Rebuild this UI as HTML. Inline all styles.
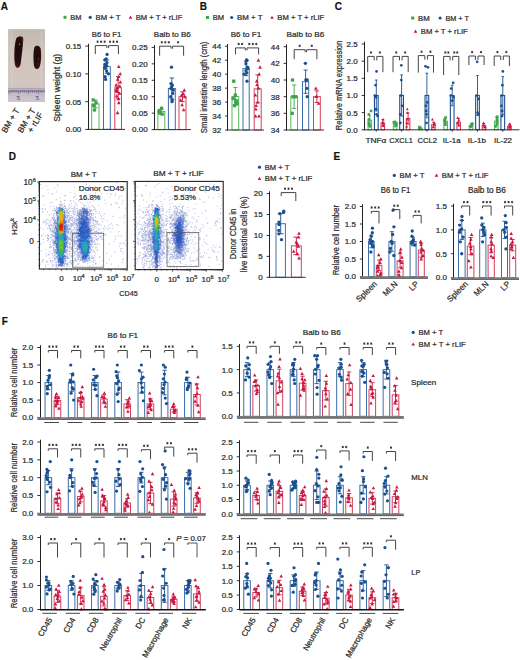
<!DOCTYPE html>
<html><head><meta charset="utf-8"><style>
html,body{margin:0;padding:0;background:#fff;}
body{width:520px;height:660px;overflow:hidden;font-family:"Liberation Sans", sans-serif;}
svg{display:block;}
</style></head><body>
<svg width="520" height="660" viewBox="0 0 520 660" font-family='"Liberation Sans", sans-serif'>
<style>text{stroke:#2a2a2a;stroke-width:0.22px;stroke-linejoin:round}</style>
<rect width="520" height="660" fill="#fff"/>
<text x="0.8" y="10.2" font-size="10" text-anchor="start" fill="#111" font-weight="bold">A</text>
<text x="199.8" y="9.8" font-size="10" text-anchor="start" fill="#111" font-weight="bold">B</text>
<text x="334.8" y="10.4" font-size="10" text-anchor="start" fill="#111" font-weight="bold">C</text>
<text x="8.8" y="160.4" font-size="10" text-anchor="start" fill="#111" font-weight="bold">D</text>
<text x="333.4" y="159.8" font-size="10" text-anchor="start" fill="#111" font-weight="bold">E</text>
<text x="1.8" y="325.2" font-size="10" text-anchor="start" fill="#111" font-weight="bold">F</text>
<rect x="63.5" y="15.8" width="3" height="3" fill="#3fa34d"/>
<text x="70.3" y="19.9" font-size="7.6" text-anchor="start" fill="#2a2a2a" textLength="11.2" lengthAdjust="spacingAndGlyphs">BM</text>
<circle cx="90.2" cy="17.3" r="1.6" fill="#1c4f8f"/>
<text x="95.5" y="19.9" font-size="7.6" text-anchor="start" fill="#2a2a2a" textLength="25" lengthAdjust="spacingAndGlyphs">BM + T</text>
<path d="M130.5 15.48L132.26 18.67L128.74 18.67Z" fill="#c8163e"/>
<text x="135.8" y="19.9" font-size="7.6" text-anchor="start" fill="#2a2a2a" textLength="46.5" lengthAdjust="spacingAndGlyphs">BM + T + rLIF</text>
<rect x="206" y="16" width="3" height="3" fill="#3fa34d"/>
<text x="212.8" y="20.1" font-size="7.6" text-anchor="start" fill="#2a2a2a" textLength="11.4" lengthAdjust="spacingAndGlyphs">BM</text>
<circle cx="231.7" cy="17.5" r="1.6" fill="#1c4f8f"/>
<text x="237" y="20.1" font-size="7.6" text-anchor="start" fill="#2a2a2a" textLength="25.5" lengthAdjust="spacingAndGlyphs">BM + T</text>
<path d="M272 15.68L273.76 18.87L270.24 18.87Z" fill="#c8163e"/>
<text x="277.3" y="20.1" font-size="7.6" text-anchor="start" fill="#2a2a2a" textLength="47" lengthAdjust="spacingAndGlyphs">BM + T + rLIF</text>
<rect x="411.2" y="16.5" width="3" height="3" fill="#3fa34d"/>
<text x="418" y="20.6" font-size="7.6" text-anchor="start" fill="#2a2a2a" textLength="11.7" lengthAdjust="spacingAndGlyphs">BM</text>
<circle cx="440.1" cy="18" r="1.6" fill="#1c4f8f"/>
<text x="445.4" y="20.6" font-size="7.6" text-anchor="start" fill="#2a2a2a" textLength="23.5" lengthAdjust="spacingAndGlyphs">BM + T</text>
<path d="M415.5 29.58L417.26 32.77L413.74 32.77Z" fill="#c8163e"/>
<text x="420.8" y="34" font-size="7.6" text-anchor="start" fill="#2a2a2a" textLength="46.9" lengthAdjust="spacingAndGlyphs">BM + T + rLIF</text>
<text x="106.6" y="36.6" font-size="8" text-anchor="middle" fill="#2a2a2a" textLength="29.6" lengthAdjust="spacingAndGlyphs">B6 to F1</text>
<text x="172.3" y="36.6" font-size="8" text-anchor="middle" fill="#2a2a2a" textLength="37" lengthAdjust="spacingAndGlyphs">Balb to B6</text>
<text x="245.9" y="36.6" font-size="8" text-anchor="middle" fill="#2a2a2a" textLength="30.5" lengthAdjust="spacingAndGlyphs">B6 to F1</text>
<text x="305.5" y="36.6" font-size="8" text-anchor="middle" fill="#2a2a2a" textLength="37.8" lengthAdjust="spacingAndGlyphs">Balb to B6</text>
<defs>
<linearGradient id="ph" x1="0" y1="0" x2="0" y2="1">
<stop offset="0" stop-color="#c2b8ae"/><stop offset="0.3" stop-color="#cdc3ba"/><stop offset="0.7" stop-color="#d3c6c0"/><stop offset="1" stop-color="#cdbab8"/>
</linearGradient>
<linearGradient id="phh" x1="0" y1="0" x2="1" y2="0">
<stop offset="0" stop-color="#b9ada8" stop-opacity="0.5"/><stop offset="0.15" stop-color="#fff" stop-opacity="0"/><stop offset="0.85" stop-color="#fff" stop-opacity="0"/><stop offset="1" stop-color="#b0a5a0" stop-opacity="0.45"/>
</linearGradient>
<radialGradient id="sp1" cx="0.45" cy="0.45" r="0.6">
<stop offset="0" stop-color="#1c0606"/><stop offset="0.7" stop-color="#280a0b"/><stop offset="1" stop-color="#4e1a1c"/>
</radialGradient>
<filter id="bl" x="-20%" y="-20%" width="140%" height="140%"><feGaussianBlur stdDeviation="0.6"/></filter>
<filter id="bl2" x="-20%" y="-20%" width="140%" height="140%"><feGaussianBlur stdDeviation="0.35"/></filter>
</defs>
<rect x="8.3" y="29.1" width="36.5" height="72.6" fill="url(#ph)" stroke="none" stroke-width="1"/>
<rect x="8.3" y="29.1" width="36.5" height="72.6" fill="url(#phh)" stroke="none" stroke-width="1"/>
<g filter="url(#bl2)">
<path d="M16.2 38.5 C18.5 35.5 23.5 35.2 23.3 39 C23.0 46 21.6 56 20.8 63 C20.2 68.5 16.5 69.5 15.0 65 C13.8 58 14.2 45 16.2 38.5 Z" fill="url(#sp1)"/>
<path d="M34.5 47.0 C36.5 44.6 40.5 45.5 40.9 49.5 C41.4 55 41.3 62 39.8 66.5 C38.6 70 34.6 70 34.0 66 C33.2 60 33.2 51 34.5 47.0 Z" fill="url(#sp1)"/>
</g>
<circle cx="19.6" cy="44.2" r="0.6" fill="#e8d8d0" opacity="0.8"/>
<circle cx="38.5" cy="59" r="0.5" fill="#c8a8a0" opacity="0.7"/>
<circle cx="38" cy="64" r="0.5" fill="#a08080" opacity="0.6"/>
<rect x="8.3" y="88.2" width="36.5" height="13.4" fill="#c4bcc8" stroke="none" stroke-width="1"/>
<rect x="8.3" y="88.2" width="36.5" height="1.2" fill="#a9a0b8" stroke="none" stroke-width="1"/>
<g stroke="#4a4560" stroke-width="0.55">
<line x1="9" y1="90.5" x2="9" y2="94.1" stroke="#4a4560" stroke-width="0.55"/>
<line x1="10.95" y1="90.5" x2="10.95" y2="92.7" stroke="#4a4560" stroke-width="0.55"/>
<line x1="12.9" y1="90.5" x2="12.9" y2="92.7" stroke="#4a4560" stroke-width="0.55"/>
<line x1="14.85" y1="90.5" x2="14.85" y2="92.7" stroke="#4a4560" stroke-width="0.55"/>
<line x1="16.8" y1="90.5" x2="16.8" y2="92.7" stroke="#4a4560" stroke-width="0.55"/>
<line x1="18.75" y1="90.5" x2="18.75" y2="94.1" stroke="#4a4560" stroke-width="0.55"/>
<line x1="20.7" y1="90.5" x2="20.7" y2="92.7" stroke="#4a4560" stroke-width="0.55"/>
<line x1="22.65" y1="90.5" x2="22.65" y2="92.7" stroke="#4a4560" stroke-width="0.55"/>
<line x1="24.6" y1="90.5" x2="24.6" y2="92.7" stroke="#4a4560" stroke-width="0.55"/>
<line x1="26.55" y1="90.5" x2="26.55" y2="92.7" stroke="#4a4560" stroke-width="0.55"/>
<line x1="28.5" y1="90.5" x2="28.5" y2="94.1" stroke="#4a4560" stroke-width="0.55"/>
<line x1="30.45" y1="90.5" x2="30.45" y2="92.7" stroke="#4a4560" stroke-width="0.55"/>
<line x1="32.4" y1="90.5" x2="32.4" y2="92.7" stroke="#4a4560" stroke-width="0.55"/>
<line x1="34.35" y1="90.5" x2="34.35" y2="92.7" stroke="#4a4560" stroke-width="0.55"/>
<line x1="36.3" y1="90.5" x2="36.3" y2="92.7" stroke="#4a4560" stroke-width="0.55"/>
<line x1="38.25" y1="90.5" x2="38.25" y2="94.1" stroke="#4a4560" stroke-width="0.55"/>
<line x1="40.2" y1="90.5" x2="40.2" y2="92.7" stroke="#4a4560" stroke-width="0.55"/>
<line x1="42.15" y1="90.5" x2="42.15" y2="92.7" stroke="#4a4560" stroke-width="0.55"/>
<line x1="44.1" y1="90.5" x2="44.1" y2="92.7" stroke="#4a4560" stroke-width="0.55"/>
</g>
<rect x="8.3" y="90.4" width="36.5" height="1.3" fill="#504a68" stroke="none" stroke-width="1" opacity="0.55"/>
<text x="18.4" y="100" font-size="5.6" text-anchor="middle" fill="#2a2540" style="stroke:#2a2540">5</text>
<text x="37.2" y="100" font-size="5.6" text-anchor="middle" fill="#2a2540" style="stroke:#2a2540">5</text>
<rect x="8.3" y="96.5" width="36.5" height="5.2" fill="#d6cdd0" stroke="none" stroke-width="1" opacity="0.45"/>
<text x="19.8" y="110.4" font-size="8.3" text-anchor="end" fill="#2a2a2a" transform="rotate(-59 19.8 110.4)">BM + T</text>
<text x="35.8" y="110.4" font-size="8.3" text-anchor="end" fill="#2a2a2a" transform="rotate(-59 35.8 110.4)">BM + T</text>
<text x="43.4" y="114.4" font-size="8.3" text-anchor="end" fill="#2a2a2a" transform="rotate(-59 43.4 114.4)">+ rLIF</text>
<text x="59.7" y="87.8" font-size="8.2" text-anchor="middle" fill="#2a2a2a" transform="rotate(-90 59.7 87.8)" textLength="68" lengthAdjust="spacingAndGlyphs">Spleen weight (g)</text>
<rect x="91.7" y="103.85" width="7.3" height="25.55" fill="#fff" stroke="#5cb85c" stroke-width="1"/>
<line x1="95.35" y1="99.97" x2="95.35" y2="107.74" stroke="#3fa34d" stroke-width="0.9"/>
<line x1="93.03" y1="99.97" x2="97.67" y2="99.97" stroke="#3fa34d" stroke-width="0.9"/>
<line x1="93.03" y1="107.74" x2="97.67" y2="107.74" stroke="#3fa34d" stroke-width="0.9"/>
<rect x="92.82" y="108.31" width="3.3" height="3.3" fill="#3fa34d"/>
<rect x="91.96" y="103.87" width="3.3" height="3.3" fill="#3fa34d"/>
<rect x="94.45" y="101.09" width="3.3" height="3.3" fill="#3fa34d"/>
<rect x="91.57" y="98.32" width="3.3" height="3.3" fill="#3fa34d"/>
<rect x="103.5" y="66.65" width="6.8" height="62.75" fill="#fff" stroke="#3b6ea8" stroke-width="1"/>
<line x1="106.9" y1="59.98" x2="106.9" y2="73.31" stroke="#1c4f8f" stroke-width="0.9"/>
<line x1="104.72" y1="59.98" x2="109.08" y2="59.98" stroke="#1c4f8f" stroke-width="0.9"/>
<line x1="104.72" y1="73.31" x2="109.08" y2="73.31" stroke="#1c4f8f" stroke-width="0.9"/>
<circle cx="107.07" cy="54.43" r="1.65" fill="#1c4f8f"/>
<circle cx="106.27" cy="58.87" r="1.65" fill="#1c4f8f"/>
<circle cx="104.83" cy="59.98" r="1.65" fill="#1c4f8f"/>
<circle cx="106.93" cy="62.76" r="1.65" fill="#1c4f8f"/>
<circle cx="104.74" cy="64.43" r="1.65" fill="#1c4f8f"/>
<circle cx="106.59" cy="65.54" r="1.65" fill="#1c4f8f"/>
<circle cx="104.89" cy="67.2" r="1.65" fill="#1c4f8f"/>
<circle cx="104.98" cy="68.31" r="1.65" fill="#1c4f8f"/>
<circle cx="106.55" cy="71.09" r="1.65" fill="#1c4f8f"/>
<circle cx="108.43" cy="73.87" r="1.65" fill="#1c4f8f"/>
<circle cx="105.14" cy="76.64" r="1.65" fill="#1c4f8f"/>
<circle cx="105.6" cy="79.42" r="1.65" fill="#1c4f8f"/>
<rect x="114.8" y="87.75" width="6.7" height="41.65" fill="#fff" stroke="#d2405e" stroke-width="1"/>
<line x1="118.15" y1="76.64" x2="118.15" y2="98.86" stroke="#c8163e" stroke-width="0.9"/>
<line x1="115.99" y1="76.64" x2="120.31" y2="76.64" stroke="#c8163e" stroke-width="0.9"/>
<line x1="115.99" y1="98.86" x2="120.31" y2="98.86" stroke="#c8163e" stroke-width="0.9"/>
<path d="M118.74 64.77L120.55 68.06L116.92 68.06Z" fill="#c8163e"/>
<path d="M120.22 71.99L122.03 75.28L118.4 75.28Z" fill="#c8163e"/>
<path d="M118.51 74.76L120.32 78.05L116.69 78.05Z" fill="#c8163e"/>
<path d="M117.67 77.54L119.49 80.83L115.86 80.83Z" fill="#c8163e"/>
<path d="M120.35 80.32L122.17 83.61L118.54 83.61Z" fill="#c8163e"/>
<path d="M116.06 83.09L117.87 86.38L114.24 86.38Z" fill="#c8163e"/>
<path d="M119.81 84.2L121.62 87.49L117.99 87.49Z" fill="#c8163e"/>
<path d="M117.18 85.87L118.99 89.16L115.36 89.16Z" fill="#c8163e"/>
<path d="M116.51 87.53L118.32 90.83L114.69 90.83Z" fill="#c8163e"/>
<path d="M116.38 88.65L118.2 91.94L114.57 91.94Z" fill="#c8163e"/>
<path d="M117.27 89.76L119.08 93.05L115.45 93.05Z" fill="#c8163e"/>
<path d="M119.61 91.42L121.43 94.71L117.8 94.71Z" fill="#c8163e"/>
<path d="M116.67 94.2L118.49 97.49L114.86 97.49Z" fill="#c8163e"/>
<path d="M118.53 96.98L120.34 100.27L116.71 100.27Z" fill="#c8163e"/>
<path d="M118.79 100.86L120.61 104.15L116.98 104.15Z" fill="#c8163e"/>
<path d="M117.56 110.86L119.38 114.15L115.75 114.15Z" fill="#c8163e"/>
<line x1="88.5" y1="43.8" x2="88.5" y2="129.9" stroke="#222" stroke-width="1"/>
<line x1="85.3" y1="129.4" x2="88" y2="129.4" stroke="#333" stroke-width="1"/>
<text x="81.3" y="132.28" font-size="8" text-anchor="end" fill="#2a2a2a">0.00</text>
<line x1="85.3" y1="101.63" x2="88" y2="101.63" stroke="#333" stroke-width="1"/>
<text x="81.3" y="104.51" font-size="8" text-anchor="end" fill="#2a2a2a">0.05</text>
<line x1="85.3" y1="73.87" x2="88" y2="73.87" stroke="#333" stroke-width="1"/>
<text x="81.3" y="76.75" font-size="8" text-anchor="end" fill="#2a2a2a">0.10</text>
<line x1="85.3" y1="46.1" x2="88" y2="46.1" stroke="#333" stroke-width="1"/>
<text x="81.3" y="48.98" font-size="8" text-anchor="end" fill="#2a2a2a">0.15</text>
<line x1="87.5" y1="129.4" x2="125" y2="129.4" stroke="#333" stroke-width="1"/>
<path d="M95.3 54.1V45.6H106.9V48.1" fill="none" stroke="#444" stroke-width="1"/>
<path d="M97.6 40.55L97.6 42.85M96.6 41.12L98.6 42.28M98.6 41.12L96.6 42.28M101.1 40.55L101.1 42.85M100.1 41.12L102.1 42.28M102.1 41.12L100.1 42.28M104.6 40.55L104.6 42.85M103.6 41.12L105.6 42.28M105.6 41.12L103.6 42.28" stroke="#222" stroke-width="0.8" fill="none"/>
<path d="M108.6 48.1V45.6H118.4V54.1" fill="none" stroke="#444" stroke-width="1"/>
<path d="M110 40.55L110 42.85M109 41.12L111 42.28M111 41.12L109 42.28M113.5 40.55L113.5 42.85M112.5 41.12L114.5 42.28M114.5 41.12L112.5 42.28M117 40.55L117 42.85M116 41.12L118 42.28M118 41.12L116 42.28" stroke="#222" stroke-width="0.8" fill="none"/>
<rect x="157.9" y="111.52" width="6.9" height="18.08" fill="#fff" stroke="#5cb85c" stroke-width="1"/>
<line x1="161.35" y1="109.54" x2="161.35" y2="113.49" stroke="#3fa34d" stroke-width="0.9"/>
<line x1="159.14" y1="109.54" x2="163.56" y2="109.54" stroke="#3fa34d" stroke-width="0.9"/>
<line x1="159.14" y1="113.49" x2="163.56" y2="113.49" stroke="#3fa34d" stroke-width="0.9"/>
<rect x="159.93" y="106.58" width="3.3" height="3.3" fill="#3fa34d"/>
<rect x="157.63" y="108.88" width="3.3" height="3.3" fill="#3fa34d"/>
<rect x="157.61" y="110.52" width="3.3" height="3.3" fill="#3fa34d"/>
<rect x="158.31" y="111.51" width="3.3" height="3.3" fill="#3fa34d"/>
<rect x="160.56" y="112.5" width="3.3" height="3.3" fill="#3fa34d"/>
<rect x="168.4" y="88.5" width="6.9" height="41.1" fill="#fff" stroke="#3b6ea8" stroke-width="1"/>
<line x1="171.85" y1="77.98" x2="171.85" y2="99.02" stroke="#1c4f8f" stroke-width="0.9"/>
<line x1="169.64" y1="77.98" x2="174.06" y2="77.98" stroke="#1c4f8f" stroke-width="0.9"/>
<line x1="169.64" y1="99.02" x2="174.06" y2="99.02" stroke="#1c4f8f" stroke-width="0.9"/>
<circle cx="171.51" cy="67.13" r="1.65" fill="#1c4f8f"/>
<circle cx="170.97" cy="83.57" r="1.65" fill="#1c4f8f"/>
<circle cx="172.26" cy="85.21" r="1.65" fill="#1c4f8f"/>
<circle cx="171.63" cy="86.86" r="1.65" fill="#1c4f8f"/>
<circle cx="170.9" cy="88.5" r="1.65" fill="#1c4f8f"/>
<circle cx="173.25" cy="90.14" r="1.65" fill="#1c4f8f"/>
<circle cx="172.79" cy="93.43" r="1.65" fill="#1c4f8f"/>
<circle cx="170.64" cy="96.72" r="1.65" fill="#1c4f8f"/>
<circle cx="172.2" cy="100.01" r="1.65" fill="#1c4f8f"/>
<circle cx="171.97" cy="101.65" r="1.65" fill="#1c4f8f"/>
<rect x="179" y="96.72" width="7" height="32.88" fill="#fff" stroke="#d2405e" stroke-width="1"/>
<line x1="182.5" y1="91.79" x2="182.5" y2="101.65" stroke="#c8163e" stroke-width="0.9"/>
<line x1="180.26" y1="91.79" x2="184.74" y2="91.79" stroke="#c8163e" stroke-width="0.9"/>
<line x1="180.26" y1="101.65" x2="184.74" y2="101.65" stroke="#c8163e" stroke-width="0.9"/>
<path d="M184.3 88.26L186.12 91.55L182.49 91.55Z" fill="#c8163e"/>
<path d="M183.6 92.21L185.42 95.5L181.79 95.5Z" fill="#c8163e"/>
<path d="M181.48 93.52L183.3 96.82L179.67 96.82Z" fill="#c8163e"/>
<path d="M184.8 94.84L186.62 98.13L182.99 98.13Z" fill="#c8163e"/>
<path d="M180.67 98.13L182.48 101.42L178.85 101.42Z" fill="#c8163e"/>
<path d="M182.11 103.06L183.92 106.35L180.29 106.35Z" fill="#c8163e"/>
<path d="M183.73 107.99L185.55 111.28L181.92 111.28Z" fill="#c8163e"/>
<line x1="154.5" y1="45.1" x2="154.5" y2="130.1" stroke="#222" stroke-width="1"/>
<line x1="151.7" y1="129.6" x2="154.4" y2="129.6" stroke="#333" stroke-width="1"/>
<text x="147.7" y="132.48" font-size="8" text-anchor="end" fill="#2a2a2a">0.00</text>
<line x1="151.7" y1="113.16" x2="154.4" y2="113.16" stroke="#333" stroke-width="1"/>
<text x="147.7" y="116.04" font-size="8" text-anchor="end" fill="#2a2a2a">0.05</text>
<line x1="151.7" y1="96.72" x2="154.4" y2="96.72" stroke="#333" stroke-width="1"/>
<text x="147.7" y="99.6" font-size="8" text-anchor="end" fill="#2a2a2a">0.10</text>
<line x1="151.7" y1="80.28" x2="154.4" y2="80.28" stroke="#333" stroke-width="1"/>
<text x="147.7" y="83.16" font-size="8" text-anchor="end" fill="#2a2a2a">0.15</text>
<line x1="151.7" y1="63.84" x2="154.4" y2="63.84" stroke="#333" stroke-width="1"/>
<text x="147.7" y="66.72" font-size="8" text-anchor="end" fill="#2a2a2a">0.20</text>
<line x1="151.7" y1="47.4" x2="154.4" y2="47.4" stroke="#333" stroke-width="1"/>
<text x="147.7" y="50.28" font-size="8" text-anchor="end" fill="#2a2a2a">0.25</text>
<line x1="153.9" y1="129.6" x2="191" y2="129.6" stroke="#333" stroke-width="1"/>
<path d="M159.6 55.7V46.2H171V48.7" fill="none" stroke="#444" stroke-width="1"/>
<path d="M161.8 41.15L161.8 43.45M160.8 41.73L162.8 42.88M162.8 41.73L160.8 42.88M165.3 41.15L165.3 43.45M164.3 41.73L166.3 42.88M166.3 41.73L164.3 42.88M168.8 41.15L168.8 43.45M167.8 41.73L169.8 42.88M169.8 41.73L167.8 42.88" stroke="#222" stroke-width="0.8" fill="none"/>
<path d="M172.6 48.7V46.2H183.6V55.7" fill="none" stroke="#444" stroke-width="1"/>
<path d="M178.1 41.15L178.1 43.45M177.1 41.73L179.1 42.88M179.1 41.73L177.1 42.88" stroke="#222" stroke-width="0.8" fill="none"/>
<text x="207" y="87.5" font-size="8.2" text-anchor="middle" fill="#2a2a2a" transform="rotate(-90 207 87.5)" textLength="91.5" lengthAdjust="spacingAndGlyphs">Small intestine length (cm)</text>
<rect x="232" y="96.52" width="6.7" height="33.48" fill="#fff" stroke="#5cb85c" stroke-width="1"/>
<line x1="235.35" y1="87.45" x2="235.35" y2="105.59" stroke="#3fa34d" stroke-width="0.9"/>
<line x1="233.19" y1="87.45" x2="237.51" y2="87.45" stroke="#3fa34d" stroke-width="0.9"/>
<line x1="233.19" y1="105.59" x2="237.51" y2="105.59" stroke="#3fa34d" stroke-width="0.9"/>
<rect x="232.09" y="79.52" width="3.3" height="3.3" fill="#3fa34d"/>
<rect x="233.65" y="93.47" width="3.3" height="3.3" fill="#3fa34d"/>
<rect x="231.57" y="96.96" width="3.3" height="3.3" fill="#3fa34d"/>
<rect x="234.48" y="99.05" width="3.3" height="3.3" fill="#3fa34d"/>
<rect x="234.92" y="100.45" width="3.3" height="3.3" fill="#3fa34d"/>
<rect x="234.04" y="100.45" width="3.3" height="3.3" fill="#3fa34d"/>
<rect x="235.43" y="101.85" width="3.3" height="3.3" fill="#3fa34d"/>
<rect x="232.84" y="103.94" width="3.3" height="3.3" fill="#3fa34d"/>
<rect x="243" y="68.62" width="6.2" height="61.38" fill="#fff" stroke="#3b6ea8" stroke-width="1"/>
<line x1="246.1" y1="61.65" x2="246.1" y2="75.6" stroke="#1c4f8f" stroke-width="0.9"/>
<line x1="244.08" y1="61.65" x2="248.12" y2="61.65" stroke="#1c4f8f" stroke-width="0.9"/>
<line x1="244.08" y1="75.6" x2="248.12" y2="75.6" stroke="#1c4f8f" stroke-width="0.9"/>
<circle cx="246.94" cy="60.25" r="1.65" fill="#1c4f8f"/>
<circle cx="246.51" cy="60.25" r="1.65" fill="#1c4f8f"/>
<circle cx="246.45" cy="60.25" r="1.65" fill="#1c4f8f"/>
<circle cx="245.91" cy="63.74" r="1.65" fill="#1c4f8f"/>
<circle cx="247.57" cy="67.22" r="1.65" fill="#1c4f8f"/>
<circle cx="248.02" cy="68.62" r="1.65" fill="#1c4f8f"/>
<circle cx="245.99" cy="70.71" r="1.65" fill="#1c4f8f"/>
<circle cx="246.81" cy="72.8" r="1.65" fill="#1c4f8f"/>
<circle cx="244.2" cy="74.2" r="1.65" fill="#1c4f8f"/>
<circle cx="246.97" cy="81.17" r="1.65" fill="#1c4f8f"/>
<rect x="254.2" y="88.85" width="7" height="41.15" fill="#fff" stroke="#d2405e" stroke-width="1"/>
<line x1="257.7" y1="74.9" x2="257.7" y2="102.8" stroke="#c8163e" stroke-width="0.9"/>
<line x1="255.46" y1="74.9" x2="259.94" y2="74.9" stroke="#c8163e" stroke-width="0.9"/>
<line x1="255.46" y1="102.8" x2="259.94" y2="102.8" stroke="#c8163e" stroke-width="0.9"/>
<path d="M258.41 58.37L260.22 61.66L256.59 61.66Z" fill="#c8163e"/>
<path d="M260.07 65.34L261.88 68.64L258.25 68.64Z" fill="#c8163e"/>
<path d="M259.25 72.32L261.06 75.61L257.43 75.61Z" fill="#c8163e"/>
<path d="M256.67 79.29L258.48 82.59L254.85 82.59Z" fill="#c8163e"/>
<path d="M257.15 82.78L258.97 86.07L255.34 86.07Z" fill="#c8163e"/>
<path d="M258.51 86.27L260.32 89.56L256.69 89.56Z" fill="#c8163e"/>
<path d="M255.41 93.24L257.22 96.54L253.59 96.54Z" fill="#c8163e"/>
<path d="M257.52 100.22L259.33 103.51L255.7 103.51Z" fill="#c8163e"/>
<path d="M256.11 103.71L257.92 107L254.29 107Z" fill="#c8163e"/>
<path d="M255.86 107.19L257.68 110.49L254.05 110.49Z" fill="#c8163e"/>
<path d="M255.58 114.17L257.4 117.46L253.77 117.46Z" fill="#c8163e"/>
<path d="M258.99 114.17L260.8 117.46L257.17 117.46Z" fill="#c8163e"/>
<line x1="227.5" y1="44" x2="227.5" y2="130.5" stroke="#222" stroke-width="1"/>
<line x1="225.1" y1="130" x2="227.8" y2="130" stroke="#333" stroke-width="1"/>
<text x="221.1" y="132.88" font-size="8" text-anchor="end" fill="#2a2a2a">32</text>
<line x1="225.1" y1="116.05" x2="227.8" y2="116.05" stroke="#333" stroke-width="1"/>
<text x="221.1" y="118.93" font-size="8" text-anchor="end" fill="#2a2a2a">34</text>
<line x1="225.1" y1="102.1" x2="227.8" y2="102.1" stroke="#333" stroke-width="1"/>
<text x="221.1" y="104.98" font-size="8" text-anchor="end" fill="#2a2a2a">36</text>
<line x1="225.1" y1="88.15" x2="227.8" y2="88.15" stroke="#333" stroke-width="1"/>
<text x="221.1" y="91.03" font-size="8" text-anchor="end" fill="#2a2a2a">38</text>
<line x1="225.1" y1="74.2" x2="227.8" y2="74.2" stroke="#333" stroke-width="1"/>
<text x="221.1" y="77.08" font-size="8" text-anchor="end" fill="#2a2a2a">40</text>
<line x1="225.1" y1="60.25" x2="227.8" y2="60.25" stroke="#333" stroke-width="1"/>
<text x="221.1" y="63.13" font-size="8" text-anchor="end" fill="#2a2a2a">42</text>
<line x1="225.1" y1="46.3" x2="227.8" y2="46.3" stroke="#333" stroke-width="1"/>
<text x="221.1" y="49.18" font-size="8" text-anchor="end" fill="#2a2a2a">44</text>
<line x1="227.3" y1="130" x2="264" y2="130" stroke="#333" stroke-width="1"/>
<path d="M235.5 54.4V47.9H245.3V50.4" fill="none" stroke="#444" stroke-width="1"/>
<path d="M238.65 42.85L238.65 45.15M237.65 43.42L239.65 44.58M239.65 43.42L237.65 44.58M242.15 42.85L242.15 45.15M241.15 43.42L243.15 44.58M243.15 43.42L241.15 44.58" stroke="#222" stroke-width="0.8" fill="none"/>
<path d="M247 50.4V47.9H258.6V54.4" fill="none" stroke="#444" stroke-width="1"/>
<path d="M249.3 42.85L249.3 45.15M248.3 43.42L250.3 44.58M250.3 43.42L248.3 44.58M252.8 42.85L252.8 45.15M251.8 43.42L253.8 44.58M253.8 43.42L251.8 44.58M256.3 42.85L256.3 45.15M255.3 43.42L257.3 44.58M257.3 43.42L255.3 44.58" stroke="#222" stroke-width="0.8" fill="none"/>
<rect x="290.8" y="96.68" width="6.7" height="33.32" fill="#fff" stroke="#5cb85c" stroke-width="1"/>
<line x1="294.15" y1="85.02" x2="294.15" y2="108.34" stroke="#3fa34d" stroke-width="0.9"/>
<line x1="291.99" y1="85.02" x2="296.31" y2="85.02" stroke="#3fa34d" stroke-width="0.9"/>
<line x1="291.99" y1="108.34" x2="296.31" y2="108.34" stroke="#3fa34d" stroke-width="0.9"/>
<rect x="290.79" y="78.37" width="3.3" height="3.3" fill="#3fa34d"/>
<rect x="291.33" y="95.03" width="3.3" height="3.3" fill="#3fa34d"/>
<rect x="292" y="95.03" width="3.3" height="3.3" fill="#3fa34d"/>
<rect x="294.22" y="95.03" width="3.3" height="3.3" fill="#3fa34d"/>
<rect x="290.56" y="111.69" width="3.3" height="3.3" fill="#3fa34d"/>
<rect x="302.5" y="81.69" width="6.2" height="48.31" fill="#fff" stroke="#3b6ea8" stroke-width="1"/>
<line x1="305.6" y1="70.02" x2="305.6" y2="93.35" stroke="#1c4f8f" stroke-width="0.9"/>
<line x1="303.58" y1="70.02" x2="307.62" y2="70.02" stroke="#1c4f8f" stroke-width="0.9"/>
<line x1="303.58" y1="93.35" x2="307.62" y2="93.35" stroke="#1c4f8f" stroke-width="0.9"/>
<circle cx="305.38" cy="63.36" r="1.65" fill="#1c4f8f"/>
<circle cx="305.81" cy="80.02" r="1.65" fill="#1c4f8f"/>
<circle cx="307.26" cy="80.02" r="1.65" fill="#1c4f8f"/>
<circle cx="306.98" cy="88.35" r="1.65" fill="#1c4f8f"/>
<circle cx="307.17" cy="96.68" r="1.65" fill="#1c4f8f"/>
<rect x="313.5" y="96.68" width="6.8" height="33.32" fill="#fff" stroke="#d2405e" stroke-width="1"/>
<line x1="316.9" y1="90.85" x2="316.9" y2="102.51" stroke="#c8163e" stroke-width="0.9"/>
<line x1="314.72" y1="90.85" x2="319.08" y2="90.85" stroke="#c8163e" stroke-width="0.9"/>
<line x1="314.72" y1="102.51" x2="319.08" y2="102.51" stroke="#c8163e" stroke-width="0.9"/>
<path d="M315.86 86.47L317.68 89.76L314.05 89.76Z" fill="#c8163e"/>
<path d="M316.5 94.8L318.32 98.09L314.69 98.09Z" fill="#c8163e"/>
<path d="M316.24 94.8L318.05 98.09L314.42 98.09Z" fill="#c8163e"/>
<path d="M318.7 101.46L320.51 104.75L316.88 104.75Z" fill="#c8163e"/>
<line x1="286.5" y1="44.4" x2="286.5" y2="130.5" stroke="#222" stroke-width="1"/>
<line x1="283.6" y1="130" x2="286.3" y2="130" stroke="#333" stroke-width="1"/>
<text x="279.6" y="132.88" font-size="8" text-anchor="end" fill="#2a2a2a">34</text>
<line x1="283.6" y1="113.34" x2="286.3" y2="113.34" stroke="#333" stroke-width="1"/>
<text x="279.6" y="116.22" font-size="8" text-anchor="end" fill="#2a2a2a">36</text>
<line x1="283.6" y1="96.68" x2="286.3" y2="96.68" stroke="#333" stroke-width="1"/>
<text x="279.6" y="99.56" font-size="8" text-anchor="end" fill="#2a2a2a">38</text>
<line x1="283.6" y1="80.02" x2="286.3" y2="80.02" stroke="#333" stroke-width="1"/>
<text x="279.6" y="82.9" font-size="8" text-anchor="end" fill="#2a2a2a">40</text>
<line x1="283.6" y1="63.36" x2="286.3" y2="63.36" stroke="#333" stroke-width="1"/>
<text x="279.6" y="66.24" font-size="8" text-anchor="end" fill="#2a2a2a">42</text>
<line x1="283.6" y1="46.7" x2="286.3" y2="46.7" stroke="#333" stroke-width="1"/>
<text x="279.6" y="49.58" font-size="8" text-anchor="end" fill="#2a2a2a">44</text>
<line x1="285.8" y1="130" x2="324" y2="130" stroke="#333" stroke-width="1"/>
<path d="M294.2 59.2V49.7H305.1V52.2" fill="none" stroke="#444" stroke-width="1"/>
<path d="M299.65 44.65L299.65 46.95M298.65 45.23L300.65 46.38M300.65 45.23L298.65 46.38" stroke="#222" stroke-width="0.8" fill="none"/>
<path d="M306.6 52.2V49.7H316.9V59.2" fill="none" stroke="#444" stroke-width="1"/>
<path d="M311.75 44.65L311.75 46.95M310.75 45.23L312.75 46.38M312.75 45.23L310.75 46.38" stroke="#222" stroke-width="0.8" fill="none"/>
<text x="341.6" y="85.5" font-size="8.2" text-anchor="middle" fill="#2a2a2a" transform="rotate(-90 341.6 85.5)" textLength="89.4" lengthAdjust="spacingAndGlyphs">Relative mRNA expression</text>
<rect x="368.05" y="120.19" width="3.5" height="9.61" fill="#fff" stroke="#5cb85c" stroke-width="1.1"/>
<line x1="369.8" y1="115.39" x2="369.8" y2="125" stroke="#3fa34d" stroke-width="0.9"/>
<line x1="368.51" y1="115.39" x2="371.09" y2="115.39" stroke="#3fa34d" stroke-width="0.9"/>
<line x1="368.51" y1="125" x2="371.09" y2="125" stroke="#3fa34d" stroke-width="0.9"/>
<rect x="369.76" y="109.62" width="2.6" height="2.6" fill="#3fa34d"/>
<rect x="367.54" y="113.06" width="2.6" height="2.6" fill="#3fa34d"/>
<rect x="367.61" y="118.2" width="2.6" height="2.6" fill="#3fa34d"/>
<rect x="367.76" y="121.64" width="2.6" height="2.6" fill="#3fa34d"/>
<rect x="367.76" y="123.35" width="2.6" height="2.6" fill="#3fa34d"/>
<rect x="368.46" y="125.07" width="2.6" height="2.6" fill="#3fa34d"/>
<rect x="374.45" y="95.48" width="3.7" height="34.32" fill="#fff" stroke="#1c4f8f" stroke-width="1.1"/>
<line x1="376.3" y1="80.04" x2="376.3" y2="110.92" stroke="#1c4f8f" stroke-width="0.9"/>
<line x1="374.96" y1="80.04" x2="377.64" y2="80.04" stroke="#1c4f8f" stroke-width="0.9"/>
<line x1="374.96" y1="110.92" x2="377.64" y2="110.92" stroke="#1c4f8f" stroke-width="0.9"/>
<circle cx="376.56" cy="71.46" r="1.35" fill="#1c4f8f"/>
<circle cx="375.62" cy="85.18" r="1.35" fill="#1c4f8f"/>
<circle cx="374.87" cy="95.48" r="1.35" fill="#1c4f8f"/>
<circle cx="376.07" cy="97.2" r="1.35" fill="#1c4f8f"/>
<circle cx="375.92" cy="109.21" r="1.35" fill="#1c4f8f"/>
<circle cx="376.49" cy="114.36" r="1.35" fill="#1c4f8f"/>
<circle cx="377.6" cy="116.07" r="1.35" fill="#1c4f8f"/>
<rect x="381.05" y="122.94" width="3.5" height="6.86" fill="#fff" stroke="#d2405e" stroke-width="1.1"/>
<line x1="382.8" y1="119.5" x2="382.8" y2="126.37" stroke="#c8163e" stroke-width="0.9"/>
<line x1="381.51" y1="119.5" x2="384.09" y2="119.5" stroke="#c8163e" stroke-width="0.9"/>
<line x1="381.51" y1="126.37" x2="384.09" y2="126.37" stroke="#c8163e" stroke-width="0.9"/>
<path d="M383.33 118.02L384.76 120.62L381.9 120.62Z" fill="#c8163e"/>
<path d="M382.84 120.77L384.27 123.36L381.41 123.36Z" fill="#c8163e"/>
<path d="M383.12 122.14L384.55 124.73L381.69 124.73Z" fill="#c8163e"/>
<path d="M383.29 124.2L384.72 126.79L381.86 126.79Z" fill="#c8163e"/>
<rect x="393.35" y="123.97" width="3.5" height="5.83" fill="#fff" stroke="#5cb85c" stroke-width="1.1"/>
<line x1="395.1" y1="121.05" x2="395.1" y2="126.88" stroke="#3fa34d" stroke-width="0.9"/>
<line x1="393.81" y1="121.05" x2="396.39" y2="121.05" stroke="#3fa34d" stroke-width="0.9"/>
<line x1="393.81" y1="126.88" x2="396.39" y2="126.88" stroke="#3fa34d" stroke-width="0.9"/>
<rect x="392.57" y="120.95" width="2.6" height="2.6" fill="#3fa34d"/>
<rect x="394.9" y="121.64" width="2.6" height="2.6" fill="#3fa34d"/>
<rect x="394.57" y="122.67" width="2.6" height="2.6" fill="#3fa34d"/>
<rect x="394.83" y="123.35" width="2.6" height="2.6" fill="#3fa34d"/>
<rect x="394.62" y="124.38" width="2.6" height="2.6" fill="#3fa34d"/>
<rect x="399.75" y="95.48" width="3.7" height="34.32" fill="#fff" stroke="#1c4f8f" stroke-width="1.1"/>
<line x1="401.6" y1="74.89" x2="401.6" y2="116.07" stroke="#1c4f8f" stroke-width="0.9"/>
<line x1="400.26" y1="74.89" x2="402.94" y2="74.89" stroke="#1c4f8f" stroke-width="0.9"/>
<line x1="400.26" y1="116.07" x2="402.94" y2="116.07" stroke="#1c4f8f" stroke-width="0.9"/>
<circle cx="401.29" cy="65.28" r="1.35" fill="#1c4f8f"/>
<circle cx="401.31" cy="80.04" r="1.35" fill="#1c4f8f"/>
<circle cx="400.46" cy="95.48" r="1.35" fill="#1c4f8f"/>
<circle cx="401.99" cy="105.78" r="1.35" fill="#1c4f8f"/>
<circle cx="400.34" cy="114.36" r="1.35" fill="#1c4f8f"/>
<circle cx="400.35" cy="122.94" r="1.35" fill="#1c4f8f"/>
<rect x="406.35" y="118.47" width="3.5" height="11.33" fill="#fff" stroke="#d2405e" stroke-width="1.1"/>
<line x1="408.1" y1="112.81" x2="408.1" y2="124.14" stroke="#c8163e" stroke-width="0.9"/>
<line x1="406.81" y1="112.81" x2="409.39" y2="112.81" stroke="#c8163e" stroke-width="0.9"/>
<line x1="406.81" y1="124.14" x2="409.39" y2="124.14" stroke="#c8163e" stroke-width="0.9"/>
<path d="M407.3 107.73L408.73 110.32L405.87 110.32Z" fill="#c8163e"/>
<path d="M407.17 111.16L408.6 113.75L405.74 113.75Z" fill="#c8163e"/>
<path d="M407.66 118.02L409.09 120.62L406.23 120.62Z" fill="#c8163e"/>
<path d="M406.87 121.45L408.3 124.05L405.44 124.05Z" fill="#c8163e"/>
<path d="M406.72 124.89L408.15 127.48L405.29 127.48Z" fill="#c8163e"/>
<rect x="418.65" y="128.08" width="3.5" height="1.72" fill="#fff" stroke="#5cb85c" stroke-width="1.1"/>
<line x1="420.4" y1="127.23" x2="420.4" y2="128.94" stroke="#3fa34d" stroke-width="0.9"/>
<line x1="419.11" y1="127.23" x2="421.69" y2="127.23" stroke="#3fa34d" stroke-width="0.9"/>
<line x1="419.11" y1="128.94" x2="421.69" y2="128.94" stroke="#3fa34d" stroke-width="0.9"/>
<rect x="418.14" y="125.75" width="2.6" height="2.6" fill="#3fa34d"/>
<rect x="418" y="126.78" width="2.6" height="2.6" fill="#3fa34d"/>
<rect x="418.72" y="127.47" width="2.6" height="2.6" fill="#3fa34d"/>
<rect x="425.05" y="95.48" width="3.7" height="34.32" fill="#fff" stroke="#1c4f8f" stroke-width="1.1"/>
<line x1="426.9" y1="73.17" x2="426.9" y2="117.79" stroke="#1c4f8f" stroke-width="0.9"/>
<line x1="425.56" y1="73.17" x2="428.24" y2="73.17" stroke="#1c4f8f" stroke-width="0.9"/>
<line x1="425.56" y1="117.79" x2="428.24" y2="117.79" stroke="#1c4f8f" stroke-width="0.9"/>
<circle cx="425.53" cy="66.31" r="1.35" fill="#1c4f8f"/>
<circle cx="427.98" cy="67.34" r="1.35" fill="#1c4f8f"/>
<circle cx="427.23" cy="102.34" r="1.35" fill="#1c4f8f"/>
<circle cx="425.89" cy="105.78" r="1.35" fill="#1c4f8f"/>
<circle cx="426.19" cy="110.92" r="1.35" fill="#1c4f8f"/>
<circle cx="426.46" cy="114.36" r="1.35" fill="#1c4f8f"/>
<circle cx="426.51" cy="122.94" r="1.35" fill="#1c4f8f"/>
<rect x="431.65" y="124.65" width="3.5" height="5.15" fill="#fff" stroke="#d2405e" stroke-width="1.1"/>
<line x1="433.4" y1="122.08" x2="433.4" y2="127.23" stroke="#c8163e" stroke-width="0.9"/>
<line x1="432.11" y1="122.08" x2="434.69" y2="122.08" stroke="#c8163e" stroke-width="0.9"/>
<line x1="432.11" y1="127.23" x2="434.69" y2="127.23" stroke="#c8163e" stroke-width="0.9"/>
<path d="M432.36 118.02L433.79 120.62L430.93 120.62Z" fill="#c8163e"/>
<path d="M434.36 121.45L435.79 124.05L432.93 124.05Z" fill="#c8163e"/>
<path d="M434.76 123.17L436.19 125.76L433.33 125.76Z" fill="#c8163e"/>
<path d="M433.31 125.57L434.74 128.17L431.88 128.17Z" fill="#c8163e"/>
<rect x="443.95" y="121.22" width="3.5" height="8.58" fill="#fff" stroke="#5cb85c" stroke-width="1.1"/>
<line x1="445.7" y1="116.93" x2="445.7" y2="125.51" stroke="#3fa34d" stroke-width="0.9"/>
<line x1="444.41" y1="116.93" x2="446.99" y2="116.93" stroke="#3fa34d" stroke-width="0.9"/>
<line x1="444.41" y1="125.51" x2="446.99" y2="125.51" stroke="#3fa34d" stroke-width="0.9"/>
<rect x="444.36" y="116.49" width="2.6" height="2.6" fill="#3fa34d"/>
<rect x="443.26" y="118.2" width="2.6" height="2.6" fill="#3fa34d"/>
<rect x="443.3" y="119.92" width="2.6" height="2.6" fill="#3fa34d"/>
<rect x="443.97" y="121.64" width="2.6" height="2.6" fill="#3fa34d"/>
<rect x="443.75" y="123.35" width="2.6" height="2.6" fill="#3fa34d"/>
<rect x="450.35" y="95.48" width="3.7" height="34.32" fill="#fff" stroke="#1c4f8f" stroke-width="1.1"/>
<line x1="452.2" y1="85.18" x2="452.2" y2="105.78" stroke="#1c4f8f" stroke-width="0.9"/>
<line x1="450.86" y1="85.18" x2="453.54" y2="85.18" stroke="#1c4f8f" stroke-width="0.9"/>
<line x1="450.86" y1="105.78" x2="453.54" y2="105.78" stroke="#1c4f8f" stroke-width="0.9"/>
<circle cx="453.15" cy="82.78" r="1.35" fill="#1c4f8f"/>
<circle cx="451.22" cy="88.62" r="1.35" fill="#1c4f8f"/>
<circle cx="450.83" cy="95.48" r="1.35" fill="#1c4f8f"/>
<circle cx="453.5" cy="97.2" r="1.35" fill="#1c4f8f"/>
<circle cx="452.28" cy="100.63" r="1.35" fill="#1c4f8f"/>
<rect x="456.95" y="122.25" width="3.5" height="7.55" fill="#fff" stroke="#d2405e" stroke-width="1.1"/>
<line x1="458.7" y1="118.47" x2="458.7" y2="126.02" stroke="#c8163e" stroke-width="0.9"/>
<line x1="457.41" y1="118.47" x2="459.99" y2="118.47" stroke="#c8163e" stroke-width="0.9"/>
<line x1="457.41" y1="126.02" x2="459.99" y2="126.02" stroke="#c8163e" stroke-width="0.9"/>
<path d="M457.72 116.31L459.15 118.9L456.29 118.9Z" fill="#c8163e"/>
<path d="M458.82 118.71L460.25 121.3L457.39 121.3Z" fill="#c8163e"/>
<path d="M457.39 121.45L458.82 124.05L455.96 124.05Z" fill="#c8163e"/>
<path d="M458.78 123.17L460.21 125.76L457.35 125.76Z" fill="#c8163e"/>
<rect x="469.25" y="125.68" width="3.5" height="4.12" fill="#fff" stroke="#5cb85c" stroke-width="1.1"/>
<line x1="471" y1="123.62" x2="471" y2="127.74" stroke="#3fa34d" stroke-width="0.9"/>
<line x1="469.71" y1="123.62" x2="472.29" y2="123.62" stroke="#3fa34d" stroke-width="0.9"/>
<line x1="469.71" y1="127.74" x2="472.29" y2="127.74" stroke="#3fa34d" stroke-width="0.9"/>
<rect x="471.02" y="122.32" width="2.6" height="2.6" fill="#3fa34d"/>
<rect x="470.7" y="123.35" width="2.6" height="2.6" fill="#3fa34d"/>
<rect x="470.24" y="124.38" width="2.6" height="2.6" fill="#3fa34d"/>
<rect x="469.04" y="125.07" width="2.6" height="2.6" fill="#3fa34d"/>
<rect x="475.65" y="95.48" width="3.7" height="34.32" fill="#fff" stroke="#1c4f8f" stroke-width="1.1"/>
<line x1="477.5" y1="75.57" x2="477.5" y2="115.39" stroke="#1c4f8f" stroke-width="0.9"/>
<line x1="476.16" y1="75.57" x2="478.84" y2="75.57" stroke="#1c4f8f" stroke-width="0.9"/>
<line x1="476.16" y1="115.39" x2="478.84" y2="115.39" stroke="#1c4f8f" stroke-width="0.9"/>
<circle cx="477.12" cy="61.85" r="1.35" fill="#1c4f8f"/>
<circle cx="476.54" cy="95.48" r="1.35" fill="#1c4f8f"/>
<circle cx="478.28" cy="98.91" r="1.35" fill="#1c4f8f"/>
<circle cx="477.59" cy="112.64" r="1.35" fill="#1c4f8f"/>
<circle cx="478.3" cy="114.36" r="1.35" fill="#1c4f8f"/>
<rect x="482.25" y="125.68" width="3.5" height="4.12" fill="#fff" stroke="#d2405e" stroke-width="1.1"/>
<line x1="484" y1="123.62" x2="484" y2="127.74" stroke="#c8163e" stroke-width="0.9"/>
<line x1="482.71" y1="123.62" x2="485.29" y2="123.62" stroke="#c8163e" stroke-width="0.9"/>
<line x1="482.71" y1="127.74" x2="485.29" y2="127.74" stroke="#c8163e" stroke-width="0.9"/>
<path d="M483.53 121.45L484.96 124.05L482.1 124.05Z" fill="#c8163e"/>
<path d="M483.24 123.17L484.67 125.76L481.81 125.76Z" fill="#c8163e"/>
<path d="M484.86 124.89L486.29 127.48L483.43 127.48Z" fill="#c8163e"/>
<path d="M485.34 125.57L486.77 128.17L483.91 128.17Z" fill="#c8163e"/>
<rect x="494.55" y="121.22" width="3.5" height="8.58" fill="#fff" stroke="#5cb85c" stroke-width="1.1"/>
<line x1="496.3" y1="116.93" x2="496.3" y2="125.51" stroke="#3fa34d" stroke-width="0.9"/>
<line x1="495.01" y1="116.93" x2="497.59" y2="116.93" stroke="#3fa34d" stroke-width="0.9"/>
<line x1="495.01" y1="125.51" x2="497.59" y2="125.51" stroke="#3fa34d" stroke-width="0.9"/>
<rect x="495.97" y="115.46" width="2.6" height="2.6" fill="#3fa34d"/>
<rect x="495.84" y="117.52" width="2.6" height="2.6" fill="#3fa34d"/>
<rect x="495.88" y="119.92" width="2.6" height="2.6" fill="#3fa34d"/>
<rect x="495.66" y="122.32" width="2.6" height="2.6" fill="#3fa34d"/>
<rect x="494.25" y="125.07" width="2.6" height="2.6" fill="#3fa34d"/>
<rect x="500.95" y="95.48" width="3.7" height="34.32" fill="#fff" stroke="#1c4f8f" stroke-width="1.1"/>
<line x1="502.8" y1="76.6" x2="502.8" y2="114.36" stroke="#1c4f8f" stroke-width="0.9"/>
<line x1="501.46" y1="76.6" x2="504.14" y2="76.6" stroke="#1c4f8f" stroke-width="0.9"/>
<line x1="501.46" y1="114.36" x2="504.14" y2="114.36" stroke="#1c4f8f" stroke-width="0.9"/>
<circle cx="502.85" cy="71.46" r="1.35" fill="#1c4f8f"/>
<circle cx="502.38" cy="85.18" r="1.35" fill="#1c4f8f"/>
<circle cx="501.44" cy="95.48" r="1.35" fill="#1c4f8f"/>
<circle cx="501.44" cy="105.78" r="1.35" fill="#1c4f8f"/>
<circle cx="502.16" cy="110.92" r="1.35" fill="#1c4f8f"/>
<circle cx="502.11" cy="116.07" r="1.35" fill="#1c4f8f"/>
<rect x="507.55" y="126.37" width="3.5" height="3.43" fill="#fff" stroke="#d2405e" stroke-width="1.1"/>
<line x1="509.3" y1="124.65" x2="509.3" y2="128.08" stroke="#c8163e" stroke-width="0.9"/>
<line x1="508.01" y1="124.65" x2="510.59" y2="124.65" stroke="#c8163e" stroke-width="0.9"/>
<line x1="508.01" y1="128.08" x2="510.59" y2="128.08" stroke="#c8163e" stroke-width="0.9"/>
<path d="M509.83 122.14L511.26 124.73L508.4 124.73Z" fill="#c8163e"/>
<path d="M510.56 124.2L511.99 126.79L509.13 126.79Z" fill="#c8163e"/>
<path d="M509.15 124.89L510.58 127.48L507.72 127.48Z" fill="#c8163e"/>
<path d="M510.51 125.92L511.94 128.51L509.08 128.51Z" fill="#c8163e"/>
<line x1="364.5" y1="41.7" x2="364.5" y2="130.3" stroke="#222" stroke-width="1"/>
<line x1="361.7" y1="129.8" x2="364.4" y2="129.8" stroke="#333" stroke-width="1"/>
<text x="357.7" y="132.68" font-size="8" text-anchor="end" fill="#2a2a2a">0.0</text>
<line x1="361.7" y1="112.64" x2="364.4" y2="112.64" stroke="#333" stroke-width="1"/>
<text x="357.7" y="115.52" font-size="8" text-anchor="end" fill="#2a2a2a">0.5</text>
<line x1="361.7" y1="95.48" x2="364.4" y2="95.48" stroke="#333" stroke-width="1"/>
<text x="357.7" y="98.36" font-size="8" text-anchor="end" fill="#2a2a2a">1.0</text>
<line x1="361.7" y1="78.32" x2="364.4" y2="78.32" stroke="#333" stroke-width="1"/>
<text x="357.7" y="81.2" font-size="8" text-anchor="end" fill="#2a2a2a">1.5</text>
<line x1="361.7" y1="61.16" x2="364.4" y2="61.16" stroke="#333" stroke-width="1"/>
<text x="357.7" y="64.04" font-size="8" text-anchor="end" fill="#2a2a2a">2.0</text>
<line x1="361.7" y1="44" x2="364.4" y2="44" stroke="#333" stroke-width="1"/>
<text x="357.7" y="46.88" font-size="8" text-anchor="end" fill="#2a2a2a">2.5</text>
<line x1="363.9" y1="129.8" x2="519.5" y2="129.8" stroke="#333" stroke-width="1"/>
<path d="M367.7 72.2V56.4H374.2V60.4" fill="none" stroke="#444" stroke-width="1"/>
<path d="M370.95 51.35L370.95 53.65M369.95 51.92L371.95 53.08M371.95 51.92L369.95 53.08" stroke="#222" stroke-width="0.8" fill="none"/>
<path d="M376.8 60.4V56.4H382.9V72.2" fill="none" stroke="#444" stroke-width="1"/>
<path d="M379.85 51.35L379.85 53.65M378.85 51.92L380.85 53.08M380.85 51.92L378.85 53.08" stroke="#222" stroke-width="0.8" fill="none"/>
<path d="M393 72.2V56.4H399.5V60.4" fill="none" stroke="#444" stroke-width="1"/>
<path d="M396.25 51.35L396.25 53.65M395.25 51.92L397.25 53.08M397.25 51.92L395.25 53.08" stroke="#222" stroke-width="0.8" fill="none"/>
<path d="M402.1 60.4V56.4H408.2V72.2" fill="none" stroke="#444" stroke-width="1"/>
<path d="M405.15 51.35L405.15 53.65M404.15 51.92L406.15 53.08M406.15 51.92L404.15 53.08" stroke="#222" stroke-width="0.8" fill="none"/>
<path d="M418.3 72.6V55.6H424.8V59.6" fill="none" stroke="#444" stroke-width="1"/>
<path d="M421.55 50.55L421.55 52.85M420.55 51.12L422.55 52.28M422.55 51.12L420.55 52.28" stroke="#222" stroke-width="0.8" fill="none"/>
<path d="M427.4 59.6V55.6H433.5V72.6" fill="none" stroke="#444" stroke-width="1"/>
<path d="M430.45 50.55L430.45 52.85M429.45 51.12L431.45 52.28M431.45 51.12L429.45 52.28" stroke="#222" stroke-width="0.8" fill="none"/>
<path d="M443.6 75V56.4H450.1V60.4" fill="none" stroke="#444" stroke-width="1"/>
<path d="M445.35 51.35L445.35 53.65M444.35 51.92L446.35 53.08M446.35 51.92L444.35 53.08M448.35 51.35L448.35 53.65M447.35 51.92L449.35 53.08M449.35 51.92L447.35 53.08" stroke="#222" stroke-width="0.8" fill="none"/>
<path d="M452.7 60.4V56.4H458.8V75" fill="none" stroke="#444" stroke-width="1"/>
<path d="M454.25 51.35L454.25 53.65M453.25 51.92L455.25 53.08M455.25 51.92L453.25 53.08M457.25 51.35L457.25 53.65M456.25 51.92L458.25 53.08M458.25 51.92L456.25 53.08" stroke="#222" stroke-width="0.8" fill="none"/>
<path d="M468.9 65V56H475.4V60" fill="none" stroke="#444" stroke-width="1"/>
<path d="M472.15 50.95L472.15 53.25M471.15 51.52L473.15 52.68M473.15 51.52L471.15 52.68" stroke="#222" stroke-width="0.8" fill="none"/>
<path d="M478 60V56H484.1V65" fill="none" stroke="#444" stroke-width="1"/>
<path d="M481.05 50.95L481.05 53.25M480.05 51.52L482.05 52.68M482.05 51.52L480.05 52.68" stroke="#222" stroke-width="0.8" fill="none"/>
<path d="M494.2 66V56H500.7V60" fill="none" stroke="#444" stroke-width="1"/>
<path d="M497.45 50.95L497.45 53.25M496.45 51.52L498.45 52.68M498.45 51.52L496.45 52.68" stroke="#222" stroke-width="0.8" fill="none"/>
<path d="M503.3 60V56H509.4V66" fill="none" stroke="#444" stroke-width="1"/>
<path d="M506.35 50.95L506.35 53.25M505.35 51.52L507.35 52.68M507.35 51.52L505.35 52.68" stroke="#222" stroke-width="0.8" fill="none"/>
<line x1="376.3" y1="129.8" x2="376.3" y2="131.8" stroke="#333" stroke-width="0.8"/>
<line x1="401.6" y1="129.8" x2="401.6" y2="131.8" stroke="#333" stroke-width="0.8"/>
<line x1="426.9" y1="129.8" x2="426.9" y2="131.8" stroke="#333" stroke-width="0.8"/>
<line x1="452.2" y1="129.8" x2="452.2" y2="131.8" stroke="#333" stroke-width="0.8"/>
<line x1="477.5" y1="129.8" x2="477.5" y2="131.8" stroke="#333" stroke-width="0.8"/>
<line x1="502.8" y1="129.8" x2="502.8" y2="131.8" stroke="#333" stroke-width="0.8"/>
<text x="375.9" y="142.7" font-size="7.6" text-anchor="middle" fill="#2a2a2a" textLength="21" lengthAdjust="spacingAndGlyphs">TNFα</text>
<text x="401" y="142.7" font-size="7.6" text-anchor="middle" fill="#2a2a2a" textLength="23.7" lengthAdjust="spacingAndGlyphs">CXCL1</text>
<text x="427.3" y="142.7" font-size="7.6" text-anchor="middle" fill="#2a2a2a" textLength="19.5" lengthAdjust="spacingAndGlyphs">CCL2</text>
<text x="451.6" y="142.7" font-size="7.6" text-anchor="middle" fill="#2a2a2a" textLength="17.7" lengthAdjust="spacingAndGlyphs">IL-1a</text>
<text x="476.8" y="142.7" font-size="7.6" text-anchor="middle" fill="#2a2a2a" textLength="18.1" lengthAdjust="spacingAndGlyphs">IL-1b</text>
<text x="503" y="142.7" font-size="7.6" text-anchor="middle" fill="#2a2a2a" textLength="18" lengthAdjust="spacingAndGlyphs">IL-22</text>
<path stroke="#283caa" stroke-width="0.62" stroke-linecap="square" opacity="0.55" d="M122.3 262.4h0M121.4 235.9h0M56.8 191.9h0M102.0 265.1h0M107.0 193.5h0M116.6 182.8h0M123.3 200.7h0M93.1 187.7h0M43.6 204.8h0M74.7 187.3h0M118.2 266.3h0M93.8 201.0h0M98.8 205.4h0M50.4 206.5h0M107.0 220.9h0M122.1 203.9h0M106.7 263.4h0M41.3 251.0h0M114.9 251.9h0M70.3 192.2h0M56.4 199.7h0M89.6 194.7h0M125.8 208.3h0M112.8 216.5h0M40.8 184.4h0M104.6 200.1h0M103.1 260.7h0M125.5 188.9h0M60.0 198.0h0M105.3 203.6h0M111.4 264.1h0M110.8 232.1h0M45.7 249.3h0M118.9 231.7h0M124.2 222.8h0M46.6 186.0h0M54.4 188.0h0M125.5 240.1h0M109.2 243.8h0M120.0 217.6h0M48.3 193.2h0M42.1 188.2h0M48.0 189.5h0M111.8 189.4h0M109.4 187.5h0M47.4 211.7h0M109.5 259.3h0M84.6 193.2h0M103.4 253.9h0M111.0 256.1h0M89.6 266.3h0M121.4 195.7h0M40.7 227.9h0M114.5 241.7h0M74.7 193.4h0M104.5 213.8h0M99.8 191.6h0M96.6 190.2h0M115.6 239.5h0M106.6 253.3h0M87.9 201.8h0M95.5 193.0h0M43.0 229.1h0M90.1 202.7h0M82.8 189.4h0M110.0 196.6h0M115.6 236.7h0M92.3 267.6h0M50.0 202.6h0M43.4 239.5h0M118.7 198.8h0M52.0 202.6h0M118.3 235.8h0M97.1 196.6h0M43.7 242.8h0M76.4 199.1h0M101.5 193.7h0M84.6 198.3h0M81.8 191.2h0M112.4 228.4h0M102.3 221.6h0M100.0 196.2h0M109.7 224.4h0M117.7 203.9h0M119.6 196.6h0M46.6 256.0h0M103.0 215.1h0M86.5 184.3h0M107.7 225.9h0M119.5 246.2h0M93.1 264.8h0M49.1 251.4h0M124.0 217.2h0M117.9 225.2h0M46.0 253.8h0M124.8 215.7h0M40.3 243.0h0M116.7 224.6h0M40.8 244.8h0M123.2 253.0h0M76.9 205.4h0M103.8 231.2h0M70.8 200.7h0M113.1 225.7h0M40.7 264.0h0M125.4 244.8h0M100.8 224.8h0M70.0 266.2h0M70.2 200.8h0M43.8 234.0h0M102.3 239.4h0M76.2 265.8h0M88.3 205.4h0M78.7 201.3h0M111.5 223.7h0M73.8 200.9h0M99.9 256.8h0M57.9 186.1h0M115.1 195.2h0M123.6 258.9h0M45.3 265.9h0M122.8 259.4h0M75.8 195.4h0M99.1 257.2h0M43.2 196.1h0M52.2 194.2h0M115.6 193.9h0M79.5 187.8h0M53.1 193.8h0M57.6 184.4h0M79.5 186.8h0M43.2 195.8h0M65.3 200.3h0M111.6 194.7h0M45.5 265.9h0M53.8 206.2h0M80.7 202.7h0M109.8 228.4h0M47.9 264.4h0M49.2 215.2h0M89.5 185.8h0M107.2 229.4h0M85.2 186.8h0M120.9 250.3h0M79.2 200.2h0M64.5 200.4h0M42.2 235.8h0M49.7 258.5h0M110.6 193.8h0M116.1 202.6h0M97.7 250.4h0M71.4 203.3h0M100.5 215.4h0M122.0 248.6h0M73.5 197.1h0M115.2 203.2h0M51.2 214.2h0M121.2 251.6h0M89.4 189.6h0M104.0 219.1h0M75.2 203.0h0M103.1 218.6h0M120.8 248.6h0M76.2 204.2h0M45.1 209.4h0M66.1 267.2h0M111.2 204.8h0M65.0 195.6h0M118.8 207.9h0M99.2 244.0h0M91.4 206.0h0M52.2 257.3h0M65.5 195.7h0M108.4 228.3h0M111.4 204.6h0M119.3 207.2h0M45.3 209.0h0M43.0 212.3h0M82.2 203.4h0M42.9 211.6h0M47.6 228.4h0M101.2 218.6h0M95.5 253.3h0M87.6 263.8h0M123.1 243.0h0M124.1 243.2h0M41.9 235.5h0M95.3 214.1h0M95.1 260.2h0M60.3 201.1h0M74.1 206.4h0M49.6 244.8h0M87.2 187.7h0M74.5 196.8h0M82.1 198.7h0M82.1 199.2h0M100.2 229.3h0M97.1 249.5h0M52.1 266.0h0M95.9 263.5h0M99.4 211.6h0M42.3 209.1h0M42.1 208.5h0M61.1 201.9h0M120.8 243.8h0M105.9 235.4h0M119.9 243.3h0M47.3 240.4h0M42.1 262.2h0M95.8 247.9h0M48.3 255.1h0M50.4 242.3h0M101.6 216.9h0M104.6 226.1h0M97.1 213.7h0M96.2 247.3h0M104.1 229.3h0M71.3 206.7h0M94.5 255.5h0M69.8 204.6h0M88.7 188.7h0M99.3 213.5h0M46.2 224.8h0M64.3 203.3h0M45.5 236.0h0M43.2 259.8h0M69.3 205.8h0M43.3 259.7h0M49.7 253.8h0M84.0 205.4h0M92.8 205.8h0M99.1 225.3h0M96.3 211.4h0M48.8 254.4h0M49.5 247.7h0M59.4 204.2h0M42.8 261.1h0M77.7 264.2h0M46.1 219.8h0M47.4 219.7h0M83.6 205.2h0M73.4 266.6h0M88.5 187.2h0M96.3 227.7h0M103.3 228.4h0M93.5 246.4h0M89.1 262.6h0M46.7 262.2h0M46.6 261.4h0M52.4 253.5h0M47.7 261.0h0M48.7 220.2h0M89.3 207.5h0M50.2 244.5h0M101.5 232.2h0M105.3 227.9h0M92.0 261.8h0M95.5 217.1h0M77.9 264.1h0M95.8 264.2h0M78.8 263.8h0M95.6 217.3h0M53.3 265.9h0M98.8 228.6h0M104.9 233.9h0M50.1 230.9h0M93.5 213.6h0M93.7 260.2h0M97.4 244.2h0M97.1 244.2h0M71.0 208.8h0M52.6 254.1h0M97.3 240.9h0M86.2 206.3h0M93.0 260.9h0M52.7 264.4h0M69.2 207.7h0M51.0 234.3h0M95.2 211.2h0M93.7 262.7h0M52.0 262.7h0M47.4 235.6h0M101.5 239.1h0M47.2 223.5h0M102.0 233.3h0M95.7 262.8h0M94.5 251.8h0M93.8 251.6h0M50.5 260.6h0M43.6 222.7h0M98.6 235.2h0M105.2 234.5h0M94.1 207.7h0M94.0 207.0h0M95.2 209.1h0M97.7 221.1h0M53.1 209.8h0M98.3 224.1h0M98.3 224.1h0M50.9 221.1h0M50.7 220.6h0M93.6 209.9h0M50.1 222.3h0M47.8 234.8h0M94.3 256.9h0M45.9 220.8h0M102.4 235.6h0M50.0 247.1h0M44.1 221.5h0M43.4 221.2h0M67.6 266.1h0M48.8 227.3h0M103.2 235.4h0M46.4 222.1h0M50.5 261.1h0M98.5 230.2h0M69.0 208.5h0M77.2 208.6h0M94.9 209.4h0M69.6 261.9h0M52.5 217.6h0M55.0 265.1h0M49.9 222.8h0M45.2 222.7h0M99.9 236.5h0M100.9 236.5h0M74.8 207.4h0M72.1 257.2h0M98.3 238.6h0M98.7 238.8h0M97.4 230.0h0M92.0 255.6h0M53.7 215.4h0M74.2 258.3h0M100.9 237.4h0M54.2 260.9h0M72.3 208.4h0M95.2 243.1h0M95.2 227.9h0M76.7 261.0h0M100.5 232.8h0M73.2 264.7h0M73.4 264.8h0M92.8 222.9h0M72.9 213.7h0M84.7 205.7h0M97.0 224.3h0M95.5 244.5h0M95.2 237.9h0M94.9 244.7h0M79.7 261.5h0M69.8 213.9h0M52.1 261.1h0M52.6 260.9h0M71.1 256.7h0M48.4 224.1h0M72.3 211.9h0M96.8 233.9h0M96.4 236.5h0M97.0 236.7h0M96.6 238.9h0M93.2 250.2h0M100.3 237.2h0M97.3 239.7h0M47.4 238.3h0M47.6 237.6h0M92.9 247.2h0M69.6 253.8h0M98.8 233.8h0M48.8 239.6h0M48.1 240.0h0M48.6 225.5h0M56.8 268.0h0M57.4 266.9h0M95.7 226.3h0M96.1 239.5h0M96.9 239.7h0M48.7 236.2h0M71.1 253.8h0M97.4 221.4h0M97.6 222.3h0M48.4 235.6h0M73.1 256.3h0M95.5 224.2h0M50.8 246.8h0M50.5 246.6h0M94.6 225.1h0M74.8 259.4h0M74.6 255.8h0M71.1 216.0h0M69.5 251.4h0M69.4 251.4h0M71.4 215.7h0M68.5 209.3h0M69.8 211.4h0M69.7 211.3h0M70.1 211.4h0M94.6 235.4h0M60.4 204.2h0M70.9 263.5h0M94.3 229.2h0M71.2 264.3h0M73.6 229.7h0M54.4 208.2h0M93.5 223.7h0M95.5 235.5h0M54.6 208.8h0M94.0 234.2h0M73.6 263.7h0M95.7 235.7h0M73.9 215.0h0M70.8 251.7h0M52.2 218.1h0M54.6 260.3h0M51.2 224.8h0M71.1 242.9h0M54.5 214.1h0M56.0 266.8h0M69.0 254.8h0M93.6 230.0h0M98.7 232.7h0M98.9 232.8h0M69.4 242.7h0M68.2 262.7h0M53.0 255.9h0M76.1 209.3h0M93.8 232.6h0M51.6 246.8h0M96.4 223.1h0M92.7 213.7h0M51.2 237.3h0M50.6 237.5h0M50.2 238.0h0M73.8 209.9h0M73.0 210.3h0M97.3 232.5h0M65.1 206.2h0M73.1 216.5h0M55.5 262.4h0M71.1 255.7h0M56.1 262.6h0M70.6 255.9h0M52.2 240.1h0M51.9 240.1h0M75.5 258.6h0M49.5 228.4h0M51.4 226.2h0M49.6 227.2h0M74.1 209.0h0M74.3 211.8h0M48.2 238.5h0M48.3 238.2h0M75.4 212.2h0M74.3 208.1h0M74.9 209.1h0M74.1 255.3h0M70.9 260.4h0M71.1 260.7h0M93.5 221.7h0M54.0 213.8h0M73.7 211.8h0M73.5 212.1h0M75.3 260.9h0M53.9 213.4h0M73.0 254.0h0M51.9 224.6h0M78.6 259.7h0M73.4 248.9h0M61.0 204.1h0M62.1 204.3h0M69.8 251.1h0M95.2 233.0h0M91.4 209.9h0M53.6 250.7h0M96.5 231.7h0M72.7 255.9h0M96.7 231.4h0M76.9 259.9h0M55.3 259.7h0M76.4 254.6h0M76.0 259.8h0M75.6 260.6h0M75.2 248.5h0M94.4 243.2h0M77.6 210.3h0M95.4 231.3h0M94.7 231.7h0M75.9 217.6h0M94.3 226.1h0M50.8 225.1h0M96.4 221.5h0M92.8 257.7h0M67.4 264.4h0M93.3 257.9h0M93.4 258.3h0M63.1 205.1h0M74.7 229.2h0M49.7 225.6h0M68.7 258.1h0M50.0 225.4h0M69.3 258.2h0M74.4 246.9h0M75.3 253.8h0M55.0 258.7h0M54.5 258.5h0M72.5 230.4h0M75.1 214.0h0M74.6 214.6h0M74.2 214.1h0M95.4 221.6h0M92.3 217.5h0M53.7 245.7h0M70.1 236.4h0"/>
<path stroke="#2943b0" stroke-width="0.62" stroke-linecap="square" opacity="0.55" d="M52.2 238.0h0M91.1 224.1h0M73.4 262.5h0M94.8 220.7h0M95.2 220.6h0M93.3 215.8h0M92.0 258.5h0M73.1 250.8h0M68.8 212.9h0M71.2 262.6h0M68.7 213.7h0M74.6 227.7h0M71.0 262.4h0M77.3 256.2h0M65.8 208.5h0M67.0 209.1h0M91.8 256.7h0M70.9 227.2h0M90.2 260.5h0M73.4 252.3h0M73.8 251.3h0M92.9 236.1h0M72.9 250.4h0M72.4 250.4h0M76.9 257.6h0M74.1 246.5h0M92.1 252.0h0M73.9 245.8h0M69.9 244.5h0M70.1 244.1h0M53.5 248.1h0M53.6 248.7h0M53.5 247.6h0M70.6 244.2h0M52.0 234.5h0M51.8 235.3h0M93.3 225.4h0M73.9 260.2h0M92.2 225.6h0M81.9 207.5h0M54.7 217.2h0M54.0 216.8h0M53.9 217.6h0M72.8 246.2h0M72.0 220.8h0M67.3 254.0h0M71.8 220.5h0M67.4 253.7h0M77.6 211.4h0M93.4 219.7h0M93.2 228.2h0M76.7 211.5h0M94.1 219.7h0M53.7 250.0h0M72.2 217.5h0M71.2 235.0h0M83.2 262.4h0M83.7 262.1h0M74.3 253.2h0M54.0 210.5h0M54.2 210.9h0M74.9 253.0h0M94.5 240.2h0M67.6 263.3h0M71.8 246.3h0M68.1 264.3h0M67.6 258.8h0M76.2 216.1h0M61.6 205.5h0M94.2 220.7h0M72.8 226.1h0M61.2 205.0h0M54.7 258.1h0M56.8 208.0h0M64.6 206.5h0M57.0 207.6h0M72.7 260.7h0M54.0 257.2h0M70.8 229.3h0M56.4 206.8h0M64.5 205.9h0M71.1 229.0h0M72.3 260.6h0M93.1 218.3h0M92.4 218.3h0M73.3 244.4h0M70.1 249.1h0M74.3 227.2h0M75.2 227.0h0M92.0 250.7h0M92.7 230.9h0M74.1 218.0h0M93.2 227.2h0M70.1 246.0h0M92.2 229.0h0M77.4 253.9h0M74.7 251.9h0M74.1 231.3h0M72.6 221.5h0M93.2 220.5h0M93.3 237.6h0M78.4 259.4h0M66.1 260.6h0M56.7 266.0h0M72.0 262.8h0M91.9 211.2h0M91.2 210.9h0M69.2 215.4h0M68.7 215.6h0M73.4 261.6h0M74.0 261.0h0M66.8 265.2h0M93.7 241.2h0M92.7 244.1h0M94.6 241.5h0M92.5 244.3h0M71.9 236.1h0M71.8 236.3h0M76.6 251.7h0M67.7 215.0h0M69.9 217.4h0M91.6 249.2h0M91.5 249.9h0M85.3 262.3h0M91.9 258.3h0M52.9 218.4h0M66.9 209.5h0M78.0 209.9h0M71.5 226.3h0M72.8 236.9h0M91.8 225.3h0M74.0 219.8h0M50.7 229.2h0M68.9 243.1h0M50.2 229.4h0M50.4 229.1h0M77.6 252.8h0M67.0 213.8h0M69.6 246.7h0M71.2 223.5h0M65.0 206.8h0M70.7 223.0h0M65.6 207.1h0M84.4 262.2h0M67.5 211.0h0M77.6 212.4h0M71.0 237.6h0M92.5 219.4h0M71.6 249.6h0M73.9 237.8h0M53.0 226.9h0M72.4 261.7h0M59.8 205.6h0M70.0 226.9h0M57.2 264.7h0M72.2 219.8h0M56.6 265.5h0M90.1 210.1h0M67.0 255.7h0M56.3 265.0h0M75.3 219.9h0M72.0 235.3h0M74.7 218.9h0M67.1 251.4h0M69.4 247.9h0M72.4 247.5h0M72.0 247.5h0M56.4 264.0h0M55.0 255.3h0M54.9 255.9h0M50.7 229.6h0M54.4 255.3h0M50.8 230.1h0M72.3 247.6h0M53.6 225.4h0M53.0 225.9h0M70.0 237.7h0M73.8 221.4h0M53.8 225.8h0M74.8 220.2h0M71.5 240.4h0M71.3 241.2h0M53.7 239.3h0M68.7 222.5h0M53.6 240.3h0M69.3 247.2h0M72.9 242.0h0M54.7 218.6h0M91.6 247.0h0M75.1 221.5h0M91.4 213.8h0M79.9 259.2h0M56.9 208.4h0M53.5 219.5h0M52.7 219.0h0M53.7 219.9h0M70.2 225.8h0M64.2 266.3h0M53.6 228.2h0M75.6 251.0h0M76.5 251.2h0M73.5 225.4h0M53.7 228.1h0M64.4 265.8h0M72.4 217.6h0M78.8 257.3h0M78.1 257.8h0M73.0 218.6h0M78.0 258.1h0M93.0 238.6h0M53.6 220.3h0M70.2 234.0h0M70.4 233.7h0M70.6 233.4h0M51.9 228.7h0M69.0 224.7h0M68.3 224.8h0M54.9 254.0h0M67.5 211.8h0M68.1 212.8h0M56.7 262.3h0M52.7 244.9h0M91.1 226.9h0M87.9 208.7h0M75.1 244.8h0M74.8 244.1h0M55.5 210.4h0M56.1 209.3h0M69.9 239.8h0M73.6 234.4h0M73.4 235.3h0M68.8 221.5h0M73.2 243.6h0M53.5 223.4h0M69.4 222.0h0M68.4 221.8h0M65.6 208.6h0M70.8 247.7h0M70.9 248.0h0M71.5 248.8h0M72.4 233.9h0M71.7 248.7h0M61.7 206.7h0M54.0 252.6h0M55.7 258.4h0M66.7 264.0h0M65.8 263.5h0M66.3 264.3h0M91.8 215.9h0M91.5 215.3h0M76.4 222.0h0M74.3 238.9h0M67.5 250.5h0M58.5 266.3h0M54.9 246.3h0M72.1 232.9h0M72.9 232.5h0M78.7 256.6h0M76.6 219.4h0M76.0 219.2h0M71.7 217.8h0M76.5 219.4h0M70.7 217.8h0M75.0 237.2h0M74.4 236.9h0M70.9 218.1h0M74.8 237.6h0M75.0 237.4h0M54.2 251.2h0M54.5 252.2h0M53.9 251.4h0M71.3 231.8h0M75.4 248.3h0M71.6 231.7h0M71.4 230.8h0M92.3 242.3h0M92.8 242.1h0M60.1 206.0h0M89.1 260.0h0M89.2 260.6h0M91.5 214.6h0M91.1 214.0h0M91.4 214.1h0M69.1 225.5h0M69.3 218.0h0M74.4 222.4h0M68.5 233.7h0M70.8 239.0h0M70.7 238.7h0M70.7 238.6h0M67.5 215.5h0M69.8 217.7h0M71.2 232.4h0M70.9 232.9h0M66.1 210.4h0M91.3 228.4h0M66.3 210.5h0M69.7 238.5h0M70.6 225.0h0M52.9 229.1h0M70.7 225.6h0M74.0 232.8h0M77.8 255.4h0M70.3 228.7h0M78.2 255.2h0M91.0 257.7h0M89.9 258.2h0M74.0 222.6h0M73.6 223.3h0M91.8 220.9h0M73.9 223.3h0M67.9 249.7h0M75.6 229.2h0M76.5 228.7h0M77.1 213.8h0M76.3 229.5h0M54.4 219.8h0M67.1 249.9h0M77.7 213.0h0M91.6 245.9h0M89.3 210.0h0M89.4 209.4h0M52.0 231.8h0M51.4 231.6h0M65.8 252.6h0M66.7 253.2h0M72.2 225.8h0M71.9 225.1h0M70.8 239.9h0M71.1 240.2h0M71.5 224.4h0M71.6 223.9h0M71.9 239.6h0M70.2 219.8h0M74.6 224.1h0M70.0 219.7h0M71.9 240.3h0M70.3 219.9h0M91.3 233.4h0M92.1 234.4h0M67.3 258.1h0M67.8 258.2h0M67.9 257.0h0M67.2 256.5h0M72.8 241.1h0M69.0 239.6h0M69.4 239.7h0M56.1 256.8h0M56.1 256.5h0M73.9 224.4h0M92.3 239.2h0M92.6 240.0h0M91.8 219.0h0M58.3 207.7h0M57.8 208.0h0M80.7 260.0h0M69.0 220.1h0M68.8 220.4h0M80.7 259.7h0M81.0 260.6h0M73.2 239.6h0M52.4 230.8h0M53.0 234.1h0M90.3 210.9h0M90.6 210.5h0M90.7 211.5h0M90.1 211.2h0M77.5 215.6h0M77.0 215.5h0M74.2 233.8h0M78.4 254.8h0M74.0 234.0h0M69.4 219.7h0M75.9 223.2h0M68.8 219.3h0M68.7 219.9h0M80.0 210.3h0M67.4 248.0h0M79.4 210.0h0M77.6 218.5h0M67.4 247.8h0M67.9 247.6h0M69.9 229.9h0M70.1 229.7h0M54.2 248.9h0M54.3 249.7h0M66.9 212.5h0M66.7 212.0h0M67.0 212.3h0M63.5 207.2h0M92.0 233.0h0M56.8 209.4h0M52.7 236.5h0M53.2 236.2h0M53.6 236.0h0M52.8 235.5h0M76.2 231.0h0M65.8 255.4h0M92.3 240.7h0M92.9 241.0h0M69.9 231.7h0M52.9 241.2h0M76.9 250.2h0M77.6 250.9h0M64.6 263.6h0M65.3 263.4h0M65.3 263.6h0M77.6 214.1h0M55.7 210.8h0M77.6 214.7h0M68.9 237.9h0M55.5 211.2h0M72.0 224.3h0M72.8 224.6h0M72.5 223.7h0M67.8 217.2h0M75.9 244.8h0M78.4 253.3h0M78.2 252.9h0M67.8 217.2h0M76.0 244.3h0M67.8 216.5h0M67.9 216.8h0M90.0 222.9h0M90.4 223.4h0M56.0 219.7h0M78.9 252.3h0M78.5 252.0h0M68.2 222.4h0M79.9 257.1h0M79.4 257.0h0M67.0 224.6h0M92.1 234.5h0M56.5 259.2h0M91.5 234.9h0M67.8 247.3h0M67.4 247.3h0M90.4 217.4h0M90.6 216.5h0M90.8 217.5h0M91.3 244.9h0M91.5 244.7h0M76.6 225.1h0M75.9 225.1h0M67.2 220.7h0M67.1 220.8h0M74.5 233.0h0M53.3 230.3h0M74.4 232.7h0M82.7 261.1h0M82.8 261.3h0M89.9 252.9h0M90.1 253.0h0M67.6 245.3h0M83.8 261.8h0M89.9 252.9h0M67.3 246.3h0M74.8 239.7h0M68.8 238.9h0M90.9 216.4h0M69.2 228.1h0M74.4 243.1h0M69.1 228.2h0M53.5 243.7h0M91.4 243.2h0M53.5 232.9h0M53.1 232.4h0M75.7 223.7h0M75.6 223.8h0M65.2 211.6h0M76.2 223.6h0M76.3 237.8h0M89.1 259.2h0M88.6 258.5h0M89.5 259.5h0M86.2 260.9h0M89.9 213.0h0M89.9 213.8h0M87.2 261.1h0M87.2 261.2h0M90.5 213.1h0M77.1 219.5h0M74.1 242.2h0M73.1 242.6h0M54.6 220.4h0M54.7 220.9h0M67.1 244.8h0M65.1 261.4h0M65.3 261.4h0M65.4 261.2h0M65.3 261.7h0M77.1 222.2h0M66.9 218.2h0M66.9 218.6h0M59.6 265.8h0M58.8 265.7h0M77.7 220.4h0M76.7 220.3h0M77.1 220.9h0M74.3 233.8h0M74.4 233.5h0M76.7 220.7h0M79.1 255.8h0M80.0 255.0h0M79.3 255.4h0M54.2 238.7h0M92.2 242.0h0M91.4 242.3h0M65.0 213.2h0M76.0 236.5h0M76.4 236.0h0M52.7 242.5h0M68.8 232.8h0M68.2 233.0h0M53.7 241.7h0M68.4 232.1h0M53.4 242.5h0M55.9 253.9h0M55.2 253.8h0M90.6 218.4h0M75.6 243.6h0M76.2 243.3h0M90.9 226.4h0M90.7 226.9h0M90.5 226.6h0M66.5 215.3h0M73.3 240.6h0M73.9 240.5h0M56.4 216.0h0M66.4 251.2h0M66.1 251.8h0M52.8 231.6h0M53.7 231.1h0M53.8 231.9h0M53.4 231.3h0M80.6 258.6h0M90.4 251.4h0M52.7 231.9h0M64.9 212.6h0M64.7 212.5h0M85.0 261.4h0M64.5 264.5h0M56.9 257.3h0M89.1 257.7h0M86.2 208.8h0M89.8 258.1h0M86.2 208.4h0M89.1 257.8h0M87.1 208.1h0M87.0 208.8h0M69.2 228.8h0M68.7 229.5h0M68.8 229.1h0M91.0 238.4h0M92.2 238.0h0M85.3 261.1h0M85.1 261.7h0M85.4 261.2h0M68.0 243.7h0M54.6 230.2h0M90.7 222.3h0M54.5 230.2h0M67.4 242.8h0M91.9 239.4h0M87.5 260.7h0M88.2 260.6h0M87.7 260.4h0M68.7 231.4h0M69.3 229.7h0M57.2 217.2h0M91.5 241.5h0M91.6 240.6h0M67.0 225.4h0M68.2 225.0h0M91.2 237.4h0M82.1 208.7h0M89.1 211.0h0M62.5 266.1h0M63.1 265.7h0M79.4 210.7h0M54.5 229.2h0M80.1 211.3h0M79.7 210.9h0M79.6 211.3h0M77.7 249.8h0M76.9 248.9h0M67.5 241.6h0M68.1 241.6h0M77.2 248.9h0M77.5 249.2h0M87.6 209.8h0M54.6 224.3h0M54.4 224.6h0M65.2 260.5h0M54.7 227.4h0M77.0 223.0h0M76.3 240.2h0M89.7 256.9h0M89.5 257.2h0M91.5 230.4h0M91.3 230.7h0M91.5 229.8h0M91.4 230.6h0M80.1 254.6h0M75.8 235.1h0M76.4 235.0h0M65.3 214.6h0M65.7 214.2h0M91.0 249.4h0M80.4 209.7h0M80.7 210.2h0M80.8 209.3h0M55.3 220.0h0M55.6 220.7h0M67.4 236.3h0M67.7 235.7h0M67.7 236.7h0M67.8 236.3h0M56.3 257.1h0M56.5 256.9h0M57.3 256.7h0M56.7 256.6h0M67.4 240.6h0M54.8 245.1h0M53.9 244.8h0M54.6 244.2h0M66.7 257.3h0M67.0 258.4h0M66.0 257.7h0M77.2 226.3h0M77.7 226.2h0M77.5 226.7h0M55.9 247.1h0M66.8 256.9h0M66.9 257.0h0M80.4 257.8h0M57.0 210.9h0M56.4 211.5h0M66.2 250.2h0M66.4 250.4h0M66.1 250.2h0M65.9 251.0h0M77.5 243.0h0M66.8 217.1h0M67.0 217.5h0M76.1 233.1h0M76.2 232.3h0M76.5 232.0h0M81.9 260.1h0M76.3 232.7h0M81.4 259.8h0M82.5 260.5h0M77.9 213.4h0M54.6 221.4h0M54.5 221.4h0M78.6 213.0h0M54.7 222.2h0M78.3 213.7h0M74.6 242.7h0M74.5 241.8h0M74.6 242.2h0M74.9 242.7h0M76.9 227.3h0M76.9 228.2h0M66.6 249.9h0M90.8 219.5h0M90.7 219.1h0M76.9 248.3h0M77.8 247.9h0M77.6 248.4h0M90.3 219.6h0M56.0 252.7h0M55.6 252.5h0M77.0 225.0h0M77.0 225.6h0M76.8 224.6h0M77.3 224.1h0M77.8 225.3h0M74.3 240.8h0M74.7 240.9h0M74.5 241.5h0M75.4 241.3h0M88.9 255.5h0M89.0 255.5h0M89.3 255.2h0M65.9 220.1h0M77.3 244.1h0M77.3 245.1h0M77.2 244.5h0M79.0 216.6h0M78.3 216.7h0M77.3 244.9h0M66.6 220.9h0M67.8 232.0h0M67.8 232.0h0M67.2 232.1h0M67.3 232.4h0M68.1 233.0h0M58.5 263.2h0M78.3 215.8h0M78.2 215.5h0M58.6 262.5h0M89.6 217.0h0M88.8 215.2h0M89.6 217.1h0M76.8 230.5h0M77.3 230.3h0M77.7 230.1h0M76.9 246.7h0M79.3 253.0h0M80.1 253.3h0M77.7 246.4h0M77.5 246.7h0M79.1 252.9h0M77.4 247.0h0M57.2 218.7h0M90.3 220.2h0M57.2 218.1h0M90.5 220.8h0M90.2 221.2h0M90.6 220.0h0M57.3 217.8h0M77.3 238.5h0M54.2 223.1h0M54.4 223.0h0M54.1 222.5h0M77.5 239.0h0M54.9 222.4h0M80.0 252.3h0M56.3 215.0h0M56.8 214.4h0M56.5 214.1h0M79.7 251.6h0M56.5 214.2h0M56.7 215.0h0M79.0 211.9h0M55.5 251.3h0M59.9 266.3h0M60.9 265.9h0M62.6 207.8h0M90.0 248.1h0M67.7 226.6h0M90.4 248.5h0M67.8 226.2h0M89.8 247.6h0M67.4 226.5h0M67.8 226.4h0M77.7 229.6h0M77.8 229.5h0M91.0 240.2h0M90.2 240.3h0M90.8 240.1h0M76.7 237.7h0M76.7 237.9h0M77.5 237.0h0M89.9 228.1h0M90.4 247.3h0M76.4 233.6h0M75.5 234.3h0M76.1 233.9h0M54.5 241.4h0M54.9 240.7h0M54.9 235.0h0M76.6 242.5h0M76.3 240.5h0M76.1 241.5h0M76.0 241.2h0M65.2 259.3h0M65.4 259.2h0M76.1 241.0h0M54.3 236.5h0M54.2 235.9h0M54.5 236.5h0M54.1 235.7h0M55.4 250.8h0M78.6 214.2h0M80.2 250.4h0M90.6 246.0h0M78.9 248.9h0M78.3 249.2h0M64.1 208.7h0M77.8 249.4h0M64.3 208.7h0M54.6 233.9h0M56.5 219.8h0M57.2 219.0h0M65.4 256.0h0M61.1 266.3h0M61.8 266.2h0M61.2 266.0h0M90.3 234.3h0M54.4 232.1h0M54.5 232.1h0M90.0 233.9h0M66.4 224.7h0M55.8 249.4h0M55.3 250.0h0M55.4 249.8h0M55.2 249.7h0M55.8 249.6h0M90.1 238.6h0M89.8 238.7h0M90.7 238.5h0M67.9 239.9h0M87.2 259.7h0M78.6 218.7h0M86.6 259.8h0M78.6 217.9h0M78.3 218.2h0M86.8 260.4h0M86.4 260.5h0M80.6 256.0h0M59.4 207.6h0M80.3 255.1h0M59.1 207.6h0M68.1 228.1h0M63.7 263.6h0M67.9 231.2h0M67.3 231.5h0M55.8 225.1h0M55.1 225.8h0M56.0 225.0h0M55.2 225.7h0M89.5 214.8h0M89.1 215.1h0M89.7 214.0h0M89.6 215.2h0M67.6 237.3h0M68.0 237.5h0M67.3 237.5h0M67.9 230.2h0M67.9 230.0h0M67.0 230.3h0M56.0 224.1h0M85.8 208.9h0M85.5 208.7h0M85.2 209.0h0M65.8 233.7h0M67.4 229.5h0M67.4 228.5h0M67.7 228.4h0M81.2 211.0h0M80.7 211.6h0M80.5 210.8h0M55.8 221.8h0M55.5 221.9h0M55.7 221.8h0M90.3 244.2h0M89.8 244.6h0M90.9 244.3h0M90.6 245.0h0M90.1 244.9h0M65.0 215.4h0M65.2 216.0h0M65.4 216.2h0M77.3 240.2h0M77.7 240.3h0M89.5 213.6h0M89.1 213.0h0M89.8 213.5h0"/>
<path stroke="#2a4bb7" stroke-width="0.62" stroke-linecap="square" opacity="0.75" d="M83.0 259.9h0M64.6 218.5h0M65.8 218.8h0M66.7 222.6h0M65.9 223.0h0M64.8 252.4h0M65.4 252.9h0M64.7 252.8h0M89.0 218.7h0M91.0 240.6h0M89.0 217.9h0M90.9 241.1h0M77.0 236.3h0M76.6 236.3h0M56.7 212.2h0M56.8 212.0h0M57.2 212.3h0M56.3 212.5h0M56.8 211.8h0M56.3 212.4h0M65.9 246.7h0M78.3 219.4h0M59.3 265.5h0M58.9 265.0h0M58.8 265.3h0M59.4 265.1h0M58.7 265.0h0M67.1 239.1h0M59.0 264.8h0M67.8 238.1h0M68.0 238.9h0M88.5 258.3h0M90.0 232.3h0M90.9 232.3h0M57.3 213.4h0M57.0 213.3h0M57.4 213.5h0M56.8 213.0h0M56.7 222.2h0M56.8 222.1h0M57.3 221.6h0M55.9 230.5h0M85.0 259.7h0M90.2 243.4h0M77.3 240.6h0M77.3 241.4h0M77.9 220.0h0M76.9 241.0h0M56.2 223.4h0M55.1 222.9h0M56.1 223.1h0M56.2 223.2h0M55.2 222.9h0M66.2 222.0h0M66.0 222.2h0M66.2 221.8h0M84.8 260.4h0M84.0 260.3h0M84.9 259.7h0M88.7 226.0h0M89.6 225.9h0M83.1 209.2h0M83.7 208.9h0M83.7 208.2h0M83.1 208.3h0M82.7 208.7h0M83.2 208.2h0M55.2 226.2h0M55.5 226.6h0M55.9 227.0h0M55.4 227.2h0M66.5 234.6h0M56.2 231.6h0M66.9 235.2h0M89.8 242.1h0M55.0 243.2h0M55.0 243.4h0M55.0 243.4h0M54.1 243.3h0M89.2 224.6h0M89.0 224.1h0M88.9 224.6h0M79.6 213.8h0M79.9 212.8h0M65.9 232.1h0M57.7 261.5h0M58.5 260.9h0M66.8 233.1h0M79.7 213.1h0M58.4 261.6h0M79.2 212.9h0M79.8 213.3h0M57.7 261.7h0M82.6 209.3h0M82.2 209.4h0M81.5 210.4h0M79.0 225.3h0M66.1 225.0h0M66.1 225.1h0M88.1 211.5h0M87.4 210.7h0M54.7 242.6h0M54.1 241.8h0M54.7 241.9h0M54.2 242.1h0M64.9 216.9h0M64.7 217.2h0M65.6 217.5h0M65.3 217.1h0M64.8 216.8h0M87.2 210.0h0M86.4 209.6h0M56.8 223.6h0M65.5 258.3h0M64.6 258.3h0M64.8 257.7h0M80.4 211.9h0M78.2 223.7h0M77.9 224.1h0M77.2 233.1h0M76.9 232.5h0M79.4 216.0h0M79.2 215.3h0M79.8 216.4h0M84.6 208.3h0M84.1 208.2h0M88.6 222.6h0M66.5 245.9h0M84.2 208.1h0M66.5 245.3h0M66.9 246.3h0M89.1 223.4h0M90.3 234.5h0M55.3 239.6h0M55.4 240.2h0M55.8 229.4h0M56.0 228.5h0M56.1 228.7h0M55.4 228.6h0M64.9 256.2h0M65.3 256.8h0M87.1 258.8h0M65.2 256.8h0M78.6 243.8h0M86.9 258.5h0M65.0 256.2h0M65.0 256.1h0M86.6 258.4h0M78.9 243.0h0M82.0 258.9h0M82.2 258.6h0M82.6 259.4h0M88.9 227.0h0M89.6 226.2h0M89.7 239.3h0M78.0 226.7h0M78.6 226.1h0M78.2 223.2h0M79.0 223.0h0M78.4 239.0h0M78.3 222.7h0M78.5 238.8h0M78.9 222.5h0M78.7 222.6h0M77.7 235.5h0M79.9 214.4h0M79.9 214.1h0M55.8 228.4h0M56.5 254.2h0M56.0 228.0h0M55.7 227.3h0M79.0 215.1h0M79.2 214.4h0M55.6 227.9h0M79.8 214.6h0M55.9 227.8h0M78.2 237.3h0M78.0 237.8h0M88.6 221.8h0M89.6 222.3h0M57.3 224.6h0M79.3 217.0h0M79.6 216.8h0M79.1 216.8h0M89.1 221.9h0M56.3 223.6h0M90.3 228.7h0M90.8 229.0h0M88.9 219.3h0M88.7 219.5h0M89.2 219.2h0M63.6 262.8h0M64.0 262.2h0M62.3 265.4h0M62.5 264.8h0M62.6 264.7h0M63.2 265.2h0M79.1 249.3h0M79.2 249.0h0M80.0 248.9h0M89.9 237.0h0M90.0 238.0h0M90.2 237.9h0M90.7 237.5h0M90.8 237.8h0M55.8 241.3h0M55.1 241.5h0M55.1 241.4h0M55.3 241.2h0M65.9 231.9h0M66.8 231.8h0M78.7 242.0h0M78.3 241.6h0M78.3 242.4h0M88.6 221.1h0M89.3 220.5h0M89.2 220.0h0M59.1 264.4h0M55.2 232.3h0M55.7 232.0h0M55.9 232.9h0M56.2 233.0h0M55.6 232.8h0M55.3 233.1h0M55.7 232.6h0M55.8 238.8h0M56.0 238.1h0M55.8 238.2h0M55.5 238.8h0M81.2 252.9h0M81.3 252.6h0M81.0 252.5h0M81.2 252.9h0M80.9 252.7h0M80.9 253.4h0M87.9 217.6h0M87.4 217.3h0M55.6 234.9h0M56.0 235.3h0M55.3 234.4h0M55.9 235.4h0M58.1 209.5h0M66.5 244.4h0M88.1 215.8h0M88.3 215.6h0M81.8 211.3h0M55.6 236.6h0M55.5 236.1h0M77.5 233.4h0M58.0 260.0h0M66.8 230.5h0M57.7 260.6h0M66.1 230.2h0M77.4 233.4h0M65.9 230.3h0M66.4 236.6h0M66.0 235.8h0M66.3 236.5h0M64.3 210.4h0M63.5 209.5h0M56.9 225.5h0M56.5 225.6h0M57.3 225.1h0M55.2 233.5h0M56.2 233.7h0M55.4 233.4h0M55.9 234.1h0M56.2 233.4h0M90.6 231.7h0M65.2 221.0h0M65.2 221.1h0M89.9 230.8h0M90.4 230.9h0M90.1 231.8h0M65.0 221.0h0M64.7 221.0h0M64.8 220.1h0M90.8 231.0h0M81.0 213.6h0M55.9 244.3h0M80.9 213.4h0M81.2 213.9h0M78.4 245.1h0M78.3 244.9h0M55.3 237.1h0M55.7 237.3h0M55.2 237.3h0M55.2 237.5h0M56.1 237.6h0M55.9 237.8h0M66.6 226.5h0M66.8 226.5h0M66.8 227.0h0M66.7 229.5h0M66.2 229.2h0M79.0 240.4h0M79.0 239.3h0M78.0 240.1h0M78.2 239.4h0M78.8 239.6h0M78.1 228.1h0M78.8 227.4h0M90.9 236.5h0M89.8 236.5h0M90.4 235.6h0M90.6 236.7h0M90.1 236.5h0M65.2 251.4h0M59.8 207.6h0M60.2 207.3h0M60.2 207.2h0M66.5 242.8h0M66.8 243.4h0M66.9 243.2h0M66.6 243.4h0M79.6 218.2h0M79.7 217.6h0M79.0 218.6h0M79.3 218.1h0M55.6 241.7h0M56.0 242.2h0M56.2 242.3h0M55.1 242.0h0M89.1 252.6h0M88.8 252.9h0M89.4 253.1h0M88.8 252.7h0M78.4 241.1h0M78.3 240.6h0M78.6 241.4h0M78.0 240.5h0M87.7 214.6h0M87.6 215.1h0M67.0 227.7h0M67.0 227.6h0M85.0 259.3h0M85.6 258.9h0M66.9 228.2h0M88.3 256.8h0M87.7 256.7h0M86.1 258.5h0M80.5 215.6h0M80.6 215.7h0M81.2 215.2h0M90.2 230.5h0M90.0 229.7h0M89.9 229.7h0M90.7 230.1h0M57.8 258.6h0M88.1 218.2h0M87.6 212.6h0M88.2 212.7h0M87.4 218.6h0M66.3 242.3h0M66.9 242.0h0M87.7 212.1h0M88.2 211.8h0M57.9 258.7h0M87.8 218.4h0M66.4 242.4h0M87.8 211.7h0M66.5 242.4h0M87.9 212.3h0M80.7 214.9h0M80.3 251.9h0M78.9 236.5h0M78.7 236.2h0M78.4 235.6h0M77.9 236.7h0M79.0 236.5h0M78.6 235.9h0M60.0 265.0h0M60.7 265.3h0M78.6 246.8h0M60.5 265.0h0M78.8 246.7h0M78.6 247.2h0M60.9 264.5h0M82.0 257.5h0M82.2 257.9h0M82.5 257.8h0M82.0 257.3h0M81.6 212.7h0M82.3 212.7h0M82.4 212.1h0M82.2 211.9h0M88.9 233.5h0M88.7 234.0h0M57.6 257.3h0M58.1 258.1h0M58.2 257.3h0M67.0 237.8h0M66.6 237.9h0M65.9 237.9h0M55.6 243.2h0M55.5 243.7h0M55.3 243.1h0M55.5 243.4h0M88.7 227.3h0M89.2 227.3h0M88.8 227.3h0M81.2 216.6h0M89.7 250.0h0M79.7 225.2h0M88.8 250.6h0M79.3 225.8h0M79.5 224.9h0M79.6 225.1h0M56.5 227.2h0M57.3 226.1h0M80.2 219.4h0M83.0 258.5h0M79.9 219.5h0M80.0 219.3h0M83.3 258.7h0M79.2 219.9h0M83.7 258.5h0M79.1 220.0h0M82.9 259.4h0M79.1 220.0h0M83.0 259.3h0M56.5 253.1h0M56.8 253.2h0M56.3 253.0h0M56.8 252.4h0M56.7 253.5h0M56.6 253.4h0M66.1 241.4h0M67.0 240.9h0M85.9 210.2h0M65.5 224.1h0M85.3 210.4h0M86.0 210.1h0M65.7 223.8h0M87.9 213.0h0M87.9 213.5h0M87.9 213.0h0M78.5 246.2h0M78.0 246.3h0M78.3 245.2h0M78.4 245.4h0M83.7 209.7h0M82.8 209.8h0M82.8 209.2h0M83.5 210.4h0M78.8 231.0h0M77.9 231.3h0M88.8 252.2h0M89.7 251.3h0M89.1 252.4h0M89.7 252.0h0M84.9 259.0h0M83.9 259.3h0M84.2 258.7h0M84.2 258.6h0M86.4 257.5h0M86.5 257.8h0M86.6 258.0h0M86.5 258.1h0M58.7 262.1h0M82.5 255.4h0M59.7 262.6h0M59.4 262.7h0M81.9 255.0h0M82.5 255.9h0M58.7 263.0h0M82.1 254.9h0M81.9 255.0h0M87.9 221.1h0M88.5 220.4h0M87.7 220.5h0M65.1 232.9h0M64.9 232.9h0M65.1 233.2h0M61.3 265.3h0M61.2 264.4h0M61.3 265.1h0M87.4 218.9h0M61.5 265.1h0M88.1 218.9h0M61.9 264.7h0M87.9 219.2h0M88.4 219.5h0M61.4 264.5h0M87.9 219.1h0M62.2 264.6h0M78.8 228.8h0M77.9 229.2h0M78.6 229.5h0M79.3 220.2h0M79.1 220.3h0M63.6 260.4h0M64.1 259.9h0M79.1 221.2h0M63.4 260.2h0M80.1 220.1h0M79.4 239.1h0M80.1 238.8h0M79.0 238.5h0M87.0 211.2h0M87.2 210.6h0M87.0 211.5h0M86.6 210.4h0M89.0 240.8h0M88.8 240.8h0M89.5 240.9h0M89.6 241.5h0M81.9 256.6h0M81.8 257.1h0M82.5 256.0h0M82.6 256.5h0M81.8 256.9h0M78.8 230.8h0M78.8 229.7h0M78.3 230.0h0M65.6 250.8h0M64.6 250.4h0M80.4 250.6h0M80.3 250.9h0M80.9 250.2h0M56.2 251.6h0M88.5 222.0h0M87.9 221.3h0M57.1 252.0h0M88.4 221.9h0M57.0 251.8h0M79.8 236.9h0M79.7 237.3h0M65.4 225.0h0M65.4 225.1h0M65.8 225.7h0M88.9 249.8h0M89.4 249.5h0M88.9 249.0h0M79.1 224.0h0M79.4 224.3h0M79.8 224.3h0M79.3 224.1h0M87.1 215.2h0M86.3 215.5h0M86.9 216.4h0M87.2 215.6h0M86.2 215.5h0M86.7 215.7h0M87.1 216.2h0M86.7 216.1h0M65.8 238.1h0M66.5 238.2h0M66.8 238.9h0M83.9 215.7h0M84.5 216.1h0M84.2 215.8h0M84.4 216.2h0M83.9 216.2h0M83.9 215.3h0M66.0 239.3h0M65.8 240.0h0M66.5 239.6h0M66.1 239.9h0M66.0 239.9h0M65.9 239.5h0M66.3 239.3h0M81.7 213.3h0M81.6 213.7h0M81.7 212.9h0M81.8 213.8h0M81.5 213.1h0M82.4 254.3h0M65.1 222.4h0M65.2 222.8h0M62.9 263.8h0M65.0 223.4h0M63.3 263.6h0M65.0 222.6h0M62.6 263.2h0M64.8 223.4h0M82.1 254.5h0M65.4 222.7h0M65.1 233.8h0M65.5 233.8h0M65.0 233.7h0M65.0 233.7h0M78.5 232.6h0M78.7 233.2h0M78.4 233.0h0M78.6 232.5h0M78.5 232.6h0M65.7 221.3h0M65.4 221.4h0M65.3 221.7h0M64.3 210.8h0M64.3 211.5h0M65.1 221.8h0M65.5 222.4h0M81.4 218.0h0M80.3 218.4h0M83.3 211.5h0M80.4 218.0h0M83.7 211.1h0M80.4 218.6h0M83.4 211.4h0M83.0 211.0h0M80.7 217.7h0M87.1 217.5h0M86.7 217.5h0M86.4 216.5h0M89.7 237.6h0M89.7 232.1h0M64.1 258.6h0M64.5 259.1h0M63.8 259.0h0M88.8 233.1h0M89.5 232.6h0M56.7 228.3h0M56.9 228.3h0M56.7 228.2h0M79.6 226.9h0M80.0 226.4h0M79.9 226.7h0M79.8 226.9h0M80.1 227.0h0M81.5 215.7h0M82.1 215.2h0M82.1 216.0h0M81.6 216.2h0M82.2 215.4h0M81.8 215.8h0M82.3 216.2h0M57.2 251.2h0M56.2 250.5h0M79.9 248.2h0M80.1 247.7h0M79.8 248.7h0M79.4 247.9h0M57.1 250.7h0M79.0 247.8h0M65.1 248.8h0M65.2 249.4h0M84.5 209.9h0M84.3 209.4h0M84.8 209.6h0M84.7 210.1h0M84.0 209.7h0M84.2 210.2h0M81.7 217.2h0M81.8 216.4h0M81.6 216.9h0M82.0 217.4h0M88.0 223.5h0M87.9 223.2h0M87.8 222.9h0M88.1 223.0h0M87.5 222.5h0M88.5 222.7h0M88.5 223.1h0M87.8 222.7h0M81.4 214.5h0M82.4 215.1h0M81.5 215.1h0M81.9 214.6h0M87.9 223.9h0M88.2 223.8h0M84.3 214.1h0M84.8 214.1h0M86.8 214.6h0M85.2 215.1h0M86.5 214.5h0M85.3 214.1h0M86.6 214.8h0M86.8 214.9h0M87.4 214.7h0M87.2 214.6h0M85.2 215.0h0M87.9 225.6h0M88.2 225.8h0M87.8 224.8h0M88.5 225.8h0M87.7 225.1h0M87.5 226.0h0M88.1 224.8h0M84.3 216.5h0M83.2 216.2h0M83.6 215.6h0M83.5 216.3h0M78.7 235.5h0M78.4 234.5h0M78.5 235.1h0M78.4 235.3h0M65.5 231.8h0M65.2 231.9h0M65.3 231.2h0M65.1 231.2h0M65.7 231.9h0M65.1 231.0h0M79.2 222.1h0M80.0 221.7h0M79.4 221.5h0M79.8 221.7h0M79.2 221.3h0M79.5 221.4h0M79.0 221.9h0M83.2 211.7h0M82.8 211.7h0M83.2 211.7h0M82.6 211.6h0M83.5 212.2h0M88.7 235.4h0M89.1 234.5h0M89.5 235.0h0M88.7 234.9h0M80.9 219.5h0M80.6 218.8h0M81.4 218.9h0M80.9 219.2h0M80.8 219.6h0"/>
<path stroke="#2b53be" stroke-width="0.62" stroke-linecap="square" opacity="0.9" d="M83.3 216.4h0M82.7 216.5h0M82.7 217.0h0M82.7 217.3h0M56.8 231.5h0M57.3 230.8h0M57.3 231.5h0M58.0 211.2h0M57.9 210.5h0M85.9 216.6h0M86.2 217.0h0M85.3 217.5h0M86.0 217.5h0M85.8 216.6h0M85.3 216.5h0M85.6 217.5h0M57.0 232.5h0M80.2 240.1h0M79.9 239.9h0M86.7 217.7h0M87.3 218.5h0M79.4 239.9h0M86.8 218.8h0M86.7 217.8h0M79.1 239.9h0M86.5 218.2h0M57.0 236.2h0M57.4 236.5h0M56.4 236.5h0M89.2 245.2h0M89.0 245.8h0M56.8 249.5h0M79.3 241.8h0M79.9 242.6h0M79.9 242.0h0M79.8 241.7h0M56.9 249.9h0M57.4 249.7h0M57.2 228.5h0M56.5 229.6h0M56.8 228.6h0M57.3 229.2h0M79.9 223.6h0M82.4 218.0h0M82.5 218.4h0M80.0 223.2h0M80.1 223.4h0M82.4 218.2h0M81.8 218.7h0M81.5 218.4h0M64.9 248.1h0M86.7 220.4h0M65.0 248.7h0M86.6 220.6h0M65.4 247.7h0M65.0 247.7h0M63.6 258.4h0M63.4 257.5h0M83.4 214.3h0M89.4 244.9h0M83.3 215.2h0M83.7 214.9h0M83.5 214.4h0M88.7 244.8h0M83.0 215.2h0M57.1 247.7h0M87.5 226.0h0M88.0 226.1h0M56.4 248.1h0M87.7 226.1h0M57.0 248.1h0M56.9 230.2h0M56.9 230.4h0M56.8 230.2h0M57.2 230.3h0M56.5 235.1h0M78.4 234.1h0M78.9 233.3h0M78.3 233.8h0M79.2 243.8h0M78.0 233.9h0M79.7 243.5h0M77.9 233.2h0M80.0 243.5h0M56.3 234.9h0M78.5 233.4h0M78.8 233.8h0M78.3 233.2h0M78.6 233.6h0M65.5 226.8h0M65.1 226.7h0M65.0 226.8h0M65.7 227.0h0M64.7 226.3h0M64.8 226.6h0M65.6 226.5h0M65.2 226.8h0M87.0 219.6h0M86.3 219.8h0M87.0 219.7h0M87.1 219.9h0M86.3 219.6h0M86.5 219.3h0M86.8 219.5h0M57.2 237.1h0M57.1 237.1h0M57.0 236.9h0M57.1 237.4h0M56.9 237.4h0M83.6 212.9h0M83.6 213.0h0M83.6 212.8h0M82.9 213.1h0M83.4 213.1h0M83.7 213.3h0M89.0 248.0h0M56.9 233.2h0M57.4 234.3h0M56.7 234.3h0M89.8 248.8h0M88.8 247.9h0M89.7 247.7h0M88.6 242.1h0M81.1 220.2h0M88.7 242.1h0M81.3 220.1h0M89.4 242.0h0M89.7 242.4h0M89.4 242.3h0M89.4 242.7h0M89.1 241.7h0M84.5 213.3h0M84.1 212.8h0M84.9 213.1h0M83.9 213.3h0M84.1 213.5h0M84.0 213.5h0M85.5 211.3h0M86.2 211.0h0M85.9 210.8h0M85.5 211.2h0M60.3 263.7h0M59.9 264.2h0M60.6 263.9h0M89.3 246.8h0M79.4 240.9h0M89.2 247.1h0M80.1 240.7h0M79.5 241.0h0M79.2 241.1h0M89.6 246.8h0M88.9 247.2h0M89.4 246.8h0M89.0 244.0h0M86.3 213.6h0M89.1 243.3h0M89.5 243.3h0M87.0 213.1h0M86.6 213.9h0M86.9 212.9h0M87.1 213.3h0M64.7 229.7h0M65.1 229.7h0M86.9 212.2h0M86.4 212.1h0M86.6 212.1h0M86.8 212.2h0M86.6 212.1h0M86.3 211.8h0M84.5 211.5h0M83.9 211.1h0M84.1 211.4h0M84.2 210.4h0M84.3 211.5h0M84.1 210.8h0M83.8 210.6h0M82.9 217.9h0M83.5 217.9h0M83.7 217.9h0M82.8 218.5h0M56.3 238.3h0M56.5 238.6h0M56.8 238.9h0M82.8 218.6h0M56.4 238.6h0M57.4 238.0h0M57.3 246.5h0M56.3 246.9h0M56.3 247.1h0M56.4 246.6h0M56.3 247.5h0M82.0 219.4h0M82.3 219.1h0M81.5 219.9h0M65.1 227.7h0M65.3 227.9h0M64.9 227.2h0M64.8 227.3h0M86.8 222.2h0M86.7 221.5h0M85.5 213.5h0M86.5 222.2h0M85.9 213.0h0M87.1 222.3h0M86.2 213.2h0M85.4 213.1h0M87.1 222.3h0M65.8 228.6h0M65.3 228.6h0M65.0 228.8h0M65.2 228.8h0M64.8 228.6h0M64.9 229.3h0M65.6 228.8h0M58.9 261.5h0M59.7 260.9h0M59.1 261.9h0M58.1 255.1h0M85.9 218.2h0M58.0 255.4h0M85.4 217.6h0M57.6 255.4h0M85.6 218.6h0M58.0 256.0h0M85.2 217.7h0M58.3 255.9h0M84.2 218.2h0M84.4 217.9h0M84.7 218.2h0M84.0 217.7h0M84.6 218.4h0M84.0 218.3h0M88.8 228.7h0M89.3 229.6h0M89.3 228.7h0M88.6 228.6h0M89.1 229.1h0M89.0 229.2h0M88.9 228.4h0M56.4 240.0h0M56.9 239.5h0M56.4 240.1h0M65.3 246.5h0M88.4 238.2h0M87.8 238.9h0M65.7 246.5h0M64.8 247.0h0M88.4 239.0h0M88.6 238.3h0M65.0 246.9h0M65.7 247.4h0M88.4 255.8h0M87.7 255.6h0M57.4 241.3h0M56.4 240.5h0M57.2 241.3h0M64.4 212.5h0M64.5 212.2h0M87.7 234.2h0M88.6 233.6h0M88.0 234.0h0M85.1 257.5h0M86.0 258.3h0M85.5 257.9h0M85.2 257.6h0M86.1 258.2h0M85.1 257.9h0M79.3 235.7h0M65.1 235.2h0M64.8 234.8h0M79.7 235.9h0M65.1 234.7h0M79.9 236.0h0M83.2 257.2h0M83.2 257.6h0M82.7 258.2h0M83.3 257.6h0M82.7 257.8h0M83.7 258.4h0M88.8 235.6h0M88.8 235.9h0M89.5 236.6h0M89.3 236.7h0M89.5 236.1h0M89.5 236.6h0M89.1 236.0h0M88.6 236.6h0M88.8 235.6h0M88.8 235.6h0M64.2 256.0h0M64.5 256.8h0M63.9 256.4h0M63.6 257.1h0M88.0 240.1h0M88.5 239.4h0M81.2 249.0h0M81.0 249.1h0M85.4 211.7h0M85.3 211.9h0M85.3 212.0h0M86.1 211.7h0M85.3 211.7h0M86.2 212.7h0M85.2 211.7h0M85.0 212.0h0M79.3 245.0h0M79.7 244.3h0M79.5 244.7h0M79.2 244.4h0M80.6 238.2h0M80.9 238.9h0M80.3 238.5h0M81.2 239.1h0M81.4 238.3h0M86.2 219.3h0M85.2 219.1h0M85.5 219.9h0M85.5 219.8h0M79.4 227.5h0M80.2 228.1h0M80.1 228.4h0M80.2 227.8h0M80.0 227.9h0M79.7 227.6h0M87.9 227.3h0M88.3 228.1h0M88.0 227.3h0M79.2 247.4h0M80.1 246.6h0M80.0 246.7h0M80.1 246.9h0M79.8 246.7h0M79.8 247.1h0M63.9 255.7h0M64.7 245.3h0M64.3 255.1h0M65.4 246.3h0M65.0 245.9h0M64.2 255.0h0M65.3 246.0h0M80.3 225.3h0M61.8 263.4h0M61.3 264.2h0M61.6 263.7h0M59.0 208.5h0M89.2 231.5h0M88.9 231.1h0M59.1 208.7h0M59.8 208.3h0M88.6 231.7h0M89.7 231.1h0M62.8 262.3h0M62.8 262.5h0M62.9 262.9h0M62.3 262.6h0M63.2 262.5h0M63.4 263.0h0M86.9 223.1h0M86.8 223.3h0M86.2 223.0h0M86.2 222.7h0M86.4 222.6h0M82.0 220.2h0M81.8 220.1h0M81.4 220.4h0M57.6 215.5h0M81.8 253.0h0M81.6 252.7h0M84.9 258.0h0M84.1 258.3h0M84.8 257.8h0M62.7 209.0h0M62.5 208.2h0M58.2 211.6h0M83.0 219.5h0M82.6 219.0h0M83.8 219.1h0M82.9 219.4h0M83.6 219.5h0M65.4 236.3h0M65.7 235.9h0M64.8 236.0h0M65.7 236.8h0M65.6 236.1h0M86.6 224.8h0M86.9 223.9h0M86.7 223.8h0M87.0 224.4h0M87.1 224.5h0M85.3 220.3h0M85.7 221.2h0M80.6 237.7h0M85.0 220.5h0M81.3 237.5h0M85.9 220.3h0M81.4 237.1h0M80.7 237.2h0M80.9 221.2h0M81.0 222.1h0M80.2 221.6h0M80.3 222.1h0M81.2 221.4h0M81.2 222.2h0M80.6 221.4h0M58.1 214.7h0M79.5 245.6h0M79.8 245.8h0M79.3 246.3h0M79.8 246.2h0M79.3 245.7h0M79.7 245.5h0M79.7 245.8h0M79.3 245.8h0M80.2 246.0h0M57.1 245.7h0M56.4 245.5h0M57.1 246.0h0M56.8 245.2h0M57.1 245.9h0M63.7 212.9h0M64.5 213.2h0M87.5 235.4h0M87.5 235.6h0M88.5 234.8h0M88.4 234.8h0M87.5 235.1h0M84.8 220.0h0M84.1 219.9h0M84.3 219.0h0M84.4 219.3h0M80.6 240.2h0M80.9 239.9h0M80.3 239.2h0M80.5 239.2h0M80.4 239.7h0M88.6 230.8h0M89.1 230.0h0M81.4 226.7h0M81.3 226.4h0M80.7 226.5h0M81.2 226.7h0M89.1 229.9h0M89.1 230.3h0M58.3 217.3h0M58.2 217.4h0M58.2 217.1h0M58.0 217.3h0M57.7 216.4h0M64.9 237.1h0M65.6 237.2h0M64.6 237.7h0M56.7 243.0h0M57.0 243.4h0M56.7 243.5h0M56.9 243.7h0M65.0 244.1h0M64.8 245.2h0M65.6 244.6h0M65.3 244.5h0M64.9 244.0h0M64.6 244.1h0M65.1 244.4h0M87.4 225.4h0M86.5 225.6h0M86.9 225.9h0M86.9 225.4h0M58.4 212.9h0M57.6 213.2h0M58.6 213.4h0M57.8 212.9h0M83.4 256.7h0M83.6 257.1h0M83.2 256.5h0M83.2 257.1h0M83.4 256.3h0M83.8 257.1h0M83.2 256.8h0M61.0 262.2h0M60.6 262.4h0M60.3 262.9h0M60.7 262.5h0M60.7 263.0h0M60.6 262.1h0M60.6 262.4h0M60.4 262.1h0M86.4 256.5h0M80.7 224.1h0M86.4 256.1h0M86.8 256.3h0M80.7 224.2h0M80.5 224.5h0M80.8 224.7h0M87.3 257.0h0M88.3 232.1h0M87.8 233.1h0M87.8 232.2h0M87.9 232.6h0M88.0 233.0h0M88.6 232.3h0M87.6 237.7h0M87.6 237.2h0M88.5 237.1h0M87.6 237.3h0M80.2 233.2h0M79.8 235.4h0M79.2 234.6h0M87.2 233.8h0M86.2 233.5h0M87.1 233.7h0M79.4 235.6h0M86.8 234.2h0M87.2 234.1h0M86.9 233.9h0M57.6 221.7h0M59.7 259.9h0M59.1 260.6h0M59.1 260.1h0M58.7 260.0h0M59.1 260.4h0M59.7 259.9h0M58.8 259.9h0M59.8 260.2h0M64.2 215.1h0M64.5 214.0h0M58.1 220.1h0M58.3 220.4h0M57.9 220.7h0M57.8 220.7h0M58.0 220.4h0M57.3 244.8h0M57.4 244.4h0M80.0 231.9h0M57.4 244.4h0M56.9 244.8h0M79.8 231.0h0M79.2 231.3h0M56.4 245.1h0M57.0 244.6h0M56.8 244.6h0M79.6 231.2h0M79.4 231.5h0M57.0 244.0h0M81.4 241.2h0M80.8 241.1h0M80.7 240.8h0M80.6 241.1h0M81.0 241.6h0M80.7 240.4h0M80.3 240.7h0M57.7 217.8h0M57.9 217.8h0M58.1 218.7h0M85.2 222.4h0M85.1 221.3h0M85.7 222.1h0M86.0 221.5h0M86.2 221.3h0M65.7 243.2h0M65.2 243.8h0M64.8 243.0h0M79.8 228.8h0M79.4 229.4h0M79.2 228.9h0M80.0 229.1h0M79.5 229.2h0M86.2 226.6h0M87.2 226.9h0M87.4 226.1h0M87.0 226.4h0M87.1 226.3h0M86.9 226.6h0M86.4 227.0h0M81.7 239.1h0M82.0 238.6h0M82.4 238.3h0M81.8 238.5h0M82.4 238.9h0M82.1 239.1h0M83.8 255.8h0M83.7 255.3h0M82.8 255.0h0M83.6 255.7h0M64.8 242.6h0M65.4 242.1h0M64.6 242.7h0M64.8 241.6h0M64.8 242.6h0M64.8 242.2h0M58.3 219.4h0M57.5 219.0h0M57.9 219.1h0M57.8 219.5h0M80.6 223.5h0M80.6 222.9h0M81.2 222.5h0M81.0 222.7h0M80.4 223.0h0M80.3 222.8h0M80.5 223.3h0M81.1 223.4h0M88.0 253.6h0M87.5 254.4h0M88.3 254.3h0M88.1 254.5h0M79.8 233.9h0M79.9 233.5h0M79.7 234.1h0M79.4 234.1h0M79.9 233.7h0M64.7 238.8h0M64.8 238.2h0M65.6 238.1h0M65.3 238.6h0M64.8 238.1h0M62.7 261.8h0M63.3 261.6h0M62.4 261.0h0M62.4 261.5h0M63.1 261.7h0M62.4 261.1h0M62.9 261.3h0M63.2 262.0h0M62.3 261.9h0M62.4 261.8h0M65.0 240.5h0M82.9 220.3h0M83.0 220.7h0M82.7 220.3h0M83.3 220.4h0M65.0 240.5h0M83.8 220.7h0M65.4 240.7h0M83.3 220.2h0M83.6 220.3h0M82.7 221.1h0M87.7 241.2h0M87.5 241.2h0M88.2 241.2h0M88.4 240.5h0M87.5 240.8h0M57.5 223.4h0M57.6 222.4h0M58.5 223.4h0M82.1 239.9h0M82.5 239.5h0M82.2 240.4h0M82.4 239.3h0M81.6 239.6h0M81.5 240.1h0M58.2 253.8h0M58.5 254.0h0M58.4 254.5h0M88.0 229.2h0M88.6 229.3h0M88.2 229.4h0M87.8 228.7h0M88.4 228.6h0M87.9 228.8h0M88.2 228.5h0M87.9 229.4h0M81.9 221.7h0M81.7 221.7h0M81.6 222.3h0M81.6 221.5h0M80.0 229.9h0M79.9 230.6h0M80.1 229.7h0M79.4 229.9h0M79.3 229.9h0M80.0 230.1h0M79.1 230.6h0M79.5 230.7h0M79.6 229.8h0M80.1 230.5h0M86.9 228.1h0M86.7 227.3h0M86.3 227.8h0M86.9 227.7h0M87.2 227.8h0M86.5 227.7h0M86.4 227.4h0M87.0 227.8h0"/>
<path stroke="#2c5bc5" stroke-width="0.62" stroke-linecap="square" opacity="1" d="M84.0 220.1h0M84.0 221.0h0M84.2 220.9h0M84.6 220.6h0M84.1 220.8h0M84.0 220.9h0M83.9 220.1h0M85.0 221.2h0M88.3 236.4h0M88.2 236.3h0M88.6 236.1h0M87.7 236.7h0M87.6 236.0h0M88.1 236.5h0M88.2 236.5h0M64.2 216.1h0M64.1 215.4h0M64.4 215.4h0M64.5 216.1h0M80.5 241.7h0M81.1 242.1h0M80.6 242.2h0M80.3 242.7h0M80.6 241.8h0M64.9 240.3h0M64.7 240.4h0M65.1 239.3h0M65.7 239.4h0M64.7 239.6h0M64.8 239.7h0M64.9 240.1h0M85.2 224.5h0M85.9 224.8h0M85.8 223.7h0M85.5 224.0h0M85.1 224.0h0M85.8 224.1h0M80.8 248.5h0M81.3 247.8h0M80.9 247.8h0M85.6 223.1h0M85.9 223.4h0M86.0 223.1h0M85.6 222.7h0M81.3 236.6h0M80.2 236.7h0M81.3 235.9h0M81.2 235.9h0M80.2 236.2h0M80.8 236.7h0M81.2 236.4h0M81.0 235.8h0M85.1 224.9h0M85.4 225.6h0M85.2 225.4h0M85.1 224.9h0M85.4 224.9h0M85.7 225.6h0M61.6 262.2h0M61.8 262.7h0M61.4 262.0h0M61.0 262.2h0M61.6 262.8h0M61.5 262.4h0M61.1 262.9h0M61.6 262.7h0M61.3 262.8h0M61.4 262.9h0M61.8 262.9h0M61.3 262.1h0M86.2 235.2h0M86.8 234.8h0M87.4 234.4h0M63.5 252.7h0M63.9 252.8h0M82.5 251.3h0M82.2 251.7h0M81.8 252.4h0M82.0 252.1h0M81.7 251.5h0M81.8 251.8h0M64.2 218.3h0M64.1 218.1h0M63.7 218.1h0M63.8 217.5h0M63.8 216.5h0M81.4 227.3h0M81.0 228.3h0M80.6 227.8h0M81.1 228.3h0M80.7 227.8h0M80.7 227.3h0M81.9 237.1h0M82.1 236.9h0M82.6 236.9h0M81.8 237.6h0M82.2 237.4h0M81.9 225.3h0M64.2 219.3h0M82.2 225.2h0M64.1 219.8h0M81.8 225.9h0M82.4 225.7h0M82.3 224.9h0M64.1 219.8h0M81.5 225.7h0M82.6 225.3h0M64.1 220.0h0M62.7 260.0h0M63.0 260.7h0M62.4 260.6h0M62.9 260.5h0M60.0 261.5h0M60.7 261.6h0M60.7 261.5h0M60.6 261.6h0M60.7 261.1h0M87.0 232.1h0M86.3 232.6h0M87.2 232.7h0M87.3 232.7h0M87.4 233.1h0M86.4 232.0h0M86.8 232.4h0M81.8 226.6h0M82.0 227.0h0M81.5 226.7h0M81.7 226.7h0M82.6 226.4h0M81.4 226.2h0M81.8 226.3h0M87.9 253.0h0M87.4 253.1h0M87.9 252.6h0M88.5 252.4h0M87.4 253.3h0M58.5 224.0h0M57.8 224.4h0M58.1 223.7h0M58.4 224.1h0M83.7 254.0h0M83.5 253.7h0M83.6 253.7h0M85.9 226.5h0M85.0 226.0h0M85.8 226.1h0M85.1 226.3h0M86.1 227.0h0M85.8 226.0h0M85.4 226.2h0M86.0 226.7h0M59.5 259.3h0M59.0 258.6h0M59.7 259.1h0M59.3 259.5h0M59.7 259.1h0M58.6 259.3h0M59.7 259.5h0M58.8 258.7h0M58.3 237.1h0M58.3 237.1h0M58.0 237.0h0M58.5 237.4h0M85.9 233.6h0M85.0 234.2h0M85.2 234.1h0M84.3 256.2h0M84.6 256.6h0M84.1 256.5h0M84.3 256.0h0M84.8 256.7h0M84.8 256.3h0M84.0 256.1h0M81.5 240.7h0M81.5 240.6h0M81.8 240.6h0M82.5 240.9h0M82.0 241.5h0M81.5 240.7h0M82.0 241.0h0M81.8 241.1h0M82.2 240.4h0M82.4 240.9h0M82.1 241.2h0M84.0 225.4h0M84.8 225.4h0M84.8 225.2h0M84.8 225.7h0M87.6 231.1h0M87.8 231.6h0M88.2 231.0h0M88.1 231.0h0M87.6 231.1h0M88.3 232.0h0M87.5 231.5h0M87.6 230.9h0M87.9 231.9h0M88.2 231.3h0M86.9 229.5h0M86.5 228.5h0M86.7 229.0h0M88.3 251.0h0M88.1 250.2h0M87.6 250.7h0M88.5 250.6h0M88.1 250.7h0M88.4 251.0h0M88.1 250.3h0M87.6 251.3h0M83.5 238.6h0M83.3 238.9h0M87.6 251.7h0M87.7 251.4h0M82.7 238.0h0M87.5 251.9h0M87.6 251.3h0M83.5 238.0h0M87.8 251.5h0M80.2 242.9h0M80.2 243.4h0M80.9 243.9h0M81.1 243.4h0M81.2 243.6h0M80.6 243.0h0M80.2 247.3h0M81.4 246.9h0M80.5 246.4h0M80.3 247.0h0M80.4 246.4h0M81.0 247.0h0M81.3 246.6h0M83.7 240.0h0M83.6 239.6h0M83.3 240.2h0M85.9 256.0h0M85.6 256.3h0M85.8 256.6h0M85.9 256.7h0M86.1 256.4h0M86.1 256.2h0M85.9 227.4h0M85.6 227.4h0M86.1 228.3h0M85.9 227.4h0M85.2 227.6h0M85.3 227.7h0M57.7 252.8h0M58.3 253.5h0M58.3 252.6h0M58.5 252.7h0M58.5 252.6h0M84.5 221.3h0M84.4 221.7h0M84.3 221.6h0M84.7 222.2h0M84.2 221.9h0M84.0 221.4h0M84.3 222.1h0M87.6 229.9h0M88.0 229.9h0M87.7 230.1h0M87.4 230.3h0M87.8 230.4h0M88.1 229.8h0M87.6 230.3h0M87.7 229.8h0M88.3 230.0h0M83.2 222.3h0M83.7 221.9h0M82.8 222.3h0M82.9 221.3h0M83.0 221.8h0M83.1 221.3h0M83.5 221.8h0M81.2 245.9h0M81.3 246.0h0M80.3 245.9h0M63.7 233.9h0M64.2 233.5h0M63.5 233.3h0M64.1 233.4h0M84.6 226.4h0M83.9 226.2h0M84.8 226.6h0M84.4 227.0h0M84.1 226.9h0M84.9 227.0h0M84.9 226.2h0M62.5 259.5h0M62.6 259.0h0M62.6 258.6h0M62.6 259.6h0M62.7 259.5h0M62.2 258.7h0M63.1 258.6h0M62.7 259.2h0M62.4 259.0h0M62.8 258.4h0M80.3 235.1h0M81.4 234.9h0M81.3 235.2h0M80.8 234.9h0M80.9 234.9h0M80.4 234.9h0M80.4 234.9h0M81.1 235.0h0M80.2 234.6h0M80.3 235.5h0M80.6 235.4h0M83.2 225.8h0M83.3 225.5h0M83.0 225.9h0M82.8 225.4h0M81.7 250.3h0M82.5 251.2h0M82.0 250.8h0M81.7 250.2h0M82.2 250.0h0M81.8 250.2h0M82.5 223.6h0M81.9 222.9h0M82.3 223.0h0M82.0 223.1h0M81.6 223.0h0M82.9 227.1h0M82.6 226.2h0M83.0 226.8h0M83.1 227.1h0M82.7 226.2h0M82.9 226.9h0M88.0 242.0h0M80.9 244.0h0M80.7 244.4h0M81.3 244.5h0M87.9 242.7h0M87.7 242.4h0M87.6 242.0h0M87.5 241.8h0M87.9 242.6h0M81.3 244.9h0M81.1 244.4h0M87.7 242.4h0M88.4 242.3h0M81.1 245.0h0M80.9 244.8h0M81.2 244.3h0M88.5 241.8h0M85.3 232.4h0M85.7 232.2h0M86.2 232.9h0M85.7 232.1h0M85.9 232.4h0M81.7 223.8h0M59.2 258.3h0M82.3 224.5h0M81.6 224.3h0M59.5 258.1h0M81.6 223.7h0M59.2 258.3h0M59.2 258.2h0M82.4 224.1h0M82.4 223.6h0M81.9 223.6h0M82.4 224.7h0M81.9 224.7h0M82.1 224.3h0M59.6 257.7h0M59.7 257.9h0M82.1 224.3h0M82.6 223.7h0M80.6 232.1h0M81.2 232.2h0M81.2 232.2h0M80.4 233.0h0M81.2 232.6h0M81.4 232.0h0M81.4 233.1h0M80.3 232.8h0M80.3 228.9h0M80.9 228.8h0M81.3 228.9h0M80.3 229.1h0M80.6 228.4h0M80.9 229.3h0M80.4 229.3h0M80.3 229.4h0M80.8 228.7h0M80.3 229.2h0M57.6 238.6h0M58.3 239.0h0M57.5 238.1h0M84.5 224.7h0M84.8 224.5h0M84.1 224.6h0M84.5 224.5h0M84.0 223.9h0M84.5 223.9h0M84.2 224.4h0M80.6 233.6h0M80.2 233.4h0M80.7 233.5h0M80.3 234.3h0M80.6 233.7h0M80.7 233.2h0M80.4 233.4h0M80.8 234.4h0M81.2 233.9h0M57.8 236.1h0M57.6 236.6h0M57.4 236.1h0M57.6 236.2h0M61.7 261.3h0M61.7 261.0h0M62.1 260.9h0M61.5 260.9h0M64.6 232.0h0M64.3 232.1h0M81.8 228.2h0M81.6 228.1h0M81.7 227.3h0M81.8 228.2h0M81.9 227.6h0M81.8 227.4h0M82.5 227.3h0M82.5 228.3h0M81.9 235.7h0M82.3 236.6h0M81.6 235.7h0M81.7 236.5h0M63.7 220.4h0M81.9 235.7h0M63.8 220.5h0M64.0 220.2h0M81.8 236.0h0M81.5 235.8h0M81.8 236.1h0M82.1 235.8h0M82.4 236.7h0M57.7 225.2h0M80.3 231.4h0M81.0 231.2h0M80.7 231.7h0M81.1 231.0h0M58.5 225.5h0M80.3 231.1h0M81.1 231.9h0M80.2 231.4h0M81.3 231.6h0M58.3 225.4h0M80.7 231.3h0M81.4 231.9h0M58.0 252.4h0M57.6 252.2h0M58.5 252.0h0M58.1 252.0h0M58.5 251.9h0M88.2 249.2h0M87.9 249.1h0M87.9 249.0h0M87.9 249.3h0M87.6 249.2h0M83.7 237.8h0M82.9 237.5h0M83.0 236.9h0M83.7 237.4h0M83.6 237.8h0M82.9 237.0h0M83.1 237.9h0M83.1 237.7h0M82.7 237.2h0M84.8 222.9h0M84.7 223.0h0M84.4 223.5h0M83.8 223.5h0M84.9 222.9h0M84.7 222.5h0M84.0 222.7h0M83.8 222.9h0M84.9 223.1h0M84.7 223.3h0M84.2 223.1h0M83.9 233.2h0M84.8 232.4h0M84.7 232.5h0M84.8 232.1h0M84.0 232.2h0M83.9 232.9h0M84.4 232.6h0M84.3 232.6h0M84.7 232.7h0M84.9 232.3h0M86.0 229.0h0M85.0 229.5h0M85.3 229.1h0M85.1 234.6h0M86.1 235.2h0M86.0 235.5h0M85.4 235.4h0M80.2 229.9h0M80.8 229.9h0M81.1 229.6h0M86.0 235.4h0M80.5 230.3h0M85.7 235.5h0M80.6 230.4h0M81.4 230.1h0M86.6 236.3h0M87.2 236.3h0M86.7 236.4h0M87.0 236.6h0M86.7 236.5h0M86.2 236.6h0M87.3 235.8h0M86.3 236.0h0M86.4 236.7h0M84.2 233.6h0M84.0 233.2h0M84.9 233.7h0M84.0 234.1h0M83.8 233.4h0M84.6 233.5h0M84.4 233.4h0M84.5 234.2h0M83.9 228.3h0M83.8 227.7h0M84.8 228.1h0M84.1 227.5h0M84.5 227.8h0M83.9 228.1h0M84.8 228.3h0M84.9 228.3h0M62.8 258.1h0M62.4 257.8h0M83.2 232.6h0M82.9 232.2h0M82.7 232.8h0M83.0 233.2h0M63.4 235.1h0M63.5 235.3h0M64.2 234.7h0M63.9 234.5h0M63.5 235.5h0M64.6 235.5h0M63.9 235.4h0M63.9 234.8h0M64.3 235.0h0M63.5 235.1h0M63.8 234.9h0M63.8 235.0h0M64.3 235.2h0M63.8 235.0h0M82.0 232.9h0M82.2 232.1h0M81.6 232.8h0M82.0 233.0h0M82.2 232.2h0M82.2 232.3h0M82.2 234.8h0M82.5 235.4h0M81.8 233.8h0M81.4 233.6h0M83.1 224.7h0M83.6 224.3h0M81.8 234.1h0M81.7 233.7h0M83.3 224.5h0M81.5 233.7h0M83.6 223.6h0M83.4 224.3h0M83.4 224.6h0M82.6 233.4h0M81.9 234.2h0M82.8 223.9h0M83.4 224.6h0M81.5 234.4h0M82.6 234.3h0M82.8 223.6h0M81.7 233.5h0M83.5 224.5h0M82.0 228.8h0M81.8 228.5h0M81.8 229.1h0M82.2 229.1h0M82.4 228.6h0M83.5 227.6h0M83.4 228.0h0M82.7 228.1h0M82.7 228.0h0M83.4 228.2h0M83.1 227.9h0M82.8 227.5h0M82.9 228.0h0M83.8 227.7h0M83.6 227.7h0M64.6 251.3h0M63.7 251.4h0M64.5 251.7h0M63.5 251.3h0M64.0 252.1h0M86.6 231.8h0M82.7 233.9h0M82.8 234.1h0M83.7 234.2h0M83.7 233.6h0M82.7 233.5h0M86.9 231.5h0M86.8 231.2h0M86.2 231.1h0M83.0 233.4h0M86.7 231.2h0M86.6 231.8h0M82.9 233.3h0M86.8 231.3h0M60.9 259.6h0M60.0 260.3h0M60.2 260.6h0M60.5 259.7h0M60.6 259.6h0M60.6 259.6h0M60.4 260.5h0M86.8 230.3h0M86.9 229.6h0M87.3 230.2h0M86.2 230.6h0M86.9 230.4h0M87.3 230.4h0M86.7 230.7h0M82.2 230.9h0M82.6 230.8h0M81.4 231.6h0M82.2 231.9h0M82.1 232.0h0M82.1 231.6h0M82.0 231.6h0M82.4 231.7h0M82.1 231.3h0M59.5 256.7h0M58.9 256.1h0M58.9 256.6h0M82.9 222.9h0M83.0 223.1h0M82.8 223.2h0M83.5 223.0h0M83.6 223.0h0M83.4 222.6h0M83.8 222.9h0M82.7 222.8h0M83.1 231.0h0M83.2 231.2h0M83.5 231.8h0M83.0 231.6h0M83.0 231.4h0M83.8 231.1h0M83.6 231.9h0M82.3 230.4h0M83.5 241.4h0M81.9 230.6h0M82.8 241.6h0M83.3 240.6h0M82.8 240.9h0M81.6 230.6h0M82.0 230.3h0M82.6 230.4h0M82.4 229.7h0M82.1 229.7h0M86.4 239.2h0M87.1 239.0h0M86.2 238.8h0M87.3 238.3h0M86.3 238.2h0M86.5 238.8h0M86.7 239.0h0"/>
<path stroke="#2c6bc8" stroke-width="0.62" stroke-linecap="square" opacity="1" d="M86.9 236.8h0M86.8 237.1h0M87.1 237.0h0M86.5 236.9h0M87.0 237.6h0M87.2 237.5h0M86.6 238.0h0M87.3 237.6h0M57.6 234.7h0M58.5 235.3h0M57.8 234.5h0M58.3 235.3h0M58.1 235.5h0M58.0 234.6h0M87.7 243.7h0M87.5 243.0h0M87.9 244.0h0M87.9 243.9h0M87.2 255.0h0M86.2 255.7h0M86.2 255.8h0M86.5 255.3h0M86.6 255.3h0M87.3 255.2h0M87.1 256.0h0M86.5 255.1h0M87.2 255.4h0M87.0 255.6h0M86.7 255.0h0M86.5 255.7h0M58.1 250.6h0M57.6 251.0h0M58.3 250.6h0M58.6 251.0h0M58.2 251.2h0M57.5 226.4h0M58.1 226.9h0M57.8 226.7h0M57.9 226.7h0M64.4 235.9h0M64.6 235.7h0M63.9 236.8h0M63.9 235.7h0M64.0 236.7h0M63.9 236.7h0M64.1 236.4h0M64.0 235.9h0M82.1 249.5h0M82.5 249.2h0M81.9 249.6h0M82.4 249.0h0M82.2 250.0h0M81.9 249.4h0M82.0 249.5h0M83.5 236.5h0M83.0 236.5h0M82.9 235.8h0M83.1 235.8h0M83.4 236.1h0M82.9 235.6h0M83.6 235.9h0M84.7 229.0h0M84.8 228.5h0M84.0 228.6h0M84.9 229.1h0M84.1 229.0h0M83.8 229.0h0M84.9 229.3h0M83.8 230.5h0M82.7 229.6h0M82.6 230.7h0M83.4 229.7h0M83.3 230.4h0M82.9 229.9h0M83.0 230.0h0M83.3 228.7h0M86.7 239.9h0M86.5 240.1h0M86.5 240.4h0M83.7 235.2h0M83.2 235.4h0M83.3 234.7h0M82.7 229.2h0M83.5 228.7h0M82.6 234.4h0M83.6 235.0h0M86.6 239.7h0M83.0 228.5h0M82.8 229.0h0M83.7 235.2h0M83.6 229.0h0M82.7 228.9h0M83.3 235.1h0M83.4 228.4h0M83.1 235.2h0M87.0 240.0h0M82.5 242.8h0M84.6 230.9h0M84.7 230.9h0M84.6 231.5h0M84.4 231.0h0M84.4 232.0h0M84.6 231.0h0M58.1 234.3h0M58.2 234.0h0M58.5 234.0h0M58.3 233.4h0M58.5 233.6h0M58.5 233.9h0M58.0 234.3h0M58.1 233.4h0M63.4 224.7h0M63.6 224.2h0M64.3 223.8h0M63.7 224.2h0M57.5 232.6h0M57.8 232.1h0M57.5 232.8h0M85.2 231.6h0M86.1 230.9h0M85.4 231.1h0M85.0 231.8h0M86.2 231.4h0M85.1 231.9h0M85.3 231.0h0M86.2 231.8h0M84.2 254.9h0M84.4 255.5h0M84.4 254.8h0M83.9 256.0h0M84.2 255.5h0M85.0 255.4h0M84.4 255.4h0M84.9 255.9h0M84.9 255.3h0M84.3 234.7h0M63.7 221.7h0M84.2 235.0h0M84.8 234.7h0M84.7 234.7h0M84.4 235.4h0M84.0 234.9h0M84.3 235.4h0M64.2 221.9h0M83.9 234.9h0M84.6 234.5h0M63.5 222.3h0M84.4 235.0h0M84.5 235.6h0M64.5 221.4h0M63.7 237.2h0M64.5 237.2h0M63.6 237.4h0M64.2 237.3h0M63.5 237.8h0M61.3 260.7h0M61.1 260.0h0M61.7 260.1h0M61.4 259.9h0M61.3 260.7h0M61.7 259.8h0M62.1 259.9h0M61.8 260.7h0M61.4 259.9h0M61.6 260.0h0M61.3 259.8h0M61.4 259.7h0M57.8 240.1h0M57.6 239.8h0M57.6 240.0h0M58.1 239.8h0M58.1 239.3h0M58.6 240.1h0M58.3 240.0h0M57.6 239.5h0M64.4 222.8h0M64.3 223.1h0M63.5 222.6h0M63.5 223.2h0M63.8 222.9h0M64.3 222.5h0M85.2 229.6h0M85.0 229.7h0M86.2 230.0h0M85.3 230.3h0M85.3 230.5h0M85.8 230.2h0M86.1 230.8h0M85.8 229.9h0M85.2 230.6h0M85.6 230.2h0M85.7 229.8h0M85.3 230.1h0M85.9 230.3h0M85.2 230.4h0M87.9 244.6h0M87.7 244.3h0M87.6 244.8h0M87.9 244.8h0M87.9 244.7h0M88.0 244.5h0M87.9 244.1h0M88.0 244.6h0M88.1 244.0h0M88.5 244.7h0M88.2 247.9h0M88.2 247.8h0M87.9 247.9h0M87.9 248.6h0M87.7 248.3h0M88.2 248.2h0M88.0 248.5h0M88.1 245.7h0M88.2 246.3h0M87.7 245.7h0M88.2 245.3h0M82.8 253.1h0M83.0 253.0h0M83.2 253.0h0M83.2 253.6h0M82.9 253.4h0M83.1 253.5h0M83.3 252.5h0M83.3 253.4h0M83.3 253.4h0M83.7 252.8h0M83.3 252.5h0M64.5 225.4h0M64.5 225.6h0M63.6 225.9h0M64.4 225.8h0M63.6 225.1h0M85.0 230.2h0M84.8 230.3h0M84.1 229.8h0M85.0 229.9h0M84.8 229.9h0M84.0 230.0h0M83.8 229.8h0M85.0 230.4h0M84.6 230.3h0M84.5 230.5h0M84.0 229.6h0M61.7 209.1h0M61.4 209.1h0M61.8 209.2h0M61.4 209.1h0M61.4 209.2h0M61.3 209.1h0M61.6 209.2h0M62.0 209.0h0M60.7 209.2h0M60.8 209.0h0M60.5 209.1h0M60.0 209.2h0M60.5 209.2h0M59.8 208.2h0M64.1 231.1h0M64.2 230.9h0M64.4 231.8h0M64.2 231.5h0M64.0 232.0h0M64.4 231.8h0M58.4 228.4h0M58.5 227.5h0M58.0 227.9h0M58.2 227.7h0M58.2 227.3h0M57.8 227.3h0M86.0 235.8h0M85.5 236.8h0M85.4 236.4h0M85.1 236.1h0M85.4 236.6h0M57.4 248.9h0M58.5 249.7h0M85.4 236.5h0M85.2 236.6h0M57.6 249.7h0M85.3 236.6h0M86.2 236.8h0M58.4 249.6h0M58.3 249.9h0M58.5 249.1h0M85.6 236.1h0M85.0 235.8h0M58.2 249.8h0M86.1 235.7h0M88.5 247.2h0M83.9 238.6h0M84.0 238.7h0M87.8 246.7h0M87.9 246.9h0M88.1 246.6h0M84.3 238.1h0M84.7 238.1h0M84.2 238.3h0M88.0 247.1h0M87.9 246.7h0M88.3 247.4h0M84.8 238.5h0M87.7 247.1h0M84.5 237.6h0M83.9 237.7h0M84.5 237.8h0M83.8 237.1h0M84.1 238.0h0M84.6 236.9h0M84.2 237.8h0M86.9 240.5h0M86.3 241.2h0M87.0 240.9h0M87.1 241.6h0M86.9 240.5h0M87.4 240.8h0M86.3 241.0h0M86.2 241.5h0M86.2 240.9h0M87.4 241.4h0M84.0 236.2h0M84.0 236.4h0M84.3 236.5h0M84.9 235.8h0M84.8 236.5h0M85.0 236.0h0M83.8 236.4h0M84.4 235.9h0M63.8 226.2h0M63.8 226.1h0M63.8 250.3h0M63.7 250.2h0M63.7 226.6h0M63.8 250.9h0M63.7 251.2h0M63.9 250.5h0M63.6 250.4h0M63.6 250.8h0M59.3 210.3h0M63.2 257.1h0M63.1 256.9h0M63.3 256.1h0M62.8 256.2h0M58.7 210.4h0M62.7 256.8h0M62.9 256.2h0M62.5 256.2h0M63.0 256.7h0M63.2 256.5h0M62.5 209.6h0M63.1 209.9h0M62.5 209.6h0M62.3 210.2h0M62.5 210.0h0M64.5 238.9h0M64.5 238.7h0M64.2 239.1h0M64.0 238.5h0M63.7 238.2h0M64.0 238.9h0M63.4 238.3h0M64.0 238.6h0M63.5 238.8h0M64.0 238.1h0M63.5 239.2h0M58.1 230.8h0M57.8 231.9h0M58.4 231.4h0M58.0 231.5h0M57.9 231.6h0M58.2 231.7h0M57.8 231.6h0M57.6 231.0h0M57.8 248.4h0M57.9 248.4h0M57.8 248.4h0M58.6 248.6h0M58.2 248.2h0M58.3 247.6h0M58.0 248.2h0M84.7 239.9h0M83.8 240.2h0M84.5 239.9h0M84.5 240.4h0M84.2 239.8h0M84.4 239.8h0M84.3 239.7h0M84.2 240.2h0M84.9 240.1h0M64.4 227.9h0M64.0 228.1h0M64.3 227.2h0M64.2 227.7h0M63.5 227.8h0M58.2 240.5h0M57.9 241.2h0M58.1 241.0h0M57.9 240.9h0M57.6 241.2h0M58.5 240.5h0M58.2 241.1h0M63.8 246.1h0M64.4 246.0h0M64.3 246.2h0M63.7 245.8h0M64.6 245.7h0M64.0 245.2h0M64.4 249.3h0M63.6 248.9h0M64.0 249.9h0M63.5 249.9h0M64.5 249.8h0M85.3 237.9h0M85.6 237.5h0M85.2 236.9h0M85.2 237.0h0M85.3 236.9h0M86.2 236.9h0M85.7 236.8h0M85.8 237.6h0M85.2 237.3h0M58.0 229.0h0M58.4 229.5h0M58.2 229.5h0M58.2 242.3h0M58.1 242.5h0M58.1 242.7h0M58.2 242.0h0M58.2 242.1h0M57.8 242.7h0M58.1 242.5h0M58.6 247.5h0M58.3 246.4h0M57.6 247.6h0M58.2 246.8h0M57.9 247.5h0M60.0 259.4h0M59.8 258.9h0M60.4 258.5h0M60.8 258.5h0M60.5 258.7h0M60.0 259.1h0M60.2 258.4h0M82.4 248.6h0M63.5 245.0h0M81.7 247.7h0M63.9 244.2h0M82.1 248.6h0M81.5 248.4h0M82.3 248.3h0M81.4 248.2h0M63.9 245.1h0M64.5 244.6h0M81.4 247.8h0M81.6 248.1h0M82.6 248.3h0M64.4 244.7h0M82.2 247.6h0M82.1 248.5h0M82.6 248.0h0M82.2 248.4h0M81.7 248.3h0M64.2 244.1h0M82.1 248.3h0M63.4 247.5h0M63.9 247.4h0M64.1 247.3h0M64.6 246.6h0M64.6 246.5h0M63.5 246.6h0M64.4 228.9h0M64.4 228.5h0M63.6 229.3h0M64.3 229.4h0M63.8 228.5h0M63.4 248.2h0M63.7 248.6h0M64.1 247.9h0M64.0 248.5h0M64.5 248.3h0M64.0 247.9h0M64.4 247.8h0M85.9 255.2h0M85.4 255.3h0M86.0 255.5h0M85.1 255.8h0M85.8 255.6h0M85.0 254.8h0M86.0 255.6h0M85.1 255.5h0M85.4 255.5h0M85.9 255.4h0M85.1 254.9h0M58.2 230.4h0M61.9 259.5h0M61.2 259.2h0M58.5 230.2h0M61.2 258.5h0M61.1 259.6h0M57.8 230.0h0M61.1 259.1h0M58.6 229.9h0M58.1 230.8h0M61.3 258.8h0M61.5 258.4h0M61.4 258.7h0M61.1 258.6h0M57.7 230.3h0M61.6 258.5h0M57.6 230.1h0M61.0 259.4h0M61.5 259.2h0M58.5 230.2h0M64.1 239.9h0M63.7 239.3h0M64.5 239.9h0M64.3 239.7h0M63.8 239.4h0M59.2 255.1h0M58.9 254.8h0M59.7 255.2h0M59.7 255.2h0M59.7 255.4h0M63.8 230.3h0M64.4 230.0h0M64.4 230.7h0M64.0 230.1h0M64.1 230.6h0M84.9 240.7h0M83.9 240.9h0M85.0 241.3h0M84.3 241.0h0M84.0 241.1h0M84.0 240.9h0M84.1 241.2h0M84.6 241.5h0M82.0 245.5h0M81.9 246.0h0M81.5 245.5h0M85.4 238.2h0M86.1 238.5h0M86.0 238.4h0M85.6 239.0h0M86.0 238.5h0M85.2 239.0h0M85.8 239.1h0M85.3 238.1h0M86.1 238.8h0M86.2 239.1h0M85.9 238.4h0M86.0 239.0h0M85.1 238.5h0M85.8 238.1h0"/>
<path stroke="#2a80c8" stroke-width="0.62" stroke-linecap="square" opacity="1" d="M81.8 243.6h0M81.6 243.3h0M82.6 243.0h0M82.5 243.8h0M82.2 242.8h0M81.4 243.6h0M82.5 243.6h0M82.6 243.1h0M81.6 243.9h0M82.1 243.2h0M82.0 243.7h0M81.9 243.7h0M82.3 243.8h0M81.7 243.6h0M86.4 254.2h0M87.1 254.0h0M86.3 254.0h0M86.4 254.0h0M86.8 254.6h0M87.2 254.3h0M87.1 254.2h0M87.1 253.8h0M87.1 254.2h0M86.2 254.5h0M87.0 254.4h0M86.8 253.7h0M84.2 254.4h0M84.9 253.9h0M82.1 246.9h0M85.0 254.5h0M82.6 246.5h0M82.2 246.7h0M82.0 246.8h0M82.1 247.2h0M84.7 253.7h0M81.5 246.4h0M81.9 247.6h0M83.9 254.3h0M81.6 247.4h0M84.8 254.5h0M82.3 247.2h0M64.1 243.5h0M64.5 243.6h0M63.8 243.4h0M64.2 243.9h0M63.5 243.6h0M64.1 242.8h0M63.4 243.6h0M64.2 243.7h0M64.1 243.4h0M64.1 243.3h0M63.6 242.9h0M63.9 243.3h0M63.5 241.5h0M63.6 241.3h0M63.4 240.6h0M63.5 241.2h0M63.9 240.4h0M63.9 240.8h0M64.4 240.6h0M63.8 241.3h0M63.9 241.0h0M64.0 240.6h0M86.6 242.3h0M86.5 242.3h0M86.6 242.1h0M86.7 241.9h0M86.9 241.8h0M87.0 242.5h0M83.6 242.2h0M82.9 242.5h0M83.6 241.6h0M82.8 242.7h0M83.8 242.7h0M83.0 242.7h0M83.5 242.3h0M83.3 242.0h0M83.8 242.4h0M63.7 242.4h0M63.5 242.1h0M64.1 242.4h0M64.3 242.5h0M63.4 242.1h0M63.9 241.9h0M85.1 239.9h0M58.4 243.9h0M85.5 239.4h0M85.1 239.6h0M85.3 240.1h0M57.6 243.8h0M86.1 240.1h0M85.1 239.4h0M85.3 239.8h0M85.3 240.1h0M85.2 239.6h0M58.2 242.9h0M85.8 239.9h0M85.6 239.4h0M57.9 243.5h0M85.0 239.5h0M85.6 239.4h0M57.5 243.6h0M58.0 243.8h0M86.2 239.3h0M85.2 240.1h0M86.1 239.6h0M57.5 243.0h0M85.2 239.3h0M82.2 244.2h0M82.3 244.2h0M82.0 244.9h0M81.5 245.0h0M82.3 245.0h0M82.5 244.8h0M81.9 244.3h0M82.0 244.5h0M82.0 245.2h0M81.6 244.4h0M58.1 245.8h0M57.5 246.4h0M58.0 245.7h0M58.0 246.0h0M58.3 246.3h0M58.2 245.7h0M57.7 246.3h0M58.1 246.2h0M62.2 255.3h0M62.5 255.1h0M62.8 254.9h0M62.5 255.7h0M62.6 255.0h0M62.8 255.1h0M62.2 255.9h0M83.0 251.3h0M82.8 251.6h0M83.2 251.4h0M83.5 251.9h0M82.6 251.3h0M83.0 251.6h0M83.4 251.9h0M82.8 251.3h0M83.4 251.7h0M86.7 253.0h0M86.9 252.4h0M86.6 252.9h0M86.2 252.8h0M86.3 253.2h0M86.3 253.0h0M87.2 252.6h0M86.8 252.4h0M87.2 252.6h0M87.1 252.6h0M86.4 252.8h0M86.3 252.3h0M86.2 252.3h0M86.6 251.8h0M87.3 252.4h0M86.4 251.3h0M86.3 252.1h0M87.1 252.1h0M86.3 252.1h0M86.3 251.8h0M86.8 252.2h0M86.7 252.4h0M86.3 251.7h0M85.1 240.8h0M85.1 241.4h0M85.3 240.9h0M85.4 241.5h0M85.2 240.6h0M86.1 241.0h0M85.4 240.8h0M85.7 240.7h0M85.3 240.4h0M85.4 241.4h0M86.0 240.8h0M57.4 244.5h0M58.2 244.3h0M58.1 244.7h0M58.5 244.0h0M57.5 244.2h0M58.6 244.1h0M58.4 245.0h0M58.2 244.0h0M60.7 257.5h0M60.9 257.4h0M60.8 258.1h0M60.3 258.1h0M60.8 258.4h0M60.6 257.2h0M60.3 258.1h0M60.9 257.8h0M60.8 257.9h0M59.9 257.9h0M59.9 257.4h0M59.8 257.4h0M60.7 258.4h0M59.9 258.2h0M60.0 258.0h0M60.9 257.7h0M60.0 257.6h0M61.5 258.3h0M61.5 257.4h0M61.9 257.2h0M62.1 257.4h0M61.2 258.3h0M62.1 258.0h0M61.6 258.2h0M62.1 258.4h0M61.7 257.4h0M61.7 257.2h0M61.5 257.4h0M58.6 237.5h0M59.8 237.0h0M59.3 237.7h0M58.7 237.1h0M58.6 236.9h0M86.4 250.6h0M87.3 251.1h0M87.2 250.2h0M87.1 250.0h0M86.3 251.2h0M87.3 250.6h0M86.3 250.4h0M87.3 250.8h0M83.7 250.9h0M83.0 250.4h0M83.2 251.2h0M82.6 250.6h0M83.1 250.5h0M83.3 251.1h0M82.6 250.1h0M82.8 250.3h0M83.6 250.5h0M82.7 251.0h0M83.8 250.5h0M83.3 251.0h0M83.0 250.7h0M62.3 254.6h0M63.1 254.5h0M63.1 253.7h0M62.3 254.6h0M62.3 253.9h0M62.7 254.3h0M62.5 254.3h0M62.9 254.4h0M62.4 254.7h0M62.6 254.6h0M63.4 254.0h0M62.4 253.6h0M62.3 254.3h0M62.5 254.4h0M62.8 254.6h0M59.0 239.1h0M58.9 238.7h0M59.2 238.1h0M59.8 239.0h0M58.7 238.2h0M59.7 238.4h0M59.7 238.0h0M59.0 238.2h0M59.7 238.3h0M59.4 239.0h0M59.3 238.6h0M85.7 254.1h0M85.8 254.7h0M85.5 254.4h0M86.1 254.6h0M85.7 254.7h0M86.1 254.4h0M85.6 254.0h0M86.1 254.8h0M85.6 253.8h0M85.8 253.6h0M85.1 253.7h0M85.6 253.9h0M85.3 253.7h0M85.5 253.8h0M85.3 253.9h0M85.5 254.1h0M85.2 254.7h0M84.6 252.5h0M85.0 252.6h0M58.7 254.7h0M84.3 253.1h0M84.0 252.7h0M59.8 253.7h0M83.9 252.5h0M59.4 253.9h0M84.2 252.8h0M83.9 253.4h0M59.7 253.9h0M84.3 253.0h0M83.8 252.8h0M84.3 253.3h0M59.4 254.7h0M59.5 254.8h0M59.7 253.8h0M84.2 252.6h0M59.5 254.3h0M59.7 254.7h0M59.8 253.6h0M59.6 254.5h0M59.6 254.5h0M59.2 254.0h0M84.9 253.4h0M59.2 254.8h0M83.9 252.4h0M84.0 252.7h0"/>
<path stroke="#2995c8" stroke-width="0.62" stroke-linecap="square" opacity="1" d="M62.4 236.2h0M63.1 236.2h0M63.0 236.7h0M62.3 236.0h0M62.9 236.0h0M63.2 235.8h0M62.2 235.6h0M62.5 235.9h0M62.2 235.8h0M62.6 236.4h0M63.2 236.6h0M63.3 235.6h0M84.6 241.8h0M84.6 241.9h0M84.8 241.9h0M84.7 242.5h0M83.8 241.9h0M84.5 242.6h0M84.5 242.7h0M84.9 242.4h0M84.4 242.2h0M84.8 241.8h0M84.0 242.0h0M62.9 238.0h0M62.6 237.2h0M62.6 236.8h0M62.4 237.1h0M62.8 237.7h0M63.1 237.4h0M63.0 237.3h0M63.2 236.9h0M63.4 237.3h0M62.7 211.3h0M62.8 211.3h0M63.2 211.0h0M63.2 235.0h0M62.8 235.5h0M62.6 234.6h0M85.8 241.6h0M86.0 242.2h0M86.1 242.7h0M86.0 242.4h0M85.7 242.1h0M85.1 242.6h0M85.5 242.7h0M85.3 242.4h0M85.3 241.8h0M85.3 242.0h0M59.5 210.6h0M58.8 210.5h0M59.8 210.7h0M59.6 211.5h0M59.2 210.7h0M59.7 210.6h0M87.0 249.7h0M86.3 249.8h0M87.3 249.6h0M86.4 248.9h0M86.6 249.3h0M86.2 249.0h0M86.5 249.8h0M87.4 249.8h0M86.7 243.8h0M87.3 243.7h0M86.8 243.7h0M87.3 243.6h0M87.1 242.9h0M87.1 243.1h0M86.5 243.2h0M86.4 244.0h0M86.8 243.1h0M87.1 243.8h0M87.3 243.1h0M82.8 249.6h0M83.7 248.9h0M83.4 248.9h0M83.8 248.8h0M82.8 249.0h0M83.8 249.2h0M60.9 257.1h0M60.9 256.7h0M59.9 256.0h0M59.9 256.9h0M61.0 256.6h0M60.5 257.1h0M60.5 256.8h0M60.4 256.6h0M59.9 256.2h0M60.3 256.6h0M60.2 256.4h0M60.1 256.0h0M58.8 235.9h0M59.1 236.2h0M59.7 235.9h0M58.8 236.2h0M59.1 236.2h0M59.3 235.9h0M59.1 235.7h0M59.6 235.8h0M59.7 236.6h0M59.7 236.5h0M59.0 236.0h0M59.1 236.6h0M59.2 235.7h0M59.5 235.9h0M83.7 243.5h0M83.4 243.5h0M86.0 252.9h0M85.7 253.0h0M83.4 243.3h0M85.4 252.5h0M82.8 243.2h0M85.7 252.6h0M82.6 243.9h0M83.0 243.0h0M86.2 253.4h0M82.8 243.8h0M86.2 253.1h0M86.2 252.6h0M82.8 243.6h0M82.8 243.6h0M82.9 243.6h0M83.5 243.6h0M85.3 253.2h0M82.8 243.7h0M82.8 243.9h0M83.0 243.9h0M85.3 252.9h0M83.5 243.6h0M85.2 253.0h0M85.3 252.5h0M83.5 243.5h0M82.9 243.8h0M85.8 253.1h0M62.3 239.2h0M63.4 238.5h0M63.1 238.7h0M62.4 239.0h0M63.0 238.8h0M62.5 238.3h0M62.4 238.5h0M62.7 238.0h0M63.3 239.1h0M62.7 238.6h0M62.6 238.4h0M62.9 239.0h0M63.2 238.4h0M63.3 238.8h0M62.1 257.0h0M61.4 256.0h0M61.6 256.4h0M61.3 256.2h0M61.2 257.2h0M61.1 256.9h0M61.8 256.4h0M61.2 256.3h0M61.5 256.2h0M61.5 257.2h0M62.0 257.1h0M61.9 256.6h0M61.0 257.2h0M61.7 256.2h0M59.3 252.8h0M59.4 252.7h0M59.0 252.6h0M59.2 252.5h0M58.7 253.2h0M59.1 252.5h0M58.8 252.8h0M59.2 252.6h0M59.3 253.2h0M63.1 252.5h0M62.8 252.6h0M62.7 253.2h0M62.5 253.1h0M62.7 253.4h0M62.6 252.9h0M63.0 252.4h0M63.2 253.5h0M63.2 252.8h0M63.2 253.5h0M85.8 252.2h0M86.1 251.5h0M86.1 251.3h0M85.1 251.7h0M86.1 251.6h0M85.7 251.2h0M85.6 251.9h0M85.2 252.1h0M85.1 252.2h0M84.5 251.8h0M84.2 252.0h0M83.8 251.6h0M84.8 252.0h0M84.9 252.0h0M84.4 252.0h0M83.9 251.8h0M84.9 252.3h0M84.6 251.4h0M84.0 251.3h0M84.6 251.6h0M84.9 252.1h0M84.4 251.7h0M84.5 251.6h0M83.9 251.8h0M84.9 252.2h0M62.6 233.3h0M62.8 233.2h0M62.7 233.2h0M63.3 233.5h0M62.6 233.5h0M62.3 233.6h0M62.7 233.4h0M62.5 233.7h0M83.6 247.7h0M83.4 247.8h0M83.1 248.5h0M82.9 248.6h0M83.7 248.1h0M83.5 248.0h0M83.3 247.7h0M82.6 248.5h0M82.9 248.1h0M86.9 248.3h0M86.5 248.7h0M86.5 248.3h0M87.3 247.6h0M86.8 248.4h0M86.4 248.7h0M87.0 247.7h0M86.5 247.7h0M86.9 248.5h0M86.3 247.9h0M87.0 248.7h0M86.9 248.0h0M86.8 247.7h0M87.0 248.0h0M86.4 248.5h0M87.3 248.6h0M86.8 247.9h0M59.5 251.7h0M59.0 251.9h0M59.6 252.2h0M59.8 251.2h0M59.7 251.2h0M59.4 251.9h0M59.0 252.2h0M59.7 251.8h0M58.9 252.0h0M59.4 251.4h0M59.4 252.2h0M83.6 245.1h0M83.4 244.9h0M83.3 245.0h0M83.6 245.1h0M83.8 244.8h0M83.5 244.3h0M83.2 244.3h0M83.5 244.7h0M83.6 244.6h0M83.7 245.0h0M83.1 244.7h0M83.6 244.2h0M82.9 244.8h0M83.7 244.4h0M86.7 245.1h0M86.8 244.4h0M86.9 244.5h0M86.7 244.5h0M86.6 245.0h0M86.7 244.4h0M86.2 244.9h0M86.3 244.1h0M87.0 245.2h0M87.2 244.0h0M87.0 245.1h0M86.4 244.4h0M86.3 244.8h0M86.2 245.0h0M87.0 245.0h0M86.9 245.1h0M86.6 244.4h0M87.0 245.0h0M86.5 245.0h0"/>
<path stroke="#28aac8" stroke-width="0.62" stroke-linecap="square" opacity="1" d="M83.3 245.6h0M83.7 245.7h0M82.8 245.5h0M83.2 246.2h0M83.1 245.3h0M83.3 246.0h0M83.3 245.3h0M82.9 246.3h0M83.0 245.3h0M83.4 245.8h0M83.6 245.4h0M83.4 245.9h0M82.7 246.1h0M86.4 246.1h0M86.4 246.2h0M86.3 245.5h0M86.8 245.4h0M86.8 245.4h0M87.0 245.9h0M86.6 246.0h0M86.3 246.1h0M83.3 246.9h0M82.6 247.3h0M83.0 246.9h0M83.4 247.2h0M82.9 247.3h0M83.2 246.5h0M83.7 247.4h0M82.9 246.7h0M82.8 246.7h0M83.3 246.7h0M82.7 247.3h0M82.9 247.3h0M82.8 246.4h0M83.7 246.5h0M83.7 246.9h0M83.6 247.1h0M86.8 247.2h0M86.5 247.1h0M86.4 247.5h0M86.9 247.6h0M87.2 247.2h0M86.5 246.5h0M86.8 246.8h0M87.0 247.1h0M87.1 247.5h0M87.1 247.5h0M86.9 247.4h0M87.1 247.2h0M86.4 246.4h0M86.3 247.5h0M87.3 247.5h0M87.4 246.5h0M58.7 239.7h0M59.0 239.7h0M58.8 239.7h0M59.3 239.8h0M59.0 240.4h0M59.1 239.8h0M59.6 239.3h0M59.4 240.3h0M59.3 239.9h0M59.7 239.2h0M59.3 240.2h0M59.8 240.0h0M59.5 239.6h0M59.7 212.1h0M59.6 212.4h0M58.6 212.7h0M58.6 235.3h0M59.4 234.5h0M59.0 235.5h0M59.3 234.6h0M58.6 234.8h0M58.9 234.7h0M59.8 234.6h0M59.6 235.5h0M59.1 235.4h0M59.3 235.5h0M59.7 235.2h0M59.5 235.5h0M58.9 234.7h0M59.6 234.6h0M85.8 251.1h0M85.8 251.2h0M85.6 250.5h0M85.5 250.0h0M86.1 250.5h0M85.2 250.9h0M85.1 251.2h0M85.5 250.3h0M85.9 250.7h0M85.9 250.8h0M85.5 250.9h0M85.4 251.0h0M85.9 250.5h0M85.3 250.6h0M86.1 250.9h0M85.4 250.2h0M85.1 251.1h0M84.4 243.2h0M84.8 242.8h0M84.1 243.0h0M84.1 243.8h0M84.9 243.7h0M84.5 243.5h0M84.3 243.9h0M83.9 243.5h0M84.9 243.4h0M84.2 242.9h0M84.8 243.8h0M84.2 243.8h0M60.4 237.4h0M60.3 237.9h0M60.4 237.2h0M60.9 237.0h0M60.3 237.3h0M59.9 237.8h0M60.5 237.2h0M60.7 237.3h0M60.2 237.3h0M59.8 237.8h0M60.9 237.5h0M60.8 237.1h0M59.9 236.9h0M60.3 237.8h0M61.0 237.6h0M60.1 237.7h0M59.3 250.3h0M59.2 250.5h0M59.4 250.1h0M58.9 250.6h0M59.8 250.5h0M59.7 251.0h0M59.3 250.2h0M59.5 250.5h0M59.5 250.4h0M59.5 250.8h0M59.4 250.2h0M59.8 250.6h0M63.3 212.3h0M62.9 212.7h0M62.3 212.2h0M62.3 212.0h0M62.3 212.4h0M62.2 212.4h0M62.0 237.0h0M61.7 237.5h0M61.3 237.9h0M62.1 237.0h0M62.0 237.9h0M61.3 237.1h0M61.9 236.9h0M61.1 237.9h0M62.1 237.7h0M62.0 237.0h0M61.6 237.5h0M61.0 237.9h0M61.6 237.4h0M61.2 237.8h0M61.9 237.9h0M61.9 237.1h0M62.7 239.5h0M62.4 240.3h0M63.4 239.6h0M63.0 239.6h0M62.3 239.5h0M62.2 240.1h0M63.0 239.7h0M62.4 239.2h0M62.6 239.5h0M62.2 240.4h0M62.9 239.7h0M60.5 255.2h0M60.2 255.3h0M60.4 255.4h0M60.0 255.3h0M60.0 255.8h0M59.8 255.0h0M60.2 255.8h0M60.4 255.2h0M60.0 254.9h0M60.2 255.0h0M60.5 255.4h0M60.0 255.3h0M61.0 255.8h0M60.0 255.6h0M59.9 254.9h0M60.7 255.2h0M60.8 255.9h0M61.0 255.6h0M60.9 255.2h0M85.4 243.6h0M85.4 242.9h0M85.2 243.4h0M85.0 242.8h0M85.8 243.7h0M85.1 244.0h0M85.2 243.7h0M86.0 243.0h0M85.3 243.5h0M85.5 243.2h0M85.4 243.9h0M85.3 243.4h0M85.5 243.2h0M85.7 243.8h0M85.2 243.0h0M86.1 243.7h0M85.6 243.8h0M85.5 243.9h0M85.4 243.2h0M85.7 243.1h0M84.5 251.2h0M84.1 250.4h0M84.4 250.7h0M83.9 251.1h0M84.5 251.2h0M83.8 250.8h0M84.0 250.3h0M83.8 250.6h0M84.3 250.9h0M84.3 250.0h0M84.7 250.7h0M84.8 250.5h0M84.8 250.8h0M84.8 250.6h0M84.7 251.0h0M61.3 255.8h0M61.6 255.4h0M61.4 255.3h0M62.2 254.9h0M61.6 255.7h0M61.8 255.8h0M61.5 255.7h0M61.1 255.3h0M61.6 255.0h0M61.1 255.0h0M62.1 255.9h0M61.6 256.0h0M62.1 255.5h0M61.8 255.2h0M61.0 255.8h0M61.1 255.0h0M62.0 255.8h0M61.3 255.0h0M62.0 255.1h0M61.5 256.0h0M60.7 238.1h0M60.6 239.1h0M60.4 238.0h0M59.9 238.9h0M60.8 238.6h0M60.7 238.9h0M60.0 238.0h0M60.1 239.0h0M60.7 238.9h0M59.9 238.8h0M60.3 238.5h0M60.7 238.2h0M62.3 251.6h0M62.5 252.2h0M62.9 251.4h0M62.7 252.4h0M63.3 251.2h0M62.4 252.3h0M62.7 252.1h0M63.3 252.2h0M62.4 252.1h0M62.8 252.1h0M62.8 252.1h0M62.8 251.7h0M62.3 252.4h0M62.7 251.6h0M62.8 251.4h0M62.4 251.7h0M62.2 252.3h0M59.4 249.7h0M59.6 249.7h0M59.7 249.9h0M59.0 249.1h0M59.2 249.3h0M59.5 249.0h0M59.1 249.2h0M58.6 249.3h0M58.8 249.6h0M58.8 248.9h0M58.9 249.3h0M58.8 249.3h0M59.5 249.2h0M59.1 249.7h0M59.5 249.0h0M59.3 248.8h0M59.5 249.4h0M59.4 249.4h0M61.4 236.4h0M61.7 236.2h0M61.6 236.6h0M62.2 235.8h0M61.2 236.1h0M61.4 236.0h0M61.0 235.9h0M61.5 236.2h0M61.5 235.8h0M62.0 236.5h0M62.1 236.0h0M61.8 236.2h0M61.8 236.2h0M61.2 236.5h0M61.1 236.4h0M61.4 236.7h0M61.5 236.7h0M61.5 236.3h0M61.6 238.8h0M61.3 238.6h0M61.8 238.7h0M61.1 238.5h0M61.7 238.1h0M61.3 238.2h0M59.5 213.9h0M59.7 213.5h0M59.1 213.7h0M59.7 213.7h0M59.6 213.5h0"/>
<path stroke="#2eafa3" stroke-width="0.62" stroke-linecap="square" opacity="1" d="M59.1 233.2h0M59.7 234.3h0M59.4 234.1h0M59.1 233.6h0M59.6 234.3h0M59.0 234.4h0M59.7 233.5h0M59.1 233.8h0M58.9 234.0h0M59.5 234.3h0M61.6 210.0h0M61.2 210.3h0M61.7 209.2h0M61.7 210.0h0M61.5 210.1h0M61.1 209.5h0M61.5 209.3h0M61.0 209.2h0M61.5 210.3h0M61.3 209.5h0M61.4 209.8h0M61.1 209.5h0M61.0 210.3h0M62.0 209.8h0M61.3 209.3h0M61.1 209.3h0M62.1 209.3h0M61.0 210.3h0M61.9 210.0h0M61.7 209.6h0M61.5 210.2h0M61.5 209.5h0M61.8 210.2h0M61.0 210.3h0M62.2 210.0h0M61.4 209.7h0M61.4 210.4h0M60.4 210.0h0M60.4 210.3h0M60.1 209.8h0M60.7 210.3h0M60.8 210.3h0M60.6 210.2h0M60.9 209.8h0M60.9 210.0h0M60.2 209.6h0M60.5 209.4h0M59.9 209.6h0M60.5 210.0h0M60.7 210.0h0M60.8 209.5h0M60.0 209.9h0M60.9 209.4h0M60.9 209.8h0M60.9 210.3h0M60.8 210.3h0M60.8 210.0h0M60.9 210.1h0M60.1 209.5h0M60.9 210.3h0M60.9 210.0h0M60.9 210.1h0M60.1 210.0h0M85.0 250.0h0M84.5 249.2h0M84.8 249.4h0M83.8 248.8h0M84.1 249.6h0M84.7 249.5h0M84.8 249.2h0M84.9 249.9h0M83.9 249.1h0M84.7 249.2h0M84.1 249.7h0M84.1 249.1h0M84.6 249.5h0M84.2 249.9h0M84.3 249.7h0M84.2 248.9h0M84.1 249.4h0M84.6 249.7h0M83.8 249.1h0M84.6 249.7h0M86.2 249.5h0M86.0 249.8h0M85.7 249.3h0M85.7 249.2h0M86.1 249.4h0M85.2 249.0h0M85.3 249.4h0M85.0 249.0h0M85.1 249.4h0M85.4 249.4h0M85.5 249.1h0M85.6 249.9h0M86.0 249.5h0M85.2 249.2h0M85.2 249.2h0M85.4 249.2h0M85.3 249.5h0M85.7 249.0h0M59.6 241.0h0M58.6 241.2h0M58.9 241.4h0M58.8 241.5h0M59.7 240.8h0M59.1 240.9h0M58.6 241.4h0M58.7 240.5h0M59.3 241.6h0M59.3 241.5h0M59.5 241.0h0M59.2 241.2h0M59.0 240.6h0M59.7 241.0h0M59.8 240.6h0M59.0 240.5h0M58.8 240.8h0M59.6 247.6h0M59.7 247.9h0M59.1 248.2h0M58.7 248.3h0M59.4 248.7h0M58.6 247.9h0M59.5 248.6h0M59.7 248.3h0M59.5 247.9h0M59.6 248.0h0M58.6 248.3h0M59.0 215.2h0M59.7 215.2h0M59.8 214.4h0M59.5 214.4h0M84.4 244.2h0M84.8 244.6h0M62.7 245.1h0M63.3 244.7h0M62.6 245.1h0M62.5 244.4h0M62.6 244.7h0M84.6 244.7h0M84.7 244.3h0M84.3 244.2h0M62.4 245.1h0M62.7 244.1h0M84.2 244.4h0M62.3 245.1h0M62.3 245.0h0M84.9 244.7h0M84.2 244.8h0M63.2 244.8h0M62.9 244.4h0M84.2 244.6h0M83.8 244.8h0M62.5 244.8h0M84.6 244.6h0M84.2 244.3h0M62.7 245.6h0M62.3 245.4h0M62.4 245.4h0M63.1 245.2h0M62.5 245.7h0M62.3 245.7h0M62.3 245.4h0M62.3 245.9h0M63.2 245.5h0M62.5 245.2h0M62.3 246.1h0M63.2 245.6h0M60.8 236.8h0M60.9 236.6h0M60.8 236.4h0M60.3 236.0h0M60.6 236.1h0M60.1 236.6h0M60.3 236.2h0M60.2 236.0h0M60.3 236.5h0M60.2 235.8h0M60.8 236.0h0M60.7 236.5h0M60.1 236.0h0M60.0 236.6h0M60.0 236.0h0M61.0 236.4h0M60.6 236.3h0M60.5 236.5h0M59.8 236.4h0M59.7 215.8h0M59.6 215.3h0M58.7 216.2h0M59.6 215.7h0M59.5 215.4h0M62.5 233.0h0M62.3 232.3h0M62.9 232.7h0M62.4 232.7h0M62.8 232.9h0M59.8 247.5h0M59.7 247.6h0M59.8 246.9h0M58.7 247.5h0M59.0 247.6h0M59.2 246.5h0M59.5 246.4h0M59.7 247.3h0M59.2 247.2h0M58.7 247.4h0M59.8 246.8h0M59.2 246.8h0M59.3 247.2h0M59.3 246.5h0M59.8 247.4h0M59.3 246.8h0M59.4 216.6h0M58.8 217.0h0M59.2 216.6h0M59.7 216.5h0M62.8 250.3h0M62.8 250.4h0M63.2 250.4h0M59.6 219.9h0M59.7 219.1h0M63.3 250.3h0M59.7 219.5h0M62.5 250.4h0M59.7 219.2h0M59.8 219.5h0M62.5 250.3h0M62.4 250.1h0M62.6 250.3h0M62.5 251.1h0M63.1 251.0h0M59.8 219.0h0M63.3 250.2h0M63.2 250.6h0M59.5 219.0h0M63.1 250.8h0M62.9 250.3h0M85.2 244.7h0M85.3 245.0h0M85.0 244.9h0M86.1 245.2h0M86.0 244.7h0M85.8 244.4h0M85.3 244.8h0M85.7 244.7h0M86.0 244.6h0M86.1 244.6h0M85.2 244.0h0M86.0 244.4h0M86.1 244.4h0M85.5 245.0h0M86.1 244.6h0M86.1 244.8h0M85.7 244.5h0M85.3 245.2h0M85.5 245.2h0M85.3 244.2h0M62.4 241.4h0M62.7 240.6h0M62.9 241.1h0M63.2 241.1h0M62.4 241.1h0M62.3 240.6h0M63.3 240.7h0M62.7 240.7h0M62.3 240.6h0M63.3 241.6h0M62.8 240.9h0M62.8 240.9h0M62.8 240.5h0M62.7 240.9h0M62.4 241.0h0M58.6 218.4h0M59.4 218.3h0M59.2 217.6h0M59.6 217.9h0M59.5 217.7h0M84.7 248.6h0M84.0 248.5h0M84.7 248.7h0M84.0 248.5h0M84.8 248.0h0M83.8 247.9h0M84.1 248.6h0M84.4 248.7h0M84.4 248.5h0M84.8 247.9h0M84.1 247.7h0M84.2 248.4h0M84.3 247.6h0M85.0 248.8h0M84.6 248.2h0M83.9 248.4h0M62.3 213.2h0M62.2 213.9h0M62.5 213.9h0M62.7 213.8h0M60.6 254.6h0M60.7 254.4h0M60.5 253.8h0M60.3 254.2h0M60.3 254.7h0M60.0 254.7h0M60.6 253.6h0M60.4 254.8h0M60.5 253.9h0M60.2 253.9h0M60.3 254.7h0M60.4 254.2h0M60.1 254.2h0M60.2 254.3h0M60.7 254.3h0M59.8 254.3h0M60.8 254.3h0M60.9 253.9h0M60.6 254.6h0M60.8 253.9h0M84.3 246.2h0M84.3 246.3h0M84.2 245.5h0M84.4 246.3h0M84.1 246.1h0M84.3 245.6h0M84.4 246.1h0M84.3 245.5h0M84.3 245.9h0M84.0 245.3h0M84.9 245.8h0M84.4 245.7h0M84.9 245.5h0M84.5 245.3h0M61.7 253.8h0M61.8 254.5h0M61.6 253.8h0M61.5 253.8h0M61.9 254.0h0M61.6 254.1h0M61.5 253.9h0M61.3 254.3h0M61.4 254.3h0M62.0 253.9h0M61.2 254.4h0M61.5 254.6h0M61.7 253.7h0M61.5 254.4h0M62.0 254.1h0M61.5 253.8h0M59.2 220.3h0M59.6 220.0h0M59.5 220.1h0M85.8 248.4h0M85.3 248.6h0M85.9 248.7h0M85.9 248.7h0M86.1 248.3h0M86.0 247.8h0M86.1 248.5h0M86.1 248.0h0M85.5 248.0h0M86.0 247.9h0M86.2 248.6h0M85.2 247.7h0M85.1 248.3h0M85.1 247.9h0M85.5 248.5h0M62.7 243.8h0M62.7 243.8h0M62.9 243.1h0M63.2 243.9h0M62.5 243.1h0M63.1 243.5h0M62.8 243.3h0M62.3 243.7h0M63.4 243.6h0M62.2 243.4h0M62.4 243.6h0M62.2 243.6h0M62.5 247.3h0M62.2 246.7h0M62.4 247.5h0M62.6 246.8h0M63.1 246.9h0M62.6 246.4h0M63.2 246.6h0M62.5 247.4h0M62.7 247.2h0M63.0 247.6h0M62.4 247.0h0M62.7 247.4h0M62.3 247.1h0M62.5 247.2h0M63.0 247.6h0M59.6 242.1h0M58.7 242.1h0M59.5 241.9h0M59.6 242.3h0M59.7 242.8h0M58.7 242.6h0M58.9 241.9h0M59.5 242.2h0M59.7 242.5h0M59.5 242.2h0M59.6 241.6h0M59.1 241.8h0M59.1 241.7h0M62.3 249.3h0M62.8 248.8h0M62.5 249.7h0M63.1 250.0h0M63.2 249.1h0M63.0 249.4h0M62.3 249.5h0M63.0 249.5h0M63.3 249.9h0M63.1 248.8h0M62.4 249.3h0M63.2 249.6h0M63.4 249.7h0M62.4 249.6h0M63.4 248.9h0M63.4 250.0h0M62.8 249.0h0M83.9 247.2h0M84.8 247.6h0M84.6 247.5h0M84.0 246.9h0M84.9 247.3h0M84.7 247.3h0M84.3 246.9h0M84.3 246.8h0M84.3 247.1h0M84.4 247.2h0M84.1 247.1h0M84.9 246.9h0M84.3 246.9h0M84.4 247.0h0M84.8 247.0h0M84.6 246.7h0M84.1 247.5h0M84.8 246.4h0M84.1 247.2h0M83.8 247.4h0M59.7 245.6h0M59.6 246.3h0M59.2 245.9h0M58.7 245.7h0M59.8 246.2h0M58.7 245.9h0M59.6 246.1h0M59.5 246.3h0M59.3 246.1h0M59.7 245.9h0M58.8 246.1h0M59.0 246.3h0M59.2 246.1h0M59.6 245.3h0M61.0 234.8h0M61.7 235.3h0M61.7 235.6h0M61.8 235.4h0M61.4 234.6h0M61.6 234.5h0M62.0 235.0h0M61.4 235.4h0M61.6 234.8h0M61.6 235.3h0M61.3 235.5h0M61.5 235.3h0M59.8 232.2h0M59.4 232.8h0M58.9 233.2h0M58.9 232.3h0M59.6 232.8h0M59.2 232.1h0M59.7 232.4h0M59.4 232.6h0M59.3 232.8h0M59.2 232.8h0M59.8 232.9h0M59.3 232.0h0M85.8 245.5h0M85.2 246.3h0M85.6 245.8h0M85.6 245.4h0M85.6 245.8h0M85.1 245.8h0M85.5 246.2h0M86.0 245.8h0M85.1 245.7h0M85.9 245.4h0M85.7 246.3h0M85.3 245.9h0M85.2 246.3h0M85.2 245.2h0M85.5 245.3h0M85.2 245.4h0M85.7 246.4h0M86.1 245.8h0M86.1 246.1h0M59.2 222.2h0M58.8 221.8h0M59.3 221.7h0M59.8 221.3h0M59.6 222.1h0M59.3 221.6h0M59.2 221.7h0M85.5 247.3h0M85.2 246.8h0M85.4 247.5h0M85.6 247.3h0M86.1 246.9h0M85.1 246.9h0M86.1 247.1h0M86.0 247.0h0M85.2 246.9h0M85.8 246.8h0M85.6 246.6h0M86.0 247.5h0M85.4 247.3h0M85.3 246.5h0M85.7 246.8h0M86.1 247.5h0M85.8 246.8h0M85.5 246.7h0M86.0 247.4h0"/>
<path stroke="#35b47e" stroke-width="0.62" stroke-linecap="square" opacity="1" d="M62.5 242.0h0M62.7 242.5h0M62.8 242.2h0M62.2 242.4h0M62.2 242.0h0M62.6 241.8h0M63.4 242.5h0M62.8 242.4h0M62.8 242.1h0M62.7 242.4h0M63.4 242.6h0M63.4 248.0h0M62.6 247.7h0M62.9 247.7h0M63.1 248.6h0M62.5 247.7h0M62.5 247.6h0M62.3 248.0h0M62.2 248.4h0M62.5 247.7h0M62.6 248.0h0M63.3 247.6h0M62.8 248.0h0M62.8 248.1h0M63.1 248.7h0M62.3 247.9h0M62.8 248.3h0M59.6 223.1h0M59.6 223.3h0M59.5 223.1h0M58.8 222.6h0M62.4 215.1h0M62.7 215.2h0M63.0 214.6h0M63.1 214.3h0M63.2 214.3h0M62.7 214.5h0M62.6 215.9h0M63.2 215.4h0M62.3 215.9h0M63.1 218.5h0M62.5 218.8h0M62.7 218.4h0M62.7 217.9h0M62.7 217.8h0M62.8 218.3h0M62.8 218.5h0M62.6 218.2h0M59.0 244.1h0M59.3 244.2h0M59.1 244.2h0M59.8 244.3h0M59.0 244.8h0M59.7 245.0h0M58.9 244.8h0M58.8 245.2h0M59.7 244.6h0M59.6 245.2h0M59.5 245.1h0M59.0 244.6h0M59.0 244.7h0M59.0 244.9h0M59.6 244.9h0M59.5 244.2h0M59.8 245.1h0M59.2 244.1h0M59.6 243.3h0M59.3 243.7h0M58.9 243.6h0M59.4 243.4h0M58.8 243.0h0M59.5 243.1h0M59.6 243.6h0M58.8 243.0h0M59.2 243.2h0M59.3 243.5h0M59.4 243.6h0M59.3 243.6h0M59.4 244.0h0M58.7 243.5h0M62.4 219.4h0M62.8 219.9h0M62.3 220.0h0M62.5 218.9h0M63.3 219.7h0M62.7 216.5h0M62.4 217.2h0M62.3 217.4h0M62.6 216.4h0M60.1 253.3h0M60.2 253.0h0M60.1 252.8h0M60.1 252.4h0M60.0 253.4h0M60.0 253.0h0M60.1 253.4h0M60.6 253.3h0M60.7 253.3h0M60.0 252.5h0M60.8 253.2h0M60.9 253.1h0M60.6 252.5h0M60.1 253.1h0M60.3 253.5h0M60.9 253.3h0M60.8 253.6h0M60.2 252.5h0M61.0 253.4h0M60.1 252.7h0M60.9 252.6h0M60.1 252.4h0M60.7 240.2h0M60.4 240.3h0M60.8 240.4h0M60.7 239.9h0M60.1 239.4h0M60.9 239.6h0M60.6 239.5h0M60.0 240.3h0M60.3 240.2h0M60.1 240.0h0M60.6 239.6h0M59.9 240.3h0M60.2 240.2h0M60.2 240.4h0M60.1 239.4h0M60.2 239.4h0M60.7 239.5h0M59.8 239.9h0M60.7 240.2h0M60.4 240.2h0M60.9 239.6h0M60.0 240.1h0M60.7 240.4h0M60.3 240.1h0M60.9 235.3h0M60.4 235.5h0M60.8 234.7h0M60.8 235.5h0M60.9 235.6h0M60.2 235.4h0M60.5 235.5h0M60.0 235.1h0M60.1 234.8h0M60.8 234.6h0M61.0 234.6h0M60.9 234.8h0M60.7 234.5h0M60.3 235.4h0M60.7 235.6h0M61.0 235.2h0M60.8 235.0h0M60.2 234.7h0M60.7 235.1h0M60.9 234.8h0M60.7 235.3h0M60.4 234.5h0M62.1 253.1h0M61.6 253.1h0M61.4 252.5h0M61.7 253.6h0M62.2 253.1h0M61.8 253.0h0M61.1 253.0h0M61.7 252.9h0M61.8 252.6h0M62.1 252.7h0M61.8 253.2h0M61.2 252.4h0M61.9 253.0h0M61.2 253.4h0M62.1 253.5h0M61.9 253.6h0M61.9 252.9h0M61.5 239.3h0M61.9 239.7h0M61.2 239.4h0M61.9 239.8h0M61.8 239.4h0M61.0 239.4h0M61.3 240.3h0M61.1 239.6h0M61.5 239.3h0M61.2 240.1h0M61.9 240.2h0M61.1 240.3h0M62.2 239.5h0M61.6 239.7h0M61.5 240.2h0M61.3 239.6h0M61.2 239.7h0M62.1 239.2h0M61.9 240.1h0M61.4 240.1h0M61.8 239.7h0M61.5 239.8h0M61.8 240.0h0M61.6 240.2h0M61.4 239.8h0M59.6 224.8h0M58.7 224.6h0M59.6 224.2h0M59.5 224.8h0M58.9 224.7h0M59.7 224.5h0M59.6 224.1h0M59.0 223.9h0"/>
<path stroke="#3cb95a" stroke-width="0.62" stroke-linecap="square" opacity="1" d="M62.9 221.2h0M63.2 220.6h0M62.6 220.9h0M62.4 221.1h0M62.7 220.8h0M62.9 220.0h0M59.8 231.0h0M59.1 231.1h0M59.2 231.9h0M59.8 230.9h0M59.6 231.0h0M58.7 231.7h0M59.6 231.0h0M59.7 231.2h0M60.9 251.9h0M60.1 252.1h0M60.9 252.0h0M59.9 252.2h0M60.6 251.5h0M60.5 252.1h0M60.6 252.0h0M60.6 252.4h0M60.5 252.2h0M60.6 252.3h0M59.8 252.3h0M60.7 252.2h0M60.8 252.3h0M60.8 252.3h0M60.7 251.5h0M60.7 251.8h0M60.2 252.0h0M62.7 231.3h0M63.3 231.2h0M63.3 231.1h0M62.4 231.5h0M63.1 230.9h0M63.1 231.6h0M62.8 231.3h0M62.9 231.1h0M62.3 231.5h0M63.3 231.8h0M62.4 231.0h0M63.3 231.7h0M62.8 221.7h0M62.9 221.7h0M62.6 222.0h0M62.4 222.3h0M63.4 221.6h0M62.4 221.4h0M62.3 222.0h0M62.7 221.3h0M63.2 221.8h0M62.2 223.4h0M63.0 222.6h0M62.3 223.0h0M62.2 222.8h0M62.9 222.5h0M63.1 222.8h0M62.5 223.1h0M63.1 222.8h0M62.3 222.6h0M59.4 225.0h0M59.2 225.3h0M59.6 225.2h0M59.5 224.9h0M59.4 225.2h0M59.7 225.8h0M58.9 225.3h0M59.5 226.0h0M60.5 251.0h0M60.0 251.1h0M60.0 250.2h0M60.8 250.5h0M60.8 250.2h0M60.4 250.0h0M60.7 251.1h0M59.9 250.9h0M60.7 251.0h0M60.6 250.6h0M60.4 251.1h0M60.4 250.2h0M60.2 251.1h0M60.8 250.2h0M60.8 251.0h0M60.9 250.1h0M59.8 250.4h0M60.2 251.1h0M59.9 250.7h0M60.0 250.5h0M60.4 250.8h0M60.6 251.2h0M60.7 251.0h0M60.5 250.7h0M61.7 252.2h0M62.0 251.6h0M61.4 252.2h0M61.1 251.3h0M61.7 252.1h0M61.2 251.4h0M61.6 252.2h0M61.6 251.8h0M61.2 252.4h0M61.9 252.2h0M61.2 252.2h0M62.0 252.3h0M61.3 251.8h0M62.0 251.6h0M62.1 252.0h0M62.0 252.0h0M62.1 252.0h0M61.7 252.4h0M61.0 252.3h0M61.2 252.3h0M62.1 252.3h0M61.3 252.1h0M61.0 251.7h0M61.1 252.2h0M61.3 251.5h0M61.1 251.9h0M62.0 251.9h0M61.2 252.2h0M61.5 251.7h0M61.1 251.3h0M61.9 233.7h0M62.2 233.9h0M61.3 233.4h0M61.4 233.9h0M61.8 233.5h0M61.6 233.5h0M61.4 233.5h0M62.1 233.8h0M61.3 233.9h0M62.0 233.7h0M61.3 233.7h0M61.4 233.9h0M61.4 233.6h0M61.2 233.3h0M61.6 233.3h0M61.7 233.4h0M61.3 233.6h0M61.9 233.6h0M61.1 233.7h0M61.4 233.5h0M62.0 234.0h0M61.6 233.9h0M61.0 234.4h0M62.6 224.1h0M63.3 224.0h0M62.3 224.3h0"/>
<path stroke="#59be49" stroke-width="0.62" stroke-linecap="square" opacity="1" d="M61.7 211.1h0M61.6 210.6h0M62.0 211.3h0M61.9 211.4h0M61.1 211.6h0M61.0 211.5h0M61.8 210.7h0M61.5 210.8h0M61.1 211.4h0M61.7 211.3h0M61.7 210.7h0M61.5 210.8h0M61.2 211.5h0M61.5 210.4h0M61.4 210.5h0M61.4 210.7h0M61.3 210.7h0M61.7 210.9h0M61.5 211.0h0M61.1 211.5h0M61.2 211.4h0M61.2 210.5h0M61.3 211.2h0M61.2 210.5h0M60.7 211.2h0M60.5 211.5h0M60.6 210.8h0M60.5 211.4h0M60.9 211.0h0M60.7 211.2h0M60.4 210.8h0M60.4 211.5h0M60.1 211.3h0M60.9 211.2h0M60.2 211.5h0M60.1 210.9h0M60.4 210.6h0M60.8 211.0h0M60.8 210.8h0M60.6 211.3h0M60.2 210.4h0M61.0 210.6h0M60.7 211.5h0M60.8 211.3h0M60.7 211.5h0M60.9 211.5h0M60.7 211.5h0M60.5 210.8h0M60.2 210.8h0M60.7 211.2h0M60.4 211.1h0M60.7 210.5h0M60.6 210.5h0M61.0 211.0h0M61.0 211.6h0M60.3 210.8h0M60.8 210.8h0M60.0 249.9h0M60.3 249.6h0M60.5 249.0h0M60.8 249.1h0M60.0 249.6h0M60.9 249.0h0M60.5 250.0h0M60.1 248.9h0M61.0 249.5h0M60.5 249.4h0M60.7 249.2h0M59.9 250.0h0M60.0 248.9h0M60.4 249.3h0M60.6 249.2h0M60.3 249.9h0M60.6 249.5h0M60.7 249.6h0M59.6 230.3h0M59.7 229.7h0M59.7 230.5h0M59.4 229.7h0M59.2 230.4h0M59.5 229.8h0M58.7 230.0h0M59.7 230.5h0M59.7 230.0h0M58.9 229.8h0M59.1 229.8h0M58.8 230.3h0M59.2 230.6h0M58.9 229.7h0M59.4 230.4h0M60.6 241.4h0M59.9 241.1h0M60.2 241.3h0M60.3 241.2h0M59.9 240.9h0M60.2 240.9h0M60.2 240.7h0M60.6 240.7h0M59.9 241.6h0M60.9 240.6h0M60.4 241.4h0M60.8 241.0h0M60.3 241.2h0M60.2 241.3h0M60.9 240.8h0M60.1 240.5h0M60.8 240.6h0M60.6 241.0h0M60.8 241.2h0M60.9 240.8h0M60.6 240.9h0M61.4 250.3h0M62.1 251.0h0M61.3 250.3h0M61.9 250.8h0M61.6 250.5h0M61.5 251.0h0M61.0 250.2h0M61.6 251.1h0M61.3 250.8h0M62.2 251.1h0M62.0 250.2h0M61.0 250.6h0M61.4 251.0h0M61.4 250.5h0M62.0 250.6h0M61.8 250.9h0M62.0 250.7h0M61.7 250.4h0M61.6 250.2h0M61.4 250.3h0M61.4 251.0h0M61.4 250.9h0M61.7 251.0h0M61.2 250.6h0M62.7 225.7h0M63.2 225.6h0M62.7 225.1h0M62.3 224.8h0M62.7 225.1h0M62.9 224.9h0M62.6 225.6h0M63.3 225.1h0M62.2 226.0h0M63.2 225.6h0M62.4 225.2h0M63.2 225.4h0M62.9 225.1h0M60.7 233.2h0M60.7 233.7h0M60.4 233.4h0M60.7 233.4h0M60.6 233.8h0M60.9 233.7h0M60.0 233.5h0M60.7 233.3h0M60.7 233.3h0M60.7 233.3h0M60.3 233.5h0M60.7 233.4h0M60.9 234.1h0M59.8 233.6h0M60.6 233.6h0M60.5 233.6h0M60.5 233.8h0M60.0 233.8h0M60.4 233.9h0M60.7 233.6h0M60.5 233.5h0M61.0 233.4h0M60.6 233.6h0M60.8 233.9h0M60.7 233.4h0M60.9 233.7h0M61.1 240.6h0M62.1 241.6h0M61.3 240.8h0M61.2 240.9h0M61.2 241.5h0M61.4 240.7h0M61.4 240.8h0M61.9 241.5h0M61.4 241.1h0M61.7 241.5h0M61.6 241.3h0M61.5 241.3h0M61.0 240.7h0M61.1 240.7h0M61.3 241.1h0M61.3 240.9h0M61.8 240.9h0M61.0 240.6h0M61.2 241.4h0M61.8 241.1h0M61.5 240.7h0M61.4 241.0h0M62.1 241.2h0M61.8 240.8h0M61.5 241.0h0M59.4 226.0h0M58.9 226.5h0M59.0 226.1h0M59.4 226.8h0M59.4 226.6h0M59.2 226.2h0M59.6 226.2h0M59.2 226.6h0M60.7 248.1h0M60.3 247.7h0M60.8 248.0h0M60.9 248.3h0M60.8 248.2h0M60.7 248.0h0M60.2 248.7h0M60.2 248.1h0M60.8 248.0h0M60.1 247.8h0M60.7 248.7h0M60.2 248.6h0M60.5 248.6h0M60.1 248.0h0M60.6 248.2h0M60.5 248.3h0M60.1 248.4h0M60.3 248.7h0M60.5 248.1h0M60.7 248.4h0M60.1 248.2h0M61.0 247.9h0M63.0 230.7h0M62.2 230.0h0M62.6 229.9h0M62.9 230.3h0M62.4 229.6h0M62.9 229.7h0M62.8 229.9h0M62.2 230.4h0M62.3 229.8h0M62.4 230.7h0M62.4 230.6h0M62.2 230.0h0M62.8 230.0h0M62.9 230.2h0M62.7 229.7h0M62.0 246.1h0M62.2 246.1h0M61.2 245.8h0M62.0 245.5h0M61.2 245.8h0M61.2 245.6h0M61.9 245.4h0M62.1 246.0h0M61.0 246.1h0M61.2 245.2h0M61.9 245.8h0M61.3 245.3h0M61.5 246.0h0M61.0 245.3h0M62.0 246.3h0M61.5 245.7h0M61.1 246.4h0M61.3 246.3h0M61.2 246.0h0M61.1 245.6h0M61.9 245.7h0M61.4 249.7h0M61.1 249.4h0M61.9 249.8h0M62.2 249.2h0M61.1 249.3h0M61.1 249.2h0M61.5 249.7h0M62.0 249.7h0M61.3 249.0h0M61.4 249.0h0M61.1 248.9h0M61.8 249.5h0M61.1 248.9h0M61.1 249.3h0M61.3 249.9h0M61.5 248.9h0M62.2 249.6h0M62.0 249.5h0M61.3 249.0h0M61.4 249.1h0M61.8 248.9h0M61.6 249.1h0M61.7 249.2h0M61.0 249.8h0M61.1 249.4h0M61.1 249.9h0M59.6 229.1h0M58.9 229.4h0M59.7 229.3h0M58.7 229.5h0M59.3 229.1h0M59.5 229.5h0M59.7 228.5h0M59.6 228.9h0M59.6 228.9h0M58.8 229.1h0M59.6 228.7h0M58.7 229.3h0M60.9 246.9h0M60.8 247.4h0M60.1 247.1h0M60.6 247.2h0M60.8 247.3h0M60.9 247.1h0M59.9 246.6h0M60.8 246.7h0M60.8 246.8h0M60.5 246.7h0M60.7 247.2h0M60.9 247.3h0M60.3 246.5h0M60.5 247.6h0M60.1 246.5h0M60.2 246.8h0M60.0 246.9h0M60.5 247.3h0M60.3 246.9h0M60.4 247.4h0M61.0 246.7h0M60.8 246.5h0M60.5 247.1h0M60.8 246.6h0M60.4 247.1h0M60.9 247.5h0M60.6 246.7h0M62.4 226.6h0M63.3 226.9h0M63.0 226.6h0M63.2 226.4h0M62.2 226.5h0M62.4 226.3h0M61.0 245.0h0M61.6 245.2h0M62.0 244.6h0M62.1 245.0h0M61.2 245.1h0M61.1 244.4h0M62.0 244.5h0M61.7 245.0h0M62.0 244.6h0M61.6 244.7h0M61.4 244.8h0M62.0 244.5h0M62.2 244.1h0M62.0 244.3h0M62.2 244.1h0M61.3 244.2h0M61.7 244.0h0M61.9 244.6h0M61.3 244.7h0M61.7 245.1h0M62.2 244.6h0M61.4 244.8h0M61.6 245.0h0M62.0 244.8h0M60.3 246.0h0M60.1 245.5h0M59.8 245.2h0M60.6 246.4h0M59.8 245.9h0M60.3 246.4h0M60.8 245.5h0M59.9 245.3h0M60.1 245.3h0M60.8 245.5h0M59.8 245.3h0M61.0 245.6h0M61.0 245.8h0M60.9 245.5h0M60.8 245.3h0M60.9 245.8h0M60.8 245.9h0M60.9 245.4h0M60.1 246.3h0M60.8 245.3h0M59.5 227.6h0M59.7 227.7h0M58.8 227.2h0M58.6 227.4h0M58.9 227.5h0M59.4 227.3h0M62.5 227.5h0M62.5 228.1h0M62.5 227.7h0M63.3 227.5h0M63.4 227.5h0"/>
<path stroke="#78c338" stroke-width="0.62" stroke-linecap="square" opacity="1" d="M63.2 229.3h0M62.8 229.3h0M62.6 229.3h0M62.3 229.6h0M62.9 228.8h0M63.2 228.5h0M62.3 229.2h0M62.2 228.9h0M63.4 228.7h0M63.0 228.5h0M61.3 247.6h0M61.3 247.4h0M61.7 247.4h0M61.2 246.7h0M62.1 246.6h0M61.5 247.2h0M62.0 247.4h0M61.6 247.3h0M62.2 246.5h0M61.3 247.6h0M61.8 247.6h0M61.6 246.5h0M61.1 247.6h0M61.1 246.8h0M62.2 246.6h0M61.4 246.6h0M61.3 246.5h0M61.2 247.5h0M62.1 246.7h0M61.9 246.9h0M61.7 247.5h0M61.8 247.6h0M61.6 247.6h0M61.8 246.9h0M61.1 246.6h0M61.1 247.4h0M61.7 247.5h0M61.3 246.9h0M62.1 247.5h0M61.4 247.2h0M62.1 247.1h0M61.3 246.7h0M62.0 248.3h0M61.9 247.8h0M61.8 247.8h0M61.0 248.5h0M61.7 247.7h0M61.7 247.6h0M62.0 248.6h0M61.8 248.0h0M61.3 248.6h0M61.5 248.6h0M61.9 248.0h0M61.7 248.3h0M61.1 247.8h0M61.8 247.7h0M61.5 248.2h0M61.9 248.1h0M61.7 247.8h0M61.5 248.7h0M61.2 248.7h0M61.1 247.9h0M61.8 248.2h0M61.4 247.9h0M61.7 248.6h0M61.2 247.7h0M62.1 248.3h0M62.0 248.6h0M60.5 244.2h0M60.6 244.9h0M60.8 244.1h0M60.4 244.1h0M60.5 244.4h0M60.7 244.4h0M60.5 244.4h0M60.1 245.1h0M59.9 244.3h0M60.9 245.2h0M59.9 245.2h0M60.7 244.9h0M60.9 244.2h0M60.3 244.1h0M60.7 244.9h0M60.6 244.8h0M60.1 245.1h0M60.5 244.7h0M60.8 244.3h0M60.7 244.6h0M60.0 244.2h0M60.5 245.1h0M60.0 244.3h0M60.6 244.4h0M60.3 244.7h0M60.8 241.9h0M60.9 242.7h0M60.3 242.3h0M60.0 242.8h0M61.0 242.2h0M60.5 242.7h0M60.2 242.3h0M60.7 242.3h0M59.9 242.6h0M60.9 242.6h0M59.9 242.2h0M60.8 242.2h0M60.0 242.8h0M60.0 241.7h0M60.7 242.3h0M60.1 242.7h0M60.1 242.0h0M60.3 242.7h0M61.8 242.6h0M61.4 241.7h0M61.1 242.7h0M61.3 242.8h0M61.4 242.5h0M61.3 242.4h0M61.6 242.4h0M61.7 241.6h0M61.9 241.7h0M61.8 242.1h0M61.4 242.1h0M61.7 242.2h0M61.2 241.7h0M61.9 242.6h0M61.6 242.7h0M62.1 242.5h0M61.8 242.3h0M61.0 242.5h0M61.8 241.8h0M62.0 241.7h0M62.1 241.8h0M61.1 242.6h0M61.6 242.1h0M62.2 241.8h0M61.2 241.6h0M61.3 242.1h0M61.1 242.4h0M61.7 242.5h0M61.6 242.3h0M61.6 241.9h0M61.2 242.4h0M61.3 242.4h0M62.0 241.6h0M61.0 242.0h0M61.7 242.1h0M61.6 242.3h0M61.4 243.3h0M61.9 243.2h0M62.2 243.5h0M61.3 243.1h0M61.5 243.2h0M62.1 243.1h0M62.0 243.2h0M62.0 243.0h0M62.0 243.5h0M61.6 243.2h0M61.3 242.8h0M61.4 243.7h0M61.9 243.4h0M61.6 243.4h0M61.7 243.5h0M61.7 242.9h0M61.1 243.2h0M62.1 242.9h0M61.4 243.9h0M61.1 243.2h0M61.4 242.9h0M62.0 243.2h0M61.1 243.0h0M61.5 243.7h0M60.8 243.7h0M60.5 243.6h0M60.8 243.2h0M60.0 243.4h0M60.1 242.9h0M60.8 243.5h0M59.8 243.5h0M60.0 243.6h0M59.8 242.8h0M60.2 243.9h0M59.8 242.8h0M60.1 243.9h0M60.3 243.2h0M60.0 243.8h0M60.8 243.1h0M60.0 243.7h0M60.2 243.1h0M60.1 243.0h0M59.8 243.1h0M60.4 243.2h0M60.3 243.7h0M60.7 243.3h0M59.9 243.9h0M60.9 243.1h0M59.9 243.1h0M60.2 242.9h0M60.9 243.1h0M60.8 244.0h0M60.4 243.7h0M60.5 243.0h0M60.8 243.0h0M60.9 242.9h0M59.8 243.1h0M60.7 243.0h0M60.8 243.6h0M59.9 244.0h0M60.6 243.1h0M60.2 243.6h0M60.6 243.8h0M60.5 243.0h0"/>
<path stroke="#96c828" stroke-width="0.62" stroke-linecap="square" opacity="1" d="M61.0 211.7h0M60.7 212.2h0M60.8 211.8h0M60.1 212.3h0M60.9 212.3h0M60.6 212.2h0M60.7 212.5h0M60.4 212.6h0M60.4 212.7h0M60.4 212.1h0M60.6 212.1h0M60.1 212.4h0M60.9 212.6h0M60.4 211.7h0M60.4 212.7h0M60.7 212.7h0M60.5 212.4h0M59.9 212.0h0M60.6 211.9h0M60.4 212.1h0M60.8 211.9h0M60.8 211.7h0M60.4 212.7h0M60.8 212.0h0M60.8 211.8h0M60.0 212.3h0M60.7 211.6h0M60.8 212.2h0M60.5 212.3h0M61.3 212.2h0M61.2 212.1h0M61.5 212.1h0M61.0 212.2h0M61.8 212.1h0M61.3 212.1h0M61.1 212.0h0M61.9 211.6h0M61.2 211.6h0M61.3 212.7h0M61.9 212.5h0M61.5 212.0h0M61.4 211.7h0M61.5 211.8h0M61.2 212.5h0M61.6 211.9h0M61.5 212.8h0M61.8 212.4h0M61.6 212.2h0M61.8 211.8h0M61.4 212.6h0M61.1 211.6h0M61.6 211.6h0M61.4 212.2h0M61.5 212.0h0M62.0 211.7h0M61.8 212.7h0M61.3 211.8h0M61.2 211.7h0M61.3 212.2h0M61.6 212.1h0M61.0 212.4h0M61.6 211.9h0M61.0 211.8h0M61.6 232.5h0M61.3 233.1h0M61.5 232.4h0M62.1 233.1h0M61.5 232.6h0M61.5 232.2h0M61.0 233.2h0M61.3 232.8h0M61.1 232.3h0M61.6 232.2h0M61.4 232.7h0M61.0 232.5h0M61.2 233.1h0M61.6 232.7h0M61.4 232.8h0M61.6 232.5h0M61.2 233.0h0M61.7 232.1h0M61.5 232.4h0M61.3 232.1h0M61.2 232.8h0M61.4 232.7h0M61.2 232.4h0M61.3 232.1h0M61.7 232.2h0M61.6 232.7h0M61.5 232.2h0M62.0 232.9h0M61.4 232.4h0M62.0 232.0h0M61.2 232.6h0M61.8 232.3h0M61.2 233.0h0M61.3 232.9h0M61.4 232.9h0M61.3 233.2h0M61.3 232.1h0M61.4 233.1h0M61.5 233.2h0M61.8 232.4h0M61.3 232.6h0M60.9 232.2h0M60.9 232.8h0M60.4 232.1h0M60.8 232.6h0M60.3 232.9h0M60.7 232.4h0M59.9 233.1h0M60.3 232.8h0M60.4 232.2h0M60.4 232.2h0M60.6 232.7h0M60.8 232.5h0M60.9 232.4h0M60.7 232.3h0M60.4 232.2h0M60.1 232.5h0M60.7 232.5h0M60.7 232.6h0M61.0 232.3h0M60.5 233.2h0M59.9 233.0h0M60.6 233.1h0M60.6 232.7h0M61.0 232.5h0M60.0 232.1h0M60.7 232.4h0M60.7 232.9h0M60.8 232.1h0M60.3 233.2h0M60.7 232.3h0M60.9 232.4h0"/>
<path stroke="#bbc823" stroke-width="0.62" stroke-linecap="square" opacity="1" d="M60.9 213.3h0M60.1 212.9h0M60.3 213.7h0M60.5 213.6h0M60.8 213.5h0M60.9 212.8h0M60.5 213.0h0M60.6 213.2h0M60.5 212.9h0M60.2 212.9h0M60.4 213.6h0M60.6 212.9h0M60.6 213.6h0M60.5 213.7h0M60.4 213.5h0M60.6 214.0h0M60.0 213.5h0M60.9 214.0h0M60.9 213.3h0M60.5 213.4h0M60.7 213.0h0M60.1 213.4h0M59.9 213.1h0M60.5 213.8h0M61.0 213.1h0M60.1 213.8h0M60.6 213.5h0M60.8 213.1h0M59.8 213.6h0M60.3 213.1h0M59.8 213.4h0M60.9 213.2h0M60.6 212.9h0M60.2 213.2h0M60.4 213.5h0M60.9 213.6h0M60.2 213.9h0M60.5 213.6h0M60.8 212.8h0M60.0 213.1h0M60.9 212.8h0M60.6 213.8h0"/>
<path stroke="#e1c81f" stroke-width="0.62" stroke-linecap="square" opacity="1" d="M61.1 214.0h0M61.6 213.7h0M62.1 213.7h0M61.8 213.9h0M61.5 213.5h0M61.8 213.4h0M61.1 213.4h0M61.2 213.5h0M61.6 214.0h0M61.3 212.9h0M61.2 213.7h0M61.1 212.9h0M61.1 213.1h0M61.1 213.6h0M61.8 213.2h0M61.2 213.6h0M61.0 213.4h0M61.9 212.8h0M61.1 213.4h0M61.4 213.0h0M61.5 213.1h0M61.4 213.3h0M61.5 213.6h0M61.3 213.0h0M61.1 213.7h0M61.9 213.1h0M62.2 212.9h0M61.1 213.9h0M61.3 213.0h0M61.7 212.8h0M61.7 212.9h0M61.4 213.6h0M61.3 213.8h0M61.8 213.6h0M61.6 213.3h0M61.6 213.2h0M61.0 213.1h0M61.3 213.6h0M62.0 213.6h0M61.4 213.6h0M61.1 213.3h0M61.8 213.5h0M61.3 213.1h0M61.2 213.9h0M61.6 212.8h0M61.9 213.4h0M61.5 213.0h0M61.3 213.5h0M61.1 213.9h0M60.9 219.1h0M60.6 220.0h0M60.3 219.6h0M60.6 218.9h0M60.4 219.8h0M60.3 219.5h0M60.5 219.3h0M60.8 219.9h0M60.2 219.7h0M60.9 219.1h0M60.7 219.5h0M61.0 219.5h0M60.8 219.3h0M60.8 219.3h0M61.0 218.8h0M60.0 218.9h0M60.2 220.0h0M60.6 219.4h0M60.5 220.0h0M60.6 219.5h0M60.0 219.9h0M60.5 219.9h0M60.6 219.2h0M60.1 219.8h0M60.4 219.1h0M60.3 219.4h0M61.0 219.4h0M60.6 219.9h0M60.3 219.4h0M60.2 219.0h0M60.4 219.0h0M59.9 219.4h0M60.5 219.3h0M60.4 219.9h0M60.3 219.0h0M60.7 215.1h0M60.5 214.0h0M59.9 214.4h0M61.0 214.9h0M60.8 214.1h0M61.0 214.8h0M61.0 214.1h0M60.6 215.0h0M60.2 214.8h0M60.4 214.7h0M60.3 214.8h0M60.7 214.8h0M60.1 214.8h0M60.8 214.3h0M60.4 214.5h0M60.9 214.9h0M60.6 214.7h0M60.6 214.9h0M60.9 214.1h0M60.6 214.0h0M60.8 214.3h0M60.3 214.9h0M60.6 215.1h0M60.7 214.7h0M60.6 214.5h0M60.9 214.0h0M60.3 214.6h0M60.8 214.8h0M60.5 215.1h0M60.2 214.7h0M60.7 215.0h0M60.4 215.0h0M60.9 214.2h0M60.5 214.9h0M60.7 218.1h0M60.6 217.7h0M60.7 218.4h0M60.3 217.9h0M60.3 218.7h0M60.8 218.1h0M60.9 218.2h0M60.1 218.7h0M61.0 218.3h0M60.4 218.1h0M60.9 218.7h0M61.0 218.2h0M60.4 217.8h0M61.0 218.7h0M61.0 217.8h0M60.3 218.6h0M60.5 217.8h0M60.0 218.3h0M60.5 218.1h0M60.6 218.4h0M61.0 218.2h0M60.9 218.4h0M60.6 218.4h0M60.6 218.1h0M60.7 218.0h0M60.9 217.9h0M60.4 218.1h0M60.7 218.8h0M60.9 218.4h0M60.7 218.0h0M60.1 218.5h0M59.9 218.7h0M60.7 217.8h0M60.3 218.6h0M60.0 218.3h0M60.8 218.0h0M61.0 218.8h0M60.8 217.8h0M60.9 218.5h0M60.6 215.4h0M60.8 216.0h0M60.3 215.4h0M60.7 215.2h0M60.1 216.0h0M60.5 216.4h0M60.1 215.9h0M60.8 216.2h0M60.8 216.0h0M60.9 216.2h0M60.3 215.8h0M60.3 215.8h0M60.9 215.8h0M60.2 216.1h0M60.9 215.3h0M60.6 215.5h0M60.7 215.8h0M60.6 216.3h0M60.9 215.8h0M60.4 216.2h0M60.1 215.6h0M60.2 215.8h0M60.9 215.4h0M60.9 215.4h0M60.7 215.6h0M60.2 215.9h0M61.0 216.2h0M60.4 216.3h0M60.9 216.3h0M60.5 216.1h0M59.9 215.3h0M60.9 215.8h0M60.4 216.2h0M60.7 216.3h0M60.8 215.3h0M60.3 215.3h0M60.0 215.5h0M60.3 215.8h0M60.4 215.8h0M60.5 215.7h0M60.2 217.2h0M60.7 216.6h0M60.5 217.4h0M60.8 216.8h0M60.7 217.2h0M60.5 217.2h0M59.9 217.4h0M60.5 217.5h0M60.9 216.8h0M60.8 216.5h0M60.8 217.2h0M60.6 216.9h0M60.8 217.4h0M60.5 216.9h0M60.5 217.5h0M60.7 217.0h0M60.4 216.5h0M60.4 216.6h0M60.6 216.7h0M60.3 216.9h0M60.5 216.7h0M60.9 216.7h0M60.6 217.3h0M60.9 216.5h0M60.3 217.3h0M60.9 216.7h0M60.9 217.1h0M60.4 217.6h0M60.2 217.4h0M60.8 216.6h0M60.6 216.4h0M60.7 217.2h0M60.3 216.6h0M60.3 216.5h0M60.3 216.6h0M59.9 216.6h0M60.7 216.7h0"/>
<path stroke="#f0b01e" stroke-width="0.62" stroke-linecap="square" opacity="1" d="M60.3 231.9h0M60.4 230.9h0M60.0 231.5h0M60.2 231.4h0M60.3 231.6h0M60.4 231.3h0M60.4 232.0h0M60.7 231.8h0M60.2 231.7h0M60.6 231.0h0M60.7 231.1h0M61.0 231.7h0M60.3 231.1h0M60.6 231.3h0M60.1 231.2h0M60.3 231.8h0M60.1 231.1h0M60.3 231.6h0M60.4 231.4h0M60.9 231.3h0M60.9 232.0h0M60.6 231.2h0M60.9 230.8h0M60.8 231.9h0M60.8 231.7h0M60.8 231.5h0M60.6 231.2h0M60.5 231.6h0M60.5 232.0h0M60.3 231.0h0M60.2 231.1h0M60.7 231.3h0M60.1 231.5h0M60.9 230.8h0M60.4 231.8h0M60.6 221.1h0M60.9 221.0h0M60.6 220.2h0M61.0 220.9h0M61.0 220.6h0M60.3 220.2h0M60.4 221.1h0M59.9 221.1h0M60.1 220.8h0M60.0 221.2h0M60.7 221.2h0M60.0 220.7h0M60.5 220.3h0M60.6 221.2h0M61.0 220.5h0M60.0 221.0h0M60.8 221.2h0M59.8 220.5h0M60.9 220.9h0M60.3 220.3h0M60.9 220.4h0M60.9 220.6h0M60.6 220.8h0M60.4 220.2h0M59.9 220.5h0M60.3 220.1h0M60.3 220.3h0M60.5 220.9h0M60.9 220.7h0M60.7 220.5h0M60.8 220.9h0M60.5 220.8h0M60.9 220.6h0M60.4 221.2h0M60.9 220.6h0M60.0 221.0h0M61.1 219.2h0M61.6 219.6h0M61.3 219.2h0M61.2 219.5h0M62.1 219.8h0M61.6 219.3h0M61.8 219.0h0M62.0 218.9h0M61.7 219.8h0M62.2 219.0h0M61.0 219.3h0M61.0 219.9h0M61.8 219.1h0M61.5 219.2h0M62.0 219.6h0M61.0 219.8h0M61.5 220.0h0M61.8 219.9h0M61.4 219.6h0M61.9 219.2h0M61.4 219.9h0M61.9 218.9h0M61.5 220.0h0M62.1 219.8h0M61.7 219.3h0M61.1 219.1h0M61.3 219.5h0M62.1 219.9h0M61.6 218.8h0M61.2 218.9h0M61.2 219.8h0M62.0 219.7h0M62.1 219.8h0M62.1 219.2h0M61.8 219.8h0M61.6 219.0h0M61.5 219.0h0M61.7 219.3h0M61.9 219.0h0M61.5 219.1h0M61.3 219.0h0M61.3 219.1h0M61.1 218.2h0M62.1 218.8h0M61.3 218.7h0M61.6 218.2h0M61.3 218.0h0M61.6 217.8h0M61.8 218.2h0M61.6 217.9h0M61.4 218.3h0M61.0 218.2h0M61.1 218.3h0M61.0 218.8h0M61.2 218.5h0M61.0 218.3h0M61.3 218.3h0M61.8 217.6h0M61.2 218.8h0M62.2 218.4h0M61.4 217.9h0M61.9 218.4h0M61.4 218.1h0M61.1 218.1h0M61.8 218.0h0M61.5 217.9h0M61.4 218.3h0M61.0 218.6h0M61.5 217.8h0M61.7 217.7h0M61.0 218.8h0M61.2 217.8h0M61.3 218.4h0M61.2 218.0h0M61.9 218.7h0M61.1 217.6h0M61.7 217.9h0M61.2 218.7h0M61.2 218.3h0M61.4 218.1h0M62.0 217.9h0M61.5 218.3h0M61.7 214.5h0M62.0 214.4h0M61.2 214.7h0M61.8 214.5h0M61.0 214.6h0M61.5 215.1h0M61.2 215.0h0M61.5 215.1h0M61.1 215.0h0M61.5 215.2h0M61.3 214.0h0M61.1 214.9h0M61.0 214.3h0M61.9 214.8h0M61.5 214.1h0M61.8 214.1h0M61.0 215.0h0M61.8 215.2h0M61.3 214.0h0M62.0 215.1h0M61.9 214.1h0M61.2 214.5h0M61.3 214.8h0M61.2 215.2h0M61.1 214.6h0M61.1 214.5h0M61.4 214.3h0M61.9 214.7h0M61.6 214.7h0M62.1 214.2h0M61.7 214.9h0M61.4 215.0h0M61.2 214.1h0M61.1 214.5h0M61.1 214.0h0M61.6 214.7h0M61.6 214.8h0M61.8 214.3h0M61.6 215.1h0M61.5 214.6h0M61.3 214.2h0M61.0 215.0h0M61.3 215.1h0M61.1 231.5h0M61.8 231.1h0M61.3 231.5h0M61.1 231.5h0M61.5 231.0h0M61.3 232.0h0M61.7 231.8h0M61.4 231.6h0M61.3 231.9h0M61.7 231.4h0M61.6 231.3h0M61.2 230.9h0M61.1 232.0h0M61.4 230.8h0M61.1 230.9h0M61.7 231.6h0M61.1 231.7h0M61.2 231.9h0M61.6 231.5h0M61.9 230.9h0M61.5 231.8h0M62.1 231.1h0M61.9 231.8h0M61.3 231.2h0M61.3 231.8h0M61.6 231.6h0M61.5 230.8h0M61.5 230.8h0M61.4 231.7h0M62.0 231.9h0M61.9 231.4h0M61.4 231.6h0M61.4 230.9h0M61.9 231.8h0M61.5 231.4h0M61.4 231.4h0M61.6 231.1h0M61.5 216.1h0M61.0 215.7h0M61.3 216.3h0M62.1 215.5h0M61.9 216.3h0M61.5 215.9h0M61.2 216.2h0M61.0 215.7h0M61.8 215.8h0M61.4 215.3h0M62.2 215.2h0M61.6 215.7h0M61.9 215.5h0M61.8 215.6h0M61.2 216.0h0M61.5 215.5h0M61.1 215.3h0M61.0 215.8h0M61.1 216.2h0M61.3 216.1h0M61.7 216.0h0M61.8 215.2h0M61.5 216.2h0M61.6 215.3h0M61.9 215.9h0M61.5 215.4h0M61.7 216.4h0M61.4 215.8h0M61.8 215.7h0M61.7 216.0h0M61.7 216.0h0M61.5 215.5h0M61.5 216.1h0M61.0 215.4h0M61.4 215.3h0M61.4 215.4h0M61.3 215.6h0M61.4 215.6h0M61.8 215.6h0M61.4 215.2h0M61.2 216.1h0M61.9 215.4h0M61.6 215.4h0M62.1 216.1h0M61.3 216.1h0M61.4 216.6h0M61.5 217.3h0M61.9 217.4h0M61.6 216.8h0M61.5 217.0h0M61.5 216.9h0M62.2 216.9h0M61.1 217.0h0M61.5 216.6h0M61.3 217.0h0M61.2 216.6h0M61.1 217.3h0M61.0 216.7h0M62.0 216.9h0M61.6 217.3h0M61.9 216.7h0M62.0 217.4h0M61.1 217.0h0M61.4 217.2h0M61.5 217.5h0M62.0 216.8h0M61.5 217.4h0M61.3 217.4h0M61.3 217.0h0M61.8 216.5h0M61.6 217.0h0M61.7 217.5h0M61.2 216.6h0M61.2 216.6h0M61.3 217.2h0M61.5 217.4h0M61.1 217.2h0M61.0 216.4h0M61.3 216.5h0M61.6 216.8h0M61.2 217.0h0M61.4 217.6h0M61.1 216.7h0M61.4 216.9h0M61.3 217.5h0M61.1 217.3h0M61.2 216.9h0M61.5 216.8h0M61.3 217.1h0M61.1 216.8h0M61.7 217.0h0M61.6 217.2h0M61.5 217.4h0M61.9 216.4h0M61.4 217.4h0M61.0 221.5h0M60.5 221.7h0M60.4 221.5h0M61.0 222.3h0M60.4 222.1h0M60.2 221.2h0M60.7 221.6h0M60.5 221.8h0M60.9 221.3h0M60.6 221.3h0M60.8 222.2h0M60.6 222.1h0M61.0 221.3h0M60.7 221.3h0M60.7 221.6h0M60.9 222.3h0M60.9 222.1h0M61.0 221.5h0M60.8 222.3h0M61.0 222.2h0M60.1 221.4h0M60.8 221.7h0M60.6 221.6h0M61.0 222.2h0M60.8 221.3h0M59.9 221.7h0M60.5 221.4h0M60.0 222.0h0M60.7 221.9h0M60.3 221.5h0M60.4 222.1h0M61.0 221.5h0M60.9 222.0h0M60.7 221.8h0M60.6 222.2h0M60.2 221.7h0M60.0 222.2h0M60.5 222.0h0M61.0 221.5h0M60.9 222.2h0M60.6 222.0h0M61.0 221.4h0M61.0 222.4h0M60.8 222.2h0M61.1 220.6h0M61.2 220.2h0M62.2 221.0h0M61.3 220.4h0M61.9 220.3h0M61.6 220.0h0M61.9 220.9h0M61.7 220.6h0M61.3 220.7h0M61.3 220.8h0M61.5 220.1h0M62.2 220.2h0M61.2 221.1h0M62.1 220.4h0M61.9 220.7h0M61.2 221.1h0M61.2 220.1h0M61.5 220.5h0M61.0 220.2h0M61.1 220.7h0M61.6 221.2h0M61.9 220.4h0M61.1 220.7h0M61.1 221.1h0M61.1 220.1h0M61.2 221.0h0M61.1 220.6h0M61.4 220.8h0M61.3 220.8h0M61.1 220.8h0M61.7 220.6h0M61.5 220.3h0M62.0 220.9h0M61.4 220.1h0M61.8 220.0h0M61.6 220.8h0M61.5 221.0h0M61.5 220.2h0M61.6 220.1h0M61.8 221.0h0M61.7 220.4h0M62.0 220.9h0M61.4 221.0h0M61.4 220.6h0M61.2 220.2h0M60.8 223.6h0M60.8 222.8h0M60.5 222.7h0M60.2 223.5h0M60.5 222.8h0M60.7 223.6h0M61.0 223.1h0M60.9 222.8h0M61.0 222.6h0M60.0 222.5h0M60.7 223.1h0M60.6 222.9h0M60.5 222.5h0M60.6 223.2h0M61.0 223.5h0M60.8 222.8h0M60.4 223.5h0M60.8 223.4h0M60.9 223.1h0M60.1 223.1h0M60.8 223.0h0M60.6 223.4h0M60.2 222.5h0M60.2 223.4h0M60.6 223.2h0M60.4 223.4h0M60.7 223.5h0M60.7 223.3h0M61.0 223.4h0M60.4 223.5h0M60.8 222.9h0M61.0 223.1h0M60.4 223.4h0M60.3 222.5h0M60.1 223.5h0M60.5 223.3h0"/>
<path stroke="#f0881e" stroke-width="0.62" stroke-linecap="square" opacity="1" d="M61.9 221.8h0M61.6 221.6h0M61.6 221.8h0M62.0 221.2h0M61.0 222.1h0M61.9 221.2h0M61.4 221.6h0M61.6 221.6h0M61.8 222.3h0M61.8 221.3h0M61.9 221.5h0M61.5 221.4h0M61.1 221.4h0M61.2 221.6h0M61.2 221.2h0M62.0 221.2h0M62.0 221.3h0M61.0 222.1h0M61.2 222.3h0M61.5 221.9h0M61.1 221.5h0M61.4 222.2h0M61.8 221.7h0M61.0 221.6h0M61.6 221.7h0M61.6 222.1h0M62.1 222.3h0M61.0 221.6h0M61.5 222.2h0M61.1 221.3h0M61.9 221.5h0M61.1 222.3h0M61.2 221.9h0M61.4 221.5h0M61.3 221.9h0M61.4 222.1h0M61.6 221.5h0M61.3 221.9h0M61.2 221.5h0M61.5 222.4h0M62.0 221.3h0M61.5 222.0h0M61.1 221.5h0M61.4 222.1h0M61.1 221.7h0M61.4 221.4h0M61.0 221.5h0M61.8 222.1h0M62.0 221.9h0M61.1 221.8h0M61.1 221.6h0M60.8 224.0h0M60.6 224.7h0M60.5 224.0h0M60.9 223.6h0M59.9 224.3h0M60.5 224.7h0M60.7 223.9h0M60.7 224.8h0M60.7 224.8h0M60.6 224.2h0M60.5 224.0h0M60.9 223.9h0M60.7 223.8h0M60.6 224.2h0M61.0 224.8h0M60.9 224.1h0M60.2 224.0h0M60.5 223.8h0M60.8 224.0h0M60.0 223.8h0M60.9 224.6h0M60.3 224.7h0M61.0 223.7h0M60.0 224.5h0M60.2 224.7h0M61.0 223.6h0M60.8 224.2h0M61.0 224.3h0M60.4 224.4h0M59.8 224.6h0M60.6 223.6h0M61.0 224.0h0M60.8 224.0h0M60.4 224.6h0M60.2 224.0h0M60.6 224.1h0M60.5 224.2h0M61.0 224.4h0M60.4 224.6h0M60.5 224.2h0M60.8 224.5h0M61.0 224.1h0M61.5 223.0h0M61.2 223.2h0M61.5 222.8h0M61.4 222.7h0M61.3 222.8h0M61.1 222.8h0M61.8 222.6h0M61.1 222.7h0M61.5 223.3h0M61.3 222.9h0M61.2 223.3h0M61.7 223.0h0M61.9 222.7h0M61.4 223.4h0M61.4 223.0h0M61.0 222.9h0M61.6 223.3h0M61.3 223.2h0M61.5 222.8h0M61.3 222.6h0M61.7 222.7h0M61.0 223.2h0M61.1 223.3h0M61.5 222.8h0M61.5 223.5h0M62.1 222.8h0M61.4 222.4h0M61.5 223.4h0M61.7 223.4h0M61.7 222.6h0M62.1 222.6h0M61.1 223.0h0M62.2 223.3h0M62.1 223.0h0M61.4 223.2h0M62.0 222.7h0M62.1 223.4h0M61.4 223.4h0M61.8 222.6h0M61.1 222.6h0M61.6 223.2h0M61.4 223.4h0M61.2 223.1h0M61.8 222.9h0"/>
<path stroke="#e85a1e" stroke-width="0.62" stroke-linecap="square" opacity="1" d="M60.6 230.4h0M60.4 229.9h0M60.3 230.2h0M60.6 230.4h0M60.5 230.8h0M60.5 229.9h0M60.7 230.5h0M60.9 230.1h0M60.5 229.7h0M60.7 230.7h0M60.6 230.5h0M60.7 230.5h0M61.0 229.8h0M60.8 230.4h0M60.9 230.3h0M60.9 229.9h0M60.6 230.1h0M60.9 229.8h0M60.8 230.5h0M60.9 230.4h0M60.4 230.3h0M60.9 230.2h0M60.3 229.9h0M60.2 230.1h0M60.3 230.5h0M60.3 230.1h0M60.3 229.8h0M60.9 230.8h0M60.8 229.9h0M60.8 229.9h0M61.0 230.3h0M60.0 229.7h0M60.6 230.7h0M60.4 230.6h0M60.7 229.8h0M60.7 230.1h0M60.5 229.8h0M60.5 230.0h0M60.3 229.7h0M60.5 229.8h0M60.3 229.6h0M60.7 230.7h0M61.3 224.2h0M61.2 224.0h0M61.3 224.2h0M62.2 224.1h0M61.1 224.4h0M61.8 224.0h0M61.8 223.7h0M61.6 224.6h0M61.1 223.8h0M61.3 223.8h0M62.0 224.4h0M62.0 223.8h0M61.1 224.8h0M61.8 224.0h0M61.7 224.6h0M61.7 224.2h0M61.9 224.7h0M61.3 224.0h0M62.0 224.8h0M61.9 224.2h0M61.3 224.6h0M61.2 224.1h0M61.2 224.1h0M61.1 223.6h0M61.1 223.9h0M62.0 223.7h0M61.0 223.9h0M62.0 224.1h0M61.3 224.0h0M61.5 224.7h0M61.4 224.8h0M61.1 224.2h0M61.2 224.1h0M61.0 224.3h0M61.0 224.1h0M61.1 224.5h0M61.5 224.0h0M61.5 224.4h0M61.3 224.6h0M62.0 223.8h0M61.6 224.8h0M61.1 224.4h0M62.1 224.5h0M61.2 224.7h0M61.5 224.2h0M61.0 224.7h0M61.8 224.5h0M61.1 230.5h0M61.3 230.0h0M61.1 229.6h0M61.0 230.6h0M61.6 230.7h0M61.7 230.7h0M61.6 230.5h0M61.8 230.3h0M61.3 230.3h0M61.6 229.6h0M61.4 230.1h0M61.6 230.3h0M61.7 230.3h0M61.3 229.7h0M61.8 230.2h0M62.1 230.6h0M61.5 230.6h0M61.0 230.3h0M62.0 229.8h0M61.3 230.0h0M61.1 230.5h0M62.0 229.9h0M61.3 230.1h0M61.5 230.0h0M61.4 229.9h0M61.6 230.0h0M61.1 229.7h0M61.1 229.7h0M61.4 229.7h0M61.1 230.3h0M61.7 230.6h0M62.2 230.2h0M61.5 230.1h0M61.9 229.8h0M62.0 230.4h0M61.2 229.8h0M61.8 230.4h0M61.2 230.5h0M61.7 229.9h0M61.1 229.7h0M61.8 230.4h0M62.1 230.1h0M61.1 230.2h0M61.3 229.7h0M62.0 230.5h0M61.4 230.1h0M61.1 229.7h0M61.2 229.8h0"/>
<path stroke="#dc281e" stroke-width="0.62" stroke-linecap="square" opacity="1" d="M60.7 225.4h0M60.6 225.7h0M60.6 226.0h0M60.8 225.4h0M60.0 225.5h0M61.0 224.9h0M60.3 225.7h0M60.9 225.6h0M60.2 225.6h0M60.7 225.0h0M60.9 225.1h0M60.8 225.2h0M60.4 224.9h0M60.2 225.1h0M60.6 225.7h0M60.1 225.1h0M60.8 225.4h0M60.8 225.1h0M60.6 225.3h0M60.5 226.0h0M60.9 224.9h0M60.8 226.0h0M60.4 225.9h0M60.9 225.0h0M60.7 225.6h0M61.0 225.3h0M60.9 225.0h0M60.5 225.0h0M60.9 225.7h0M60.9 225.7h0M60.1 224.9h0M61.0 225.0h0M60.7 225.8h0M60.8 225.6h0M60.6 225.6h0M60.8 225.8h0M60.9 226.0h0M60.8 226.0h0M60.8 225.7h0M60.7 225.4h0M60.1 225.3h0M60.6 225.2h0M61.0 224.9h0M61.6 224.8h0M61.5 225.4h0M61.1 225.1h0M61.6 225.0h0M61.7 225.9h0M61.4 225.1h0M61.9 225.1h0M61.2 225.4h0M61.1 225.9h0M61.3 225.1h0M61.7 226.0h0M61.2 224.9h0M61.1 225.5h0M61.5 226.0h0M62.2 225.7h0M61.3 225.3h0M61.0 225.5h0M61.1 224.8h0M61.6 224.8h0M61.4 225.0h0M61.7 225.7h0M62.0 225.5h0M62.0 225.2h0M61.1 225.8h0M61.3 225.2h0M61.8 225.2h0M61.9 224.9h0M61.1 225.1h0M61.1 225.5h0M62.2 225.2h0M61.4 225.9h0M61.9 225.9h0M61.2 224.9h0M61.4 225.8h0M61.1 225.1h0M61.1 224.9h0M61.4 225.5h0M61.0 225.3h0M61.5 225.9h0M61.1 225.0h0M61.6 225.5h0M61.0 225.1h0M61.4 226.0h0M61.5 225.2h0M61.5 225.2h0M61.4 225.4h0M61.1 225.6h0M61.8 225.1h0M61.4 224.9h0M61.8 225.8h0M61.4 225.2h0M61.8 225.7h0M61.0 228.5h0M60.5 229.6h0M60.2 229.1h0M60.6 228.7h0M60.6 228.4h0M61.0 229.5h0M60.4 229.2h0M61.0 229.5h0M61.0 228.4h0M60.0 228.5h0M60.6 229.1h0M60.9 228.8h0M60.6 229.0h0M61.0 229.0h0M60.9 228.9h0M60.5 229.6h0M60.2 228.7h0M60.7 228.6h0M60.3 228.8h0M60.6 228.7h0M60.4 229.2h0M60.6 228.7h0M60.5 229.0h0M60.6 228.4h0M61.0 228.5h0M60.7 229.0h0M60.5 228.9h0M60.0 228.9h0M60.8 228.9h0M60.9 228.6h0M60.4 229.5h0M60.2 228.7h0M60.8 228.6h0M60.8 228.7h0M60.7 228.8h0M60.3 229.2h0M60.3 229.1h0M60.5 229.6h0M60.8 229.4h0M60.5 228.6h0M60.3 229.2h0M60.6 228.7h0M60.4 228.8h0M60.0 228.4h0M60.2 229.5h0M61.7 228.8h0M61.3 229.4h0M61.2 228.5h0M61.5 228.8h0M61.6 228.5h0M61.1 228.9h0M61.4 229.1h0M62.1 228.7h0M61.5 229.5h0M61.1 228.4h0M61.0 229.2h0M61.5 229.3h0M61.2 229.2h0M61.3 228.9h0M61.1 229.2h0M61.3 229.1h0M61.6 228.7h0M61.2 229.4h0M61.7 229.0h0M61.9 228.9h0M61.5 229.3h0M61.1 228.4h0M61.2 229.1h0M61.4 228.5h0M61.1 228.5h0M61.3 229.0h0M61.2 229.3h0M61.6 228.8h0M61.2 228.7h0M61.5 229.3h0M61.9 228.5h0M61.4 229.6h0M61.9 229.2h0M61.5 228.6h0M61.3 229.2h0M61.3 228.7h0M61.6 229.6h0M61.2 229.4h0M61.3 229.6h0M61.1 228.8h0M61.2 229.3h0M61.2 229.5h0M61.1 228.8h0M61.2 228.8h0M61.0 228.9h0M62.0 229.3h0M61.5 229.1h0M61.3 228.5h0M61.2 228.7h0M61.3 229.3h0M61.7 228.9h0M61.6 229.1h0M61.1 229.1h0M60.0 226.4h0M60.6 227.1h0M61.0 226.7h0M60.9 227.0h0M60.2 226.4h0M60.7 226.6h0M60.5 226.0h0M60.6 226.2h0M60.6 226.1h0M60.7 226.8h0M60.5 226.1h0M60.4 226.5h0M61.0 226.2h0M60.9 226.4h0M60.6 226.3h0M61.0 226.2h0M60.7 227.1h0M60.5 226.8h0M60.8 226.5h0M60.2 226.4h0M61.0 226.6h0M60.1 227.0h0M60.4 226.4h0M60.2 226.3h0M60.9 226.0h0M60.2 226.1h0M60.6 227.1h0M60.5 226.6h0M60.6 226.1h0M60.1 226.3h0M60.5 227.1h0M60.0 227.1h0M60.3 226.8h0M61.0 227.0h0M61.0 227.1h0M59.9 226.6h0M60.3 227.1h0M60.3 226.9h0M60.9 226.5h0M60.9 226.3h0M60.8 227.0h0M60.9 227.1h0M60.7 227.0h0M60.5 227.0h0M60.8 226.4h0M61.0 227.1h0M60.9 226.0h0M60.3 226.7h0M60.4 226.3h0M60.6 226.5h0M60.5 226.9h0M60.3 227.1h0M59.8 226.3h0M60.5 226.7h0M60.1 227.0h0M61.0 226.2h0M61.1 227.0h0M61.0 226.8h0M61.2 226.3h0M61.1 227.2h0M61.8 226.7h0M61.2 226.8h0M61.2 226.8h0M61.2 227.1h0M61.3 226.1h0M61.8 226.9h0M61.2 226.8h0M61.3 226.8h0M61.6 226.1h0M61.3 226.7h0M61.1 227.2h0M61.5 227.2h0M61.1 226.8h0M61.3 226.2h0M61.8 226.2h0M61.2 227.0h0M61.9 226.5h0M61.2 227.0h0M61.1 226.7h0M61.0 226.1h0M61.3 226.5h0M61.5 226.2h0M61.8 226.3h0M61.3 227.0h0M61.0 226.1h0M61.3 226.4h0M61.9 226.5h0M61.2 226.9h0M61.2 226.2h0M61.3 226.4h0M61.0 226.6h0M61.7 226.8h0M61.1 226.9h0M61.4 227.1h0M61.2 226.3h0M61.1 227.1h0M61.6 227.1h0M61.2 227.0h0M61.6 226.8h0M61.1 226.9h0M61.4 226.9h0M61.3 226.0h0M61.1 226.6h0M61.8 227.1h0M61.9 226.9h0M61.1 226.1h0M61.8 226.1h0M61.5 226.7h0M61.2 226.7h0M61.5 226.8h0M60.1 228.2h0M61.3 228.0h0M60.5 228.3h0M61.4 227.3h0M61.3 227.8h0M61.0 228.4h0M61.1 228.4h0M60.4 227.3h0M61.1 227.7h0M61.9 227.3h0M60.0 228.2h0M61.4 228.1h0M61.0 228.3h0M60.9 227.6h0M61.1 228.4h0M62.0 227.3h0M61.7 227.4h0M61.1 228.3h0M59.9 228.0h0M60.3 227.6h0M61.4 227.4h0M60.4 227.3h0M60.3 227.8h0M60.4 227.3h0M62.0 227.9h0M60.8 227.4h0M61.1 227.4h0M61.4 228.0h0M61.5 227.9h0M62.0 227.3h0M61.5 227.6h0M60.9 227.5h0M60.4 227.3h0M60.5 227.6h0M60.3 228.0h0M60.7 227.6h0M60.5 227.3h0M61.6 228.0h0M60.3 227.7h0M60.3 227.5h0M59.8 227.6h0M61.6 228.3h0M60.7 227.8h0M61.3 227.4h0M60.8 228.1h0M60.7 228.0h0M60.1 228.0h0M61.8 228.0h0M60.0 228.0h0M61.0 228.4h0M61.5 227.7h0M60.9 228.0h0M61.1 227.6h0M61.2 227.3h0M60.9 228.3h0M60.1 227.2h0M61.5 227.9h0M61.2 227.8h0M61.3 227.4h0M61.3 227.9h0M60.8 228.3h0M61.4 227.2h0M61.2 227.3h0M61.0 228.0h0M61.3 228.3h0M61.7 227.8h0M60.8 227.8h0M61.4 227.4h0M61.3 227.3h0M60.7 228.0h0M60.2 227.5h0M60.3 228.2h0M61.3 227.6h0M60.9 227.5h0M60.8 227.9h0M62.0 228.0h0M61.3 227.9h0M60.8 228.0h0M60.1 227.6h0M60.8 227.8h0M60.4 227.6h0M60.1 227.3h0M60.7 228.2h0M61.1 227.5h0M60.7 228.0h0M60.7 227.5h0M60.1 227.8h0M61.3 227.5h0M60.7 227.6h0M62.1 227.7h0M62.0 228.4h0M61.4 227.3h0M60.7 227.5h0M60.5 227.6h0M62.1 227.8h0M61.3 227.2h0M61.3 228.2h0M60.2 228.3h0M60.8 227.6h0M61.1 227.4h0M60.9 228.0h0M60.7 228.4h0M61.1 227.7h0M61.3 228.2h0"/>
<path stroke="#283caa" stroke-width="0.62" stroke-linecap="square" opacity="0.55" d="M164.5 199.8h0M218.3 252.4h0M196.8 193.0h0M208.7 197.1h0M136.7 195.8h0M221.9 234.1h0M208.8 266.4h0M217.7 229.3h0M210.3 228.2h0M177.5 195.2h0M137.4 187.0h0M168.3 193.1h0M221.6 261.1h0M221.8 198.4h0M171.4 186.4h0M202.1 213.2h0M206.2 218.2h0M213.5 198.1h0M166.5 188.6h0M219.6 264.3h0M196.0 265.7h0M180.5 267.4h0M208.1 249.6h0M190.7 268.4h0M188.8 200.9h0M194.9 213.2h0M191.1 264.8h0M146.8 201.6h0M143.4 200.0h0M221.6 205.1h0M195.6 203.6h0M148.0 182.4h0M195.5 198.4h0M187.9 207.5h0M198.1 184.2h0M193.9 248.0h0M136.2 217.3h0M202.2 245.0h0M198.6 216.4h0M220.4 208.5h0M192.8 222.7h0M187.1 195.6h0M139.2 220.9h0M190.1 192.7h0M207.9 190.9h0M154.6 186.6h0M217.3 206.2h0M200.3 253.2h0M188.9 210.8h0M216.1 246.0h0M195.2 208.5h0M193.6 190.5h0M183.6 199.3h0M194.3 188.2h0M156.8 196.9h0M175.2 200.4h0M199.5 249.1h0M187.1 268.5h0M193.2 209.0h0M160.7 201.6h0M209.9 183.9h0M139.8 217.1h0M202.8 224.5h0M201.7 189.9h0M136.3 263.2h0M169.9 204.2h0M138.0 213.8h0M160.3 195.7h0M186.0 264.6h0M172.3 203.0h0M212.9 245.5h0M206.4 253.4h0M191.7 253.2h0M200.4 264.0h0M203.8 186.0h0M179.1 188.2h0M206.3 185.6h0M200.6 265.9h0M150.3 193.2h0M149.7 195.6h0M197.8 243.3h0M203.8 239.7h0M139.5 205.9h0M213.7 188.6h0M214.7 247.6h0M204.2 226.5h0M220.9 195.5h0M144.1 207.7h0M137.8 211.0h0M219.8 222.5h0M195.5 225.7h0M170.5 207.3h0M204.6 252.5h0M168.1 266.9h0M218.1 194.0h0M211.8 187.1h0M218.9 196.7h0M194.1 252.2h0M172.5 198.6h0M191.1 236.7h0M211.5 247.9h0M138.4 229.3h0M180.0 204.0h0M173.6 265.3h0M162.1 204.1h0M192.9 239.8h0M153.3 200.5h0M199.5 198.9h0M158.9 183.6h0M192.1 216.9h0M139.5 252.2h0M163.3 265.4h0M137.3 261.0h0M204.7 202.5h0M205.6 192.3h0M207.1 244.5h0M156.9 184.9h0M194.1 244.1h0M136.2 242.9h0M191.2 226.5h0M173.9 191.5h0M193.5 218.2h0M202.8 201.5h0M169.7 265.4h0M152.6 201.4h0M195.3 261.2h0M184.3 194.1h0M204.8 191.2h0M190.4 257.3h0M200.2 199.5h0M176.9 266.5h0M189.6 229.8h0M180.9 263.1h0M175.8 263.0h0M195.8 243.4h0M201.9 228.0h0M216.8 256.3h0M198.6 232.7h0M190.5 240.0h0M171.2 196.3h0M169.5 200.3h0M191.8 227.3h0M190.2 187.4h0M204.6 242.1h0M163.0 192.2h0M221.3 227.5h0M189.6 186.7h0M166.7 211.4h0M219.6 247.6h0M219.9 246.9h0M220.5 228.4h0M192.4 241.7h0M140.3 210.1h0M195.4 237.0h0M176.1 185.3h0M196.0 219.7h0M184.0 266.8h0M162.7 193.1h0M219.1 218.6h0M139.2 209.0h0M140.7 252.9h0M165.9 215.5h0M214.3 184.4h0M136.7 222.4h0M199.7 237.6h0M194.4 237.2h0M217.1 260.2h0M196.6 221.7h0M176.4 187.3h0M197.3 251.0h0M176.7 190.0h0M216.5 187.5h0M196.2 249.8h0M191.4 243.5h0M196.6 227.4h0M216.4 187.2h0M141.1 224.8h0M166.3 212.8h0M198.1 260.0h0M216.3 225.0h0M184.5 266.6h0M205.7 243.3h0M182.0 196.5h0M197.7 257.2h0M136.0 227.6h0M142.7 196.0h0M214.2 252.4h0M183.7 259.4h0M195.3 233.0h0M213.6 185.4h0M170.6 267.7h0M220.5 213.2h0M215.0 225.2h0M145.6 185.5h0M205.7 210.8h0M207.8 223.1h0M206.8 235.4h0M206.8 235.9h0M205.6 210.8h0M207.6 223.1h0M171.8 266.7h0M216.5 257.5h0M146.0 185.7h0M220.9 213.0h0M209.5 257.4h0M209.1 257.6h0M167.2 216.8h0M193.7 260.8h0M141.8 262.8h0M139.4 258.0h0M194.2 227.3h0M137.7 236.2h0M178.6 206.6h0M169.3 197.1h0M196.4 259.3h0M169.2 212.3h0M175.7 190.1h0M182.8 195.0h0M140.4 254.8h0M197.0 220.9h0M173.9 268.1h0M174.0 261.4h0M183.0 205.3h0M200.5 231.0h0M136.1 226.7h0M148.8 204.7h0M138.7 256.2h0M203.5 255.7h0M203.2 257.1h0M185.7 258.0h0M196.3 232.8h0M149.6 267.9h0M171.0 199.3h0M189.8 259.2h0M142.6 211.2h0M216.9 259.1h0M137.1 225.0h0M201.0 257.4h0M179.6 206.6h0M142.0 260.9h0M192.7 234.0h0M195.0 230.0h0M200.2 238.6h0M190.2 260.3h0M139.7 224.4h0M137.3 238.4h0M174.3 267.3h0M196.2 228.7h0M138.5 234.6h0M148.2 267.2h0M191.3 261.4h0M137.6 258.9h0M139.7 255.7h0M136.6 258.8h0M169.1 209.6h0M151.3 204.1h0M193.3 230.7h0M176.9 267.8h0M177.1 268.2h0M144.3 268.3h0M141.8 195.7h0M141.9 194.8h0M146.9 207.5h0M192.5 260.9h0M163.4 214.4h0M161.7 206.4h0M162.0 206.4h0M200.8 228.8h0M184.6 258.5h0M214.3 251.3h0M169.8 214.7h0M163.3 211.7h0M180.3 262.5h0M200.0 239.2h0M166.2 257.9h0M193.9 232.1h0M199.6 239.8h0M170.3 209.1h0M190.4 222.4h0M166.9 229.5h0M170.1 211.2h0M196.9 259.2h0M213.0 250.4h0M212.6 250.4h0M138.0 223.5h0M149.7 210.1h0M174.1 206.5h0M188.3 244.3h0M161.1 267.2h0M166.4 262.8h0M191.0 233.8h0M143.2 212.7h0M148.4 211.2h0M146.8 264.9h0M188.5 248.3h0M183.8 206.5h0M188.5 221.8h0M167.1 254.9h0M142.9 225.2h0M169.8 263.0h0M163.2 258.7h0M149.2 267.6h0M169.3 220.3h0M142.0 258.7h0M164.0 238.8h0M215.2 222.6h0M215.4 223.3h0M148.8 207.3h0M144.9 217.2h0M179.2 261.5h0M149.9 266.2h0M166.8 232.5h0M148.8 258.5h0M180.6 261.3h0M142.6 260.1h0M189.9 234.6h0M186.6 255.6h0M199.9 230.2h0M138.4 238.7h0M199.4 229.8h0M149.4 205.6h0M160.2 268.0h0M142.8 211.5h0M187.0 229.0h0M148.4 206.7h0M167.1 254.1h0M142.7 217.8h0M142.4 218.2h0M143.5 217.8h0M144.6 221.8h0M137.7 239.7h0M142.2 247.6h0M187.7 215.2h0M187.4 215.9h0M174.2 209.1h0M140.5 244.7h0M140.8 244.1h0M137.9 241.8h0M146.9 209.7h0M173.8 206.7h0M146.8 209.4h0M143.2 267.6h0M169.6 227.5h0M163.5 209.1h0M169.6 259.3h0M217.4 220.4h0M142.4 226.9h0M201.2 256.8h0M188.3 251.3h0M201.2 256.2h0M173.0 212.1h0M182.5 259.3h0M175.6 206.4h0M147.7 258.4h0M165.4 239.4h0M139.4 240.0h0M146.2 263.3h0M166.0 255.9h0M138.7 244.8h0M138.4 244.0h0M142.6 264.5h0M168.9 254.7h0M140.5 243.3h0M165.3 243.6h0M143.7 212.8h0M150.7 265.1h0M166.7 234.2h0M166.5 235.2h0M151.6 205.9h0M139.1 241.9h0M169.6 257.7h0M166.9 218.9h0M163.4 257.7h0M147.8 211.3h0M167.5 243.8h0M145.6 215.5h0M145.4 215.1h0M147.1 258.9h0M162.4 262.0h0M152.4 207.7h0M151.8 209.7h0M166.8 250.7h0M168.7 261.1h0M215.9 221.4h0M167.6 260.6h0M138.9 233.8h0M144.1 263.4h0M152.4 205.2h0M152.3 204.3h0M167.9 221.6h0M188.8 249.6h0M165.4 241.9h0M145.0 260.9h0M217.6 221.7h0M167.9 262.4h0M217.0 221.8h0M166.4 225.1h0M166.6 224.8h0M147.0 220.6h0M140.9 240.0h0M165.9 229.7h0M167.2 223.5h0M144.1 224.9h0M148.0 215.2h0M140.7 228.3h0M164.7 256.9h0M169.1 232.5h0M169.2 232.6h0M143.7 266.8h0M138.2 243.0h0M166.4 219.4h0M162.8 208.2h0M149.3 261.9h0M165.9 218.6h0M139.4 232.1h0M139.1 232.7h0M144.9 263.2h0M153.0 206.1h0M188.3 250.9h0M145.1 251.9h0M186.9 248.6h0M169.5 233.8h0M163.5 229.1h0M163.4 219.1h0M169.3 233.6h0M165.5 236.3h0M166.4 235.7h0M140.7 231.2h0M162.7 214.7h0M145.6 212.1h0M145.5 212.0h0M152.3 267.1h0M144.1 222.4h0M149.6 215.8h0M171.2 214.6h0M149.8 214.8h0M189.0 240.5h0M170.7 258.9h0M160.5 264.5h0M179.7 209.5h0M168.6 243.2h0M164.2 226.0h0M144.2 244.1h0M143.7 243.9h0M188.4 241.7h0M149.7 264.0h0M188.8 242.1h0M177.8 259.9h0M144.5 259.2h0M161.7 211.0h0M162.5 210.2h0M162.0 260.6h0M164.2 222.9h0M164.1 222.3h0M149.0 261.6h0M182.5 208.4h0M166.4 231.4h0M146.9 212.0h0M147.8 212.8h0M148.3 212.7h0M169.4 217.4h0M165.1 230.0h0M182.1 207.0h0M147.2 260.8h0M146.3 261.2h0M182.4 207.3h0M189.0 223.8h0M188.1 224.3h0M182.4 207.6h0M147.0 261.7h0M168.6 246.0h0M166.2 225.7h0M146.5 214.6h0M187.5 231.2h0M140.6 232.1h0M169.5 224.2h0M169.1 250.5h0M171.8 247.5h0M144.2 264.2h0M167.0 221.6h0M164.2 254.7h0M166.9 221.0h0M166.2 221.2h0M148.3 214.8h0M176.3 207.4h0M143.1 257.8h0M166.0 245.8h0M143.0 257.9h0M176.8 207.3h0M167.8 253.3h0M165.3 220.7h0M143.9 243.8h0M169.2 252.8h0M170.4 256.6h0M144.5 265.8h0M164.3 236.0h0M143.7 266.1h0M187.3 251.7h0M171.3 229.3h0M161.7 223.2h0M175.8 208.5h0M162.7 210.1h0M148.7 228.0h0M186.9 222.9h0M172.0 250.2h0M171.8 252.7h0M169.4 246.9h0M172.1 258.9h0M170.2 248.8h0M164.4 248.2h0M177.7 209.0h0M147.7 229.6h0M186.6 213.4h0M186.4 212.8h0M171.1 216.1h0M170.8 216.1h0M186.9 250.8h0M185.9 253.1h0M152.6 266.4h0M145.1 252.6h0M170.1 218.8h0M170.9 257.3h0M174.6 212.2h0M161.4 264.1h0M174.5 211.6h0M173.1 214.1h0M162.8 239.2h0M156.4 205.2h0M142.2 236.7h0M156.4 204.7h0M164.5 245.1h0M170.7 227.9h0M170.4 254.5h0M170.3 254.2h0M171.1 227.9h0M145.8 244.7h0M167.3 240.4h0M151.1 213.8h0M186.7 215.7h0M151.4 214.5h0M142.1 233.5h0M167.9 251.5h0M188.5 232.1h0M188.3 231.9h0M188.0 232.0h0M168.8 251.9h0M167.7 251.3h0M177.2 208.8h0M176.9 208.4h0M182.8 209.9h0M144.5 229.0h0M144.6 229.0h0M187.3 223.8h0M174.9 210.9h0M164.8 233.3h0M174.9 211.0h0M142.2 228.7h0M142.0 229.0h0M141.9 229.1h0M164.1 246.9h0M171.6 221.4h0M164.9 224.8h0M142.1 240.4h0M149.2 256.5h0M143.7 254.3h0M149.1 256.9h0M143.8 254.0h0M141.4 241.0h0M172.4 244.4h0M151.8 263.7h0M141.4 229.5h0M170.8 243.5h0M146.0 222.3h0M141.4 235.3h0M145.6 223.2h0M170.9 243.5h0M145.0 223.4h0M143.8 249.2h0M143.2 231.1h0M163.2 223.9h0M162.9 224.5h0M172.5 259.1h0M168.0 238.8h0M168.5 238.1h0M145.2 243.3h0M186.1 250.2h0M185.9 252.1h0M187.1 226.0h0M173.1 246.2h0M149.8 261.3h0M150.8 261.2h0M171.3 249.7h0M147.1 227.8h0M171.8 249.4h0M189.2 233.5h0M145.5 257.7h0M145.2 241.5h0M143.5 231.8h0M169.4 238.9h0M172.6 215.0h0M152.0 264.5h0M167.7 249.6h0M171.8 254.4h0M172.5 215.8h0M171.9 254.3h0M150.2 216.8h0M164.1 231.2h0M143.3 230.1h0M187.4 237.8h0M147.3 218.6h0M148.1 219.2h0M187.3 238.4h0M187.7 238.6h0M187.7 243.1h0M163.6 226.3h0M162.0 217.4h0M187.1 234.4h0M167.7 241.5h0M187.4 234.8h0M187.6 234.9h0M169.7 248.0h0M143.6 257.0h0M164.6 232.1h0M187.2 224.9h0M163.3 246.1h0M163.5 245.9h0M145.3 225.8h0M146.8 243.5h0M167.5 247.6h0M157.0 204.6h0M154.0 268.6h0M154.2 267.9h0M171.4 256.0h0M171.0 216.7h0M148.2 253.7h0M161.2 208.8h0M163.5 247.9h0M149.1 217.8h0M163.9 248.1h0M147.5 220.4h0M144.9 227.6h0M145.1 227.8h0M142.9 248.6h0M145.1 227.7h0M162.9 244.0h0M143.4 247.7h0M184.1 212.5h0M185.8 247.9h0M162.1 255.9h0M170.4 222.6h0M160.5 261.9h0M170.3 223.4h0M144.2 246.6h0M152.6 209.8h0M164.0 249.5h0M174.8 258.6h0M151.8 262.8h0M162.8 248.9h0M166.7 247.0h0M170.3 217.5h0M167.4 246.3h0M170.2 218.0h0M171.2 217.6h0M146.4 256.8h0M185.3 254.6h0M163.0 235.8h0M174.5 217.0h0M145.6 238.0h0M186.5 230.2h0M187.2 240.6h0M162.9 225.5h0M151.5 215.0h0M149.9 228.1h0M146.4 241.6h0M162.4 220.8h0M177.5 210.4h0M177.3 211.0h0M162.8 220.7h0M177.3 211.3h0M186.2 237.7h0M170.4 227.0h0M184.9 253.3h0M184.8 252.2h0M174.2 213.8h0M184.8 253.0h0M144.4 255.1h0M146.6 231.4h0M145.3 246.6h0M180.8 258.8h0M174.2 216.1h0M148.0 253.1h0M180.5 258.5h0M142.9 233.4h0M173.0 255.8h0M171.6 231.3h0M171.8 230.9h0M144.6 256.5h0M168.0 247.2h0M151.7 260.8h0M145.5 239.1h0M146.1 254.2h0M173.0 251.8h0M145.1 240.1h0M170.4 242.3h0M187.6 234.2h0M171.7 217.6h0M144.8 230.8h0M148.3 242.6h0M172.9 218.3h0M143.4 238.7h0M146.9 223.7h0M146.9 250.4h0M146.9 224.5h0M146.1 250.0h0M145.3 237.3h0M169.4 241.9h0M169.4 241.9h0M153.0 263.9h0M163.6 235.3h0M150.6 218.6h0M151.7 260.2h0M150.2 217.9h0M151.0 260.0h0M162.2 219.7h0M147.2 227.0h0M162.9 250.5h0M163.0 250.8h0M142.5 240.7h0M147.7 223.0h0M150.4 256.4h0M143.3 241.3h0M161.6 261.4h0M146.8 225.6h0M152.5 213.1h0M184.6 213.1h0M161.8 224.9h0M144.7 240.5h0M159.6 265.5h0M185.4 213.1h0M160.0 266.5h0M143.8 240.6h0M159.4 265.2h0M145.8 231.3h0M152.4 211.8h0M145.7 230.8h0M145.4 231.3h0M175.9 258.5h0M175.0 258.8h0M145.7 254.1h0M175.2 258.6h0M152.0 217.0h0M148.4 226.3h0M147.4 226.6h0M144.5 232.9h0M167.8 248.3h0M168.2 248.3h0M168.2 248.2h0M180.8 210.2h0M172.6 221.2h0M170.0 241.0h0M148.6 254.4h0M146.3 255.7h0M167.7 240.3h0M147.2 255.8h0M174.6 218.0h0M149.5 219.8h0M172.8 256.2h0M163.2 242.8h0M149.4 219.6h0M172.6 257.7h0M148.6 220.1h0M172.8 257.3h0M173.3 257.4h0M142.7 237.4h0M143.3 240.0h0M143.4 237.6h0M142.7 237.8h0M142.8 239.8h0M182.1 211.0h0M147.7 251.6h0M147.9 251.9h0M148.2 251.5h0M170.6 239.9h0M182.8 211.3h0M186.4 225.4h0M150.6 219.4h0M146.8 249.3h0M146.8 249.0h0M144.5 239.1h0M172.4 230.3h0M168.3 239.4h0M168.4 240.0h0M167.9 239.6h0M160.6 259.7h0M153.1 211.2h0M144.2 248.1h0M144.5 248.6h0M146.3 239.7h0M144.4 247.9h0M144.6 247.7h0M145.2 232.3h0M145.2 232.7h0M145.3 233.8h0M161.8 227.7h0M173.2 229.3h0M174.5 253.8h0M174.2 254.2h0M149.3 222.0h0M149.1 221.8h0M174.6 254.9h0M173.0 220.0h0M172.5 220.3h0M164.5 253.3h0M165.1 253.2h0M168.8 240.1h0M149.2 242.9h0M146.0 246.6h0M146.2 246.9h0M145.8 256.2h0M152.6 262.1h0M144.9 256.3h0"/>
<path stroke="#2943b0" stroke-width="0.62" stroke-linecap="square" opacity="0.55" d="M149.2 251.4h0M149.2 251.6h0M177.2 258.4h0M163.6 233.3h0M176.4 258.3h0M146.2 247.9h0M178.9 258.2h0M160.8 213.8h0M163.8 240.8h0M147.2 231.2h0M163.4 241.2h0M169.2 241.2h0M148.3 249.2h0M147.2 249.4h0M162.7 227.0h0M142.8 235.0h0M143.2 234.8h0M161.8 226.0h0M176.3 212.0h0M170.7 224.1h0M170.4 224.1h0M158.0 206.1h0M158.7 206.5h0M173.5 219.2h0M173.1 218.6h0M172.9 219.5h0M146.2 237.7h0M186.7 220.4h0M185.8 220.6h0M173.4 248.9h0M161.8 245.7h0M147.7 241.8h0M174.5 256.1h0M185.7 221.9h0M173.7 256.6h0M185.7 222.1h0M175.4 216.0h0M179.0 211.8h0M179.5 212.1h0M147.7 224.5h0M142.4 236.3h0M142.4 236.0h0M144.8 236.2h0M148.3 244.0h0M149.5 249.1h0M162.0 237.4h0M161.4 258.3h0M162.0 237.7h0M175.5 212.8h0M145.5 255.3h0M145.6 255.6h0M144.2 234.5h0M184.3 212.8h0M144.3 235.0h0M147.8 225.5h0M145.6 235.0h0M144.0 235.5h0M181.3 210.3h0M181.7 211.4h0M149.9 226.5h0M150.6 252.0h0M150.2 251.2h0M172.7 244.3h0M185.9 226.0h0M175.1 217.7h0M175.6 218.6h0M147.5 248.4h0M171.6 240.3h0M186.3 226.8h0M186.4 226.8h0M185.8 227.0h0M162.4 230.0h0M182.3 212.6h0M149.7 221.1h0M160.9 258.0h0M185.5 214.9h0M148.5 223.3h0M148.7 222.3h0M184.7 214.4h0M178.7 213.2h0M163.4 242.4h0M163.0 242.0h0M162.8 242.4h0M161.3 225.1h0M161.4 225.4h0M163.4 232.4h0M163.1 232.5h0M159.9 261.8h0M159.6 262.8h0M185.7 234.0h0M162.0 255.3h0M172.4 226.6h0M149.7 230.4h0M171.6 226.2h0M150.7 229.6h0M149.7 229.7h0M160.5 256.5h0M150.9 219.1h0M175.1 214.8h0M156.7 205.8h0M152.5 259.6h0M146.4 234.2h0M146.2 234.7h0M146.8 234.9h0M146.3 235.8h0M175.8 255.2h0M146.4 236.0h0M174.3 253.2h0M149.1 225.1h0M186.5 241.1h0M184.8 224.6h0M174.2 252.4h0M149.4 224.7h0M149.2 225.7h0M186.2 241.1h0M161.3 251.0h0M184.3 256.6h0M183.7 255.8h0M180.4 213.3h0M184.0 255.9h0M183.6 256.6h0M179.9 213.6h0M180.0 213.3h0M151.2 220.5h0M183.1 213.2h0M175.4 256.9h0M177.5 213.0h0M178.0 212.7h0M150.5 242.0h0M149.2 223.6h0M150.8 241.7h0M183.8 254.1h0M162.7 235.7h0M161.9 236.4h0M148.1 238.0h0M149.0 248.3h0M148.4 237.8h0M149.8 254.7h0M186.5 242.7h0M149.7 255.0h0M150.1 255.3h0M177.0 215.5h0M176.5 216.1h0M147.3 232.9h0M150.6 254.2h0M185.0 248.1h0M185.1 247.9h0M149.8 254.6h0M162.2 234.6h0M151.9 228.5h0M171.9 240.1h0M150.1 249.9h0M147.4 247.3h0M181.6 212.1h0M185.5 248.9h0M180.9 211.8h0M181.2 211.6h0M181.7 212.3h0M153.5 266.4h0M186.3 245.1h0M186.1 245.5h0M171.3 237.5h0M185.9 240.0h0M186.7 239.5h0M186.6 240.0h0M185.6 229.1h0M148.3 240.9h0M183.2 252.1h0M147.4 240.6h0M162.8 251.1h0M159.4 261.7h0M180.4 258.1h0M159.9 260.7h0M180.3 257.5h0M161.2 215.6h0M160.6 215.2h0M148.4 236.8h0M176.1 213.6h0M160.8 221.7h0M176.8 213.3h0M148.0 245.8h0M151.1 221.2h0M148.3 245.3h0M176.3 212.7h0M147.5 245.4h0M151.1 251.8h0M160.4 218.2h0M180.0 214.0h0M179.7 214.9h0M161.5 216.8h0M147.2 240.2h0M147.6 239.9h0M160.6 217.0h0M173.1 231.7h0M149.9 222.7h0M152.3 256.6h0M174.3 220.8h0M152.9 256.3h0M174.0 220.1h0M172.0 238.4h0M149.8 224.8h0M172.2 238.7h0M171.3 238.2h0M153.2 265.1h0M157.3 206.1h0M157.6 205.4h0M161.5 255.5h0M156.9 205.8h0M160.7 254.9h0M161.0 251.0h0M151.5 255.5h0M151.5 255.7h0M161.1 219.3h0M161.4 218.6h0M161.1 220.6h0M176.4 258.0h0M148.4 233.0h0M147.2 234.0h0M163.7 253.7h0M178.4 215.9h0M161.7 243.2h0M159.4 260.2h0M177.8 215.9h0M177.9 215.3h0M184.2 255.2h0M184.4 246.3h0M185.4 247.1h0M162.8 233.1h0M185.0 229.7h0M185.0 229.8h0M154.4 208.2h0M184.6 230.2h0M185.0 227.4h0M184.7 227.8h0M171.3 233.4h0M151.3 254.1h0M151.0 253.4h0M151.9 253.9h0M151.4 254.0h0M151.3 254.0h0M151.8 226.6h0M150.9 226.0h0M151.4 226.6h0M162.1 251.2h0M176.8 214.5h0M176.5 214.6h0M176.7 214.5h0M176.1 214.4h0M152.1 258.7h0M149.1 230.7h0M152.7 258.3h0M152.8 258.3h0M149.3 231.3h0M172.2 223.7h0M171.7 223.4h0M150.2 224.2h0M150.7 224.4h0M147.8 235.5h0M184.7 226.5h0M153.0 257.6h0M171.5 234.9h0M172.3 234.3h0M152.6 257.3h0M152.3 257.1h0M153.1 257.3h0M161.6 231.0h0M161.8 231.2h0M162.4 231.5h0M161.7 230.8h0M155.5 267.9h0M184.5 236.9h0M173.9 252.1h0M173.7 251.8h0M185.1 237.3h0M150.4 244.7h0M177.1 218.4h0M150.4 244.8h0M150.6 244.1h0M176.7 217.8h0M172.6 243.4h0M173.0 243.0h0M173.4 242.6h0M172.5 243.5h0M161.6 240.9h0M176.1 255.2h0M176.9 255.0h0M172.1 225.4h0M185.7 244.0h0M178.8 257.0h0M171.9 224.8h0M186.3 244.7h0M186.8 244.9h0M179.1 257.7h0M172.3 224.6h0M160.6 249.0h0M160.8 249.0h0M161.2 249.2h0M184.5 217.7h0M185.4 217.8h0M176.6 254.4h0M176.4 253.9h0M177.6 257.7h0M177.9 257.5h0M178.0 258.0h0M149.6 237.6h0M149.5 237.4h0M182.7 256.9h0M182.2 256.0h0M174.7 230.5h0M173.2 226.4h0M148.9 246.7h0M174.9 252.4h0M159.4 207.9h0M151.7 243.2h0M159.9 208.8h0M176.5 256.1h0M176.8 255.9h0M176.8 256.7h0M177.1 256.3h0M175.4 219.7h0M149.1 238.3h0M152.5 215.5h0M173.9 247.0h0M161.8 232.7h0M153.0 252.9h0M161.7 232.6h0M160.0 258.7h0M159.4 258.9h0M151.3 223.3h0M159.5 258.9h0M151.2 222.9h0M159.6 258.5h0M150.8 223.0h0M173.6 250.5h0M148.5 241.3h0M148.9 240.8h0M148.8 240.5h0M148.8 240.3h0M148.6 240.7h0M178.7 215.9h0M151.6 244.2h0M151.4 244.9h0M181.8 256.3h0M180.8 256.1h0M181.9 256.9h0M182.0 252.7h0M184.7 231.6h0M185.5 231.7h0M184.8 238.3h0M150.2 237.1h0M149.1 245.7h0M149.0 245.7h0M148.9 245.9h0M148.5 245.8h0M149.4 245.0h0M180.4 255.9h0M180.2 256.8h0M150.7 241.2h0M173.1 241.5h0M163.2 252.4h0M163.5 252.8h0M163.9 252.9h0M163.9 253.2h0M163.1 252.8h0M150.4 248.1h0M150.3 247.6h0M149.9 248.5h0M160.8 239.1h0M160.5 239.0h0M161.9 241.7h0M162.1 241.9h0M174.5 249.5h0M174.3 249.0h0M151.1 225.1h0M149.4 235.8h0M149.2 236.4h0M148.7 235.6h0M155.3 207.6h0M149.0 236.3h0M149.5 235.5h0M184.4 219.0h0M184.7 219.8h0M183.2 214.0h0M182.4 214.6h0M182.5 214.3h0M173.6 229.1h0M151.2 250.2h0M149.4 239.9h0M151.3 250.1h0M151.1 250.7h0M162.7 254.5h0M161.9 253.9h0M161.8 254.2h0M160.7 248.4h0M178.9 256.8h0M179.3 255.9h0M153.9 261.9h0M160.6 247.8h0M160.9 247.6h0M153.2 262.5h0M153.4 263.0h0M179.2 257.0h0M161.0 254.3h0M160.4 254.2h0M174.7 244.8h0M161.3 230.1h0M177.9 257.0h0M177.6 256.3h0M156.9 267.8h0M157.6 268.2h0M174.8 247.9h0M174.4 247.8h0M159.3 255.6h0M174.0 248.6h0M160.1 257.4h0M159.8 257.8h0M159.4 257.8h0M184.5 242.2h0M159.3 257.0h0M159.5 255.9h0M178.2 255.0h0M154.3 261.3h0M160.6 253.3h0M150.5 245.9h0M154.3 260.6h0M150.0 245.3h0M150.0 246.2h0M159.0 207.8h0M159.1 207.8h0M151.5 223.9h0M152.0 223.6h0M185.5 221.1h0M185.4 221.2h0M185.1 221.1h0M150.1 231.5h0M150.6 231.6h0M152.3 251.2h0M152.4 252.1h0M182.1 254.2h0M182.4 254.3h0M182.7 254.0h0M150.5 238.0h0M150.7 239.0h0M184.2 250.9h0M160.4 228.6h0M150.3 237.8h0M183.6 250.9h0M184.3 250.7h0M173.0 240.7h0M173.6 240.3h0M173.6 224.0h0M173.3 223.6h0M173.6 223.6h0M173.4 223.6h0M173.2 224.0h0M153.1 217.0h0M159.0 263.2h0M185.2 241.2h0M185.1 234.3h0M185.1 239.1h0M184.5 239.3h0M184.9 239.6h0M185.2 235.3h0M185.0 234.7h0M184.5 235.1h0M151.5 245.7h0M151.9 246.1h0M151.8 245.0h0M185.6 220.8h0M174.8 222.8h0M185.5 233.0h0M184.5 232.6h0M185.2 232.3h0M148.8 232.1h0M149.1 232.0h0M149.2 231.9h0M184.5 232.5h0M183.7 224.3h0M183.7 223.8h0M184.5 245.8h0M185.3 245.5h0M148.5 234.6h0M149.2 234.9h0M161.1 227.9h0M160.9 228.0h0M161.4 245.8h0M160.9 246.1h0M160.7 245.3h0M183.4 224.7h0M162.5 252.2h0M162.6 252.9h0M162.5 252.6h0M162.0 252.3h0M162.2 252.7h0M182.2 251.7h0M180.3 215.9h0M183.1 255.7h0M183.1 254.8h0M172.7 225.7h0M182.3 254.8h0M183.2 255.2h0M173.2 225.6h0M149.8 239.0h0M149.8 239.6h0M150.6 239.7h0M150.5 239.6h0M160.9 237.2h0M184.6 243.4h0M160.5 230.8h0M178.7 255.5h0M161.1 231.3h0M161.3 231.3h0M151.0 230.9h0M151.1 230.8h0M161.1 244.7h0M160.7 244.2h0M183.3 247.8h0M153.6 256.2h0M183.5 215.4h0M183.6 215.8h0M148.7 234.0h0M184.1 215.1h0M183.5 216.1h0M148.8 234.1h0M184.3 215.8h0M148.8 233.0h0M185.2 234.1h0M151.3 241.2h0M160.4 253.4h0M155.7 268.7h0M156.0 268.7h0M155.9 268.6h0M175.9 220.4h0M161.2 235.8h0M175.0 219.9h0M158.6 261.9h0M160.7 236.4h0M160.9 235.4h0M180.7 255.1h0M151.9 235.5h0M153.7 255.4h0M154.1 254.8h0M160.5 243.6h0M172.8 232.8h0M172.8 231.9h0M172.6 232.5h0M173.4 232.5h0M173.4 232.1h0M174.0 227.9h0M174.5 228.0h0M174.1 227.6h0M173.8 227.2h0M160.7 240.7h0M161.3 241.3h0M160.9 240.8h0M160.6 240.8h0M158.3 265.7h0M181.1 255.7h0M161.5 233.2h0M161.1 233.3h0M181.8 255.3h0M161.2 234.1h0M160.4 233.5h0M183.3 248.7h0M183.4 249.7h0M183.8 249.0h0M183.4 249.1h0M184.1 249.6h0M178.2 253.9h0M177.3 253.9h0M161.0 232.2h0M153.1 244.9h0M151.3 247.2h0M151.7 248.7h0M151.0 249.6h0M151.4 249.7h0M150.9 249.7h0M151.5 236.7h0M175.4 251.6h0M175.2 251.3h0M184.4 244.1h0M184.7 244.2h0M175.1 252.0h0M185.5 244.9h0M175.9 252.2h0M185.6 244.2h0M184.6 244.5h0M184.6 244.2h0M159.4 251.6h0M150.3 234.5h0M149.6 235.3h0M150.0 235.0h0M149.6 234.6h0M152.0 222.2h0M172.8 238.4h0M173.4 238.5h0M173.1 238.6h0M172.8 238.0h0M184.0 216.5h0M183.3 216.3h0M183.4 216.3h0M181.2 215.3h0M182.0 215.3h0M181.8 215.1h0M176.8 219.7h0M176.4 218.8h0M152.5 227.2h0M152.1 249.8h0M153.2 227.1h0M183.6 228.8h0M153.0 250.0h0M159.8 252.5h0M159.9 252.3h0M159.3 252.7h0M159.8 252.3h0M159.6 209.6h0M159.2 209.2h0M177.9 217.6h0M177.9 217.5h0M183.8 226.8h0M183.3 226.7h0M159.8 212.0h0M183.3 226.2h0M151.7 239.6h0M150.8 240.2h0M152.7 218.5h0M152.8 217.5h0M153.3 257.2h0M152.7 226.4h0M152.7 226.8h0M152.1 229.5h0M161.1 242.5h0M161.4 241.6h0M160.6 241.5h0M160.8 242.5h0M160.8 242.1h0M152.5 229.2h0M153.1 229.3h0M152.9 228.3h0M152.0 229.1h0M152.9 229.1h0M184.0 227.1h0M183.4 227.2h0M153.1 246.0h0M151.6 248.5h0M151.9 247.6h0M151.9 248.2h0M151.5 247.5h0M153.1 245.7h0M174.5 243.2h0M174.1 242.9h0M172.5 237.1h0M159.3 212.9h0M174.7 226.0h0M158.2 260.9h0M179.3 217.2h0M151.8 238.2h0M179.3 217.2h0M179.0 217.1h0M151.4 237.9h0M158.5 261.6h0M183.8 218.2h0M182.9 215.2h0M183.7 217.9h0M183.4 217.9h0M184.1 218.3h0M182.1 215.0h0M181.6 253.4h0M182.6 215.2h0M181.4 253.4h0M183.5 217.4h0M182.8 215.5h0M181.3 254.5h0M182.4 216.1h0M155.4 267.2h0M155.3 266.9h0M153.2 222.7h0M183.6 223.0h0M183.8 222.5h0M183.5 222.9h0M151.9 234.5h0M151.1 234.4h0M151.6 234.8h0M150.6 232.2h0M150.5 232.6h0M150.0 232.7h0M150.0 232.3h0M154.4 259.2h0M153.8 258.7h0M153.8 258.6h0M174.8 222.0h0M175.8 221.9h0M175.1 222.1h0M160.2 211.1h0M154.3 254.0h0M153.8 253.8h0M154.4 253.6h0M154.2 254.0h0M153.7 254.2h0M181.2 252.7h0M183.6 230.5h0M183.9 230.0h0M181.4 252.4h0M181.9 252.6h0M152.5 231.7h0M152.8 230.8h0M175.9 250.1h0M175.8 250.7h0M175.5 250.9h0M175.6 250.9h0M174.8 250.3h0M159.2 259.9h0M153.0 220.0h0M153.2 219.8h0M152.7 220.6h0M153.0 220.1h0M149.9 233.7h0M150.7 233.2h0M174.4 223.8h0M183.4 245.8h0M183.3 245.1h0M183.9 218.8h0M183.6 219.8h0M183.7 218.9h0M183.9 219.8h0M183.4 219.5h0M152.6 243.3h0M182.7 250.1h0M182.2 250.7h0M182.7 250.0h0M182.3 250.9h0M151.1 232.8h0M151.1 232.6h0M151.8 232.7h0M151.7 232.3h0M153.1 225.0h0M152.6 225.7h0M152.9 225.6h0M182.6 217.2h0M183.0 216.5h0M182.8 216.4h0M179.4 254.5h0M179.4 253.4h0M179.5 253.5h0M178.8 253.6h0M174.2 225.1h0M174.7 225.2h0M173.8 225.0h0M153.1 219.8h0M182.4 217.7h0M175.6 229.6h0M152.3 223.6h0M152.9 224.0h0M152.7 223.9h0M175.2 229.9h0M152.2 224.6h0M152.9 223.7h0M180.0 254.2h0M180.5 253.8h0M180.5 253.8h0M180.7 253.4h0M174.0 242.6h0M173.9 241.5h0M173.7 241.7h0M152.9 249.1h0M152.6 249.1h0M153.1 248.8h0M181.4 216.9h0M181.0 217.0h0M175.4 245.7h0M181.5 251.5h0M184.0 244.0h0M183.4 243.9h0M184.3 244.7h0M172.4 236.1h0M172.7 236.1h0M173.4 236.4h0M173.0 235.6h0M172.7 235.6h0M151.4 233.2h0M180.5 217.0h0M180.8 216.3h0M179.7 216.3h0M151.5 233.1h0M151.9 233.7h0M180.7 217.3h0M180.8 216.5h0M151.6 234.0h0M180.3 217.3h0M179.7 217.4h0M183.6 221.0h0M184.1 220.1h0M153.1 247.3h0M152.5 246.5h0M152.1 246.5h0M152.0 246.3h0M184.0 221.5h0M183.2 222.0h0M184.3 242.8h0M183.3 221.1h0M183.5 243.8h0M183.4 222.1h0M183.3 221.3h0M184.1 221.7h0M178.2 253.0h0M177.2 252.8h0M178.1 252.7h0M178.3 252.3h0M173.0 233.7h0M173.1 233.2h0M158.0 206.7h0M173.5 233.9h0M157.3 207.7h0M176.8 251.8h0M176.0 251.1h0M176.3 251.4h0M154.6 265.5h0M155.1 266.5h0M154.8 265.6h0M153.9 210.8h0M154.1 210.8h0M153.6 210.9h0M153.5 210.4h0M175.7 248.0h0M175.9 247.5h0M175.3 248.2h0M175.5 222.6h0M175.1 248.6h0M175.3 223.1h0M175.0 247.9h0M175.8 248.5h0M182.7 249.2h0M183.0 249.4h0M182.2 248.7h0M174.1 240.2h0M175.4 246.9h0M174.7 241.2h0M174.3 240.3h0M174.5 240.6h0M175.8 247.1h0M175.6 246.9h0M175.1 246.6h0M176.0 247.2h0M184.1 236.9h0M182.3 247.6h0M182.8 247.6h0M183.3 230.9h0M182.2 248.4h0M183.2 247.7h0M175.9 244.9h0M175.0 244.6h0M175.7 245.0h0M175.8 244.3h0M184.0 236.1h0M183.2 235.9h0M183.9 235.9h0M183.6 235.6h0M183.7 235.5h0M183.5 242.3h0M184.2 241.8h0M183.6 242.1h0M184.0 242.6h0M183.3 242.2h0M184.1 241.6h0M152.2 232.6h0M153.2 231.8h0M152.8 247.8h0M152.5 248.6h0M152.2 247.8h0M152.1 248.5h0M183.8 238.6h0M154.6 265.4h0M183.2 238.6h0M184.1 239.5h0M181.4 218.1h0M183.9 239.5h0M181.9 218.1h0M177.1 220.2h0M183.6 240.6h0M176.7 220.2h0M183.8 241.4h0M176.5 220.8h0M183.4 240.2h0M176.6 220.5h0M176.9 220.2h0M158.7 255.3h0M158.1 255.2h0"/>
<path stroke="#2a4bb7" stroke-width="0.62" stroke-linecap="square" opacity="0.75" d="M182.6 218.9h0M174.7 232.8h0M182.2 219.3h0M174.3 231.9h0M182.1 219.2h0M174.6 240.1h0M175.0 229.0h0M173.9 239.8h0M174.7 239.7h0M174.2 240.2h0M174.4 239.1h0M175.6 228.6h0M175.4 228.5h0M174.2 239.5h0M174.2 239.4h0M172.8 235.3h0M177.5 218.9h0M177.7 219.0h0M177.8 219.7h0M173.4 234.7h0M172.9 235.3h0M174.6 238.9h0M174.3 238.4h0M174.6 238.6h0M173.8 238.8h0M158.3 257.3h0M175.2 230.8h0M152.5 241.8h0M153.0 241.7h0M175.7 231.0h0M175.9 231.0h0M153.0 242.1h0M152.8 241.8h0M152.7 242.1h0M175.2 230.8h0M152.4 242.3h0M152.2 241.8h0M152.8 241.5h0M175.8 231.1h0M152.4 234.3h0M158.9 256.8h0M158.9 256.5h0M158.2 256.8h0M180.2 253.3h0M180.8 250.2h0M181.7 250.8h0M180.2 253.4h0M181.3 250.5h0M180.8 253.2h0M180.9 250.3h0M181.5 249.8h0M181.1 250.3h0M180.6 252.3h0M181.8 250.3h0M179.8 252.7h0M178.7 218.5h0M178.8 218.1h0M179.4 218.4h0M179.0 217.8h0M155.6 263.6h0M155.3 263.5h0M157.2 267.1h0M157.5 267.1h0M157.0 267.3h0M157.0 266.7h0M157.2 266.7h0M156.9 266.9h0M182.2 224.3h0M182.4 224.1h0M183.1 223.8h0M184.3 235.0h0M183.2 234.9h0M176.4 250.2h0M176.1 250.7h0M176.4 250.9h0M176.2 249.9h0M176.9 250.6h0M152.3 233.0h0M152.3 233.1h0M152.7 233.4h0M153.1 233.8h0M152.3 233.9h0M152.6 235.9h0M152.2 236.4h0M153.0 235.7h0M182.7 246.2h0M182.4 247.2h0M173.7 237.5h0M174.1 236.7h0M153.0 240.4h0M158.9 253.8h0M158.8 254.4h0M182.1 224.8h0M182.4 225.1h0M152.2 239.5h0M153.0 239.6h0M152.3 239.9h0M152.6 239.6h0M153.0 240.1h0M178.7 252.2h0M179.2 253.1h0M179.2 252.7h0M178.7 252.7h0M178.9 252.7h0M184.1 232.5h0M183.5 232.2h0M177.5 251.7h0M177.8 251.1h0M177.8 251.7h0M178.4 251.9h0M177.4 251.9h0M177.4 251.5h0M179.6 251.2h0M180.1 251.2h0M180.4 251.5h0M180.1 251.4h0M180.5 217.6h0M180.5 218.4h0M180.6 217.9h0M180.4 218.1h0M176.3 221.7h0M174.9 224.5h0M174.9 224.2h0M175.2 224.5h0M175.9 224.1h0M174.9 223.8h0M175.7 224.2h0M175.1 223.6h0M177.1 221.7h0M176.6 221.3h0M175.5 224.3h0M176.2 221.9h0M176.9 221.2h0M175.8 224.6h0M175.2 224.5h0M177.0 221.6h0M176.2 221.4h0M176.9 248.9h0M176.1 248.9h0M177.2 249.6h0M154.5 262.7h0M183.7 233.1h0M183.7 233.8h0M184.3 233.3h0M154.9 262.2h0M155.5 261.8h0M154.7 262.1h0M183.6 233.6h0M184.0 234.0h0M180.9 249.3h0M181.2 249.1h0M182.7 222.5h0M182.7 223.3h0M182.4 223.1h0M182.2 223.0h0M182.5 222.3h0M182.0 220.7h0M182.8 220.3h0M183.2 220.2h0M182.8 220.5h0M159.7 248.7h0M159.4 249.5h0M154.2 251.5h0M154.1 251.8h0M154.0 251.7h0M153.9 252.1h0M182.0 218.8h0M180.9 219.3h0M181.9 218.7h0M181.2 219.1h0M153.1 238.4h0M152.6 237.9h0M152.3 238.6h0M175.8 243.1h0M152.7 236.8h0M152.2 236.9h0M174.9 243.5h0M153.0 237.6h0M175.5 243.6h0M175.7 243.2h0M152.8 236.9h0M175.3 243.6h0M152.2 237.3h0M152.7 236.6h0M152.6 237.2h0M159.6 216.1h0M159.3 215.2h0M160.3 215.3h0M159.6 215.3h0M156.5 266.9h0M156.5 266.8h0M156.4 267.8h0M156.1 267.6h0M156.6 266.7h0M156.5 267.1h0M156.2 267.4h0M155.8 266.6h0M156.3 266.6h0M182.9 245.0h0M183.0 226.0h0M182.9 226.9h0M182.6 245.4h0M182.1 226.0h0M182.9 245.8h0M182.4 246.0h0M182.1 226.3h0M182.5 245.9h0M182.7 226.1h0M183.0 245.3h0M182.3 245.7h0M182.5 245.7h0M182.4 227.9h0M183.1 227.5h0M182.5 227.9h0M182.2 228.0h0M182.3 227.1h0M182.7 227.3h0M154.9 256.8h0M155.5 256.5h0M156.8 264.2h0M156.9 264.1h0M157.3 264.1h0M182.3 244.8h0M183.0 244.8h0M182.7 228.5h0M182.1 229.2h0M182.6 228.6h0M175.7 225.6h0M175.7 225.3h0M175.2 224.8h0M175.6 224.9h0M180.4 251.0h0M180.1 250.1h0M180.8 250.6h0M180.3 249.9h0M182.7 221.9h0M182.3 221.6h0M182.8 221.9h0M175.2 227.9h0M175.3 228.0h0M175.8 227.8h0M175.0 227.4h0M175.1 227.8h0M175.9 227.6h0M178.9 251.7h0M179.4 251.7h0M178.4 252.0h0M177.7 220.2h0M178.2 220.1h0M178.1 220.7h0M177.4 221.0h0M159.7 225.3h0M155.0 254.8h0M154.8 255.7h0M154.7 255.2h0M177.3 249.8h0M178.2 250.6h0M177.4 250.1h0M176.4 223.3h0M176.3 222.8h0M160.3 239.3h0M160.1 239.1h0M160.1 240.1h0M175.7 226.4h0M175.7 226.7h0M175.6 226.9h0M160.4 224.1h0M179.2 219.6h0M178.7 219.8h0M178.6 219.5h0M157.6 264.6h0M179.5 219.3h0M157.7 265.4h0M157.6 264.9h0M156.9 264.6h0M157.2 264.9h0M178.9 219.2h0M178.7 219.1h0M178.5 219.2h0M157.0 262.6h0M155.4 207.9h0M157.1 262.9h0M155.1 208.4h0M157.8 262.6h0M181.4 247.5h0M160.1 240.7h0M181.4 247.5h0M181.5 247.6h0M180.9 247.5h0M160.3 217.0h0M159.9 243.7h0M160.0 243.6h0M176.9 248.2h0M176.9 248.3h0M177.0 247.6h0M176.8 248.6h0M182.6 243.5h0M157.3 266.3h0M157.1 265.5h0M156.9 266.5h0M158.0 265.6h0M157.8 266.5h0M156.9 266.5h0M157.2 266.6h0M157.5 266.4h0M179.4 250.0h0M160.3 241.7h0M178.6 250.2h0M159.3 241.8h0M179.3 250.1h0M178.4 250.4h0M159.2 242.6h0M160.2 241.5h0M178.6 250.8h0M178.9 249.9h0M153.4 250.1h0M153.6 250.9h0M180.8 218.9h0M180.1 219.3h0M179.6 219.8h0M180.8 219.8h0M180.5 218.7h0M154.6 257.9h0M155.1 258.0h0M174.5 235.5h0M174.2 235.8h0M174.2 235.9h0M174.2 236.5h0M174.3 236.6h0M174.8 235.6h0M174.7 235.6h0M175.3 232.8h0M174.8 232.6h0M175.7 232.5h0M175.5 232.7h0M175.7 242.1h0M174.8 242.1h0M175.6 241.5h0M175.7 242.3h0M175.2 242.4h0M159.7 218.1h0M159.2 218.2h0M180.6 248.8h0M180.7 249.5h0M180.7 249.7h0M160.0 232.3h0M159.3 232.2h0M160.3 232.2h0M182.5 229.4h0M182.9 230.3h0M183.0 229.8h0M182.9 229.8h0M178.2 221.2h0M178.3 221.0h0M177.9 221.3h0M178.3 221.3h0M177.5 249.1h0M177.8 249.5h0M177.8 248.7h0M159.4 239.0h0M160.2 238.2h0M159.7 238.6h0M159.7 238.4h0M159.6 231.1h0M160.0 231.2h0M160.3 230.6h0M180.9 220.2h0M181.5 220.0h0M181.3 220.0h0M160.2 244.1h0M180.8 220.7h0M160.2 244.1h0M181.3 220.5h0M159.5 244.7h0M160.1 244.6h0M160.4 244.6h0M174.4 233.8h0M174.7 234.1h0M174.7 233.9h0M174.6 233.9h0M173.7 234.1h0M174.3 233.2h0M174.3 233.2h0M155.1 259.9h0M155.5 260.0h0M158.2 252.8h0M158.6 252.8h0M158.9 253.0h0M158.1 252.4h0M158.3 252.5h0M176.9 223.5h0M177.2 224.6h0M176.5 223.9h0M176.4 223.8h0M175.8 238.3h0M176.2 246.9h0M175.9 238.2h0M175.8 238.2h0M176.6 247.2h0M176.8 246.8h0M175.9 238.4h0M160.3 233.6h0M159.6 233.3h0M159.2 234.0h0M159.9 248.0h0M159.7 247.8h0M159.2 247.8h0M175.5 240.5h0M175.1 240.8h0M175.9 240.6h0M175.2 241.3h0M178.7 220.3h0M179.1 221.0h0M178.8 220.9h0M179.3 220.0h0M159.3 219.4h0M159.3 219.2h0M176.5 245.4h0M177.0 245.8h0M176.7 246.1h0M176.2 245.1h0M176.8 246.1h0M176.1 245.6h0M176.7 246.2h0M175.5 239.5h0M183.2 241.7h0M182.0 242.3h0M182.2 242.5h0M182.9 242.2h0M183.2 242.1h0M182.5 242.2h0M182.3 241.6h0M183.0 242.1h0M175.8 237.4h0M175.2 237.8h0M175.6 237.1h0M174.9 236.7h0M156.6 265.7h0M156.8 266.4h0M156.1 265.4h0M156.7 265.9h0M156.4 266.4h0M159.6 235.3h0M159.3 234.8h0M160.1 234.4h0M159.6 234.5h0M159.4 226.7h0M157.3 260.6h0M157.5 261.2h0M156.9 261.2h0M157.4 261.0h0M157.0 260.9h0M157.2 261.6h0M154.9 258.2h0M155.5 258.4h0M182.9 240.7h0M178.7 248.7h0M178.6 248.8h0M179.5 249.0h0M178.9 248.8h0M155.5 259.2h0M182.9 241.1h0M178.9 249.6h0M154.5 258.8h0M154.8 258.8h0M178.7 249.5h0M155.5 258.5h0M181.0 246.9h0M181.3 247.0h0M181.2 247.4h0M181.5 246.6h0M181.1 246.9h0M181.2 247.1h0M156.6 263.6h0M156.5 263.7h0M156.8 263.4h0M156.2 263.2h0M155.8 263.5h0M156.5 263.8h0M156.2 263.2h0M156.4 263.7h0M156.6 263.5h0M154.6 253.7h0M155.2 254.0h0M155.3 253.9h0M160.0 236.6h0M159.8 235.8h0M159.4 236.3h0M182.7 239.4h0M182.1 239.1h0M182.1 239.9h0M182.9 239.4h0M182.1 239.1h0M182.9 239.2h0M182.6 240.2h0M156.7 264.4h0M156.5 265.1h0M156.7 265.0h0M156.2 264.3h0M156.7 265.4h0M156.2 264.7h0M156.7 264.4h0M156.1 265.2h0M156.0 264.6h0M156.8 264.8h0M160.3 246.4h0M159.5 246.2h0M159.5 237.8h0M159.4 245.2h0M159.5 245.7h0M160.0 237.5h0M159.5 236.8h0M159.9 245.6h0M160.1 245.6h0M159.3 237.2h0M159.5 237.4h0M181.4 221.5h0M180.8 221.4h0M181.5 221.6h0M181.0 221.9h0M181.3 221.1h0M181.4 221.4h0M181.5 221.2h0M159.3 222.4h0M160.2 223.1h0M159.8 223.0h0M159.4 223.3h0M159.5 222.6h0M178.3 223.2h0M181.8 222.7h0M181.6 222.9h0M177.9 223.3h0M181.0 222.3h0M178.0 222.2h0M178.3 222.9h0M179.7 220.3h0M180.4 220.6h0M179.8 220.5h0M179.9 220.9h0M180.3 220.7h0M180.7 221.0h0M182.2 235.5h0M182.7 236.1h0M182.0 235.8h0M182.9 235.6h0M182.9 236.4h0M177.1 243.9h0M176.9 244.3h0M153.5 244.3h0M153.7 244.0h0M180.5 248.5h0M180.1 247.9h0M180.0 247.6h0M179.9 247.5h0M180.6 248.5h0M180.8 248.1h0M153.3 249.2h0M159.4 221.0h0M159.5 220.0h0M159.6 220.4h0M174.6 235.3h0M174.4 234.3h0M174.3 235.1h0M174.0 234.2h0M174.2 235.0h0M174.0 234.3h0M174.8 234.3h0M176.5 229.4h0M176.1 230.4h0M176.3 229.6h0M178.3 248.2h0M177.5 248.1h0M178.1 248.4h0M177.5 247.6h0M178.3 248.1h0M178.2 248.2h0M177.4 248.1h0M177.7 248.0h0M178.3 248.4h0M179.6 221.9h0M179.1 221.4h0M178.9 221.9h0M178.4 221.0h0M181.8 224.6h0M181.2 224.1h0M181.1 224.1h0M181.7 224.6h0M182.0 224.5h0M181.9 224.0h0M181.2 245.3h0M181.5 245.2h0M181.7 246.2h0M181.4 245.2h0M181.4 245.6h0M180.9 245.6h0M181.7 246.0h0M182.5 231.6h0M157.8 260.2h0M182.4 231.0h0M182.4 231.1h0M182.8 231.3h0M182.9 230.9h0M182.4 231.4h0M182.1 230.7h0M156.9 259.8h0M182.2 234.3h0M183.1 235.1h0M183.1 234.9h0M182.0 234.5h0M182.3 234.9h0M182.2 238.8h0M183.0 238.9h0M182.7 238.8h0M182.8 238.5h0M182.1 239.0h0M183.0 237.3h0M182.6 238.2h0M182.6 237.3h0M182.2 238.7h0M183.0 237.1h0M183.1 238.2h0M182.4 238.1h0M182.6 236.9h0M182.2 238.2h0M182.8 237.6h0M153.6 245.8h0M153.7 245.9h0M156.3 262.9h0M156.6 262.3h0M156.6 262.7h0M156.2 262.2h0M156.1 262.9h0M155.9 262.9h0M155.8 263.0h0M157.4 255.6h0M157.8 255.7h0M157.7 254.8h0M157.3 254.6h0M157.4 255.6h0M181.4 244.3h0M181.4 244.7h0M181.3 244.6h0M181.6 244.7h0M159.3 221.3h0M159.5 221.5h0M176.6 225.6h0M176.6 225.0h0M176.4 225.3h0M181.0 227.2h0M182.0 227.3h0M157.3 259.2h0M156.9 258.4h0M157.7 258.9h0M157.3 258.2h0M157.8 258.4h0M157.4 258.2h0M157.0 259.1h0M179.9 221.2h0M176.9 231.6h0M180.1 222.0h0M176.1 230.7h0M180.1 221.4h0M176.1 231.3h0M180.0 221.1h0M176.8 231.7h0M179.8 222.0h0M180.2 222.1h0M176.1 230.8h0M179.1 248.5h0M178.9 248.3h0M179.4 248.2h0M179.3 247.7h0M178.8 248.0h0M178.5 248.5h0M160.3 229.3h0M160.2 228.4h0M160.2 229.2h0M159.2 229.0h0M159.5 228.3h0M157.3 256.0h0M157.5 256.1h0M157.1 255.8h0M157.3 256.4h0M157.6 257.0h0M157.3 256.0h0M157.2 256.1h0M157.3 257.0h0M157.8 255.9h0M159.7 228.1h0M159.6 227.4h0M159.5 228.0h0M159.6 227.1h0M159.2 227.5h0M160.3 227.5h0M160.2 227.2h0M159.3 227.1h0M180.8 225.5h0M181.3 225.3h0M181.4 224.8h0M181.6 225.7h0M181.6 225.7h0M181.4 227.0h0M181.7 226.2h0M181.1 226.2h0M181.1 226.9h0M181.1 227.0h0M181.3 225.9h0M181.5 226.9h0M181.4 226.8h0M181.5 226.8h0M180.2 247.3h0M179.8 246.3h0M180.4 247.2h0M179.9 246.4h0M180.6 246.9h0M179.7 247.2h0M180.1 247.2h0M179.6 247.1h0M177.3 224.1h0M178.3 224.4h0M177.7 224.3h0M178.2 223.7h0M178.3 224.5h0M177.5 224.0h0M157.0 257.9h0M157.0 258.0h0M157.4 258.2h0M156.9 257.3h0M157.2 257.6h0M157.9 257.6h0M178.1 246.5h0M178.4 246.6h0M178.4 246.7h0M178.0 247.3h0M178.4 246.6h0M182.1 234.0h0M182.1 234.0h0M182.1 233.4h0M182.1 233.6h0M182.4 233.6h0M182.8 233.7h0M182.7 233.8h0M154.1 243.6h0M154.2 243.6h0M153.2 243.6h0M153.7 243.3h0M154.4 243.0h0M182.7 232.0h0M182.6 232.9h0M182.3 232.1h0M182.6 232.4h0M182.8 232.8h0M182.9 231.9h0M182.2 232.2h0M183.0 232.8h0M181.2 229.3h0M181.5 228.7h0M180.9 229.4h0M181.5 228.8h0M182.0 229.4h0M181.8 229.1h0M181.4 229.3h0M154.1 246.7h0M154.2 246.6h0M153.4 246.5h0M175.7 235.8h0M174.9 236.5h0"/>
<path stroke="#2b53be" stroke-width="0.62" stroke-linecap="square" opacity="0.9" d="M156.7 255.6h0M155.7 254.7h0M156.6 255.2h0M155.6 255.7h0M156.1 255.3h0M156.7 255.0h0M156.5 255.3h0M179.3 223.4h0M178.6 223.3h0M178.9 222.9h0M178.8 222.6h0M178.5 222.2h0M179.5 222.5h0M179.2 223.3h0M179.0 223.0h0M178.9 222.5h0M180.1 245.2h0M175.8 233.1h0M175.0 233.2h0M180.7 245.8h0M180.1 245.1h0M180.0 245.1h0M175.4 233.3h0M175.8 233.5h0M175.7 233.8h0M154.2 248.0h0M153.4 248.2h0M153.5 247.9h0M153.9 247.7h0M176.4 228.3h0M176.1 228.3h0M181.9 243.3h0M181.5 243.7h0M181.6 243.2h0M181.3 242.8h0M180.9 243.5h0M180.8 243.1h0M181.9 242.8h0M181.0 242.8h0M178.6 247.2h0M179.1 246.7h0M178.7 246.7h0M178.5 247.4h0M180.6 223.0h0M180.2 222.5h0M180.2 223.2h0M180.4 222.3h0M180.4 222.7h0M180.5 222.8h0M176.2 243.7h0M176.0 243.5h0M176.3 243.0h0M176.3 243.4h0M158.1 251.1h0M176.7 243.0h0M158.4 252.1h0M156.5 256.1h0M155.9 256.3h0M156.1 256.5h0M156.1 257.0h0M155.9 256.2h0M156.4 256.5h0M156.0 256.8h0M155.9 256.1h0M155.9 256.4h0M153.4 231.1h0M154.4 231.6h0M153.3 231.6h0M177.0 232.7h0M176.1 232.4h0M176.9 232.9h0M176.7 232.3h0M176.8 231.8h0M177.0 231.9h0M157.4 254.6h0M156.9 254.3h0M157.1 253.6h0M157.1 254.0h0M156.5 261.1h0M156.4 261.0h0M156.7 260.8h0M156.4 261.8h0M156.7 261.3h0M156.8 261.4h0M156.3 260.8h0M155.9 261.2h0M155.8 261.2h0M156.3 261.6h0M156.2 261.7h0M155.8 261.1h0M156.8 261.3h0M178.0 246.0h0M178.1 246.2h0M178.2 245.2h0M177.6 245.9h0M177.3 245.0h0M178.3 246.1h0M177.6 245.8h0M178.3 245.6h0M177.4 245.4h0M178.1 245.3h0M179.3 245.4h0M179.4 245.9h0M179.5 245.1h0M179.3 245.5h0M179.5 245.5h0M154.0 232.0h0M153.6 232.1h0M154.2 231.9h0M153.9 232.4h0M179.8 244.6h0M180.1 244.3h0M180.0 244.8h0M180.3 244.8h0M180.2 244.9h0M180.0 244.2h0M179.6 244.2h0M153.6 215.8h0M154.3 215.2h0M153.8 215.4h0M153.4 215.9h0M176.5 226.3h0M177.1 227.0h0M177.1 226.9h0M176.8 226.4h0M176.7 226.7h0M177.0 226.6h0M176.9 226.3h0M156.6 257.6h0M156.6 257.5h0M155.7 257.4h0M156.7 257.9h0M156.6 257.2h0M156.3 258.2h0M156.0 257.9h0M156.6 258.1h0M155.6 257.6h0M158.2 209.3h0M158.1 209.5h0M158.1 209.7h0M159.1 209.9h0M158.3 209.1h0M158.1 209.5h0M158.2 209.9h0M159.1 209.8h0M153.8 230.0h0M154.3 229.8h0M153.2 229.6h0M153.8 230.5h0M177.7 244.6h0M178.4 244.1h0M178.1 244.0h0M178.1 244.1h0M178.1 244.7h0M177.8 244.5h0M177.8 244.4h0M154.6 252.6h0M155.1 252.6h0M155.6 253.3h0M154.9 252.6h0M180.9 242.5h0M181.5 241.7h0M181.7 242.0h0M180.9 242.4h0M181.7 241.9h0M181.8 241.6h0M181.3 242.2h0M180.2 223.7h0M180.5 223.4h0M180.6 223.8h0M179.6 224.5h0M180.3 224.5h0M180.1 223.6h0M179.6 223.5h0M175.5 235.3h0M175.0 235.0h0M175.7 234.9h0M175.3 234.7h0M175.4 235.0h0M175.5 234.4h0M175.9 234.7h0M175.4 235.1h0M178.6 223.7h0M178.5 224.1h0M179.3 224.3h0M178.6 223.9h0M178.8 224.5h0M181.9 229.8h0M181.3 229.6h0M182.0 230.3h0M181.6 230.0h0M181.5 229.9h0M181.1 229.5h0M181.4 230.4h0M181.2 229.7h0M181.9 230.5h0M156.2 260.3h0M181.5 240.8h0M156.6 259.4h0M156.4 260.3h0M181.4 241.3h0M181.4 240.9h0M181.0 240.5h0M181.4 240.9h0M156.1 259.8h0M156.2 259.7h0M180.9 240.6h0M156.7 260.6h0M155.8 260.2h0M156.5 259.4h0M156.6 259.7h0M155.9 259.5h0M155.9 260.3h0M156.6 259.6h0M156.7 259.6h0M181.3 241.4h0M181.8 239.4h0M181.2 239.1h0M181.9 239.5h0M180.8 239.1h0M179.2 244.1h0M179.2 244.4h0M178.6 244.1h0M178.9 244.8h0M179.4 244.9h0M178.0 225.5h0M178.0 225.3h0M178.4 225.8h0M178.2 225.6h0M177.3 224.8h0M177.4 225.6h0M177.4 225.6h0M177.5 225.8h0M153.4 233.9h0M154.4 233.5h0M154.2 234.1h0M154.0 233.7h0M155.9 259.1h0M156.2 258.7h0M156.2 258.9h0M155.6 258.3h0M155.7 258.3h0M156.8 258.7h0M156.3 258.8h0M156.2 259.3h0M155.8 258.7h0M156.7 259.1h0M156.1 258.9h0M157.8 208.8h0M157.8 208.9h0M157.4 208.7h0M156.9 208.4h0M156.9 208.8h0M157.6 208.6h0M176.9 228.0h0M176.5 227.2h0M176.1 227.9h0M177.1 227.4h0M176.7 227.9h0M176.4 227.8h0M176.6 228.0h0M156.0 253.9h0M156.5 254.0h0M156.6 253.8h0M156.3 254.4h0M156.3 253.4h0M156.4 254.3h0M156.4 253.5h0M155.9 253.7h0M156.6 254.3h0M155.8 253.9h0M153.8 241.9h0M153.8 242.5h0M153.5 242.4h0M154.1 242.2h0M154.1 242.5h0M154.1 242.1h0M181.3 236.2h0M181.4 236.0h0M181.0 235.5h0M181.7 235.8h0M181.9 236.3h0M180.9 235.8h0M176.5 233.1h0M176.3 233.0h0M177.0 233.8h0M176.8 234.1h0M153.7 239.7h0M154.1 239.8h0M154.0 239.9h0M153.3 239.9h0M181.4 235.3h0M180.8 235.2h0M181.4 234.4h0M180.9 234.6h0M181.4 234.6h0M181.6 238.4h0M181.3 238.5h0M181.4 237.8h0M181.6 238.8h0M176.2 237.0h0M176.1 237.4h0M176.4 237.6h0M177.1 237.0h0M176.8 242.0h0M177.1 241.9h0M177.1 241.6h0M176.6 242.2h0M176.0 242.2h0M155.0 209.2h0M155.5 210.2h0M154.4 209.8h0M181.6 236.7h0M180.8 236.9h0M181.4 237.6h0M181.4 237.8h0M181.3 236.7h0M181.4 236.6h0M181.6 236.6h0M181.0 236.8h0M181.4 237.0h0M181.0 236.9h0M176.5 238.4h0M176.1 238.3h0M176.5 238.1h0M176.6 238.0h0M176.3 237.8h0M177.0 237.9h0M176.3 238.4h0M177.1 238.8h0M179.8 225.3h0M180.1 225.5h0M179.8 225.1h0M180.7 224.6h0M179.9 225.6h0M180.4 225.8h0M180.1 225.4h0M180.5 224.9h0M180.0 225.2h0M180.7 225.2h0M153.8 228.3h0M153.5 228.7h0M153.9 228.6h0M153.4 229.2h0M154.2 240.5h0M153.5 241.3h0M153.8 241.2h0M153.4 241.3h0M153.6 240.3h0M179.6 243.4h0M179.9 243.7h0M180.6 243.4h0M180.1 243.6h0M180.7 242.8h0M179.7 243.0h0M180.0 242.7h0M180.4 242.7h0M180.4 228.1h0M180.5 227.5h0M180.0 227.2h0M180.1 227.4h0M179.7 228.2h0M180.7 226.9h0M179.6 226.2h0M179.9 226.8h0M180.5 226.3h0M179.9 226.4h0M156.1 208.9h0M156.5 208.6h0M156.8 208.9h0M156.3 208.5h0M156.3 208.4h0M156.6 208.3h0M155.7 208.3h0M156.4 208.5h0M156.4 208.9h0M156.8 208.8h0M156.2 208.3h0M156.4 208.9h0M156.6 208.2h0M154.3 234.4h0M153.6 234.8h0M153.7 234.8h0M154.4 234.9h0M181.7 231.6h0M181.2 230.6h0M181.6 231.1h0M180.9 231.6h0M181.6 231.3h0M181.4 230.6h0M181.3 230.9h0M153.4 237.9h0M153.4 238.2h0M153.5 237.9h0M153.6 238.9h0M179.4 224.9h0M178.8 225.3h0M178.8 225.3h0M179.4 225.0h0M179.4 225.5h0M178.9 225.0h0M178.5 224.7h0M181.9 234.2h0M181.3 233.5h0M182.0 234.0h0M180.8 233.7h0M181.2 233.4h0M181.3 233.6h0M181.9 233.3h0M181.1 233.6h0M154.3 228.1h0M177.9 231.9h0M177.6 231.9h0M178.0 233.0h0M177.8 232.3h0M177.6 232.0h0M177.3 232.8h0M177.8 231.9h0M178.3 232.7h0M178.0 232.7h0M177.7 232.6h0M176.6 239.0h0M176.9 239.0h0M176.7 240.1h0M177.2 239.8h0M176.5 239.9h0M176.8 240.0h0M177.0 239.3h0M176.9 239.7h0M180.6 229.3h0M180.6 228.3h0M179.9 229.3h0M180.4 228.3h0M179.6 229.3h0M179.9 228.5h0M180.5 228.9h0M153.3 216.6h0M154.0 216.4h0M181.4 232.9h0M181.8 231.9h0M181.0 232.5h0M181.2 233.0h0M181.4 231.9h0M177.6 243.4h0M177.4 242.9h0M177.3 242.7h0M177.9 243.5h0M177.8 243.5h0M177.6 243.5h0M177.5 243.3h0M178.1 242.7h0M178.2 243.6h0M177.6 243.7h0M158.9 250.5h0M177.1 241.0h0M177.0 240.6h0M176.4 240.4h0M176.8 241.3h0M177.8 231.1h0M177.3 230.7h0M177.6 230.9h0M177.6 231.3h0M177.8 231.2h0M177.7 231.2h0M178.2 231.0h0M177.6 230.9h0M177.4 231.6h0M176.5 235.6h0M177.2 235.9h0M176.7 236.5h0M176.9 235.5h0M177.1 235.7h0M176.2 236.5h0M176.1 235.5h0M178.4 233.6h0M177.4 233.6h0M177.3 230.6h0M178.1 230.1h0M178.1 230.4h0M177.4 230.6h0M178.0 229.7h0M177.5 230.2h0M177.3 229.9h0M178.2 230.6h0M154.0 235.9h0M154.3 236.1h0M154.4 235.6h0M176.5 235.0h0M176.2 234.9h0M177.2 234.6h0M176.1 234.5h0M176.2 234.8h0M176.5 234.7h0M176.1 235.3h0M177.2 235.1h0M176.7 235.2h0M176.1 234.3h0M176.9 234.9h0M176.9 234.9h0M177.0 234.5h0M179.4 242.6h0M179.4 242.8h0M178.9 242.9h0M178.5 243.0h0M179.3 242.9h0M178.9 243.0h0M153.8 237.4h0M153.6 236.8h0M153.7 237.4h0M154.4 237.2h0M153.2 237.3h0M153.8 236.6h0M153.6 236.8h0M158.2 210.7h0M158.2 211.1h0M158.6 210.4h0M159.1 210.2h0M158.1 210.7h0M153.3 226.7h0M153.5 226.0h0M157.4 252.3h0M157.3 252.4h0M156.9 252.3h0M157.2 252.5h0M157.4 253.3h0M156.9 252.5h0M156.8 253.0h0M157.1 252.9h0M154.8 251.3h0M155.2 252.1h0M155.6 251.2h0M155.3 251.1h0M179.6 241.8h0M180.6 241.6h0M179.9 242.3h0M180.5 242.6h0M154.4 251.2h0M180.5 242.1h0M155.5 251.6h0M154.5 251.3h0M155.5 251.6h0M179.7 242.2h0M154.8 251.6h0M180.6 241.6h0M178.4 226.9h0M177.4 226.4h0M178.1 226.1h0M177.7 226.0h0M177.9 225.8h0M180.6 229.4h0M179.7 230.0h0M180.4 230.0h0M180.1 229.6h0M180.1 229.6h0M180.6 235.3h0M180.3 234.6h0M179.8 234.8h0M180.7 235.1h0M180.3 235.2h0M179.9 235.1h0M179.3 226.6h0M178.6 225.9h0M178.8 226.3h0M178.8 225.8h0M179.1 226.2h0M178.6 225.8h0M179.0 226.0h0M179.5 226.0h0M178.9 226.2h0M178.7 226.2h0M178.4 226.3h0M180.2 235.9h0M180.1 236.0h0M179.8 236.5h0M180.0 236.6h0M179.6 236.3h0M180.3 236.1h0M180.5 236.5h0M180.6 238.3h0M180.1 237.9h0M180.5 238.0h0M179.7 238.0h0M180.7 238.4h0M180.6 237.9h0M179.9 237.9h0"/>
<path stroke="#2c5bc5" stroke-width="0.62" stroke-linecap="square" opacity="1" d="M179.5 233.7h0M179.6 233.1h0M178.7 233.5h0M178.8 233.0h0M179.6 233.3h0M178.9 233.1h0M158.6 212.5h0M159.0 212.0h0M158.5 212.1h0M177.3 228.9h0M177.3 228.7h0M177.4 228.7h0M178.3 229.1h0M177.7 228.4h0M177.3 229.2h0M177.3 228.7h0M177.5 228.7h0M180.8 231.1h0M180.5 233.7h0M179.9 233.1h0M180.4 231.5h0M179.8 234.2h0M179.9 233.7h0M180.0 230.8h0M180.2 231.5h0M179.8 233.9h0M180.7 230.8h0M179.7 231.6h0M179.7 233.7h0M180.7 233.2h0M179.6 231.1h0M180.0 233.2h0M180.5 233.7h0M180.5 233.3h0M180.5 233.4h0M180.3 231.4h0M179.8 231.0h0M180.0 231.3h0M180.8 234.1h0M180.7 233.8h0M180.5 233.6h0M180.2 237.2h0M180.2 237.6h0M179.9 237.0h0M179.6 237.1h0M179.9 237.1h0M180.3 236.6h0M180.4 237.8h0M179.9 236.9h0M179.7 239.9h0M180.8 239.3h0M180.3 239.7h0M180.1 239.1h0M179.9 239.3h0M180.4 239.2h0M179.8 240.0h0M180.5 239.3h0M180.5 239.2h0M179.1 233.0h0M179.2 232.9h0M179.4 232.3h0M178.5 232.4h0M178.7 232.2h0M179.3 233.0h0M178.9 232.9h0M179.4 232.9h0M178.8 233.0h0M179.9 241.0h0M180.7 240.5h0M180.5 240.6h0M179.8 240.2h0M179.7 240.2h0M180.0 240.5h0M180.8 240.5h0M179.7 240.4h0M154.3 225.2h0M153.6 225.3h0M180.6 231.8h0M179.8 232.0h0M179.9 232.1h0M180.8 232.9h0M180.1 232.7h0M180.7 232.8h0M180.3 232.0h0M180.0 232.9h0M155.2 210.8h0M154.8 210.3h0M155.5 210.6h0M155.5 210.4h0M179.3 230.7h0M178.5 231.3h0M178.9 231.6h0M179.3 231.0h0M178.7 231.5h0M179.5 230.7h0M178.6 231.5h0M179.3 230.8h0M178.5 230.7h0M178.1 234.8h0M178.1 235.2h0M177.4 234.9h0M178.0 234.4h0M178.2 234.9h0M177.8 235.0h0M177.8 235.2h0M177.4 234.5h0M177.8 235.4h0M177.7 234.5h0M177.9 235.3h0M177.5 234.4h0M179.0 230.3h0M178.8 230.0h0M179.1 229.9h0M179.1 229.5h0M179.3 229.7h0M178.7 229.7h0M178.5 230.1h0M178.6 229.9h0M179.5 230.1h0M178.6 227.8h0M178.6 227.2h0M179.4 227.8h0M179.0 227.6h0M179.3 228.1h0M179.2 227.3h0M158.2 213.6h0M179.5 235.4h0M178.9 235.2h0M179.2 235.4h0M178.7 234.6h0M179.3 234.5h0M179.0 234.7h0M178.4 234.4h0M177.7 227.8h0M178.0 227.6h0M178.2 227.3h0M178.1 227.5h0M177.3 227.1h0M177.3 228.0h0M177.2 228.0h0M178.3 227.9h0M178.2 227.9h0M177.7 227.8h0M178.3 227.5h0M177.2 227.1h0M178.0 227.9h0M177.3 227.8h0M177.8 228.0h0M177.8 228.1h0M177.5 227.9h0M177.3 227.6h0M178.1 227.2h0M178.4 228.6h0M178.5 228.3h0M178.7 228.8h0M178.7 228.8h0M178.7 229.3h0M178.7 228.6h0M178.4 229.4h0M179.2 229.0h0M178.9 228.8h0M178.7 229.0h0M178.7 228.2h0M178.4 229.4h0M179.2 229.1h0M153.4 222.1h0M154.4 221.5h0M155.7 253.4h0M156.5 252.4h0M156.2 252.7h0M156.3 252.5h0M156.6 252.4h0M155.9 253.3h0M156.8 252.3h0M155.9 253.4h0M156.3 252.7h0M156.7 252.4h0M156.7 252.8h0M156.0 252.8h0M153.5 223.1h0M178.2 237.3h0M177.8 237.6h0M177.2 237.4h0M177.4 237.4h0M178.2 237.4h0M177.3 237.2h0M178.0 237.4h0M177.5 236.9h0M177.2 236.8h0M177.8 237.1h0M177.2 237.3h0M153.9 224.0h0M154.1 223.8h0M154.1 223.7h0M153.4 218.4h0M177.4 241.5h0M178.1 241.9h0M178.0 241.9h0M177.6 241.7h0M178.3 241.4h0M177.4 242.6h0M177.6 241.8h0M178.3 241.4h0M177.5 241.5h0M177.6 241.9h0M177.5 242.3h0M177.3 241.6h0M177.5 238.5h0M178.4 238.7h0M178.2 239.0h0M178.2 238.4h0M177.6 238.0h0M177.8 238.3h0M178.3 237.9h0M177.5 238.6h0M177.4 236.3h0M178.2 235.5h0M178.3 236.3h0M178.4 236.4h0M177.9 235.7h0M177.5 236.5h0M178.2 235.9h0M177.5 236.2h0M178.3 235.5h0M179.0 242.1h0M179.2 242.3h0M179.3 242.3h0M179.3 241.6h0M179.3 242.1h0M179.0 241.9h0M179.0 242.1h0M178.9 242.1h0M155.3 250.4h0M155.4 250.9h0M155.1 251.0h0M154.4 251.0h0M154.7 250.8h0M154.9 250.4h0M155.0 211.5h0M154.8 211.8h0M154.7 212.3h0M154.5 212.1h0M155.6 211.4h0M155.3 212.5h0M155.1 212.4h0M155.1 212.2h0M178.4 235.4h0M179.4 235.8h0M179.2 236.4h0M179.2 236.1h0M178.5 236.1h0M178.6 235.5h0M178.7 236.0h0M179.5 236.6h0M179.4 236.6h0M178.7 236.5h0M178.8 235.6h0M178.8 236.0h0M179.2 236.0h0M179.3 236.3h0M178.6 236.3h0M178.7 236.7h0M179.3 237.5h0M179.0 237.4h0M179.2 237.3h0M178.8 236.9h0M178.6 237.0h0M179.3 237.2h0M159.0 249.5h0M158.7 248.9h0M159.1 249.4h0M158.2 249.2h0M158.7 249.6h0M159.0 249.2h0M158.1 249.0h0M178.7 238.4h0M179.2 238.2h0M179.5 238.5h0M178.8 238.1h0M179.1 238.7h0M178.6 238.1h0M179.0 238.0h0M179.2 237.9h0M179.3 238.7h0M179.0 239.0h0M179.2 238.6h0M179.3 238.7h0M153.5 221.0h0M154.1 220.8h0M158.6 243.8h0M158.8 243.5h0M159.1 243.1h0M159.1 214.6h0M158.2 214.9h0M159.0 214.4h0M158.8 214.0h0M158.7 215.0h0M158.7 214.0h0M158.5 213.8h0M158.5 242.1h0M158.4 241.9h0M158.5 242.4h0M158.8 241.5h0M158.1 241.6h0M158.8 241.7h0M158.6 241.1h0M158.5 241.2h0M158.7 241.2h0M159.0 240.5h0M158.1 241.0h0M158.1 240.9h0M178.3 240.0h0M178.4 240.1h0M177.7 239.7h0M177.9 240.0h0M177.9 239.7h0M177.4 239.0h0M177.8 240.0h0M177.2 239.3h0M177.6 240.0h0M178.4 239.9h0M177.3 239.6h0M178.3 239.9h0M153.6 218.9h0M154.0 219.6h0M154.0 218.8h0M154.3 218.7h0M153.6 218.8h0M153.5 219.2h0M153.4 219.5h0M153.2 218.6h0M179.0 239.4h0M178.9 239.6h0M179.1 239.5h0M179.0 239.2h0M179.5 239.8h0M179.1 239.1h0M178.6 240.1h0M178.8 239.2h0M179.5 239.1h0M177.4 240.4h0M177.3 240.5h0M177.8 240.4h0M177.3 240.9h0M177.8 241.1h0M177.7 240.6h0M177.3 241.3h0M177.5 241.3h0M178.3 240.3h0M178.0 240.5h0M177.3 241.2h0M177.3 240.8h0M178.3 241.2h0M177.3 240.6h0M178.0 240.3h0M177.4 241.4h0M177.3 240.2h0M177.6 241.1h0M158.5 240.1h0M178.8 240.9h0M178.9 241.0h0M178.8 240.4h0M178.5 240.5h0M179.4 240.7h0M178.5 240.4h0M179.0 241.0h0M179.5 240.9h0M179.0 240.9h0M179.3 240.7h0M178.6 240.2h0M178.8 240.7h0M158.2 244.2h0M158.7 244.6h0M158.3 244.5h0M158.7 244.9h0M157.4 251.3h0M157.4 251.3h0M157.4 251.9h0M157.4 251.6h0M156.9 251.1h0M157.3 251.1h0M157.9 251.4h0M157.6 252.1h0M157.8 251.1h0M156.9 251.4h0M157.4 251.9h0M157.9 252.0h0M155.3 212.7h0M155.4 213.4h0M155.6 212.7h0M155.5 213.6h0M154.7 212.8h0"/>
<path stroke="#2c6bc8" stroke-width="0.62" stroke-linecap="square" opacity="1" d="M158.2 247.5h0M158.8 248.3h0M158.0 247.9h0M158.2 248.3h0M158.7 248.0h0M158.1 248.4h0M158.2 247.7h0M158.1 248.0h0M158.9 247.6h0M158.6 247.8h0M158.6 247.5h0M158.5 248.4h0M157.5 209.4h0M157.9 209.5h0M157.6 209.4h0M156.9 209.2h0M157.4 210.1h0M157.3 210.0h0M157.2 209.4h0M157.5 209.8h0M157.2 209.4h0M157.5 210.0h0M157.3 210.0h0M157.3 209.6h0M158.3 233.4h0M159.1 233.2h0M158.7 233.9h0M158.8 233.5h0M158.5 234.0h0M158.2 233.2h0M158.3 233.7h0M158.8 233.8h0M155.0 248.7h0M154.9 249.7h0M155.5 249.1h0M154.6 249.5h0M154.4 248.9h0M154.7 248.9h0M159.1 232.9h0M158.6 232.6h0M158.1 232.8h0M158.4 232.3h0M158.0 238.5h0M159.1 237.9h0M158.2 238.0h0M158.1 238.7h0M158.0 237.8h0M158.1 238.4h0M158.2 237.9h0M158.9 238.4h0M158.3 245.3h0M158.7 245.0h0M158.9 245.6h0M158.1 245.3h0M158.2 245.2h0M158.4 245.0h0M158.6 245.1h0M158.1 245.1h0M158.1 245.7h0M158.7 245.8h0M158.0 247.2h0M158.3 247.3h0M158.5 246.6h0M159.0 247.1h0M158.0 247.4h0M158.0 247.4h0M158.3 215.2h0M158.4 216.0h0M158.5 216.0h0M158.0 215.2h0M158.2 215.8h0M158.0 215.2h0M159.1 215.0h0M158.3 234.9h0M158.3 235.1h0M158.3 234.4h0M158.1 235.1h0M158.2 235.2h0M158.4 234.3h0M158.6 234.5h0M156.8 209.2h0M156.2 209.9h0M156.4 209.8h0M155.8 210.0h0M156.8 210.0h0M156.2 210.1h0M156.6 209.4h0M155.7 209.4h0M156.2 210.0h0M156.2 209.9h0M155.8 209.9h0M156.8 209.1h0M156.3 209.2h0M156.0 209.7h0M155.7 209.8h0M156.1 209.2h0M156.7 209.3h0M156.2 209.2h0M156.6 209.3h0M156.4 209.2h0M156.3 209.4h0M156.4 209.3h0M156.6 251.2h0M156.4 251.1h0M156.1 251.8h0M155.8 251.8h0M156.7 251.1h0M156.6 251.4h0M155.8 251.5h0M156.5 251.0h0M156.2 251.7h0M155.8 252.0h0M156.2 251.5h0M156.4 251.9h0M155.8 251.1h0M156.4 251.8h0M156.8 251.6h0M156.6 251.1h0M156.4 252.0h0M156.7 252.2h0M155.5 245.0h0M155.5 243.9h0M155.2 244.2h0M154.5 244.8h0M154.6 244.3h0M155.1 244.2h0M155.1 244.9h0M155.4 245.0h0M155.6 242.7h0M155.4 242.6h0M154.8 243.4h0M155.4 243.6h0M155.2 242.9h0M158.7 235.8h0M158.3 236.1h0M158.3 235.8h0M159.1 236.6h0M158.4 236.3h0M158.2 237.6h0M158.7 236.6h0M159.1 237.4h0M158.5 236.8h0M158.1 236.9h0M158.1 237.3h0M154.8 245.0h0M155.2 245.0h0M155.0 245.8h0M155.4 245.1h0M155.4 245.0h0M155.4 245.9h0M155.4 245.9h0M155.5 245.0h0M155.6 246.0h0M155.5 247.6h0M154.8 248.5h0M155.1 248.0h0M155.3 248.0h0M155.0 248.4h0M154.5 247.5h0M154.7 247.5h0M154.5 248.0h0M155.4 247.7h0M155.2 247.9h0M155.0 247.5h0M155.4 246.2h0M155.2 247.3h0M155.3 246.3h0M155.4 247.2h0M155.4 246.8h0M154.8 246.7h0M155.4 247.2h0M158.5 231.7h0M159.0 231.5h0M159.0 230.8h0M158.8 231.6h0M158.6 231.1h0M155.6 241.4h0M154.7 242.2h0M155.3 242.4h0M154.5 242.6h0M155.5 241.5h0M155.5 241.9h0M155.2 241.9h0M155.3 242.1h0M155.0 239.3h0M155.5 239.6h0M154.5 239.3h0M155.1 239.3h0M155.3 239.7h0M154.9 239.2h0M155.2 239.4h0M155.0 239.2h0M155.3 240.1h0M155.2 239.1h0M155.2 240.0h0M155.3 241.4h0M155.4 240.7h0M155.4 240.5h0M155.2 240.4h0M155.3 240.7h0M154.8 240.9h0M155.0 240.6h0M155.3 240.6h0M155.0 240.9h0M154.7 240.6h0M154.9 240.8h0M155.1 240.7h0M155.3 241.4h0M157.1 250.8h0M157.4 250.7h0M158.0 250.1h0M157.1 250.5h0M156.8 250.1h0M156.8 251.0h0M156.8 249.9h0M157.5 250.5h0M157.2 250.6h0M156.9 250.4h0M157.8 250.1h0M157.6 250.4h0M157.4 251.0h0M157.2 250.8h0M157.1 250.7h0M157.2 250.2h0M157.2 250.9h0M157.4 250.9h0M157.7 250.4h0M156.8 250.0h0M157.0 250.0h0M156.9 250.4h0M155.3 214.0h0M155.4 215.0h0M154.9 214.4h0M155.6 213.9h0M155.1 214.1h0M155.0 214.0h0M154.9 214.4h0M155.6 214.7h0M155.4 214.0h0M155.1 214.6h0"/>
<path stroke="#2a80c8" stroke-width="0.62" stroke-linecap="square" opacity="1" d="M158.6 217.0h0M158.6 217.1h0M158.0 216.7h0M158.1 216.8h0M154.8 232.6h0M154.6 232.0h0M155.0 232.2h0M154.9 232.0h0M154.6 232.0h0M155.1 232.4h0M155.4 238.4h0M154.7 238.1h0M155.1 238.2h0M155.5 238.3h0M155.2 238.4h0M154.9 238.7h0M155.4 237.9h0M157.5 210.2h0M157.1 210.4h0M156.8 211.3h0M156.8 211.0h0M156.8 210.8h0M157.0 210.9h0M157.0 211.1h0M157.3 210.8h0M157.1 210.5h0M157.4 211.3h0M157.1 211.0h0M157.6 211.0h0M157.0 211.3h0M157.0 210.3h0M156.8 211.3h0M157.1 211.4h0M157.0 210.8h0M157.2 210.9h0M155.1 233.1h0M154.7 233.8h0M155.4 233.9h0M154.5 234.0h0M155.5 233.6h0M155.6 233.5h0M155.4 233.0h0M155.3 233.8h0M155.1 233.9h0M156.1 210.5h0M156.1 210.5h0M156.0 210.5h0M156.7 211.3h0M156.6 210.9h0M156.8 210.7h0M156.5 211.0h0M156.3 211.3h0M155.9 211.3h0M156.4 211.2h0M156.6 210.4h0M155.8 211.1h0M156.6 211.4h0M156.8 210.4h0M156.4 210.7h0M156.3 210.3h0M156.3 210.9h0M156.5 210.3h0M155.9 211.3h0M156.0 210.4h0M156.0 210.4h0M156.3 210.9h0M156.2 250.8h0M156.8 250.9h0M156.8 250.7h0M156.7 250.2h0M155.7 250.0h0M155.7 250.1h0M156.6 250.0h0M156.0 250.2h0M156.4 250.1h0M155.8 250.5h0M156.8 249.9h0M156.7 249.9h0M156.0 250.6h0M158.6 230.4h0M158.1 230.0h0M158.3 230.3h0M158.0 229.9h0M158.2 230.0h0M158.1 230.2h0M158.6 230.2h0M158.5 229.7h0M155.3 231.4h0M155.1 231.2h0M155.4 231.4h0M155.3 231.7h0M155.5 231.5h0M155.4 230.9h0M155.1 231.5h0M154.5 234.5h0M155.5 235.4h0M155.3 234.8h0M155.2 234.5h0M154.9 234.7h0M155.3 235.2h0M154.6 235.0h0M155.6 234.6h0M155.1 235.2h0M155.1 235.3h0M154.7 235.1h0M155.4 235.4h0M157.5 211.6h0M156.9 212.4h0M156.9 212.4h0M156.8 212.3h0M157.0 212.5h0M157.2 212.0h0M157.6 211.7h0M157.2 212.0h0M157.0 212.3h0M157.1 211.6h0M157.1 212.2h0M157.0 212.3h0M156.9 212.1h0M157.4 211.9h0M157.1 211.5h0M156.9 211.8h0M157.5 212.3h0M157.2 212.1h0M157.2 211.7h0M156.8 212.1h0M157.0 211.9h0M158.7 228.9h0M158.0 229.1h0M158.8 228.5h0M158.2 228.5h0M158.7 228.0h0M158.1 227.3h0M158.6 227.0h0M158.9 227.8h0M158.1 227.7h0M158.6 227.7h0M158.7 228.0h0M159.2 218.6h0M158.3 218.0h0M158.1 217.4h0M158.0 218.2h0M158.3 217.9h0M158.5 217.8h0M155.3 237.8h0M154.7 237.5h0M155.5 236.8h0M155.4 237.4h0M155.3 236.7h0M154.8 237.3h0M154.8 236.8h0M154.6 237.2h0M155.3 236.6h0M154.7 237.5h0M155.0 237.3h0M155.3 237.3h0M158.5 226.8h0M158.9 226.0h0M158.4 225.8h0M158.4 226.1h0M158.2 226.3h0M159.2 224.7h0M158.1 225.7h0M158.4 225.3h0M158.9 225.8h0M156.5 212.2h0M155.8 211.8h0M156.3 212.0h0M155.8 211.5h0M156.0 211.7h0M156.4 211.7h0M155.7 212.5h0M156.7 211.7h0M156.3 211.6h0M156.4 211.5h0M155.7 212.1h0M156.5 212.3h0M156.6 212.2h0M156.6 211.7h0M156.3 211.6h0M155.7 212.5h0"/>
<path stroke="#2995c8" stroke-width="0.62" stroke-linecap="square" opacity="1" d="M155.3 236.5h0M155.1 236.2h0M154.6 236.3h0M155.4 236.3h0M155.0 236.0h0M155.4 236.4h0M155.3 235.8h0M154.9 236.1h0M154.4 235.6h0M155.0 235.4h0M154.7 236.3h0M157.0 249.7h0M157.8 248.8h0M158.0 249.8h0M157.6 249.8h0M156.8 248.7h0M157.4 248.7h0M157.6 249.0h0M157.8 249.2h0M157.3 249.2h0M156.9 249.6h0M157.1 249.1h0M157.3 249.2h0M156.8 248.9h0M157.5 249.2h0M157.9 249.0h0M157.4 249.1h0M156.9 249.2h0M157.9 249.2h0M157.8 248.6h0M154.6 229.7h0M155.4 229.7h0M155.1 229.9h0M154.7 229.4h0M155.3 230.4h0M154.9 230.1h0M155.2 230.1h0M155.2 229.7h0M158.1 223.5h0M157.2 242.8h0M157.6 243.2h0M156.8 243.1h0M157.0 243.6h0M157.2 243.2h0M157.1 242.8h0M156.8 243.1h0M157.1 243.2h0M156.9 242.9h0M156.9 243.6h0M157.1 243.1h0M157.7 243.7h0M157.2 243.6h0M156.9 243.2h0M156.8 243.0h0M157.6 243.5h0M156.9 242.7h0M157.2 243.5h0M156.8 243.5h0M157.3 242.8h0M157.4 213.5h0M156.9 213.6h0M157.1 213.5h0M157.0 213.1h0M157.4 213.7h0M157.5 213.6h0M157.3 213.8h0M157.2 212.7h0M157.0 213.5h0M157.2 212.9h0M157.2 213.1h0M157.3 213.2h0M157.0 213.7h0M158.0 213.4h0M157.4 213.7h0M157.0 212.8h0M157.4 212.6h0M157.5 213.7h0M157.2 212.6h0M157.3 213.2h0M157.8 213.3h0M157.0 213.1h0M157.0 213.3h0M157.0 213.6h0M157.3 213.4h0M157.1 213.4h0M155.0 215.0h0M155.2 215.7h0M155.3 215.6h0M155.3 215.8h0M155.4 216.1h0M154.7 215.8h0M155.3 215.7h0M154.7 215.1h0M154.6 215.6h0M155.6 215.4h0M155.0 215.2h0M154.7 215.5h0M157.6 242.1h0M157.1 242.5h0M157.3 242.5h0M157.3 241.7h0M157.4 241.9h0M157.6 242.0h0M157.7 242.1h0M157.6 241.9h0M157.5 242.5h0M157.5 241.9h0M157.4 242.0h0M156.8 241.7h0M157.8 242.5h0M157.0 241.8h0M157.7 241.5h0M157.8 242.1h0M156.9 242.2h0M157.0 241.7h0M156.2 249.5h0M156.6 248.6h0M155.8 248.7h0M156.8 249.3h0M156.5 249.2h0M156.1 249.1h0M156.0 249.5h0M156.7 249.4h0M155.9 248.9h0M155.6 248.6h0M156.4 248.7h0M156.2 249.2h0M156.0 249.1h0M156.3 249.7h0M155.9 249.1h0M156.2 249.6h0M156.2 248.8h0M155.9 248.8h0M156.5 249.7h0M156.6 248.8h0M155.6 249.3h0M156.1 249.0h0M156.5 249.8h0M156.3 249.1h0M157.9 240.2h0M157.7 240.9h0M156.9 241.3h0M157.2 241.1h0M157.5 240.6h0M157.4 241.1h0M157.7 241.1h0M157.7 240.6h0M156.9 241.2h0M157.5 241.3h0M157.7 240.2h0M157.0 240.4h0M157.0 240.5h0M157.3 240.9h0M157.4 241.4h0M157.0 241.3h0M157.8 240.4h0M156.9 241.3h0M156.9 241.0h0M157.4 241.3h0M157.2 241.2h0M157.5 240.7h0M157.1 241.4h0M156.8 240.4h0M157.0 240.6h0M156.8 244.7h0M157.4 244.1h0M156.8 243.8h0M157.4 244.4h0M157.4 243.9h0M157.1 244.1h0M156.8 244.7h0M157.0 244.5h0M157.3 243.8h0M157.1 244.9h0M157.4 244.3h0M156.9 244.4h0M157.9 243.9h0M157.7 244.1h0M157.3 244.2h0M157.3 244.7h0M157.8 243.9h0M156.8 244.3h0M157.5 244.0h0M158.0 244.3h0M157.8 244.1h0M157.2 244.2h0M158.0 219.3h0M158.5 219.5h0M157.5 239.3h0M157.3 239.9h0M157.2 239.7h0M157.3 239.9h0M157.2 239.6h0M157.3 240.2h0M157.5 239.0h0M157.5 239.8h0M157.6 239.9h0M157.6 239.4h0M157.3 240.0h0M157.9 239.1h0M157.0 239.8h0M157.9 239.3h0M157.7 239.1h0M156.8 239.1h0M157.2 239.4h0M157.2 239.4h0M157.2 239.5h0M157.2 239.2h0M157.0 239.9h0M157.0 239.5h0M157.3 239.7h0M156.4 243.1h0M156.3 243.4h0M156.5 242.7h0M156.2 242.8h0M156.4 243.6h0M156.3 243.6h0M155.9 243.2h0M155.9 243.6h0M156.7 243.7h0M156.6 243.0h0M156.2 243.1h0M156.3 242.8h0M156.3 243.6h0M155.7 243.0h0M155.8 243.3h0M156.2 243.1h0M155.7 243.0h0M156.3 242.8h0M156.6 243.2h0M156.8 213.6h0M156.4 213.4h0M156.0 212.7h0M156.5 212.7h0M156.6 213.4h0M156.1 213.0h0M156.0 213.6h0M155.9 213.0h0M155.8 213.2h0M156.6 213.4h0M156.2 212.8h0M156.1 213.1h0M156.7 213.8h0M156.5 213.5h0M156.6 213.7h0M156.3 213.5h0M156.3 213.7h0M156.8 213.0h0M156.2 213.7h0M156.7 213.4h0M156.1 213.0h0M156.3 213.4h0M156.3 213.5h0M157.2 248.0h0M157.4 248.4h0M157.1 248.6h0M157.1 247.9h0M156.9 247.9h0M156.9 247.8h0M157.2 247.5h0M157.2 247.7h0M157.6 248.4h0M157.6 247.5h0M157.0 248.5h0M157.2 247.4h0M156.9 247.6h0M157.3 248.4h0M157.4 248.3h0M157.5 247.8h0M157.2 248.4h0M158.8 222.8h0M158.4 222.5h0M158.7 222.9h0M158.4 223.1h0M158.7 222.6h0M158.1 223.1h0M158.5 222.6h0M159.0 223.3h0M156.6 244.0h0M156.4 244.1h0M155.8 244.7h0M156.7 244.2h0M155.9 244.0h0M156.2 244.8h0M156.6 243.9h0M156.1 244.5h0M155.8 244.0h0M156.7 244.2h0M156.5 243.8h0M156.8 244.1h0M156.8 243.9h0M156.7 244.0h0M156.0 244.5h0M156.2 244.9h0M156.0 243.9h0M155.8 244.2h0M156.7 244.7h0M155.9 244.9h0M156.7 244.1h0M156.3 244.8h0M156.2 244.1h0M155.8 242.0h0M156.3 242.6h0M156.8 241.6h0M156.0 241.9h0M156.4 242.4h0M156.0 242.2h0M156.6 241.6h0M156.6 242.5h0M156.5 241.6h0M156.7 242.3h0M156.8 241.4h0M156.3 242.4h0M155.9 241.8h0M156.5 241.4h0M156.5 241.5h0M156.3 242.2h0M156.7 241.5h0M155.9 241.9h0M156.0 241.7h0M156.5 242.5h0M156.3 241.4h0M155.7 242.1h0M156.5 242.5h0M156.3 242.6h0M156.0 241.8h0M155.9 242.5h0M156.7 242.1h0M156.4 242.4h0M155.9 242.0h0M155.5 228.7h0M155.3 229.2h0M155.5 228.7h0M155.6 228.6h0M155.4 228.7h0M155.1 228.9h0M154.7 228.8h0M155.6 228.3h0M155.2 229.4h0M155.3 228.3h0M157.3 245.7h0M156.9 245.7h0M157.9 245.3h0M157.7 245.5h0M157.7 245.5h0M156.8 245.8h0M157.2 245.5h0M157.3 245.8h0M157.6 245.3h0M157.0 245.7h0M157.0 245.8h0M156.8 245.1h0M157.5 246.0h0M157.2 245.2h0M157.0 245.1h0M157.9 245.5h0M156.9 245.7h0M157.6 245.3h0M157.0 245.5h0M157.4 245.4h0M157.2 245.1h0M157.3 245.8h0M156.1 239.6h0M156.1 240.0h0M156.0 239.6h0M155.9 239.6h0M155.7 240.2h0M156.3 239.2h0M156.4 240.1h0M156.4 239.2h0M156.0 240.2h0M156.5 239.1h0M155.9 239.7h0M155.8 240.0h0M156.4 239.4h0M156.1 239.2h0M156.1 239.5h0M157.4 247.3h0M157.4 247.2h0M157.3 246.4h0M157.1 246.8h0M157.7 246.8h0M156.9 246.5h0M156.9 246.5h0M157.7 246.9h0M157.7 246.4h0M156.8 246.9h0M156.9 246.5h0M157.1 247.0h0M157.2 246.3h0M157.7 247.3h0M158.0 247.4h0M156.8 246.8h0M157.4 246.8h0M157.1 246.6h0M157.8 246.2h0M157.2 246.5h0M157.4 246.5h0M158.0 246.9h0M157.5 246.3h0M156.5 240.3h0M155.7 241.3h0M155.8 240.5h0M156.4 240.5h0M156.2 241.1h0M156.6 240.8h0M156.7 241.1h0M156.3 240.8h0M155.9 240.4h0M156.5 241.0h0M156.5 241.3h0M156.4 240.3h0M156.8 241.1h0M156.5 241.3h0M156.8 240.3h0M156.4 241.2h0M156.1 241.1h0M156.1 240.5h0M156.0 240.9h0M156.2 241.3h0M156.7 241.1h0M155.8 240.3h0M157.3 214.8h0M156.8 213.9h0M156.9 214.9h0M156.8 214.7h0M157.5 214.2h0M157.3 214.3h0M156.9 214.8h0M157.9 214.2h0M157.0 214.6h0M157.5 214.7h0M157.5 215.0h0M157.1 214.9h0M156.9 214.9h0M157.8 214.8h0M157.3 214.2h0M157.3 214.3h0M157.3 214.5h0"/>
<path stroke="#28aac8" stroke-width="0.62" stroke-linecap="square" opacity="1" d="M156.7 248.1h0M156.2 248.5h0M156.0 248.2h0M155.8 248.4h0M155.6 247.4h0M155.9 247.9h0M156.6 247.9h0M156.6 248.3h0M155.7 247.9h0M156.7 247.5h0M156.2 248.2h0M155.9 248.2h0M156.3 248.2h0M156.5 248.5h0M156.5 248.5h0M155.8 248.1h0M156.3 248.1h0M156.0 248.5h0M156.8 248.4h0M155.7 248.1h0M156.5 248.0h0M156.5 247.5h0M155.8 248.2h0M156.1 248.5h0M156.7 248.5h0M156.8 247.6h0M156.7 247.7h0M156.4 247.8h0M156.7 247.6h0M155.6 248.4h0M156.3 247.8h0M156.6 247.6h0M156.6 247.6h0M156.7 247.6h0M159.0 220.2h0M158.1 220.3h0M159.1 220.6h0M155.8 245.6h0M156.4 246.0h0M156.8 245.3h0M156.2 246.1h0M156.1 245.5h0M155.7 245.1h0M156.2 245.8h0M156.2 246.2h0M156.5 245.5h0M156.6 245.8h0M156.3 245.0h0M156.0 245.3h0M156.4 245.6h0M156.2 246.0h0M156.7 245.8h0M155.9 245.6h0M155.8 245.5h0M155.8 245.7h0M156.3 245.8h0M156.2 246.0h0M156.5 245.9h0M156.7 245.8h0M156.7 245.6h0M156.1 245.6h0M155.8 245.6h0M156.7 245.0h0M156.2 245.2h0M156.7 245.7h0M156.3 245.5h0M156.2 245.3h0M156.4 245.3h0M157.2 238.0h0M157.1 238.6h0M157.5 238.5h0M157.1 237.8h0M158.0 238.3h0M157.1 238.0h0M158.0 238.7h0M157.8 238.4h0M156.8 238.0h0M157.2 238.1h0M157.2 237.9h0M157.1 238.8h0M157.0 238.0h0M157.1 238.6h0M157.5 238.3h0M157.1 238.0h0M157.1 238.5h0M157.7 238.3h0M157.3 238.4h0M157.0 238.9h0M157.1 238.9h0M157.5 238.9h0M157.5 238.8h0M157.5 238.8h0M157.0 238.4h0M155.7 247.2h0M155.7 246.8h0M156.0 247.3h0M156.0 246.5h0M156.2 246.5h0M155.8 247.0h0M156.6 247.1h0M155.8 246.8h0M155.9 247.1h0M156.2 247.1h0M156.7 247.0h0M156.3 247.0h0M156.3 246.5h0M156.0 246.6h0M156.0 247.0h0M156.3 247.4h0M158.3 221.5h0M159.1 221.6h0M158.1 221.0h0M158.2 222.0h0M158.3 221.4h0M157.4 233.8h0M157.3 233.9h0M157.3 234.2h0M157.1 233.8h0M157.6 233.1h0M157.3 233.3h0M157.7 233.2h0M156.8 233.7h0M157.0 233.2h0M157.2 233.6h0M157.5 233.2h0M157.4 233.7h0M157.0 233.4h0M158.0 233.4h0M157.0 234.0h0M157.1 234.1h0M157.3 233.4h0M156.8 233.5h0M157.1 233.9h0M156.8 233.3h0M156.9 233.7h0M157.0 234.0h0M157.1 233.8h0M156.8 232.0h0M156.9 231.8h0M157.0 232.4h0M156.9 232.4h0M157.1 232.5h0M157.8 233.0h0M157.6 232.2h0M157.1 232.9h0M157.2 232.6h0M157.8 232.3h0M156.8 232.0h0M157.6 231.8h0M157.5 231.9h0M157.2 232.8h0M157.3 231.9h0M157.8 232.4h0M157.4 232.2h0M157.0 232.1h0M157.3 231.9h0M155.4 216.9h0M154.8 216.6h0M155.6 217.1h0M155.3 217.3h0M155.6 216.4h0M155.5 216.6h0M154.4 216.8h0M155.6 216.6h0M155.2 217.2h0M155.5 216.8h0M155.3 216.2h0M156.9 234.9h0M156.8 234.5h0M157.6 235.1h0M157.2 234.8h0M156.8 235.1h0M156.9 235.0h0M157.3 234.7h0M157.3 234.5h0M157.1 235.0h0M157.3 234.8h0M157.2 235.2h0M157.9 234.6h0M157.1 234.9h0M157.3 234.5h0M157.6 234.2h0M157.2 234.9h0M157.7 235.4h0M157.5 234.9h0M155.7 238.5h0M156.1 237.8h0M156.8 238.2h0M156.6 238.2h0M156.2 238.4h0M156.0 238.6h0M156.6 238.8h0M156.6 238.7h0M155.8 238.5h0M155.8 238.7h0M156.8 238.5h0M155.6 238.6h0M156.4 237.8h0M155.8 239.0h0M155.9 238.2h0M156.6 237.9h0M156.7 238.7h0M156.4 237.9h0M156.7 238.7h0M156.5 237.8h0M156.4 237.9h0M156.3 238.0h0M156.7 238.8h0M155.0 228.0h0M155.5 227.9h0M154.8 227.7h0M155.5 227.1h0M155.4 227.4h0M154.9 227.5h0M155.5 228.0h0M154.7 227.7h0M155.0 228.1h0M157.8 236.7h0M157.1 237.4h0M157.2 237.1h0M157.7 236.7h0M157.3 237.4h0M157.5 237.5h0M157.3 237.5h0M157.3 237.3h0M157.1 237.7h0M157.5 237.4h0M157.1 236.7h0M158.0 237.3h0M157.4 237.6h0M157.4 237.7h0M157.7 237.6h0M157.1 237.0h0M156.9 237.2h0M157.3 237.0h0M157.6 237.7h0M157.0 236.9h0M157.5 237.1h0M157.3 237.2h0M157.1 236.6h0M156.4 214.0h0M156.0 214.9h0M156.4 214.1h0M155.9 214.7h0M156.0 214.9h0M155.9 214.2h0M156.5 214.0h0M156.6 214.1h0M155.7 214.3h0M156.4 214.2h0M156.3 214.7h0M156.2 213.9h0M156.7 214.8h0M155.8 214.2h0M155.7 213.9h0M156.8 214.9h0M156.8 214.6h0M155.7 214.0h0M156.1 214.9h0M156.1 214.3h0M156.5 214.1h0M155.9 213.9h0M156.6 214.4h0M156.4 214.0h0M155.9 214.7h0M156.7 214.4h0M155.7 214.1h0M156.3 214.7h0M156.7 214.0h0M156.6 233.9h0M156.3 233.3h0M156.2 234.1h0M156.3 233.1h0M156.6 233.4h0M155.7 233.3h0M156.8 234.1h0M156.1 233.9h0M156.1 233.2h0M156.5 233.9h0M155.9 233.1h0M156.8 233.3h0M156.0 233.2h0M156.6 233.3h0M156.2 233.6h0M156.3 233.3h0M155.8 233.8h0M156.4 233.3h0M156.6 234.1h0M156.1 234.0h0M156.1 233.7h0M156.3 233.0h0M156.4 233.5h0M156.5 234.0h0M156.5 233.3h0M156.1 233.8h0M156.6 233.7h0M156.6 233.5h0M155.9 233.6h0M156.8 233.4h0M155.8 233.4h0M156.2 233.9h0M157.2 236.4h0M156.9 236.6h0M157.5 236.5h0M157.7 235.9h0M156.9 236.5h0M157.1 236.0h0M157.0 235.9h0M157.5 236.3h0M157.4 236.3h0M157.5 235.4h0M157.0 235.9h0M157.0 235.9h0M156.9 235.7h0M157.4 235.9h0M157.2 236.3h0M157.0 236.2h0M157.5 236.3h0M157.8 235.7h0M157.9 235.7h0M157.6 236.1h0M157.6 235.8h0M157.0 236.3h0M156.9 236.6h0M157.4 235.4h0M157.3 235.4h0M157.2 235.7h0M157.1 236.5h0M157.5 236.2h0M156.5 232.7h0M156.8 232.6h0M156.1 232.7h0M155.9 233.0h0M156.7 232.8h0M155.7 231.9h0M156.1 232.6h0M155.8 232.0h0M156.6 232.3h0M156.2 232.1h0M156.8 232.2h0M156.7 232.0h0M155.6 232.5h0M156.5 232.1h0M156.3 232.4h0M155.8 232.9h0M156.7 232.9h0M156.7 232.8h0M156.8 232.7h0M156.6 233.0h0M156.7 232.7h0M156.1 232.3h0M155.9 231.8h0M155.8 232.1h0M156.0 232.6h0"/>
<path stroke="#2eafa3" stroke-width="0.62" stroke-linecap="square" opacity="1" d="M155.6 225.8h0M155.2 226.8h0M155.0 226.4h0M155.3 226.3h0M155.1 226.2h0M154.5 226.6h0M155.6 226.9h0M154.7 226.7h0M155.2 226.6h0M155.5 226.6h0M155.1 226.7h0M155.5 227.0h0M154.5 225.9h0M155.0 226.0h0M155.4 225.9h0M158.0 215.6h0M157.3 215.2h0M156.9 215.5h0M157.5 215.6h0M157.5 215.2h0M157.4 215.2h0M157.6 215.9h0M157.3 215.6h0M157.3 215.9h0M156.9 216.1h0M158.0 216.1h0M157.5 215.5h0M156.9 216.2h0M157.4 215.4h0M157.2 215.5h0M156.9 215.6h0M157.4 215.8h0M156.3 235.3h0M155.8 234.6h0M156.5 235.0h0M155.7 235.0h0M156.2 235.3h0M155.8 235.3h0M156.6 234.6h0M155.8 234.8h0M155.9 235.0h0M155.9 234.7h0M156.8 235.2h0M156.4 234.2h0M156.3 234.7h0M156.3 235.4h0M156.0 234.2h0M155.6 235.3h0M156.6 234.8h0M156.8 234.8h0M156.7 234.9h0M156.3 235.3h0M156.4 234.5h0M156.3 234.4h0M156.3 234.8h0M155.7 235.2h0M156.1 234.2h0M156.4 234.8h0M155.9 234.8h0M156.6 235.1h0M157.0 231.6h0M156.8 231.3h0M157.7 230.8h0M157.0 230.9h0M157.3 231.1h0M157.4 230.9h0M157.6 230.9h0M157.2 231.7h0M157.3 231.2h0M157.7 231.4h0M157.3 230.7h0M157.1 231.5h0M157.5 231.4h0M157.2 231.7h0M157.2 231.1h0M157.7 231.0h0M156.8 231.6h0M157.8 230.7h0M156.8 231.5h0M156.9 230.8h0M156.9 231.5h0M157.0 231.1h0M157.1 231.1h0M157.5 230.8h0M155.8 237.5h0M156.6 237.5h0M156.2 237.3h0M156.8 237.2h0M155.8 236.8h0M156.3 237.7h0M156.0 237.6h0M156.0 237.2h0M156.8 237.0h0M156.1 237.5h0M156.2 237.1h0M156.5 237.1h0M156.3 236.8h0M156.1 237.7h0M155.8 237.0h0M155.9 237.2h0M156.1 237.2h0M156.3 236.7h0M155.9 236.7h0M155.9 236.8h0M155.7 237.1h0M156.0 237.3h0M156.0 236.6h0M156.7 237.6h0M156.0 237.3h0M156.5 237.0h0M156.1 236.8h0M156.8 237.8h0M156.1 237.0h0M156.3 236.6h0M156.4 237.4h0M155.7 237.0h0M155.7 236.9h0M156.6 237.2h0M156.2 237.7h0M156.7 237.5h0M156.0 231.4h0M156.5 231.4h0M156.7 231.4h0M156.1 231.7h0M156.5 230.9h0M156.7 231.6h0M155.8 231.3h0M155.7 230.9h0M156.1 230.8h0M156.2 231.1h0M156.8 231.4h0M155.6 231.3h0M155.9 231.3h0M156.1 230.9h0M156.3 231.6h0M156.6 231.5h0M155.7 230.7h0M156.4 230.7h0M155.8 230.6h0M156.1 231.7h0M156.3 231.2h0M156.7 231.1h0M156.1 230.8h0M156.4 231.5h0M155.8 231.4h0M155.7 231.4h0M156.4 231.4h0M156.2 230.6h0M156.2 231.5h0M156.0 230.6h0M156.6 231.4h0M156.0 231.3h0M156.2 230.6h0M156.7 230.9h0M155.8 231.7h0M155.7 230.9h0M156.4 235.6h0M156.1 235.4h0M155.7 235.5h0M155.7 235.9h0M156.1 235.7h0M155.8 236.2h0M156.4 236.3h0M156.6 235.5h0M156.7 235.7h0M156.2 236.1h0M156.5 236.0h0M156.0 236.2h0M156.7 235.4h0M156.1 235.9h0M156.8 236.2h0M156.7 236.1h0M156.5 235.6h0M156.8 235.8h0M156.4 236.0h0M156.6 235.5h0M156.1 236.2h0M155.8 236.4h0M155.7 235.8h0M156.6 235.6h0M156.4 235.7h0M156.4 236.1h0M156.7 235.5h0M156.7 236.4h0M156.6 236.2h0M156.6 236.4h0M156.2 236.5h0M156.2 235.7h0M156.8 236.0h0M154.9 218.5h0M155.4 217.9h0M155.5 217.8h0M155.0 218.0h0M155.5 217.9h0M154.6 217.6h0M155.2 218.2h0M155.3 218.2h0M155.6 218.0h0M154.7 218.2h0M155.5 217.4h0M155.4 218.6h0M155.5 218.1h0M155.5 218.5h0M155.6 217.8h0M155.4 218.6h0M155.1 225.7h0M154.8 225.2h0M154.9 225.3h0M155.5 225.6h0M155.4 225.3h0M155.6 225.2h0M155.5 224.6h0M155.1 225.0h0M154.4 224.9h0M155.6 225.5h0"/>
<path stroke="#35b47e" stroke-width="0.62" stroke-linecap="square" opacity="1" d="M154.9 223.5h0M155.5 224.3h0M155.4 223.7h0M155.5 223.8h0M155.5 224.1h0M154.7 223.5h0M154.7 223.9h0M155.1 223.9h0M154.8 223.8h0M155.4 224.2h0M155.5 223.7h0M155.3 224.5h0M155.5 224.5h0M156.4 216.1h0M156.4 215.2h0M156.1 215.2h0M155.6 215.5h0M156.8 215.2h0M156.6 215.3h0M156.0 215.5h0M156.0 216.0h0M156.8 215.1h0M156.0 215.4h0M156.6 215.9h0M156.6 216.1h0M156.7 216.1h0M156.7 215.1h0M156.7 215.9h0M156.6 215.3h0M156.6 215.5h0M155.7 215.4h0M156.7 215.6h0M156.8 215.6h0M156.3 216.2h0M156.2 215.6h0M156.5 215.6h0M156.1 215.3h0M156.3 215.7h0M155.8 215.2h0M156.4 216.1h0M156.7 215.3h0M156.2 216.1h0M156.1 216.2h0M156.4 215.9h0M156.7 215.8h0M155.8 216.1h0M156.2 215.6h0M155.7 215.0h0M156.3 215.1h0M156.2 216.1h0M156.0 215.9h0M156.4 215.2h0M157.4 230.5h0M157.6 230.5h0M157.5 230.2h0M156.9 230.3h0M157.2 230.4h0M157.9 230.5h0M157.0 230.5h0M157.9 230.0h0M157.6 229.6h0M157.5 229.5h0M157.9 230.3h0M156.8 230.1h0M157.1 229.5h0M157.1 230.5h0M157.0 229.4h0M157.2 230.3h0M157.1 229.6h0M156.9 230.3h0M157.7 229.5h0M157.3 229.6h0M156.9 230.3h0M157.3 230.5h0M157.2 230.1h0M156.9 230.4h0M157.9 230.5h0M157.2 229.8h0M157.6 230.2h0M157.7 229.5h0M157.2 230.0h0M157.6 230.6h0M157.7 229.5h0M157.7 230.1h0M156.9 230.0h0M157.4 229.4h0M157.7 230.2h0M157.1 229.7h0M157.2 229.5h0M157.7 229.7h0M157.3 229.8h0M157.6 229.5h0M157.8 229.6h0M155.3 222.3h0M155.4 222.6h0M155.2 223.2h0M154.5 222.3h0M155.2 222.3h0M155.5 223.1h0M155.5 222.5h0M155.3 223.2h0M154.9 223.3h0M155.0 222.6h0M155.4 222.3h0M155.2 223.0h0M155.2 222.5h0M155.2 222.7h0M155.2 223.2h0M155.5 222.9h0M155.6 221.7h0M155.5 221.5h0M155.0 221.0h0M155.3 221.2h0M155.4 221.9h0M154.9 222.1h0M155.4 222.0h0M155.5 221.3h0M155.4 221.6h0M155.4 221.1h0M155.5 221.4h0M155.0 219.2h0M155.6 219.8h0M155.4 219.7h0M155.2 219.6h0M155.3 218.8h0M155.6 219.1h0M155.6 219.6h0M155.3 219.4h0M155.5 219.2h0M155.5 219.7h0M155.6 219.5h0M155.4 219.6h0M155.2 219.1h0M155.5 219.4h0M154.5 219.4h0M155.1 219.1h0M155.5 218.9h0M155.1 219.6h0M154.6 219.7h0M155.4 218.9h0M154.6 219.1h0M155.2 219.0h0M155.5 219.7h0M155.4 220.0h0M154.9 220.8h0M155.5 220.4h0M155.3 220.3h0M154.9 220.3h0M155.2 219.8h0M155.1 220.7h0M154.8 220.1h0M155.5 220.9h0M155.1 220.5h0M155.6 220.5h0"/>
<path stroke="#3cb95a" stroke-width="0.62" stroke-linecap="square" opacity="1" d="M157.1 217.4h0M156.9 216.8h0M157.1 217.4h0M157.2 216.3h0M157.7 216.5h0M157.8 216.8h0M157.1 216.2h0M157.0 217.3h0M157.3 216.2h0M156.8 216.8h0M157.5 216.8h0M157.0 216.6h0M156.8 217.2h0M156.9 216.6h0M157.0 217.3h0M157.0 216.9h0M157.7 216.3h0M156.8 216.6h0M157.0 217.2h0M156.9 217.1h0M156.9 217.0h0M157.2 216.8h0M157.8 216.9h0M157.1 217.4h0M157.5 216.8h0M157.0 217.2h0M157.0 216.9h0M156.9 216.6h0M157.5 217.1h0M157.1 216.4h0M157.1 217.3h0M156.8 217.3h0M157.1 216.4h0M157.2 217.0h0M157.1 216.4h0M156.1 230.4h0M156.7 230.1h0M156.6 230.2h0M156.7 230.3h0M156.8 230.4h0M156.5 230.0h0M156.1 230.4h0M156.1 229.7h0M156.1 229.5h0M156.7 230.2h0M156.4 230.1h0M156.0 229.9h0M156.4 229.8h0M155.9 230.4h0M155.7 229.4h0M155.9 229.8h0M156.7 230.1h0M155.9 230.0h0M155.6 230.3h0M156.1 230.0h0M156.6 229.7h0M156.2 230.3h0M156.6 230.2h0M156.3 230.6h0M156.0 230.6h0M156.0 230.0h0M155.9 229.7h0M156.3 230.2h0M156.5 230.0h0M156.0 230.1h0M157.1 229.3h0M157.1 229.0h0M156.9 228.7h0M156.9 229.2h0M157.4 229.0h0M157.2 228.9h0M157.7 228.8h0M157.2 229.3h0M157.6 228.6h0M157.2 228.5h0M157.1 229.2h0M157.0 228.9h0M157.7 228.5h0M157.0 228.3h0M157.4 229.1h0M157.7 229.3h0M157.5 228.3h0M156.9 228.2h0M158.0 228.6h0M157.0 228.6h0M157.7 228.7h0M157.6 228.4h0M156.9 228.5h0M157.4 228.3h0M157.1 229.4h0M157.0 228.6h0M157.0 229.1h0M157.2 228.5h0M156.9 228.6h0M157.1 228.5h0M157.2 228.8h0M157.2 229.0h0M157.8 228.4h0M157.2 229.0h0M156.9 229.4h0M157.3 228.1h0M157.5 227.3h0M156.9 228.2h0M157.4 227.5h0M157.9 227.9h0M157.6 227.6h0M157.7 227.8h0M156.9 228.0h0M157.0 227.5h0M157.3 227.9h0M157.3 227.5h0M157.1 227.7h0M157.2 227.5h0M157.7 227.1h0M156.9 228.1h0M157.5 227.1h0M157.0 227.4h0M156.8 228.0h0M157.0 227.1h0M157.3 227.6h0M157.1 227.2h0M157.0 227.4h0M157.3 227.9h0M157.6 227.7h0M157.6 227.3h0"/>
<path stroke="#59be49" stroke-width="0.62" stroke-linecap="square" opacity="1" d="M156.3 229.1h0M155.9 228.9h0M156.5 228.8h0M156.7 229.1h0M156.6 228.4h0M156.7 228.9h0M155.8 228.5h0M156.7 228.8h0M156.3 228.5h0M155.8 229.1h0M156.1 229.2h0M156.4 229.0h0M156.3 228.9h0M156.3 228.9h0M156.2 228.6h0M155.7 228.3h0M156.5 228.8h0M156.3 229.2h0M156.8 229.1h0M156.6 228.2h0M156.0 229.2h0M156.6 229.0h0M156.2 228.6h0M156.1 228.6h0M156.6 228.7h0M156.5 228.6h0M156.0 228.5h0M156.5 228.7h0M155.8 229.2h0M156.7 228.8h0M156.4 229.1h0M156.1 229.0h0M156.6 228.8h0M156.0 228.9h0M156.3 229.1h0M156.7 228.8h0M156.1 228.7h0M156.2 229.2h0M156.1 228.4h0M156.6 229.0h0M156.4 228.3h0M156.5 229.0h0M155.7 229.3h0M155.7 216.7h0M156.8 216.7h0M155.9 217.2h0M156.5 216.5h0M156.0 217.3h0M155.9 216.8h0M156.4 216.3h0M156.7 216.7h0M156.5 216.2h0M156.7 217.3h0M155.8 216.9h0M156.3 216.6h0M156.7 216.6h0M156.2 217.0h0M155.7 217.1h0M156.2 216.9h0M156.3 216.3h0M156.5 216.7h0M156.3 216.3h0M156.8 217.0h0M156.5 217.3h0M156.2 217.1h0M156.1 217.2h0M156.8 217.1h0M155.9 217.2h0M156.3 216.3h0M155.9 217.1h0M156.5 217.2h0M156.7 217.3h0M156.7 216.9h0M156.1 216.9h0M156.8 216.3h0M156.6 216.9h0M156.8 216.8h0M156.5 216.2h0M156.3 216.8h0M156.6 216.3h0M156.0 217.2h0M156.3 217.2h0M156.0 216.2h0M156.4 216.6h0M155.7 217.2h0M156.5 216.3h0M156.5 216.7h0M156.0 216.9h0M157.4 226.4h0M157.0 225.9h0M157.4 226.7h0M156.9 226.3h0M157.7 226.1h0M156.9 226.5h0M157.8 226.6h0M157.5 226.2h0M156.9 225.8h0M157.0 226.6h0M157.6 226.2h0M157.0 226.5h0M156.8 226.2h0M156.9 226.8h0M157.3 226.9h0M156.8 226.5h0M157.2 226.4h0M157.9 226.2h0M157.5 226.0h0M157.9 226.7h0M156.9 226.6h0M157.3 226.4h0M157.0 226.5h0M157.2 225.9h0M157.2 226.0h0M158.0 226.6h0M157.3 225.8h0M157.7 226.5h0M157.4 226.1h0M157.6 226.2h0M156.9 226.9h0M157.2 225.8h0M157.5 226.8h0M157.1 226.3h0M157.4 226.2h0M156.8 225.9h0M157.4 226.6h0M157.3 225.9h0M157.9 217.9h0M157.4 218.6h0M156.9 218.2h0M156.9 217.8h0M157.3 218.6h0M157.4 218.3h0M157.0 217.4h0M157.9 218.4h0M157.4 218.5h0M157.2 217.5h0M156.9 217.6h0M157.4 217.7h0M157.5 217.5h0M157.2 217.5h0M157.9 217.8h0M157.4 217.6h0M156.9 217.9h0M157.3 218.3h0M156.8 218.0h0M157.4 218.1h0M157.9 217.6h0M157.8 217.8h0M157.0 217.6h0M157.6 217.5h0M157.9 218.4h0M157.0 217.7h0M157.2 218.2h0M157.6 217.9h0M157.1 218.2h0M156.9 218.3h0M157.0 218.0h0M156.9 217.5h0M157.2 218.5h0"/>
<path stroke="#78c338" stroke-width="0.62" stroke-linecap="square" opacity="1" d="M156.5 227.3h0M155.9 227.7h0M156.4 227.2h0M156.3 227.2h0M156.2 227.8h0M156.7 228.0h0M155.9 227.5h0M156.3 228.1h0M155.6 227.7h0M156.1 227.3h0M156.6 227.4h0M156.7 227.6h0M155.9 228.1h0M155.9 227.2h0M155.9 227.2h0M156.3 228.1h0M156.5 227.1h0M156.1 227.1h0M156.5 227.9h0M156.5 228.0h0M156.5 227.7h0M156.5 227.1h0M156.6 228.1h0M156.3 227.6h0M156.6 227.2h0M155.7 227.6h0M156.5 227.1h0M156.8 227.4h0M156.8 227.2h0M156.7 227.3h0M155.9 227.3h0M156.1 227.4h0M155.8 228.0h0M156.5 227.9h0M156.7 227.4h0M155.9 227.9h0M156.0 228.0h0M156.2 227.1h0M155.6 228.1h0M155.9 227.1h0M156.6 227.7h0M156.1 228.1h0M155.9 227.8h0M156.2 227.2h0M155.9 227.4h0M156.7 227.7h0M156.3 227.3h0M156.1 227.6h0M155.9 227.1h0M156.0 227.1h0M156.9 224.6h0M157.6 224.9h0M157.0 225.3h0M157.4 225.6h0M157.9 224.7h0M157.3 225.6h0M157.1 225.6h0M157.4 224.9h0M156.9 225.0h0M158.0 225.3h0M157.1 225.0h0M157.6 225.6h0M156.8 224.8h0M156.8 224.9h0M157.5 225.5h0M157.1 225.7h0M157.2 224.7h0M157.6 225.5h0M157.9 225.6h0M157.1 224.9h0M157.4 225.6h0M157.0 225.5h0M157.5 224.7h0M156.9 224.6h0M157.0 225.3h0M157.4 224.9h0M157.7 224.9h0M157.3 224.7h0M157.2 225.6h0M157.2 225.3h0M157.1 224.9h0M157.3 225.4h0M156.9 225.0h0M157.6 225.0h0M157.1 224.7h0M157.3 225.0h0M157.4 225.7h0M156.9 225.0h0M157.5 224.7h0M156.9 224.9h0M157.0 224.2h0M156.9 224.4h0M157.5 224.1h0M157.5 224.5h0M157.1 223.7h0M157.1 224.4h0M157.7 223.5h0M157.4 224.2h0M157.4 223.7h0M157.3 223.6h0M157.6 224.3h0M157.9 223.8h0M157.1 223.6h0M157.3 224.0h0M156.9 223.7h0M156.8 224.2h0M156.9 224.5h0M157.3 224.2h0M157.4 223.8h0M157.7 223.9h0M157.1 223.8h0M157.6 224.4h0M157.2 223.6h0M157.6 224.3h0M156.9 224.1h0M157.9 224.0h0M157.6 223.8h0M157.2 224.6h0M156.9 223.7h0M157.5 224.6h0M157.2 224.5h0M157.1 224.5h0M157.2 224.0h0"/>
<path stroke="#96c828" stroke-width="0.62" stroke-linecap="square" opacity="1" d="M156.4 226.2h0M155.7 225.9h0M155.7 225.9h0M156.6 226.4h0M156.6 226.3h0M156.5 226.0h0M156.3 226.0h0M156.4 226.6h0M156.8 226.3h0M156.1 226.8h0M156.4 225.8h0M156.6 226.4h0M156.6 226.6h0M155.8 226.2h0M156.6 226.8h0M156.3 226.8h0M156.4 226.2h0M155.9 226.5h0M156.7 226.2h0M155.8 226.1h0M156.8 226.4h0M156.7 226.7h0M156.2 226.6h0M155.7 226.9h0M156.7 226.8h0M156.6 226.6h0M155.9 226.3h0M156.7 226.4h0M156.7 226.3h0M156.3 226.3h0M156.5 226.9h0M156.2 226.6h0M155.8 226.2h0M156.4 226.8h0M156.5 226.1h0M156.4 226.2h0M156.6 226.5h0M155.8 226.9h0M156.1 226.1h0M155.8 226.6h0M156.2 226.5h0M156.2 226.1h0M155.7 225.9h0M156.4 225.9h0M156.6 226.0h0M156.4 226.1h0M157.4 219.2h0M156.9 219.0h0M157.5 219.0h0M157.3 219.7h0M157.7 219.4h0M157.4 218.7h0M157.1 218.9h0M157.8 218.8h0M157.3 219.7h0M157.0 219.4h0M157.8 218.7h0M157.3 219.6h0M156.9 219.2h0M156.9 218.7h0M157.7 218.9h0M156.9 219.6h0M157.9 219.6h0M157.8 218.8h0M156.9 219.6h0M157.3 218.7h0M157.0 219.3h0M156.9 218.7h0M157.0 219.2h0M157.4 218.8h0M156.9 218.7h0M156.8 219.4h0M157.0 219.7h0M157.2 218.7h0M157.4 219.4h0M157.6 219.2h0M157.0 219.7h0M157.2 219.6h0M157.1 218.8h0M157.1 219.2h0M157.3 219.2h0M157.4 219.7h0M157.2 219.7h0M156.9 219.7h0M157.7 219.7h0M157.5 219.1h0M157.5 219.3h0M157.0 219.5h0M156.8 218.6h0M157.0 219.1h0M157.3 219.2h0M157.7 219.8h0M155.7 217.7h0M155.7 217.7h0M156.0 217.7h0M155.6 218.5h0M156.6 218.1h0M156.0 218.1h0M156.3 217.9h0M156.5 217.8h0M155.9 218.1h0M156.2 217.6h0M156.6 217.7h0M156.7 217.6h0M156.3 217.7h0M155.9 218.4h0M156.4 217.9h0M156.2 218.0h0M155.9 217.8h0M156.7 217.8h0M156.0 218.3h0M156.0 218.4h0M155.8 217.7h0M156.0 218.5h0M156.0 217.6h0M156.1 217.7h0M155.8 218.4h0M156.3 217.6h0M156.8 218.6h0M156.4 218.4h0M156.6 218.4h0M156.1 218.3h0M156.7 218.0h0M156.2 218.2h0M156.5 218.4h0M156.3 217.7h0M156.6 217.5h0M155.7 217.8h0M156.2 218.2h0M155.7 218.3h0M156.3 218.5h0M155.9 217.5h0M155.7 217.9h0M155.9 218.3h0M156.2 217.5h0M155.7 217.5h0M157.5 222.2h0M157.7 223.1h0M157.2 222.7h0M157.0 223.3h0M157.9 223.0h0M157.3 222.3h0M157.6 222.7h0M157.2 222.5h0M157.3 223.0h0M157.3 223.0h0M156.8 222.6h0M157.6 223.0h0M157.2 222.6h0M157.3 222.4h0M157.7 223.2h0M157.4 223.0h0M157.2 222.9h0M157.8 222.3h0M156.8 223.1h0M157.7 222.5h0M157.1 222.3h0M157.1 222.3h0M157.3 222.3h0M156.9 223.2h0M157.5 223.1h0M157.1 222.4h0M157.3 223.2h0M157.4 222.9h0M157.9 223.4h0M157.4 222.6h0M156.9 222.3h0M156.9 222.5h0M157.0 222.9h0M157.1 223.1h0M157.9 222.3h0M157.7 223.4h0M157.0 222.7h0M157.3 222.7h0M157.8 222.5h0M157.6 222.7h0"/>
<path stroke="#bbc823" stroke-width="0.62" stroke-linecap="square" opacity="1" d="M156.5 224.7h0M156.3 225.3h0M156.1 224.7h0M155.6 225.6h0M156.3 225.6h0M155.8 224.6h0M155.8 225.2h0M156.7 225.3h0M156.2 225.0h0M156.1 225.1h0M156.3 225.3h0M156.0 225.0h0M155.8 225.3h0M156.5 225.0h0M156.5 225.3h0M155.8 224.9h0M155.7 225.3h0M156.7 224.7h0M156.3 225.6h0M155.9 225.3h0M156.4 225.0h0M156.7 224.8h0M156.3 224.6h0M155.9 225.2h0M156.8 225.2h0M156.5 224.9h0M155.8 225.8h0M156.7 225.6h0M156.5 224.7h0M156.2 224.6h0M156.2 224.9h0M156.4 225.4h0M156.4 224.7h0M155.9 224.8h0M156.5 225.2h0M156.8 224.8h0M156.0 224.7h0M155.8 225.0h0M155.9 225.1h0M156.0 225.3h0M156.2 225.0h0M156.4 225.4h0M156.5 224.9h0M156.4 225.6h0M156.2 224.7h0M155.7 224.7h0M156.4 224.7h0M156.5 224.8h0M156.2 225.3h0M156.1 225.5h0M156.2 225.3h0M156.8 225.8h0M156.2 225.3h0M156.3 224.6h0M155.8 225.5h0M156.3 225.6h0M156.6 225.6h0M155.7 225.0h0M156.1 225.4h0M156.1 225.7h0M157.7 220.1h0M157.0 220.0h0M156.8 220.6h0M156.8 220.6h0M157.6 220.8h0M157.1 220.0h0M157.3 220.8h0M156.9 219.9h0M156.8 220.6h0M157.0 220.5h0M157.7 220.2h0M157.2 220.6h0M157.4 220.6h0M156.9 220.7h0M157.0 220.5h0M157.3 220.2h0M157.2 220.9h0M158.0 220.4h0M157.3 220.9h0M157.5 220.3h0M157.0 220.1h0M157.2 221.0h0M157.0 220.7h0M158.0 220.9h0M157.3 220.0h0M157.0 220.2h0M157.6 220.0h0M156.9 220.8h0M157.1 219.9h0M157.6 220.2h0M157.2 220.7h0M157.5 220.9h0M157.0 220.0h0M157.3 220.3h0M156.8 220.0h0M157.1 219.9h0M156.9 220.2h0M157.4 220.3h0M158.0 220.2h0M157.8 220.3h0M157.4 220.9h0M157.7 219.9h0M156.9 220.0h0M157.4 220.0h0M157.1 219.9h0M157.5 220.0h0M157.3 220.7h0M156.9 220.4h0M157.8 222.1h0M156.9 221.3h0M157.3 222.0h0M156.9 222.1h0M157.2 221.1h0M157.2 222.1h0M157.3 222.2h0M156.8 221.3h0M157.1 221.3h0M157.4 221.8h0M157.4 221.1h0M156.8 222.2h0M157.2 222.1h0M157.4 221.3h0M157.7 221.3h0M157.6 221.5h0M156.9 221.6h0M157.8 221.2h0M157.3 221.4h0M157.0 221.8h0M157.1 221.5h0M157.4 221.3h0M157.9 221.6h0M156.9 221.1h0M157.3 221.4h0M157.4 221.2h0M157.5 221.5h0M156.9 222.1h0M157.4 221.7h0M156.9 222.0h0M156.9 221.8h0M157.5 221.5h0M157.4 221.6h0M157.0 221.1h0M156.9 221.8h0M157.7 221.8h0M157.5 221.3h0M156.9 221.9h0M157.1 221.7h0M157.9 221.7h0M156.9 222.1h0M156.8 221.2h0M157.7 222.0h0M157.4 221.1h0M157.5 221.1h0M157.5 221.6h0M157.2 221.7h0M157.0 221.9h0M155.9 224.4h0M155.7 223.9h0M156.8 223.4h0M156.6 224.0h0M156.4 224.1h0M156.7 223.6h0M156.1 224.0h0M156.0 224.4h0M156.5 224.5h0M156.7 223.5h0M156.7 224.1h0M156.4 224.1h0M156.3 224.3h0M156.5 223.9h0M156.1 224.1h0M156.6 224.1h0M156.0 224.6h0M156.7 223.8h0M156.7 223.7h0M156.5 224.2h0M156.1 224.1h0M156.1 223.8h0M156.8 224.2h0M156.4 224.2h0M156.5 223.7h0M155.6 223.5h0M156.4 223.6h0M156.4 224.0h0M156.4 224.4h0M156.1 223.7h0M156.4 224.5h0M156.5 224.2h0M156.1 224.1h0M156.0 223.6h0M156.1 223.8h0M156.7 223.4h0M156.2 223.7h0M155.8 224.3h0M156.2 223.5h0M155.9 223.5h0M156.4 224.6h0M156.4 223.5h0M156.1 223.4h0M156.7 224.3h0M156.4 224.5h0M156.8 223.7h0M156.7 224.4h0M156.5 224.3h0M155.6 223.9h0M156.1 224.3h0M156.2 224.1h0M155.7 224.1h0M156.4 224.2h0M156.5 223.4h0M155.9 223.9h0M155.9 223.8h0"/>
<path stroke="#e1c81f" stroke-width="0.62" stroke-linecap="square" opacity="1" d="M156.2 219.6h0M156.2 219.1h0M156.7 219.7h0M155.8 219.2h0M156.4 219.1h0M156.6 219.1h0M156.5 219.3h0M156.6 219.3h0M155.6 219.7h0M156.4 219.1h0M156.2 218.8h0M155.7 218.7h0M156.3 219.3h0M156.1 219.3h0M156.8 219.5h0M156.5 219.2h0M156.7 219.1h0M156.7 219.1h0M156.6 219.4h0M156.2 218.9h0M156.1 218.7h0M156.1 219.6h0M155.7 219.2h0M155.9 219.4h0M156.7 218.8h0M156.8 218.8h0M156.2 219.2h0M156.2 219.2h0M156.4 218.6h0M156.6 219.2h0M156.3 218.7h0M155.9 218.8h0M156.1 218.6h0M156.4 219.5h0M156.3 218.8h0M156.1 218.6h0M156.6 219.6h0M155.9 219.5h0M156.7 219.7h0M156.3 219.6h0M156.3 219.3h0M156.2 219.6h0M156.3 219.4h0M156.5 219.0h0M156.1 219.6h0M156.3 219.1h0M155.7 219.7h0M156.4 219.3h0M156.8 219.0h0M156.7 219.1h0M156.6 219.4h0M155.9 218.8h0M156.0 219.7h0M155.8 218.8h0M155.8 219.1h0M156.4 219.0h0M156.5 219.6h0M156.6 218.8h0M156.2 219.4h0M156.3 219.7h0M155.6 219.8h0M156.5 222.9h0M156.5 222.8h0M156.6 222.8h0M156.5 222.6h0M156.6 222.8h0M156.5 223.2h0M156.4 222.7h0M156.2 223.2h0M156.2 223.0h0M156.2 223.3h0M156.5 222.4h0M156.3 223.2h0M156.1 223.4h0M156.4 222.3h0M156.3 223.2h0M156.2 222.6h0M156.2 222.8h0M156.5 222.5h0M156.7 223.4h0M156.7 222.8h0M156.7 222.9h0M156.0 222.7h0M156.2 222.9h0M155.9 222.2h0M156.7 223.3h0M156.7 223.4h0M156.1 222.3h0M156.1 222.7h0M156.0 223.2h0M156.3 223.3h0M156.3 222.6h0M156.3 222.6h0M156.5 223.1h0M156.5 223.2h0M156.2 223.1h0M156.5 223.4h0M156.8 223.0h0M156.5 223.3h0M156.7 222.7h0M156.7 222.6h0M156.3 223.0h0M155.9 223.2h0M156.1 222.8h0M156.6 222.3h0M156.4 223.0h0M156.6 222.7h0M156.5 222.5h0M156.0 222.4h0M156.1 222.7h0M156.7 222.2h0M156.1 222.8h0M156.7 222.4h0M156.3 223.2h0M156.7 223.3h0M156.3 222.4h0M155.9 222.5h0M156.1 222.5h0M155.7 222.8h0M155.8 222.4h0M155.7 222.8h0M156.5 222.3h0M156.2 223.4h0M156.5 223.3h0M156.4 222.4h0M156.3 222.9h0M156.0 222.7h0M156.6 220.5h0M156.5 220.4h0M156.2 220.7h0M155.8 220.6h0M156.7 219.9h0M156.5 220.5h0M155.6 220.8h0M156.3 220.2h0M156.6 220.9h0M155.7 220.0h0M156.5 220.0h0M156.3 220.1h0M155.8 220.3h0M155.9 220.5h0M156.7 220.1h0M156.6 220.1h0M156.1 220.6h0M156.1 219.9h0M156.2 219.8h0M156.8 219.9h0M156.3 220.5h0M156.4 220.1h0M156.1 220.1h0M156.4 220.0h0M155.7 219.9h0M156.8 220.3h0M156.3 219.9h0M156.2 220.1h0M156.5 219.9h0M156.4 220.2h0M156.5 220.9h0M156.2 220.5h0M156.7 220.6h0M156.0 220.4h0M156.7 219.9h0M156.7 220.2h0M156.7 220.3h0M155.7 219.9h0M156.2 220.3h0M156.6 220.5h0M156.6 220.9h0M156.7 220.4h0M156.1 220.7h0M156.2 220.6h0M156.5 220.4h0M156.6 220.6h0M156.5 220.6h0M156.1 220.2h0M155.9 219.9h0M156.2 220.2h0M156.1 220.7h0M156.4 220.9h0M156.6 219.9h0M156.7 220.1h0M156.5 220.4h0M156.6 220.1h0M156.7 219.9h0"/>
<path stroke="#f0b01e" stroke-width="0.62" stroke-linecap="square" opacity="1" d="M156.4 221.8h0M156.6 221.3h0M156.3 221.9h0M156.7 221.3h0M156.2 221.0h0M156.5 221.3h0M156.1 221.2h0M156.4 221.6h0M156.1 221.9h0M156.8 221.8h0M156.6 221.8h0M156.3 221.5h0M156.2 221.7h0M155.9 222.0h0M155.8 221.8h0M156.3 222.2h0M156.4 221.1h0M156.6 221.3h0M156.8 221.5h0M156.1 221.6h0M156.3 221.9h0M156.2 221.1h0M155.8 221.1h0M156.6 221.6h0M156.1 222.0h0M156.6 221.3h0M156.6 221.6h0M156.8 221.7h0M156.8 221.4h0M156.3 221.6h0M156.2 221.2h0M155.7 222.0h0M156.3 221.3h0M156.5 221.1h0M155.9 221.5h0M156.1 221.5h0M156.1 221.6h0M156.1 221.9h0M156.4 221.5h0M156.6 221.7h0M156.4 221.2h0M156.3 221.2h0M156.0 221.5h0M156.1 222.1h0M156.5 221.7h0M156.1 221.6h0M156.5 221.2h0M156.0 222.2h0M156.5 221.9h0M156.7 221.0h0M156.3 221.2h0M156.6 221.0h0M156.6 222.2h0M156.0 221.6h0M156.0 221.9h0M156.7 221.2h0M156.3 221.4h0M156.6 221.5h0M156.4 221.0h0M156.6 222.1h0M156.1 221.5h0M156.6 222.1h0"/>
<rect x="39.4" y="181.6" width="87.8" height="87.4" fill="none" stroke="#222" stroke-width="1.1"/>
<line x1="38.1" y1="195.18" x2="39.4" y2="195.18" stroke="#222" stroke-width="0.5"/>
<line x1="38.1" y1="191.83" x2="39.4" y2="191.83" stroke="#222" stroke-width="0.5"/>
<line x1="38.1" y1="189.46" x2="39.4" y2="189.46" stroke="#222" stroke-width="0.5"/>
<line x1="38.1" y1="187.62" x2="39.4" y2="187.62" stroke="#222" stroke-width="0.5"/>
<line x1="38.1" y1="186.12" x2="39.4" y2="186.12" stroke="#222" stroke-width="0.5"/>
<line x1="38.1" y1="184.84" x2="39.4" y2="184.84" stroke="#222" stroke-width="0.5"/>
<line x1="38.1" y1="183.74" x2="39.4" y2="183.74" stroke="#222" stroke-width="0.5"/>
<line x1="38.1" y1="182.77" x2="39.4" y2="182.77" stroke="#222" stroke-width="0.5"/>
<line x1="38.1" y1="214.18" x2="39.4" y2="214.18" stroke="#222" stroke-width="0.5"/>
<line x1="38.1" y1="210.83" x2="39.4" y2="210.83" stroke="#222" stroke-width="0.5"/>
<line x1="38.1" y1="208.46" x2="39.4" y2="208.46" stroke="#222" stroke-width="0.5"/>
<line x1="38.1" y1="206.62" x2="39.4" y2="206.62" stroke="#222" stroke-width="0.5"/>
<line x1="38.1" y1="205.12" x2="39.4" y2="205.12" stroke="#222" stroke-width="0.5"/>
<line x1="38.1" y1="203.84" x2="39.4" y2="203.84" stroke="#222" stroke-width="0.5"/>
<line x1="38.1" y1="202.74" x2="39.4" y2="202.74" stroke="#222" stroke-width="0.5"/>
<line x1="38.1" y1="201.77" x2="39.4" y2="201.77" stroke="#222" stroke-width="0.5"/>
<line x1="37.2" y1="181.9" x2="39.4" y2="181.9" stroke="#222" stroke-width="0.7"/>
<line x1="37.2" y1="200.9" x2="39.4" y2="200.9" stroke="#222" stroke-width="0.7"/>
<line x1="37.2" y1="219.9" x2="39.4" y2="219.9" stroke="#222" stroke-width="0.7"/>
<line x1="37.2" y1="241.6" x2="39.4" y2="241.6" stroke="#222" stroke-width="0.7"/>
<line x1="38.1" y1="224.9" x2="39.4" y2="224.9" stroke="#222" stroke-width="0.5"/>
<line x1="38.1" y1="229.9" x2="39.4" y2="229.9" stroke="#222" stroke-width="0.5"/>
<line x1="38.1" y1="234.9" x2="39.4" y2="234.9" stroke="#222" stroke-width="0.5"/>
<line x1="38.1" y1="247.6" x2="39.4" y2="247.6" stroke="#222" stroke-width="0.5"/>
<line x1="38.1" y1="253.6" x2="39.4" y2="253.6" stroke="#222" stroke-width="0.5"/>
<line x1="38.1" y1="259.6" x2="39.4" y2="259.6" stroke="#222" stroke-width="0.5"/>
<line x1="38.1" y1="265.6" x2="39.4" y2="265.6" stroke="#222" stroke-width="0.5"/>
<text x="35.8" y="184.7" font-size="8.2" fill="#2a2a2a" text-anchor="end">10<tspan font-size="5.6" dy="-3.2">6</tspan></text>
<text x="35.8" y="203.7" font-size="8.2" fill="#2a2a2a" text-anchor="end">10<tspan font-size="5.6" dy="-3.2">5</tspan></text>
<text x="35.8" y="222.7" font-size="8.2" fill="#2a2a2a" text-anchor="end">10<tspan font-size="5.6" dy="-3.2">4</tspan></text>
<text x="31.5" y="244.4" font-size="8.2" text-anchor="middle" fill="#2a2a2a">0</text>
<line x1="82.67" y1="269" x2="82.67" y2="270.3" stroke="#222" stroke-width="0.5"/>
<line x1="85.75" y1="269" x2="85.75" y2="270.3" stroke="#222" stroke-width="0.5"/>
<line x1="87.94" y1="269" x2="87.94" y2="270.3" stroke="#222" stroke-width="0.5"/>
<line x1="89.63" y1="269" x2="89.63" y2="270.3" stroke="#222" stroke-width="0.5"/>
<line x1="91.02" y1="269" x2="91.02" y2="270.3" stroke="#222" stroke-width="0.5"/>
<line x1="92.19" y1="269" x2="92.19" y2="270.3" stroke="#222" stroke-width="0.5"/>
<line x1="93.2" y1="269" x2="93.2" y2="270.3" stroke="#222" stroke-width="0.5"/>
<line x1="94.1" y1="269" x2="94.1" y2="270.3" stroke="#222" stroke-width="0.5"/>
<line x1="99.78" y1="269" x2="99.78" y2="270.3" stroke="#222" stroke-width="0.5"/>
<line x1="102.63" y1="269" x2="102.63" y2="270.3" stroke="#222" stroke-width="0.5"/>
<line x1="104.65" y1="269" x2="104.65" y2="270.3" stroke="#222" stroke-width="0.5"/>
<line x1="106.22" y1="269" x2="106.22" y2="270.3" stroke="#222" stroke-width="0.5"/>
<line x1="107.51" y1="269" x2="107.51" y2="270.3" stroke="#222" stroke-width="0.5"/>
<line x1="108.59" y1="269" x2="108.59" y2="270.3" stroke="#222" stroke-width="0.5"/>
<line x1="109.53" y1="269" x2="109.53" y2="270.3" stroke="#222" stroke-width="0.5"/>
<line x1="110.36" y1="269" x2="110.36" y2="270.3" stroke="#222" stroke-width="0.5"/>
<line x1="115.92" y1="269" x2="115.92" y2="270.3" stroke="#222" stroke-width="0.5"/>
<line x1="118.73" y1="269" x2="118.73" y2="270.3" stroke="#222" stroke-width="0.5"/>
<line x1="120.73" y1="269" x2="120.73" y2="270.3" stroke="#222" stroke-width="0.5"/>
<line x1="122.28" y1="269" x2="122.28" y2="270.3" stroke="#222" stroke-width="0.5"/>
<line x1="123.55" y1="269" x2="123.55" y2="270.3" stroke="#222" stroke-width="0.5"/>
<line x1="124.62" y1="269" x2="124.62" y2="270.3" stroke="#222" stroke-width="0.5"/>
<line x1="125.55" y1="269" x2="125.55" y2="270.3" stroke="#222" stroke-width="0.5"/>
<line x1="126.37" y1="269" x2="126.37" y2="270.3" stroke="#222" stroke-width="0.5"/>
<line x1="61.6" y1="269" x2="61.6" y2="271.2" stroke="#222" stroke-width="0.7"/>
<line x1="77.4" y1="269" x2="77.4" y2="271.2" stroke="#222" stroke-width="0.7"/>
<line x1="94.9" y1="269" x2="94.9" y2="271.2" stroke="#222" stroke-width="0.7"/>
<line x1="111.1" y1="269" x2="111.1" y2="271.2" stroke="#222" stroke-width="0.7"/>
<line x1="127.1" y1="269" x2="127.1" y2="271.2" stroke="#222" stroke-width="0.7"/>
<line x1="43.6" y1="269" x2="43.6" y2="270.3" stroke="#222" stroke-width="0.5"/>
<line x1="49.6" y1="269" x2="49.6" y2="270.3" stroke="#222" stroke-width="0.5"/>
<line x1="55.6" y1="269" x2="55.6" y2="270.3" stroke="#222" stroke-width="0.5"/>
<line x1="66.6" y1="269" x2="66.6" y2="270.3" stroke="#222" stroke-width="0.5"/>
<line x1="71.6" y1="269" x2="71.6" y2="270.3" stroke="#222" stroke-width="0.5"/>
<text x="61.6" y="281.4" font-size="8" text-anchor="middle" fill="#2a2a2a">0</text>
<text x="78.7" y="281.4" font-size="8.0" fill="#2a2a2a" text-anchor="middle">10<tspan font-size="5.5" dy="-3.2">4</tspan></text>
<text x="96.2" y="281.4" font-size="8.0" fill="#2a2a2a" text-anchor="middle">10<tspan font-size="5.5" dy="-3.2">5</tspan></text>
<text x="112.4" y="281.4" font-size="8.0" fill="#2a2a2a" text-anchor="middle">10<tspan font-size="5.5" dy="-3.2">6</tspan></text>
<text x="128.4" y="281.4" font-size="8.0" fill="#2a2a2a" text-anchor="middle">10<tspan font-size="5.5" dy="-3.2">7</tspan></text>
<rect x="135.2" y="181.4" width="88" height="88.2" fill="none" stroke="#222" stroke-width="1.1"/>
<line x1="133.9" y1="194.98" x2="135.2" y2="194.98" stroke="#222" stroke-width="0.5"/>
<line x1="133.9" y1="191.63" x2="135.2" y2="191.63" stroke="#222" stroke-width="0.5"/>
<line x1="133.9" y1="189.26" x2="135.2" y2="189.26" stroke="#222" stroke-width="0.5"/>
<line x1="133.9" y1="187.42" x2="135.2" y2="187.42" stroke="#222" stroke-width="0.5"/>
<line x1="133.9" y1="185.92" x2="135.2" y2="185.92" stroke="#222" stroke-width="0.5"/>
<line x1="133.9" y1="184.64" x2="135.2" y2="184.64" stroke="#222" stroke-width="0.5"/>
<line x1="133.9" y1="183.54" x2="135.2" y2="183.54" stroke="#222" stroke-width="0.5"/>
<line x1="133.9" y1="182.57" x2="135.2" y2="182.57" stroke="#222" stroke-width="0.5"/>
<line x1="133.9" y1="213.98" x2="135.2" y2="213.98" stroke="#222" stroke-width="0.5"/>
<line x1="133.9" y1="210.63" x2="135.2" y2="210.63" stroke="#222" stroke-width="0.5"/>
<line x1="133.9" y1="208.26" x2="135.2" y2="208.26" stroke="#222" stroke-width="0.5"/>
<line x1="133.9" y1="206.42" x2="135.2" y2="206.42" stroke="#222" stroke-width="0.5"/>
<line x1="133.9" y1="204.92" x2="135.2" y2="204.92" stroke="#222" stroke-width="0.5"/>
<line x1="133.9" y1="203.64" x2="135.2" y2="203.64" stroke="#222" stroke-width="0.5"/>
<line x1="133.9" y1="202.54" x2="135.2" y2="202.54" stroke="#222" stroke-width="0.5"/>
<line x1="133.9" y1="201.57" x2="135.2" y2="201.57" stroke="#222" stroke-width="0.5"/>
<line x1="133" y1="181.7" x2="135.2" y2="181.7" stroke="#222" stroke-width="0.7"/>
<line x1="133" y1="200.7" x2="135.2" y2="200.7" stroke="#222" stroke-width="0.7"/>
<line x1="133" y1="219.7" x2="135.2" y2="219.7" stroke="#222" stroke-width="0.7"/>
<line x1="133" y1="241.4" x2="135.2" y2="241.4" stroke="#222" stroke-width="0.7"/>
<line x1="133.9" y1="224.7" x2="135.2" y2="224.7" stroke="#222" stroke-width="0.5"/>
<line x1="133.9" y1="229.7" x2="135.2" y2="229.7" stroke="#222" stroke-width="0.5"/>
<line x1="133.9" y1="234.7" x2="135.2" y2="234.7" stroke="#222" stroke-width="0.5"/>
<line x1="133.9" y1="247.4" x2="135.2" y2="247.4" stroke="#222" stroke-width="0.5"/>
<line x1="133.9" y1="253.4" x2="135.2" y2="253.4" stroke="#222" stroke-width="0.5"/>
<line x1="133.9" y1="259.4" x2="135.2" y2="259.4" stroke="#222" stroke-width="0.5"/>
<line x1="133.9" y1="265.4" x2="135.2" y2="265.4" stroke="#222" stroke-width="0.5"/>
<line x1="177.87" y1="269.6" x2="177.87" y2="270.9" stroke="#222" stroke-width="0.5"/>
<line x1="180.95" y1="269.6" x2="180.95" y2="270.9" stroke="#222" stroke-width="0.5"/>
<line x1="183.14" y1="269.6" x2="183.14" y2="270.9" stroke="#222" stroke-width="0.5"/>
<line x1="184.83" y1="269.6" x2="184.83" y2="270.9" stroke="#222" stroke-width="0.5"/>
<line x1="186.22" y1="269.6" x2="186.22" y2="270.9" stroke="#222" stroke-width="0.5"/>
<line x1="187.39" y1="269.6" x2="187.39" y2="270.9" stroke="#222" stroke-width="0.5"/>
<line x1="188.4" y1="269.6" x2="188.4" y2="270.9" stroke="#222" stroke-width="0.5"/>
<line x1="189.3" y1="269.6" x2="189.3" y2="270.9" stroke="#222" stroke-width="0.5"/>
<line x1="194.98" y1="269.6" x2="194.98" y2="270.9" stroke="#222" stroke-width="0.5"/>
<line x1="197.83" y1="269.6" x2="197.83" y2="270.9" stroke="#222" stroke-width="0.5"/>
<line x1="199.85" y1="269.6" x2="199.85" y2="270.9" stroke="#222" stroke-width="0.5"/>
<line x1="201.42" y1="269.6" x2="201.42" y2="270.9" stroke="#222" stroke-width="0.5"/>
<line x1="202.71" y1="269.6" x2="202.71" y2="270.9" stroke="#222" stroke-width="0.5"/>
<line x1="203.79" y1="269.6" x2="203.79" y2="270.9" stroke="#222" stroke-width="0.5"/>
<line x1="204.73" y1="269.6" x2="204.73" y2="270.9" stroke="#222" stroke-width="0.5"/>
<line x1="205.56" y1="269.6" x2="205.56" y2="270.9" stroke="#222" stroke-width="0.5"/>
<line x1="211.12" y1="269.6" x2="211.12" y2="270.9" stroke="#222" stroke-width="0.5"/>
<line x1="213.93" y1="269.6" x2="213.93" y2="270.9" stroke="#222" stroke-width="0.5"/>
<line x1="215.93" y1="269.6" x2="215.93" y2="270.9" stroke="#222" stroke-width="0.5"/>
<line x1="217.48" y1="269.6" x2="217.48" y2="270.9" stroke="#222" stroke-width="0.5"/>
<line x1="218.75" y1="269.6" x2="218.75" y2="270.9" stroke="#222" stroke-width="0.5"/>
<line x1="219.82" y1="269.6" x2="219.82" y2="270.9" stroke="#222" stroke-width="0.5"/>
<line x1="220.75" y1="269.6" x2="220.75" y2="270.9" stroke="#222" stroke-width="0.5"/>
<line x1="221.57" y1="269.6" x2="221.57" y2="270.9" stroke="#222" stroke-width="0.5"/>
<line x1="156.8" y1="269.6" x2="156.8" y2="271.8" stroke="#222" stroke-width="0.7"/>
<line x1="172.6" y1="269.6" x2="172.6" y2="271.8" stroke="#222" stroke-width="0.7"/>
<line x1="190.1" y1="269.6" x2="190.1" y2="271.8" stroke="#222" stroke-width="0.7"/>
<line x1="206.3" y1="269.6" x2="206.3" y2="271.8" stroke="#222" stroke-width="0.7"/>
<line x1="222.3" y1="269.6" x2="222.3" y2="271.8" stroke="#222" stroke-width="0.7"/>
<line x1="138.8" y1="269.6" x2="138.8" y2="270.9" stroke="#222" stroke-width="0.5"/>
<line x1="144.8" y1="269.6" x2="144.8" y2="270.9" stroke="#222" stroke-width="0.5"/>
<line x1="150.8" y1="269.6" x2="150.8" y2="270.9" stroke="#222" stroke-width="0.5"/>
<line x1="161.8" y1="269.6" x2="161.8" y2="270.9" stroke="#222" stroke-width="0.5"/>
<line x1="166.8" y1="269.6" x2="166.8" y2="270.9" stroke="#222" stroke-width="0.5"/>
<text x="156.8" y="282" font-size="8" text-anchor="middle" fill="#2a2a2a">0</text>
<text x="173.9" y="282" font-size="8.0" fill="#2a2a2a" text-anchor="middle">10<tspan font-size="5.5" dy="-3.2">4</tspan></text>
<text x="191.4" y="282" font-size="8.0" fill="#2a2a2a" text-anchor="middle">10<tspan font-size="5.5" dy="-3.2">5</tspan></text>
<text x="207.6" y="282" font-size="8.0" fill="#2a2a2a" text-anchor="middle">10<tspan font-size="5.5" dy="-3.2">6</tspan></text>
<text x="223.6" y="282" font-size="8.0" fill="#2a2a2a" text-anchor="middle">10<tspan font-size="5.5" dy="-3.2">7</tspan></text>
<rect x="72.4" y="233.2" width="31.3" height="34" fill="none" stroke="#555" stroke-width="0.7"/>
<rect x="167" y="232.5" width="31.8" height="33.9" fill="none" stroke="#555" stroke-width="0.7"/>
<text x="78.8" y="190.6" font-size="8" text-anchor="start" fill="#2a2a2a" textLength="45.5" lengthAdjust="spacingAndGlyphs">Donor CD45</text>
<text x="78.8" y="200.3" font-size="8" text-anchor="start" fill="#2a2a2a" textLength="21.6" lengthAdjust="spacingAndGlyphs">16.8%</text>
<text x="173.8" y="190.6" font-size="8" text-anchor="start" fill="#2a2a2a" textLength="46.2" lengthAdjust="spacingAndGlyphs">Donor CD45</text>
<text x="173.8" y="200.3" font-size="8" text-anchor="start" fill="#2a2a2a" textLength="22.1" lengthAdjust="spacingAndGlyphs">5.53%</text>
<text x="83.7" y="176.5" font-size="8" text-anchor="middle" fill="#2a2a2a" textLength="25.8" lengthAdjust="spacingAndGlyphs">BM + T</text>
<text x="178.4" y="176.3" font-size="8" text-anchor="middle" fill="#2a2a2a" textLength="50.5" lengthAdjust="spacingAndGlyphs">BM + T + rLIF</text>
<text x="17.5" y="226.4" font-size="8.0" fill="#2a2a2a" text-anchor="middle" transform="rotate(-90 17.5 226.4)">H2k<tspan font-size="5.5" dy="-3.2">k</tspan></text>
<text x="128.5" y="296.4" font-size="8" text-anchor="middle" fill="#2a2a2a" textLength="18.3" lengthAdjust="spacingAndGlyphs">CD45</text>
<circle cx="259.5" cy="167.2" r="1.6" fill="#1c4f8f"/>
<text x="264.8" y="169.8" font-size="7.6" text-anchor="start" fill="#2a2a2a" textLength="24.5" lengthAdjust="spacingAndGlyphs">BM + T</text>
<path d="M259.5 176.78L261.26 179.97L257.74 179.97Z" fill="#c8163e"/>
<text x="264.8" y="181.2" font-size="7.6" text-anchor="start" fill="#2a2a2a" textLength="47.5" lengthAdjust="spacingAndGlyphs">BM + T + rLIF</text>
<text x="236.4" y="234" font-size="8.2" text-anchor="middle" fill="#2a2a2a" transform="rotate(-90 236.4 234)" textLength="50.5" lengthAdjust="spacingAndGlyphs">Donor CD45 in</text>
<text x="247.2" y="234.4" font-size="8.2" text-anchor="middle" fill="#2a2a2a" transform="rotate(-90 247.2 234.4)" textLength="75.8" lengthAdjust="spacingAndGlyphs">live intestinal cells (%)</text>
<rect x="276" y="223.73" width="9.4" height="53.57" fill="#fff" stroke="#3b6ea8" stroke-width="1"/>
<line x1="280.7" y1="213.69" x2="280.7" y2="233.78" stroke="#1c4f8f" stroke-width="0.9"/>
<line x1="277.79" y1="213.69" x2="283.61" y2="213.69" stroke="#1c4f8f" stroke-width="0.9"/>
<line x1="277.79" y1="233.78" x2="283.61" y2="233.78" stroke="#1c4f8f" stroke-width="0.9"/>
<circle cx="283.75" cy="211.18" r="1.65" fill="#1c4f8f"/>
<circle cx="283.54" cy="212.43" r="1.65" fill="#1c4f8f"/>
<circle cx="279.86" cy="213.69" r="1.65" fill="#1c4f8f"/>
<circle cx="278.96" cy="222.06" r="1.65" fill="#1c4f8f"/>
<circle cx="279" cy="224.57" r="1.65" fill="#1c4f8f"/>
<circle cx="278.81" cy="230.43" r="1.65" fill="#1c4f8f"/>
<circle cx="278.86" cy="233.78" r="1.65" fill="#1c4f8f"/>
<circle cx="281.47" cy="239.63" r="1.65" fill="#1c4f8f"/>
<rect x="291.4" y="245.91" width="9.9" height="31.39" fill="#fff" stroke="#d2405e" stroke-width="1"/>
<line x1="296.35" y1="237.12" x2="296.35" y2="254.7" stroke="#c8163e" stroke-width="0.9"/>
<line x1="293.3" y1="237.12" x2="299.4" y2="237.12" stroke="#c8163e" stroke-width="0.9"/>
<line x1="293.3" y1="254.7" x2="299.4" y2="254.7" stroke="#c8163e" stroke-width="0.9"/>
<path d="M298.97 231.48L300.78 234.77L297.15 234.77Z" fill="#c8163e"/>
<path d="M298.58 235.24L300.39 238.53L296.76 238.53Z" fill="#c8163e"/>
<path d="M296.22 240.27L298.03 243.56L294.4 243.56Z" fill="#c8163e"/>
<path d="M297.35 241.94L299.17 245.23L295.54 245.23Z" fill="#c8163e"/>
<path d="M298.31 244.45L300.12 247.74L296.49 247.74Z" fill="#c8163e"/>
<path d="M293.63 249.47L295.45 252.76L291.82 252.76Z" fill="#c8163e"/>
<path d="M297.4 251.98L299.22 255.27L295.59 255.27Z" fill="#c8163e"/>
<path d="M299.03 256.17L300.84 259.46L297.21 259.46Z" fill="#c8163e"/>
<line x1="269.5" y1="191.3" x2="269.5" y2="277.8" stroke="#222" stroke-width="1"/>
<line x1="266.6" y1="277.3" x2="269.3" y2="277.3" stroke="#333" stroke-width="1"/>
<text x="262.6" y="280.18" font-size="8" text-anchor="end" fill="#2a2a2a">0</text>
<line x1="266.6" y1="256.38" x2="269.3" y2="256.38" stroke="#333" stroke-width="1"/>
<text x="262.6" y="259.25" font-size="8" text-anchor="end" fill="#2a2a2a">5</text>
<line x1="266.6" y1="235.45" x2="269.3" y2="235.45" stroke="#333" stroke-width="1"/>
<text x="262.6" y="238.33" font-size="8" text-anchor="end" fill="#2a2a2a">10</text>
<line x1="266.6" y1="214.53" x2="269.3" y2="214.53" stroke="#333" stroke-width="1"/>
<text x="262.6" y="217.41" font-size="8" text-anchor="end" fill="#2a2a2a">15</text>
<line x1="266.6" y1="193.6" x2="269.3" y2="193.6" stroke="#333" stroke-width="1"/>
<text x="262.6" y="196.48" font-size="8" text-anchor="end" fill="#2a2a2a">20</text>
<line x1="268.8" y1="277.3" x2="305.7" y2="277.3" stroke="#333" stroke-width="1"/>
<path d="M281.2 196.1V192.6H295.8V201.1" fill="none" stroke="#444" stroke-width="1"/>
<path d="M285 187.55L285 189.85M284 188.12L286 189.27M286 188.12L284 189.27M288.5 187.55L288.5 189.85M287.5 188.12L289.5 189.27M289.5 188.12L287.5 189.27M292 187.55L292 189.85M291 188.12L293 189.27M293 188.12L291 189.27" stroke="#222" stroke-width="0.8" fill="none"/>
<circle cx="394.3" cy="175.4" r="1.6" fill="#1c4f8f"/>
<text x="399.6" y="178" font-size="7.6" text-anchor="start" fill="#2a2a2a" textLength="24.9" lengthAdjust="spacingAndGlyphs">BM + T</text>
<path d="M436.5 173.58L438.26 176.77L434.74 176.77Z" fill="#c8163e"/>
<text x="441.8" y="178" font-size="7.6" text-anchor="start" fill="#2a2a2a" textLength="46.7" lengthAdjust="spacingAndGlyphs">BM + T + rLIF</text>
<text x="395.5" y="192.8" font-size="8.4" text-anchor="middle" fill="#2a2a2a" textLength="29.6" lengthAdjust="spacingAndGlyphs">B6 to F1</text>
<text x="486.9" y="192.8" font-size="8.4" text-anchor="middle" fill="#2a2a2a" textLength="38" lengthAdjust="spacingAndGlyphs">Balb to B6</text>
<text x="339.2" y="240.1" font-size="8.2" text-anchor="middle" fill="#2a2a2a" transform="rotate(-90 339.2 240.1)" textLength="70.4" lengthAdjust="spacingAndGlyphs">Relative cell number</text>
<rect x="368.5" y="241.5" width="5.6" height="35" fill="#fff" stroke="#3b6ea8" stroke-width="1"/>
<line x1="371.3" y1="235.2" x2="371.3" y2="247.8" stroke="#1c4f8f" stroke-width="0.9"/>
<line x1="369.45" y1="235.2" x2="373.15" y2="235.2" stroke="#1c4f8f" stroke-width="0.9"/>
<line x1="369.45" y1="247.8" x2="373.15" y2="247.8" stroke="#1c4f8f" stroke-width="0.9"/>
<circle cx="372.42" cy="228.2" r="1.65" fill="#1c4f8f"/>
<circle cx="372.29" cy="232.75" r="1.65" fill="#1c4f8f"/>
<circle cx="371.21" cy="236.25" r="1.65" fill="#1c4f8f"/>
<circle cx="370.03" cy="239.75" r="1.65" fill="#1c4f8f"/>
<circle cx="372.44" cy="241.5" r="1.65" fill="#1c4f8f"/>
<circle cx="370.64" cy="243.25" r="1.65" fill="#1c4f8f"/>
<circle cx="372.49" cy="245" r="1.65" fill="#1c4f8f"/>
<circle cx="373.17" cy="246.75" r="1.65" fill="#1c4f8f"/>
<circle cx="370.89" cy="252" r="1.65" fill="#1c4f8f"/>
<rect x="376.3" y="265.3" width="5.6" height="11.2" fill="#fff" stroke="#d2405e" stroke-width="1"/>
<line x1="379.1" y1="260.05" x2="379.1" y2="270.55" stroke="#c8163e" stroke-width="0.9"/>
<line x1="377.25" y1="260.05" x2="380.95" y2="260.05" stroke="#c8163e" stroke-width="0.9"/>
<line x1="377.25" y1="270.55" x2="380.95" y2="270.55" stroke="#c8163e" stroke-width="0.9"/>
<path d="M378.71 252.92L380.52 256.21L376.89 256.21Z" fill="#c8163e"/>
<path d="M380.87 257.12L382.68 260.41L379.05 260.41Z" fill="#c8163e"/>
<path d="M379.99 260.62L381.81 263.91L378.18 263.91Z" fill="#c8163e"/>
<path d="M377.79 264.12L379.61 267.41L375.98 267.41Z" fill="#c8163e"/>
<path d="M377.62 265.87L379.44 269.16L375.81 269.16Z" fill="#c8163e"/>
<path d="M377.72 269.37L379.53 272.66L375.9 272.66Z" fill="#c8163e"/>
<path d="M380.7 271.12L382.52 274.41L378.89 274.41Z" fill="#c8163e"/>
<path d="M380.31 272.87L382.13 276.16L378.5 276.16Z" fill="#c8163e"/>
<path d="M377.7 273.92L379.51 277.21L375.88 277.21Z" fill="#c8163e"/>
<rect x="388.9" y="241.5" width="6" height="35" fill="#fff" stroke="#3b6ea8" stroke-width="1"/>
<line x1="391.9" y1="231.7" x2="391.9" y2="251.3" stroke="#1c4f8f" stroke-width="0.9"/>
<line x1="389.94" y1="231.7" x2="393.86" y2="231.7" stroke="#1c4f8f" stroke-width="0.9"/>
<line x1="389.94" y1="251.3" x2="393.86" y2="251.3" stroke="#1c4f8f" stroke-width="0.9"/>
<circle cx="393.27" cy="210" r="1.65" fill="#1c4f8f"/>
<circle cx="393.92" cy="226.8" r="1.65" fill="#1c4f8f"/>
<circle cx="392.56" cy="234.5" r="1.65" fill="#1c4f8f"/>
<circle cx="391.27" cy="241.5" r="1.65" fill="#1c4f8f"/>
<circle cx="392.1" cy="243.25" r="1.65" fill="#1c4f8f"/>
<circle cx="390.35" cy="248.5" r="1.65" fill="#1c4f8f"/>
<circle cx="389.86" cy="252" r="1.65" fill="#1c4f8f"/>
<circle cx="393.88" cy="255.5" r="1.65" fill="#1c4f8f"/>
<rect x="397.1" y="260.75" width="6" height="15.75" fill="#fff" stroke="#d2405e" stroke-width="1"/>
<line x1="400.1" y1="253.75" x2="400.1" y2="267.75" stroke="#c8163e" stroke-width="0.9"/>
<line x1="398.14" y1="253.75" x2="402.06" y2="253.75" stroke="#c8163e" stroke-width="0.9"/>
<line x1="398.14" y1="267.75" x2="402.06" y2="267.75" stroke="#c8163e" stroke-width="0.9"/>
<path d="M400.73 247.32L402.54 250.61L398.91 250.61Z" fill="#c8163e"/>
<path d="M400.21 250.12L402.03 253.41L398.4 253.41Z" fill="#c8163e"/>
<path d="M401.92 255.37L403.74 258.66L400.11 258.66Z" fill="#c8163e"/>
<path d="M399.82 258.87L401.64 262.16L398.01 262.16Z" fill="#c8163e"/>
<path d="M401.66 260.62L403.48 263.91L399.85 263.91Z" fill="#c8163e"/>
<path d="M401.47 265.87L403.28 269.16L399.65 269.16Z" fill="#c8163e"/>
<path d="M398.89 269.37L400.7 272.66L397.07 272.66Z" fill="#c8163e"/>
<path d="M399.06 272.87L400.87 276.16L397.24 276.16Z" fill="#c8163e"/>
<rect x="410.1" y="241.5" width="6" height="35" fill="#fff" stroke="#3b6ea8" stroke-width="1"/>
<line x1="413.1" y1="237.3" x2="413.1" y2="245.7" stroke="#1c4f8f" stroke-width="0.9"/>
<line x1="411.14" y1="237.3" x2="415.06" y2="237.3" stroke="#1c4f8f" stroke-width="0.9"/>
<line x1="411.14" y1="245.7" x2="415.06" y2="245.7" stroke="#1c4f8f" stroke-width="0.9"/>
<circle cx="412.23" cy="231" r="1.65" fill="#1c4f8f"/>
<circle cx="412.01" cy="236.25" r="1.65" fill="#1c4f8f"/>
<circle cx="413.46" cy="239.75" r="1.65" fill="#1c4f8f"/>
<circle cx="412.09" cy="241.5" r="1.65" fill="#1c4f8f"/>
<circle cx="412.76" cy="242.2" r="1.65" fill="#1c4f8f"/>
<circle cx="411.55" cy="243.25" r="1.65" fill="#1c4f8f"/>
<circle cx="414.82" cy="245" r="1.65" fill="#1c4f8f"/>
<rect x="418.3" y="250.25" width="6" height="26.25" fill="#fff" stroke="#d2405e" stroke-width="1"/>
<line x1="421.3" y1="243.25" x2="421.3" y2="257.25" stroke="#c8163e" stroke-width="0.9"/>
<line x1="419.34" y1="243.25" x2="423.26" y2="243.25" stroke="#c8163e" stroke-width="0.9"/>
<line x1="419.34" y1="257.25" x2="423.26" y2="257.25" stroke="#c8163e" stroke-width="0.9"/>
<path d="M420.69 239.62L422.5 242.91L418.87 242.91Z" fill="#c8163e"/>
<path d="M421.12 242.42L422.94 245.71L419.31 245.71Z" fill="#c8163e"/>
<path d="M421.65 246.62L423.47 249.91L419.84 249.91Z" fill="#c8163e"/>
<path d="M423 248.37L424.81 251.66L421.18 251.66Z" fill="#c8163e"/>
<path d="M420.97 250.12L422.78 253.41L419.15 253.41Z" fill="#c8163e"/>
<path d="M423.05 253.62L424.87 256.91L421.24 256.91Z" fill="#c8163e"/>
<path d="M421.31 257.12L423.12 260.41L419.49 260.41Z" fill="#c8163e"/>
<line x1="362.5" y1="204.2" x2="362.5" y2="278.7" stroke="#222" stroke-width="1"/>
<line x1="359.9" y1="276.5" x2="362.6" y2="276.5" stroke="#333" stroke-width="1"/>
<text x="355.9" y="279.38" font-size="8" text-anchor="end" fill="#2a2a2a">0.0</text>
<line x1="359.9" y1="259" x2="362.6" y2="259" stroke="#333" stroke-width="1"/>
<text x="355.9" y="261.88" font-size="8" text-anchor="end" fill="#2a2a2a">0.5</text>
<line x1="359.9" y1="241.5" x2="362.6" y2="241.5" stroke="#333" stroke-width="1"/>
<text x="355.9" y="244.38" font-size="8" text-anchor="end" fill="#2a2a2a">1.0</text>
<line x1="359.9" y1="224" x2="362.6" y2="224" stroke="#333" stroke-width="1"/>
<text x="355.9" y="226.88" font-size="8" text-anchor="end" fill="#2a2a2a">1.5</text>
<line x1="359.9" y1="206.5" x2="362.6" y2="206.5" stroke="#333" stroke-width="1"/>
<text x="355.9" y="209.38" font-size="8" text-anchor="end" fill="#2a2a2a">2.0</text>
<rect x="360.1" y="276.2" width="67.9" height="2.5" fill="#7a7a7a" stroke="none" stroke-width="1"/>
<line x1="360.1" y1="278.4" x2="428" y2="278.4" stroke="#555" stroke-width="0.7"/>
<path d="M371.3 213.6V211.4H379V223.4" fill="none" stroke="#444" stroke-width="1"/>
<path d="M371.65 206.35L371.65 208.65M370.65 206.93L372.65 208.07M372.65 206.93L370.65 208.07M375.15 206.35L375.15 208.65M374.15 206.93L376.15 208.07M376.15 206.93L374.15 208.07M378.65 206.35L378.65 208.65M377.65 206.93L379.65 208.07M379.65 206.93L377.65 208.07" stroke="#222" stroke-width="0.8" fill="none"/>
<path d="M392.2 211.8V209.6H399.8V219.1" fill="none" stroke="#444" stroke-width="1"/>
<path d="M394.25 204.55L394.25 206.85M393.25 205.12L395.25 206.27M395.25 205.12L393.25 206.27M397.75 204.55L397.75 206.85M396.75 205.12L398.75 206.27M398.75 205.12L396.75 206.27" stroke="#222" stroke-width="0.8" fill="none"/>
<path d="M413.2 217.6V215.4H421.2V223.4" fill="none" stroke="#444" stroke-width="1"/>
<path d="M415.45 210.35L415.45 212.65M414.45 210.93L416.45 212.07M416.45 210.93L414.45 212.07M418.95 210.35L418.95 212.65M417.95 210.93L419.95 212.07M419.95 210.93L417.95 212.07" stroke="#222" stroke-width="0.8" fill="none"/>
<rect x="458.5" y="229.87" width="6.6" height="47.73" fill="#fff" stroke="#3b6ea8" stroke-width="1"/>
<line x1="461.8" y1="220.32" x2="461.8" y2="239.41" stroke="#1c4f8f" stroke-width="0.9"/>
<line x1="459.67" y1="220.32" x2="463.93" y2="220.32" stroke="#1c4f8f" stroke-width="0.9"/>
<line x1="459.67" y1="239.41" x2="463.93" y2="239.41" stroke="#1c4f8f" stroke-width="0.9"/>
<circle cx="461.95" cy="216.5" r="1.65" fill="#1c4f8f"/>
<circle cx="461.91" cy="220.32" r="1.65" fill="#1c4f8f"/>
<circle cx="459.61" cy="225.09" r="1.65" fill="#1c4f8f"/>
<circle cx="461.53" cy="228.91" r="1.65" fill="#1c4f8f"/>
<circle cx="460.35" cy="229.87" r="1.65" fill="#1c4f8f"/>
<circle cx="459.54" cy="232.25" r="1.65" fill="#1c4f8f"/>
<circle cx="463.16" cy="237.03" r="1.65" fill="#1c4f8f"/>
<circle cx="460.31" cy="241.8" r="1.65" fill="#1c4f8f"/>
<circle cx="461.68" cy="253.73" r="1.65" fill="#1c4f8f"/>
<rect x="467.3" y="246.1" width="6.6" height="31.5" fill="#fff" stroke="#d2405e" stroke-width="1"/>
<line x1="470.6" y1="237.5" x2="470.6" y2="254.69" stroke="#c8163e" stroke-width="0.9"/>
<line x1="468.47" y1="237.5" x2="472.73" y2="237.5" stroke="#c8163e" stroke-width="0.9"/>
<line x1="468.47" y1="254.69" x2="472.73" y2="254.69" stroke="#c8163e" stroke-width="0.9"/>
<path d="M471.63 232.76L473.44 236.05L469.81 236.05Z" fill="#c8163e"/>
<path d="M470.86 237.53L472.67 240.82L469.04 240.82Z" fill="#c8163e"/>
<path d="M469.81 241.35L471.62 244.64L467.99 244.64Z" fill="#c8163e"/>
<path d="M470.68 244.69L472.5 247.98L468.87 247.98Z" fill="#c8163e"/>
<path d="M470.85 247.08L472.67 250.37L469.04 250.37Z" fill="#c8163e"/>
<path d="M471.9 251.85L473.71 255.14L470.08 255.14Z" fill="#c8163e"/>
<path d="M468.8 259.01L470.62 262.3L466.99 262.3Z" fill="#c8163e"/>
<path d="M470.87 265.22L472.69 268.51L469.06 268.51Z" fill="#c8163e"/>
<rect x="479.7" y="229.87" width="6.2" height="47.73" fill="#fff" stroke="#3b6ea8" stroke-width="1"/>
<line x1="482.8" y1="223.18" x2="482.8" y2="236.55" stroke="#1c4f8f" stroke-width="0.9"/>
<line x1="480.78" y1="223.18" x2="484.82" y2="223.18" stroke="#1c4f8f" stroke-width="0.9"/>
<line x1="480.78" y1="236.55" x2="484.82" y2="236.55" stroke="#1c4f8f" stroke-width="0.9"/>
<circle cx="481.71" cy="217.93" r="1.65" fill="#1c4f8f"/>
<circle cx="481.84" cy="225.09" r="1.65" fill="#1c4f8f"/>
<circle cx="483.98" cy="227.48" r="1.65" fill="#1c4f8f"/>
<circle cx="482.83" cy="229.87" r="1.65" fill="#1c4f8f"/>
<circle cx="483.07" cy="229.87" r="1.65" fill="#1c4f8f"/>
<circle cx="483.92" cy="232.25" r="1.65" fill="#1c4f8f"/>
<circle cx="484.58" cy="234.64" r="1.65" fill="#1c4f8f"/>
<circle cx="482.55" cy="241.8" r="1.65" fill="#1c4f8f"/>
<rect x="488.1" y="245.14" width="6.2" height="32.46" fill="#fff" stroke="#d2405e" stroke-width="1"/>
<line x1="491.2" y1="237.5" x2="491.2" y2="252.78" stroke="#c8163e" stroke-width="0.9"/>
<line x1="489.18" y1="237.5" x2="493.22" y2="237.5" stroke="#c8163e" stroke-width="0.9"/>
<line x1="489.18" y1="252.78" x2="493.22" y2="252.78" stroke="#c8163e" stroke-width="0.9"/>
<path d="M491.69 232.76L493.5 236.05L489.87 236.05Z" fill="#c8163e"/>
<path d="M491.22 235.15L493.04 238.44L489.41 238.44Z" fill="#c8163e"/>
<path d="M491.25 239.92L493.07 243.21L489.44 243.21Z" fill="#c8163e"/>
<path d="M492.03 242.31L493.85 245.6L490.22 245.6Z" fill="#c8163e"/>
<path d="M490.99 247.08L492.81 250.37L489.18 250.37Z" fill="#c8163e"/>
<path d="M491.34 249.47L493.16 252.76L489.53 252.76Z" fill="#c8163e"/>
<path d="M491.11 254.24L492.92 257.53L489.29 257.53Z" fill="#c8163e"/>
<path d="M493.11 255.67L494.92 258.96L491.29 258.96Z" fill="#c8163e"/>
<rect x="501.5" y="229.87" width="6" height="47.73" fill="#fff" stroke="#3b6ea8" stroke-width="1"/>
<line x1="504.5" y1="221.27" x2="504.5" y2="238.46" stroke="#1c4f8f" stroke-width="0.9"/>
<line x1="502.54" y1="221.27" x2="506.46" y2="221.27" stroke="#1c4f8f" stroke-width="0.9"/>
<line x1="502.54" y1="238.46" x2="506.46" y2="238.46" stroke="#1c4f8f" stroke-width="0.9"/>
<circle cx="505.34" cy="215.55" r="1.65" fill="#1c4f8f"/>
<circle cx="506.08" cy="222.71" r="1.65" fill="#1c4f8f"/>
<circle cx="506.36" cy="227.48" r="1.65" fill="#1c4f8f"/>
<circle cx="503.49" cy="229.87" r="1.65" fill="#1c4f8f"/>
<circle cx="504.75" cy="232.25" r="1.65" fill="#1c4f8f"/>
<circle cx="506.36" cy="237.03" r="1.65" fill="#1c4f8f"/>
<circle cx="505.93" cy="248.96" r="1.65" fill="#1c4f8f"/>
<rect x="509.7" y="245.14" width="6" height="32.46" fill="#fff" stroke="#d2405e" stroke-width="1"/>
<line x1="512.7" y1="239.41" x2="512.7" y2="250.87" stroke="#c8163e" stroke-width="0.9"/>
<line x1="510.74" y1="239.41" x2="514.66" y2="239.41" stroke="#c8163e" stroke-width="0.9"/>
<line x1="510.74" y1="250.87" x2="514.66" y2="250.87" stroke="#c8163e" stroke-width="0.9"/>
<path d="M511.18 231.8L512.99 235.1L509.36 235.1Z" fill="#c8163e"/>
<path d="M511.11 236.58L512.93 239.87L509.3 239.87Z" fill="#c8163e"/>
<path d="M512.46 239.92L514.27 243.21L510.64 243.21Z" fill="#c8163e"/>
<path d="M510.9 242.31L512.72 245.6L509.09 245.6Z" fill="#c8163e"/>
<path d="M511.61 244.69L513.43 247.98L509.8 247.98Z" fill="#c8163e"/>
<path d="M510.91 247.08L512.72 250.37L509.09 250.37Z" fill="#c8163e"/>
<path d="M513.41 255.67L515.23 258.96L511.6 258.96Z" fill="#c8163e"/>
<line x1="453.5" y1="203.7" x2="453.5" y2="279.8" stroke="#222" stroke-width="1"/>
<line x1="450.9" y1="277.6" x2="453.6" y2="277.6" stroke="#333" stroke-width="1"/>
<text x="446.9" y="280.48" font-size="8" text-anchor="end" fill="#2a2a2a">0.0</text>
<line x1="450.9" y1="253.73" x2="453.6" y2="253.73" stroke="#333" stroke-width="1"/>
<text x="446.9" y="256.61" font-size="8" text-anchor="end" fill="#2a2a2a">0.5</text>
<line x1="450.9" y1="229.87" x2="453.6" y2="229.87" stroke="#333" stroke-width="1"/>
<text x="446.9" y="232.75" font-size="8" text-anchor="end" fill="#2a2a2a">1.0</text>
<line x1="450.9" y1="206" x2="453.6" y2="206" stroke="#333" stroke-width="1"/>
<text x="446.9" y="208.88" font-size="8" text-anchor="end" fill="#2a2a2a">1.5</text>
<rect x="451.1" y="277.3" width="67.9" height="2.5" fill="#7a7a7a" stroke="none" stroke-width="1"/>
<line x1="451.1" y1="279.5" x2="519" y2="279.5" stroke="#555" stroke-width="0.7"/>
<path d="M461.7 208.2V206H469.7V215.5" fill="none" stroke="#444" stroke-width="1"/>
<path d="M463.95 200.95L463.95 203.25M462.95 201.53L464.95 202.67M464.95 201.53L462.95 202.67M467.45 200.95L467.45 203.25M466.45 201.53L468.45 202.67M468.45 201.53L466.45 202.67" stroke="#222" stroke-width="0.8" fill="none"/>
<path d="M482.5 208.2V206H491.1V215.5" fill="none" stroke="#444" stroke-width="1"/>
<path d="M483.3 200.95L483.3 203.25M482.3 201.53L484.3 202.67M484.3 201.53L482.3 202.67M486.8 200.95L486.8 203.25M485.8 201.53L487.8 202.67M487.8 201.53L485.8 202.67M490.3 200.95L490.3 203.25M489.3 201.53L491.3 202.67M491.3 201.53L489.3 202.67" stroke="#222" stroke-width="0.8" fill="none"/>
<path d="M504.5 208.2V206H512.7V215.5" fill="none" stroke="#444" stroke-width="1"/>
<path d="M505.1 200.95L505.1 203.25M504.1 201.53L506.1 202.67M506.1 201.53L504.1 202.67M508.6 200.95L508.6 203.25M507.6 201.53L509.6 202.67M509.6 201.53L507.6 202.67M512.1 200.95L512.1 203.25M511.1 201.53L513.1 202.67M513.1 201.53L511.1 202.67" stroke="#222" stroke-width="0.8" fill="none"/>
<text x="377.4" y="284.5" font-size="8.2" text-anchor="end" fill="#2a2a2a" transform="rotate(-45 377.4 284.5)">Spleen</text>
<text x="398.2" y="284.5" font-size="8.2" text-anchor="end" fill="#2a2a2a" transform="rotate(-45 398.2 284.5)">MLN</text>
<text x="419.4" y="284.5" font-size="8.2" text-anchor="end" fill="#2a2a2a" transform="rotate(-45 419.4 284.5)">LP</text>
<text x="468.4" y="284.5" font-size="8.2" text-anchor="end" fill="#2a2a2a" transform="rotate(-45 468.4 284.5)">Spleen</text>
<text x="489.2" y="284.5" font-size="8.2" text-anchor="end" fill="#2a2a2a" transform="rotate(-45 489.2 284.5)">MLN</text>
<text x="510.8" y="284.5" font-size="8.2" text-anchor="end" fill="#2a2a2a" transform="rotate(-45 510.8 284.5)">LP</text>
<text x="122.8" y="337.5" font-size="8" text-anchor="middle" fill="#2a2a2a" textLength="30.6" lengthAdjust="spacingAndGlyphs">B6 to F1</text>
<text x="321.8" y="334.8" font-size="8" text-anchor="middle" fill="#2a2a2a" textLength="38.1" lengthAdjust="spacingAndGlyphs">Balb to B6</text>
<circle cx="413.2" cy="332.4" r="1.6" fill="#1c4f8f"/>
<text x="418.5" y="335" font-size="7.6" text-anchor="start" fill="#2a2a2a" textLength="24.7" lengthAdjust="spacingAndGlyphs">BM + T</text>
<path d="M413.2 342.38L414.96 345.57L411.44 345.57Z" fill="#c8163e"/>
<text x="418.5" y="346.8" font-size="7.6" text-anchor="start" fill="#2a2a2a" textLength="47.3" lengthAdjust="spacingAndGlyphs">BM + T + rLIF</text>
<text x="411" y="385" font-size="7.6" text-anchor="start" fill="#2a2a2a" textLength="25.2" lengthAdjust="spacingAndGlyphs">Spleen</text>
<text x="411.3" y="480" font-size="7.6" text-anchor="start" fill="#2a2a2a" textLength="16.5" lengthAdjust="spacingAndGlyphs">MLN</text>
<text x="411.3" y="575" font-size="7.6" text-anchor="start" fill="#2a2a2a" textLength="9" lengthAdjust="spacingAndGlyphs">LP</text>
<rect x="45.05" y="382.55" width="6.6" height="35.05" fill="#fff" stroke="#3b6ea8" stroke-width="1"/>
<line x1="48.35" y1="375.54" x2="48.35" y2="389.56" stroke="#1c4f8f" stroke-width="0.9"/>
<line x1="46.22" y1="375.54" x2="50.48" y2="375.54" stroke="#1c4f8f" stroke-width="0.9"/>
<line x1="46.22" y1="389.56" x2="50.48" y2="389.56" stroke="#1c4f8f" stroke-width="0.9"/>
<circle cx="49.33" cy="370.28" r="1.6" fill="#1c4f8f"/>
<circle cx="47.28" cy="393.71" r="1.6" fill="#1c4f8f"/>
<circle cx="47.56" cy="388.92" r="1.6" fill="#1c4f8f"/>
<circle cx="47.21" cy="386.39" r="1.6" fill="#1c4f8f"/>
<circle cx="50.43" cy="384.76" r="1.6" fill="#1c4f8f"/>
<circle cx="47.99" cy="380.31" r="1.6" fill="#1c4f8f"/>
<circle cx="49.19" cy="377.7" r="1.6" fill="#1c4f8f"/>
<circle cx="49.5" cy="375.67" r="1.6" fill="#1c4f8f"/>
<rect x="54.15" y="400.43" width="6.6" height="17.17" fill="#fff" stroke="#d2405e" stroke-width="1"/>
<line x1="57.45" y1="396.22" x2="57.45" y2="404.63" stroke="#c8163e" stroke-width="0.9"/>
<line x1="55.32" y1="396.22" x2="59.58" y2="396.22" stroke="#c8163e" stroke-width="0.9"/>
<line x1="55.32" y1="404.63" x2="59.58" y2="404.63" stroke="#c8163e" stroke-width="0.9"/>
<path d="M58.87 406.54L60.63 409.74L57.11 409.74Z" fill="#c8163e"/>
<path d="M55.8 404.35L57.56 407.55L54.04 407.55Z" fill="#c8163e"/>
<path d="M55.82 403.26L57.58 406.45L54.06 406.45Z" fill="#c8163e"/>
<path d="M56.98 400.83L58.74 404.02L55.22 404.02Z" fill="#c8163e"/>
<path d="M56.02 398.97L57.78 402.16L54.26 402.16Z" fill="#c8163e"/>
<path d="M58.1 399.2L59.86 402.39L56.34 402.39Z" fill="#c8163e"/>
<path d="M58.75 395.91L60.51 399.11L56.99 399.11Z" fill="#c8163e"/>
<path d="M55.5 396.09L57.26 399.28L53.74 399.28Z" fill="#c8163e"/>
<path d="M55.71 394.34L57.47 397.53L53.95 397.53Z" fill="#c8163e"/>
<path d="M56.45 391.93L58.21 395.12L54.69 395.12Z" fill="#c8163e"/>
<rect x="68.3" y="382.55" width="6.6" height="35.05" fill="#fff" stroke="#3b6ea8" stroke-width="1"/>
<line x1="71.6" y1="373.79" x2="71.6" y2="391.31" stroke="#1c4f8f" stroke-width="0.9"/>
<line x1="69.47" y1="373.79" x2="73.73" y2="373.79" stroke="#1c4f8f" stroke-width="0.9"/>
<line x1="69.47" y1="391.31" x2="73.73" y2="391.31" stroke="#1c4f8f" stroke-width="0.9"/>
<circle cx="70.71" cy="365.02" r="1.6" fill="#1c4f8f"/>
<circle cx="73.62" cy="400.04" r="1.6" fill="#1c4f8f"/>
<circle cx="71.13" cy="393.14" r="1.6" fill="#1c4f8f"/>
<circle cx="73.37" cy="389.06" r="1.6" fill="#1c4f8f"/>
<circle cx="72.15" cy="387.61" r="1.6" fill="#1c4f8f"/>
<circle cx="70.15" cy="382.18" r="1.6" fill="#1c4f8f"/>
<circle cx="73.23" cy="381.8" r="1.6" fill="#1c4f8f"/>
<circle cx="70.24" cy="380.05" r="1.6" fill="#1c4f8f"/>
<circle cx="72.71" cy="374.94" r="1.6" fill="#1c4f8f"/>
<circle cx="72.77" cy="373.87" r="1.6" fill="#1c4f8f"/>
<rect x="77.4" y="397.62" width="6.6" height="19.98" fill="#fff" stroke="#d2405e" stroke-width="1"/>
<line x1="80.7" y1="392.36" x2="80.7" y2="402.88" stroke="#c8163e" stroke-width="0.9"/>
<line x1="78.57" y1="392.36" x2="82.83" y2="392.36" stroke="#c8163e" stroke-width="0.9"/>
<line x1="78.57" y1="402.88" x2="82.83" y2="402.88" stroke="#c8163e" stroke-width="0.9"/>
<path d="M81.17 404.54L82.93 407.73L79.41 407.73Z" fill="#c8163e"/>
<path d="M80.72 402.2L82.48 405.39L78.96 405.39Z" fill="#c8163e"/>
<path d="M81.82 399.73L83.58 402.92L80.06 402.92Z" fill="#c8163e"/>
<path d="M78.68 398.57L80.44 401.76L76.92 401.76Z" fill="#c8163e"/>
<path d="M82.66 396.6L84.42 399.79L80.9 399.79Z" fill="#c8163e"/>
<path d="M80.19 395.92L81.95 399.11L78.43 399.11Z" fill="#c8163e"/>
<path d="M82.36 394.77L84.12 397.96L80.6 397.96Z" fill="#c8163e"/>
<path d="M80.23 390.69L81.99 393.89L78.47 393.89Z" fill="#c8163e"/>
<path d="M81.01 390.27L82.77 393.47L79.25 393.47Z" fill="#c8163e"/>
<path d="M82.32 385.07L84.08 388.26L80.56 388.26Z" fill="#c8163e"/>
<rect x="91.55" y="382.55" width="6.6" height="35.05" fill="#fff" stroke="#3b6ea8" stroke-width="1"/>
<line x1="94.85" y1="375.54" x2="94.85" y2="389.56" stroke="#1c4f8f" stroke-width="0.9"/>
<line x1="92.72" y1="375.54" x2="96.98" y2="375.54" stroke="#1c4f8f" stroke-width="0.9"/>
<line x1="92.72" y1="389.56" x2="96.98" y2="389.56" stroke="#1c4f8f" stroke-width="0.9"/>
<circle cx="93.63" cy="369.23" r="1.6" fill="#1c4f8f"/>
<circle cx="96.97" cy="395.7" r="1.6" fill="#1c4f8f"/>
<circle cx="95.33" cy="389.47" r="1.6" fill="#1c4f8f"/>
<circle cx="95.97" cy="385.17" r="1.6" fill="#1c4f8f"/>
<circle cx="93.69" cy="384.81" r="1.6" fill="#1c4f8f"/>
<circle cx="93.28" cy="379.85" r="1.6" fill="#1c4f8f"/>
<circle cx="95.88" cy="377.42" r="1.6" fill="#1c4f8f"/>
<circle cx="97.09" cy="376.03" r="1.6" fill="#1c4f8f"/>
<rect x="100.65" y="399.02" width="6.6" height="18.58" fill="#fff" stroke="#d2405e" stroke-width="1"/>
<line x1="103.95" y1="394.82" x2="103.95" y2="403.23" stroke="#c8163e" stroke-width="0.9"/>
<line x1="101.82" y1="394.82" x2="106.08" y2="394.82" stroke="#c8163e" stroke-width="0.9"/>
<line x1="101.82" y1="403.23" x2="106.08" y2="403.23" stroke="#c8163e" stroke-width="0.9"/>
<path d="M105.4 404.66L107.16 407.86L103.64 407.86Z" fill="#c8163e"/>
<path d="M105.33 401.17L107.09 404.36L103.57 404.36Z" fill="#c8163e"/>
<path d="M103.9 399.29L105.66 402.48L102.14 402.48Z" fill="#c8163e"/>
<path d="M104.28 395.81L106.04 399L102.52 399Z" fill="#c8163e"/>
<path d="M104.16 395.75L105.92 398.94L102.4 398.94Z" fill="#c8163e"/>
<path d="M101.94 394.7L103.7 397.89L100.18 397.89Z" fill="#c8163e"/>
<path d="M104.38 391.25L106.14 394.44L102.62 394.44Z" fill="#c8163e"/>
<rect x="114.8" y="382.55" width="6.6" height="35.05" fill="#fff" stroke="#3b6ea8" stroke-width="1"/>
<line x1="118.1" y1="372.04" x2="118.1" y2="393.06" stroke="#1c4f8f" stroke-width="0.9"/>
<line x1="115.97" y1="372.04" x2="120.23" y2="372.04" stroke="#1c4f8f" stroke-width="0.9"/>
<line x1="115.97" y1="393.06" x2="120.23" y2="393.06" stroke="#1c4f8f" stroke-width="0.9"/>
<circle cx="117.3" cy="365.02" r="1.6" fill="#1c4f8f"/>
<circle cx="118.18" cy="401.6" r="1.6" fill="#1c4f8f"/>
<circle cx="117.15" cy="394.36" r="1.6" fill="#1c4f8f"/>
<circle cx="118.67" cy="389.48" r="1.6" fill="#1c4f8f"/>
<circle cx="119.28" cy="387.98" r="1.6" fill="#1c4f8f"/>
<circle cx="116.68" cy="383.62" r="1.6" fill="#1c4f8f"/>
<circle cx="118.63" cy="380.9" r="1.6" fill="#1c4f8f"/>
<circle cx="117.31" cy="377.66" r="1.6" fill="#1c4f8f"/>
<circle cx="116.74" cy="375.87" r="1.6" fill="#1c4f8f"/>
<circle cx="116.12" cy="371.72" r="1.6" fill="#1c4f8f"/>
<rect x="123.9" y="403.93" width="6.6" height="13.67" fill="#fff" stroke="#d2405e" stroke-width="1"/>
<line x1="127.2" y1="399.72" x2="127.2" y2="408.14" stroke="#c8163e" stroke-width="0.9"/>
<line x1="125.07" y1="399.72" x2="129.33" y2="399.72" stroke="#c8163e" stroke-width="0.9"/>
<line x1="125.07" y1="408.14" x2="129.33" y2="408.14" stroke="#c8163e" stroke-width="0.9"/>
<path d="M127.92 409.62L129.68 412.81L126.16 412.81Z" fill="#c8163e"/>
<path d="M126.84 404.74L128.6 407.93L125.08 407.93Z" fill="#c8163e"/>
<path d="M128.88 404.31L130.64 407.5L127.12 407.5Z" fill="#c8163e"/>
<path d="M127.89 401.83L129.65 405.03L126.13 405.03Z" fill="#c8163e"/>
<path d="M127.78 400.88L129.54 404.07L126.02 404.07Z" fill="#c8163e"/>
<path d="M128.6 399.39L130.36 402.58L126.84 402.58Z" fill="#c8163e"/>
<path d="M129.38 396.24L131.14 399.43L127.62 399.43Z" fill="#c8163e"/>
<rect x="138.05" y="382.55" width="6.6" height="35.05" fill="#fff" stroke="#3b6ea8" stroke-width="1"/>
<line x1="141.35" y1="372.04" x2="141.35" y2="393.06" stroke="#1c4f8f" stroke-width="0.9"/>
<line x1="139.22" y1="372.04" x2="143.48" y2="372.04" stroke="#1c4f8f" stroke-width="0.9"/>
<line x1="139.22" y1="393.06" x2="143.48" y2="393.06" stroke="#1c4f8f" stroke-width="0.9"/>
<circle cx="141.37" cy="365.02" r="1.6" fill="#1c4f8f"/>
<circle cx="143.39" cy="400.73" r="1.6" fill="#1c4f8f"/>
<circle cx="142.17" cy="392.17" r="1.6" fill="#1c4f8f"/>
<circle cx="142.29" cy="387.59" r="1.6" fill="#1c4f8f"/>
<circle cx="141.22" cy="382.97" r="1.6" fill="#1c4f8f"/>
<circle cx="141.41" cy="379.12" r="1.6" fill="#1c4f8f"/>
<circle cx="143.06" cy="377.22" r="1.6" fill="#1c4f8f"/>
<circle cx="139.39" cy="370.57" r="1.6" fill="#1c4f8f"/>
<rect x="147.15" y="403.93" width="6.6" height="13.67" fill="#fff" stroke="#d2405e" stroke-width="1"/>
<line x1="150.45" y1="398.67" x2="150.45" y2="409.19" stroke="#c8163e" stroke-width="0.9"/>
<line x1="148.32" y1="398.67" x2="152.58" y2="398.67" stroke="#c8163e" stroke-width="0.9"/>
<line x1="148.32" y1="409.19" x2="152.58" y2="409.19" stroke="#c8163e" stroke-width="0.9"/>
<path d="M148.28 410.76L150.04 413.95L146.52 413.95Z" fill="#c8163e"/>
<path d="M151.19 408.12L152.95 411.31L149.43 411.31Z" fill="#c8163e"/>
<path d="M148.36 405.11L150.12 408.3L146.6 408.3Z" fill="#c8163e"/>
<path d="M149.43 404.46L151.19 407.65L147.67 407.65Z" fill="#c8163e"/>
<path d="M150.86 403.22L152.62 406.41L149.1 406.41Z" fill="#c8163e"/>
<path d="M150.01 402.06L151.77 405.25L148.25 405.25Z" fill="#c8163e"/>
<path d="M150.12 398.72L151.88 401.91L148.36 401.91Z" fill="#c8163e"/>
<path d="M151.81 398.98L153.57 402.17L150.05 402.17Z" fill="#c8163e"/>
<path d="M149.99 397.05L151.75 400.24L148.23 400.24Z" fill="#c8163e"/>
<path d="M149.66 391.31L151.42 394.5L147.9 394.5Z" fill="#c8163e"/>
<rect x="161.3" y="382.55" width="6.6" height="35.05" fill="#fff" stroke="#3b6ea8" stroke-width="1"/>
<line x1="164.6" y1="370.28" x2="164.6" y2="394.82" stroke="#1c4f8f" stroke-width="0.9"/>
<line x1="162.47" y1="370.28" x2="166.73" y2="370.28" stroke="#1c4f8f" stroke-width="0.9"/>
<line x1="162.47" y1="394.82" x2="166.73" y2="394.82" stroke="#1c4f8f" stroke-width="0.9"/>
<circle cx="163.36" cy="365.02" r="1.6" fill="#1c4f8f"/>
<circle cx="166.49" cy="403.56" r="1.6" fill="#1c4f8f"/>
<circle cx="165.3" cy="398.11" r="1.6" fill="#1c4f8f"/>
<circle cx="162.49" cy="392.5" r="1.6" fill="#1c4f8f"/>
<circle cx="163.11" cy="388.49" r="1.6" fill="#1c4f8f"/>
<circle cx="164.02" cy="384.53" r="1.6" fill="#1c4f8f"/>
<circle cx="165.08" cy="382.01" r="1.6" fill="#1c4f8f"/>
<circle cx="163.3" cy="378.86" r="1.6" fill="#1c4f8f"/>
<circle cx="164.37" cy="374.02" r="1.6" fill="#1c4f8f"/>
<circle cx="165.2" cy="367.17" r="1.6" fill="#1c4f8f"/>
<rect x="170.4" y="409.19" width="6.6" height="8.41" fill="#fff" stroke="#d2405e" stroke-width="1"/>
<line x1="173.7" y1="406.38" x2="173.7" y2="411.99" stroke="#c8163e" stroke-width="0.9"/>
<line x1="171.57" y1="406.38" x2="175.83" y2="406.38" stroke="#c8163e" stroke-width="0.9"/>
<line x1="171.57" y1="411.99" x2="175.83" y2="411.99" stroke="#c8163e" stroke-width="0.9"/>
<path d="M174.25 410.73L176.01 413.93L172.49 413.93Z" fill="#c8163e"/>
<path d="M174.75 409.23L176.51 412.42L172.99 412.42Z" fill="#c8163e"/>
<path d="M174.18 408.6L175.94 411.8L172.42 411.8Z" fill="#c8163e"/>
<path d="M175.16 408.06L176.92 411.25L173.4 411.25Z" fill="#c8163e"/>
<path d="M172.62 404.9L174.38 408.09L170.86 408.09Z" fill="#c8163e"/>
<path d="M173.61 404.74L175.37 407.93L171.85 407.93Z" fill="#c8163e"/>
<path d="M173.69 402L175.45 405.19L171.93 405.19Z" fill="#c8163e"/>
<rect x="184.55" y="382.55" width="6.6" height="35.05" fill="#fff" stroke="#3b6ea8" stroke-width="1"/>
<line x1="187.85" y1="377.29" x2="187.85" y2="387.81" stroke="#1c4f8f" stroke-width="0.9"/>
<line x1="185.72" y1="377.29" x2="189.98" y2="377.29" stroke="#1c4f8f" stroke-width="0.9"/>
<line x1="185.72" y1="387.81" x2="189.98" y2="387.81" stroke="#1c4f8f" stroke-width="0.9"/>
<circle cx="186.97" cy="372.04" r="1.6" fill="#1c4f8f"/>
<circle cx="187.31" cy="389.62" r="1.6" fill="#1c4f8f"/>
<circle cx="187.96" cy="387.6" r="1.6" fill="#1c4f8f"/>
<circle cx="188.81" cy="385.88" r="1.6" fill="#1c4f8f"/>
<circle cx="189.72" cy="383.01" r="1.6" fill="#1c4f8f"/>
<circle cx="186.31" cy="379.48" r="1.6" fill="#1c4f8f"/>
<circle cx="186.49" cy="378.03" r="1.6" fill="#1c4f8f"/>
<rect x="193.65" y="394.47" width="6.6" height="23.13" fill="#fff" stroke="#d2405e" stroke-width="1"/>
<line x1="196.95" y1="383.95" x2="196.95" y2="404.98" stroke="#c8163e" stroke-width="0.9"/>
<line x1="194.82" y1="383.95" x2="199.08" y2="383.95" stroke="#c8163e" stroke-width="0.9"/>
<line x1="194.82" y1="404.98" x2="199.08" y2="404.98" stroke="#c8163e" stroke-width="0.9"/>
<path d="M198.66 410.07L200.42 413.26L196.9 413.26Z" fill="#c8163e"/>
<path d="M197.94 403.44L199.7 406.63L196.18 406.63Z" fill="#c8163e"/>
<path d="M195.08 399.57L196.84 402.76L193.32 402.76Z" fill="#c8163e"/>
<path d="M195.47 394.3L197.23 397.49L193.71 397.49Z" fill="#c8163e"/>
<path d="M197.05 391.75L198.81 394.94L195.29 394.94Z" fill="#c8163e"/>
<path d="M197.5 386.11L199.26 389.31L195.74 389.31Z" fill="#c8163e"/>
<path d="M196.38 382.25L198.14 385.44L194.62 385.44Z" fill="#c8163e"/>
<path d="M198.06 375.14L199.82 378.33L196.3 378.33Z" fill="#c8163e"/>
<line x1="40.5" y1="345.2" x2="40.5" y2="419.8" stroke="#222" stroke-width="1"/>
<line x1="37.3" y1="417.6" x2="40" y2="417.6" stroke="#333" stroke-width="1"/>
<text x="33.3" y="420.48" font-size="8" text-anchor="end" fill="#2a2a2a">0.0</text>
<line x1="37.3" y1="400.08" x2="40" y2="400.08" stroke="#333" stroke-width="1"/>
<text x="33.3" y="402.96" font-size="8" text-anchor="end" fill="#2a2a2a">0.5</text>
<line x1="37.3" y1="382.55" x2="40" y2="382.55" stroke="#333" stroke-width="1"/>
<text x="33.3" y="385.43" font-size="8" text-anchor="end" fill="#2a2a2a">1.0</text>
<line x1="37.3" y1="365.02" x2="40" y2="365.02" stroke="#333" stroke-width="1"/>
<text x="33.3" y="367.9" font-size="8" text-anchor="end" fill="#2a2a2a">1.5</text>
<line x1="37.3" y1="347.5" x2="40" y2="347.5" stroke="#333" stroke-width="1"/>
<text x="33.3" y="350.38" font-size="8" text-anchor="end" fill="#2a2a2a">2.0</text>
<rect x="37.5" y="417.3" width="168.2" height="2.5" fill="#7a7a7a" stroke="none" stroke-width="1"/>
<line x1="37.5" y1="419.5" x2="205.7" y2="419.5" stroke="#555" stroke-width="0.7"/>
<path d="M48.3 352.5V350.5H57.5V358.3" fill="none" stroke="#444" stroke-width="1"/>
<path d="M49.4 345.45L49.4 347.75M48.4 346.03L50.4 347.18M50.4 346.03L48.4 347.18M52.9 345.45L52.9 347.75M51.9 346.03L53.9 347.18M53.9 346.03L51.9 347.18M56.4 345.45L56.4 347.75M55.4 346.03L57.4 347.18M57.4 346.03L55.4 347.18" stroke="#222" stroke-width="0.8" fill="none"/>
<path d="M71.55 352.5V350.5H80.75V358.3" fill="none" stroke="#444" stroke-width="1"/>
<path d="M74.4 345.45L74.4 347.75M73.4 346.03L75.4 347.18M75.4 346.03L73.4 347.18M77.9 345.45L77.9 347.75M76.9 346.03L78.9 347.18M78.9 346.03L76.9 347.18" stroke="#222" stroke-width="0.8" fill="none"/>
<path d="M94.8 352.5V350.5H104V358.3" fill="none" stroke="#444" stroke-width="1"/>
<path d="M95.9 345.45L95.9 347.75M94.9 346.03L96.9 347.18M96.9 346.03L94.9 347.18M99.4 345.45L99.4 347.75M98.4 346.03L100.4 347.18M100.4 346.03L98.4 347.18M102.9 345.45L102.9 347.75M101.9 346.03L103.9 347.18M103.9 346.03L101.9 347.18" stroke="#222" stroke-width="0.8" fill="none"/>
<path d="M118.05 352.5V350.5H127.25V358.3" fill="none" stroke="#444" stroke-width="1"/>
<path d="M120.9 345.45L120.9 347.75M119.9 346.03L121.9 347.18M121.9 346.03L119.9 347.18M124.4 345.45L124.4 347.75M123.4 346.03L125.4 347.18M125.4 346.03L123.4 347.18" stroke="#222" stroke-width="0.8" fill="none"/>
<path d="M141.3 352.5V350.5H150.5V358.3" fill="none" stroke="#444" stroke-width="1"/>
<path d="M144.15 345.45L144.15 347.75M143.15 346.03L145.15 347.18M145.15 346.03L143.15 347.18M147.65 345.45L147.65 347.75M146.65 346.03L148.65 347.18M148.65 346.03L146.65 347.18" stroke="#222" stroke-width="0.8" fill="none"/>
<path d="M164.55 352.5V350.5H173.75V358.3" fill="none" stroke="#444" stroke-width="1"/>
<path d="M165.65 345.45L165.65 347.75M164.65 346.03L166.65 347.18M166.65 346.03L164.65 347.18M169.15 345.45L169.15 347.75M168.15 346.03L170.15 347.18M170.15 346.03L168.15 347.18M172.65 345.45L172.65 347.75M171.65 346.03L173.65 347.18M173.65 346.03L171.65 347.18" stroke="#222" stroke-width="0.8" fill="none"/>
<path d="M187.8 352.5V350.5H197V358.3" fill="none" stroke="#444" stroke-width="1"/>
<path d="M192.4 345.45L192.4 347.75M191.4 346.03L193.4 347.18M193.4 346.03L191.4 347.18" stroke="#222" stroke-width="0.8" fill="none"/>
<line x1="44.3" y1="422.5" x2="59" y2="422.5" stroke="#333" stroke-width="0.9"/>
<line x1="67.55" y1="422.5" x2="82.25" y2="422.5" stroke="#333" stroke-width="0.9"/>
<line x1="90.8" y1="422.5" x2="105.5" y2="422.5" stroke="#333" stroke-width="0.9"/>
<line x1="114.05" y1="422.5" x2="128.75" y2="422.5" stroke="#333" stroke-width="0.9"/>
<line x1="137.3" y1="422.5" x2="152" y2="422.5" stroke="#333" stroke-width="0.9"/>
<line x1="160.55" y1="422.5" x2="175.25" y2="422.5" stroke="#333" stroke-width="0.9"/>
<line x1="183.8" y1="422.5" x2="198.5" y2="422.5" stroke="#333" stroke-width="0.9"/>
<rect x="243.75" y="369.63" width="6.6" height="46.67" fill="#fff" stroke="#3b6ea8" stroke-width="1"/>
<line x1="247.05" y1="362.63" x2="247.05" y2="376.63" stroke="#1c4f8f" stroke-width="0.9"/>
<line x1="244.92" y1="362.63" x2="249.18" y2="362.63" stroke="#1c4f8f" stroke-width="0.9"/>
<line x1="244.92" y1="376.63" x2="249.18" y2="376.63" stroke="#1c4f8f" stroke-width="0.9"/>
<circle cx="247.72" cy="357.97" r="1.6" fill="#1c4f8f"/>
<circle cx="245.51" cy="379.96" r="1.6" fill="#1c4f8f"/>
<circle cx="249.01" cy="377.1" r="1.6" fill="#1c4f8f"/>
<circle cx="247.22" cy="373.22" r="1.6" fill="#1c4f8f"/>
<circle cx="248.79" cy="368.97" r="1.6" fill="#1c4f8f"/>
<circle cx="245.71" cy="365.97" r="1.6" fill="#1c4f8f"/>
<circle cx="249.32" cy="364.65" r="1.6" fill="#1c4f8f"/>
<rect x="252.85" y="385.5" width="6.6" height="30.8" fill="#fff" stroke="#d2405e" stroke-width="1"/>
<line x1="256.15" y1="379.9" x2="256.15" y2="391.1" stroke="#c8163e" stroke-width="0.9"/>
<line x1="254.02" y1="379.9" x2="258.28" y2="379.9" stroke="#c8163e" stroke-width="0.9"/>
<line x1="254.02" y1="391.1" x2="258.28" y2="391.1" stroke="#c8163e" stroke-width="0.9"/>
<path d="M256.4 391.87L258.16 395.06L254.64 395.06Z" fill="#c8163e"/>
<path d="M257.41 390.05L259.17 393.25L255.65 393.25Z" fill="#c8163e"/>
<path d="M257.24 387.74L259 390.93L255.48 390.93Z" fill="#c8163e"/>
<path d="M257.9 383.4L259.66 386.59L256.14 386.59Z" fill="#c8163e"/>
<path d="M255.52 383.96L257.28 387.15L253.76 387.15Z" fill="#c8163e"/>
<path d="M254.25 379.85L256.01 383.04L252.49 383.04Z" fill="#c8163e"/>
<path d="M255.72 379.08L257.48 382.28L253.96 382.28Z" fill="#c8163e"/>
<path d="M254.68 373.43L256.44 376.62L252.92 376.62Z" fill="#c8163e"/>
<rect x="266.98" y="369.63" width="6.6" height="46.67" fill="#fff" stroke="#3b6ea8" stroke-width="1"/>
<line x1="270.28" y1="362.63" x2="270.28" y2="376.63" stroke="#1c4f8f" stroke-width="0.9"/>
<line x1="268.15" y1="362.63" x2="272.41" y2="362.63" stroke="#1c4f8f" stroke-width="0.9"/>
<line x1="268.15" y1="376.63" x2="272.41" y2="376.63" stroke="#1c4f8f" stroke-width="0.9"/>
<circle cx="270.46" cy="356.57" r="1.6" fill="#1c4f8f"/>
<circle cx="271.72" cy="383.5" r="1.6" fill="#1c4f8f"/>
<circle cx="269.65" cy="377.58" r="1.6" fill="#1c4f8f"/>
<circle cx="268.6" cy="374.63" r="1.6" fill="#1c4f8f"/>
<circle cx="268.12" cy="371.99" r="1.6" fill="#1c4f8f"/>
<circle cx="269.93" cy="368.86" r="1.6" fill="#1c4f8f"/>
<circle cx="270.65" cy="366.67" r="1.6" fill="#1c4f8f"/>
<circle cx="268.12" cy="364.31" r="1.6" fill="#1c4f8f"/>
<circle cx="271.03" cy="361.62" r="1.6" fill="#1c4f8f"/>
<rect x="276.08" y="380.83" width="6.6" height="35.47" fill="#fff" stroke="#d2405e" stroke-width="1"/>
<line x1="279.38" y1="369.17" x2="279.38" y2="392.5" stroke="#c8163e" stroke-width="0.9"/>
<line x1="277.25" y1="369.17" x2="281.51" y2="369.17" stroke="#c8163e" stroke-width="0.9"/>
<line x1="277.25" y1="392.5" x2="281.51" y2="392.5" stroke="#c8163e" stroke-width="0.9"/>
<path d="M278.06 402.58L279.82 405.77L276.3 405.77Z" fill="#c8163e"/>
<path d="M277.59 391.14L279.35 394.33L275.83 394.33Z" fill="#c8163e"/>
<path d="M281.33 389.12L283.09 392.31L279.57 392.31Z" fill="#c8163e"/>
<path d="M279.49 384.74L281.25 387.93L277.73 387.93Z" fill="#c8163e"/>
<path d="M281.18 380.21L282.94 383.4L279.42 383.4Z" fill="#c8163e"/>
<path d="M279.44 375.93L281.2 379.13L277.68 379.13Z" fill="#c8163e"/>
<path d="M277.66 374.33L279.42 377.53L275.9 377.53Z" fill="#c8163e"/>
<path d="M278.19 371.55L279.95 374.74L276.43 374.74Z" fill="#c8163e"/>
<path d="M279.03 364.81L280.79 368L277.27 368Z" fill="#c8163e"/>
<path d="M280.02 357.32L281.78 360.51L278.26 360.51Z" fill="#c8163e"/>
<rect x="290.21" y="369.63" width="6.6" height="46.67" fill="#fff" stroke="#3b6ea8" stroke-width="1"/>
<line x1="293.51" y1="362.63" x2="293.51" y2="376.63" stroke="#1c4f8f" stroke-width="0.9"/>
<line x1="291.38" y1="362.63" x2="295.64" y2="362.63" stroke="#1c4f8f" stroke-width="0.9"/>
<line x1="291.38" y1="376.63" x2="295.64" y2="376.63" stroke="#1c4f8f" stroke-width="0.9"/>
<circle cx="294.75" cy="359.37" r="1.6" fill="#1c4f8f"/>
<circle cx="294.66" cy="383.51" r="1.6" fill="#1c4f8f"/>
<circle cx="294.2" cy="379.91" r="1.6" fill="#1c4f8f"/>
<circle cx="292.38" cy="374.62" r="1.6" fill="#1c4f8f"/>
<circle cx="293.19" cy="374.49" r="1.6" fill="#1c4f8f"/>
<circle cx="292.95" cy="371.49" r="1.6" fill="#1c4f8f"/>
<circle cx="293.46" cy="368.88" r="1.6" fill="#1c4f8f"/>
<circle cx="292.44" cy="364.83" r="1.6" fill="#1c4f8f"/>
<circle cx="293.68" cy="365.05" r="1.6" fill="#1c4f8f"/>
<circle cx="293.32" cy="363.36" r="1.6" fill="#1c4f8f"/>
<rect x="299.31" y="383.17" width="6.6" height="33.13" fill="#fff" stroke="#d2405e" stroke-width="1"/>
<line x1="302.61" y1="376.17" x2="302.61" y2="390.17" stroke="#c8163e" stroke-width="0.9"/>
<line x1="300.48" y1="376.17" x2="304.74" y2="376.17" stroke="#c8163e" stroke-width="0.9"/>
<line x1="300.48" y1="390.17" x2="304.74" y2="390.17" stroke="#c8163e" stroke-width="0.9"/>
<path d="M300.49 393.49L302.25 396.69L298.73 396.69Z" fill="#c8163e"/>
<path d="M304.08 388.48L305.84 391.67L302.32 391.67Z" fill="#c8163e"/>
<path d="M303 386.66L304.76 389.85L301.24 389.85Z" fill="#c8163e"/>
<path d="M303.99 386.13L305.75 389.32L302.23 389.32Z" fill="#c8163e"/>
<path d="M303.69 383.52L305.45 386.71L301.93 386.71Z" fill="#c8163e"/>
<path d="M303.66 380.69L305.42 383.89L301.9 383.89Z" fill="#c8163e"/>
<path d="M304.86 378.05L306.62 381.24L303.1 381.24Z" fill="#c8163e"/>
<path d="M302.05 376.94L303.81 380.13L300.29 380.13Z" fill="#c8163e"/>
<path d="M302.12 371.87L303.88 375.06L300.36 375.06Z" fill="#c8163e"/>
<path d="M300.35 366.82L302.11 370.01L298.59 370.01Z" fill="#c8163e"/>
<rect x="313.44" y="369.63" width="6.6" height="46.67" fill="#fff" stroke="#3b6ea8" stroke-width="1"/>
<line x1="316.74" y1="355.63" x2="316.74" y2="383.63" stroke="#1c4f8f" stroke-width="0.9"/>
<line x1="314.61" y1="355.63" x2="318.87" y2="355.63" stroke="#1c4f8f" stroke-width="0.9"/>
<line x1="314.61" y1="383.63" x2="318.87" y2="383.63" stroke="#1c4f8f" stroke-width="0.9"/>
<circle cx="317.49" cy="355.63" r="1.6" fill="#1c4f8f"/>
<circle cx="317.11" cy="394.22" r="1.6" fill="#1c4f8f"/>
<circle cx="317.09" cy="387.59" r="1.6" fill="#1c4f8f"/>
<circle cx="319.01" cy="380.32" r="1.6" fill="#1c4f8f"/>
<circle cx="315.36" cy="374.01" r="1.6" fill="#1c4f8f"/>
<circle cx="315.5" cy="369.29" r="1.6" fill="#1c4f8f"/>
<circle cx="317.81" cy="366.96" r="1.6" fill="#1c4f8f"/>
<circle cx="318.16" cy="365.32" r="1.6" fill="#1c4f8f"/>
<circle cx="316.66" cy="359.26" r="1.6" fill="#1c4f8f"/>
<circle cx="314.71" cy="355.63" r="1.6" fill="#1c4f8f"/>
<rect x="322.54" y="390.63" width="6.6" height="25.67" fill="#fff" stroke="#d2405e" stroke-width="1"/>
<line x1="325.84" y1="381.3" x2="325.84" y2="399.97" stroke="#c8163e" stroke-width="0.9"/>
<line x1="323.71" y1="381.3" x2="327.97" y2="381.3" stroke="#c8163e" stroke-width="0.9"/>
<line x1="323.71" y1="399.97" x2="327.97" y2="399.97" stroke="#c8163e" stroke-width="0.9"/>
<path d="M325.25 404.4L327.01 407.6L323.49 407.6Z" fill="#c8163e"/>
<path d="M327.33 397.34L329.09 400.53L325.57 400.53Z" fill="#c8163e"/>
<path d="M325.84 392.07L327.6 395.26L324.08 395.26Z" fill="#c8163e"/>
<path d="M325.66 388.15L327.42 391.34L323.9 391.34Z" fill="#c8163e"/>
<path d="M325.34 386.18L327.1 389.37L323.58 389.37Z" fill="#c8163e"/>
<path d="M326.43 381.61L328.19 384.8L324.67 384.8Z" fill="#c8163e"/>
<path d="M326.29 373.87L328.05 377.07L324.53 377.07Z" fill="#c8163e"/>
<rect x="336.67" y="369.63" width="6.6" height="46.67" fill="#fff" stroke="#3b6ea8" stroke-width="1"/>
<line x1="339.97" y1="362.63" x2="339.97" y2="376.63" stroke="#1c4f8f" stroke-width="0.9"/>
<line x1="337.84" y1="362.63" x2="342.1" y2="362.63" stroke="#1c4f8f" stroke-width="0.9"/>
<line x1="337.84" y1="376.63" x2="342.1" y2="376.63" stroke="#1c4f8f" stroke-width="0.9"/>
<circle cx="340.85" cy="359.37" r="1.6" fill="#1c4f8f"/>
<circle cx="341.64" cy="380.13" r="1.6" fill="#1c4f8f"/>
<circle cx="341.12" cy="377.19" r="1.6" fill="#1c4f8f"/>
<circle cx="339.4" cy="374.33" r="1.6" fill="#1c4f8f"/>
<circle cx="338.83" cy="368.1" r="1.6" fill="#1c4f8f"/>
<circle cx="341.26" cy="367.47" r="1.6" fill="#1c4f8f"/>
<circle cx="341.31" cy="364.23" r="1.6" fill="#1c4f8f"/>
<rect x="345.77" y="383.63" width="6.6" height="32.67" fill="#fff" stroke="#d2405e" stroke-width="1"/>
<line x1="349.07" y1="371.97" x2="349.07" y2="395.3" stroke="#c8163e" stroke-width="0.9"/>
<line x1="346.94" y1="371.97" x2="351.2" y2="371.97" stroke="#c8163e" stroke-width="0.9"/>
<line x1="346.94" y1="395.3" x2="351.2" y2="395.3" stroke="#c8163e" stroke-width="0.9"/>
<path d="M351.02 402.73L352.78 405.92L349.26 405.92Z" fill="#c8163e"/>
<path d="M347.7 392.11L349.46 395.3L345.94 395.3Z" fill="#c8163e"/>
<path d="M350.66 387.56L352.42 390.75L348.9 390.75Z" fill="#c8163e"/>
<path d="M350.85 380.73L352.61 383.92L349.09 383.92Z" fill="#c8163e"/>
<path d="M347.14 377.27L348.9 380.46L345.38 380.46Z" fill="#c8163e"/>
<path d="M348.19 372.93L349.95 376.13L346.43 376.13Z" fill="#c8163e"/>
<path d="M349.68 363.15L351.44 366.34L347.92 366.34Z" fill="#c8163e"/>
<rect x="359.9" y="369.63" width="6.6" height="46.67" fill="#fff" stroke="#3b6ea8" stroke-width="1"/>
<line x1="363.2" y1="362.63" x2="363.2" y2="376.63" stroke="#1c4f8f" stroke-width="0.9"/>
<line x1="361.07" y1="362.63" x2="365.33" y2="362.63" stroke="#1c4f8f" stroke-width="0.9"/>
<line x1="361.07" y1="376.63" x2="365.33" y2="376.63" stroke="#1c4f8f" stroke-width="0.9"/>
<circle cx="361.59" cy="360.3" r="1.6" fill="#1c4f8f"/>
<circle cx="364.71" cy="382.33" r="1.6" fill="#1c4f8f"/>
<circle cx="362.13" cy="376.19" r="1.6" fill="#1c4f8f"/>
<circle cx="364.03" cy="373.11" r="1.6" fill="#1c4f8f"/>
<circle cx="362.27" cy="371.69" r="1.6" fill="#1c4f8f"/>
<circle cx="361.92" cy="371.6" r="1.6" fill="#1c4f8f"/>
<circle cx="361.86" cy="365.93" r="1.6" fill="#1c4f8f"/>
<circle cx="363.19" cy="366.43" r="1.6" fill="#1c4f8f"/>
<circle cx="364.17" cy="364.33" r="1.6" fill="#1c4f8f"/>
<rect x="369" y="389.7" width="6.6" height="26.6" fill="#fff" stroke="#d2405e" stroke-width="1"/>
<line x1="372.3" y1="382.7" x2="372.3" y2="396.7" stroke="#c8163e" stroke-width="0.9"/>
<line x1="370.17" y1="382.7" x2="374.43" y2="382.7" stroke="#c8163e" stroke-width="0.9"/>
<line x1="370.17" y1="396.7" x2="374.43" y2="396.7" stroke="#c8163e" stroke-width="0.9"/>
<path d="M371.01 401.25L372.77 404.44L369.25 404.44Z" fill="#c8163e"/>
<path d="M373.15 395.54L374.91 398.73L371.39 398.73Z" fill="#c8163e"/>
<path d="M371.55 392.14L373.31 395.33L369.79 395.33Z" fill="#c8163e"/>
<path d="M372.98 391.36L374.74 394.56L371.22 394.56Z" fill="#c8163e"/>
<path d="M371.7 387.09L373.46 390.29L369.94 390.29Z" fill="#c8163e"/>
<path d="M370.9 385.63L372.66 388.82L369.14 388.82Z" fill="#c8163e"/>
<path d="M370.66 384.39L372.42 387.58L368.9 387.58Z" fill="#c8163e"/>
<path d="M370.28 378.78L372.04 381.97L368.52 381.97Z" fill="#c8163e"/>
<path d="M373.2 373.91L374.96 377.1L371.44 377.1Z" fill="#c8163e"/>
<rect x="383.13" y="369.63" width="6.6" height="46.67" fill="#fff" stroke="#3b6ea8" stroke-width="1"/>
<line x1="386.43" y1="360.3" x2="386.43" y2="378.97" stroke="#1c4f8f" stroke-width="0.9"/>
<line x1="384.3" y1="360.3" x2="388.56" y2="360.3" stroke="#1c4f8f" stroke-width="0.9"/>
<line x1="384.3" y1="378.97" x2="388.56" y2="378.97" stroke="#1c4f8f" stroke-width="0.9"/>
<circle cx="386.04" cy="361.23" r="1.6" fill="#1c4f8f"/>
<circle cx="384.71" cy="387.31" r="1.6" fill="#1c4f8f"/>
<circle cx="388.17" cy="378.27" r="1.6" fill="#1c4f8f"/>
<circle cx="387.14" cy="373.81" r="1.6" fill="#1c4f8f"/>
<circle cx="384.25" cy="372.38" r="1.6" fill="#1c4f8f"/>
<circle cx="387.45" cy="367.73" r="1.6" fill="#1c4f8f"/>
<circle cx="386.86" cy="364.54" r="1.6" fill="#1c4f8f"/>
<circle cx="386.17" cy="364.09" r="1.6" fill="#1c4f8f"/>
<circle cx="386.43" cy="361.23" r="1.6" fill="#1c4f8f"/>
<rect x="392.23" y="394.83" width="6.6" height="21.47" fill="#fff" stroke="#d2405e" stroke-width="1"/>
<line x1="395.53" y1="385.5" x2="395.53" y2="404.17" stroke="#c8163e" stroke-width="0.9"/>
<line x1="393.4" y1="385.5" x2="397.66" y2="385.5" stroke="#c8163e" stroke-width="0.9"/>
<line x1="393.4" y1="404.17" x2="397.66" y2="404.17" stroke="#c8163e" stroke-width="0.9"/>
<path d="M397.64 407.11L399.4 410.3L395.88 410.3Z" fill="#c8163e"/>
<path d="M394.95 400.41L396.71 403.6L393.19 403.6Z" fill="#c8163e"/>
<path d="M396.15 398.76L397.91 401.96L394.39 401.96Z" fill="#c8163e"/>
<path d="M396.15 393.56L397.91 396.75L394.39 396.75Z" fill="#c8163e"/>
<path d="M394.92 388.66L396.68 391.85L393.16 391.85Z" fill="#c8163e"/>
<path d="M394.83 384.11L396.59 387.3L393.07 387.3Z" fill="#c8163e"/>
<path d="M396.69 376.33L398.45 379.52L394.93 379.52Z" fill="#c8163e"/>
<line x1="239.5" y1="344" x2="239.5" y2="418.5" stroke="#222" stroke-width="1"/>
<line x1="236.8" y1="416.3" x2="239.5" y2="416.3" stroke="#333" stroke-width="1"/>
<text x="232.8" y="419.18" font-size="8" text-anchor="end" fill="#2a2a2a">0.0</text>
<line x1="236.8" y1="392.97" x2="239.5" y2="392.97" stroke="#333" stroke-width="1"/>
<text x="232.8" y="395.85" font-size="8" text-anchor="end" fill="#2a2a2a">0.5</text>
<line x1="236.8" y1="369.63" x2="239.5" y2="369.63" stroke="#333" stroke-width="1"/>
<text x="232.8" y="372.51" font-size="8" text-anchor="end" fill="#2a2a2a">1.0</text>
<line x1="236.8" y1="346.3" x2="239.5" y2="346.3" stroke="#333" stroke-width="1"/>
<text x="232.8" y="349.18" font-size="8" text-anchor="end" fill="#2a2a2a">1.5</text>
<rect x="237" y="416" width="166.8" height="2.5" fill="#7a7a7a" stroke="none" stroke-width="1"/>
<line x1="237" y1="418.2" x2="403.8" y2="418.2" stroke="#555" stroke-width="0.7"/>
<path d="M247 348.3V346.3H256.2V353.9" fill="none" stroke="#444" stroke-width="1"/>
<path d="M249.85 341.25L249.85 343.55M248.85 341.83L250.85 342.98M250.85 341.83L248.85 342.98M253.35 341.25L253.35 343.55M252.35 341.83L254.35 342.98M254.35 341.83L252.35 342.98" stroke="#222" stroke-width="0.8" fill="none"/>
<path d="M270.23 348.3V346.3H279.43V353.9" fill="none" stroke="#444" stroke-width="1"/>
<path d="M274.83 341.25L274.83 343.55M273.83 341.83L275.83 342.98M275.83 341.83L273.83 342.98" stroke="#222" stroke-width="0.8" fill="none"/>
<path d="M293.46 348.3V346.3H302.66V353.9" fill="none" stroke="#444" stroke-width="1"/>
<path d="M296.31 341.25L296.31 343.55M295.31 341.83L297.31 342.98M297.31 341.83L295.31 342.98M299.81 341.25L299.81 343.55M298.81 341.83L300.81 342.98M300.81 341.83L298.81 342.98" stroke="#222" stroke-width="0.8" fill="none"/>
<path d="M316.69 349.5V347.5H325.89V355.1" fill="none" stroke="#444" stroke-width="1"/>
<path d="M321.29 342.45L321.29 344.75M320.29 343.03L322.29 344.18M322.29 343.03L320.29 344.18" stroke="#222" stroke-width="0.8" fill="none"/>
<path d="M339.92 349.5V347.5H349.12V355.1" fill="none" stroke="#444" stroke-width="1"/>
<path d="M344.52 342.45L344.52 344.75M343.52 343.03L345.52 344.18M345.52 343.03L343.52 344.18" stroke="#222" stroke-width="0.8" fill="none"/>
<path d="M363.15 349.5V347.5H372.35V355.1" fill="none" stroke="#444" stroke-width="1"/>
<path d="M364.25 342.45L364.25 344.75M363.25 343.03L365.25 344.18M365.25 343.03L363.25 344.18M367.75 342.45L367.75 344.75M366.75 343.03L368.75 344.18M368.75 343.03L366.75 344.18M371.25 342.45L371.25 344.75M370.25 343.03L372.25 344.18M372.25 343.03L370.25 344.18" stroke="#222" stroke-width="0.8" fill="none"/>
<path d="M386.38 349.5V347.5H395.58V355.1" fill="none" stroke="#444" stroke-width="1"/>
<path d="M389.23 342.45L389.23 344.75M388.23 343.03L390.23 344.18M390.23 343.03L388.23 344.18M392.73 342.45L392.73 344.75M391.73 343.03L393.73 344.18M393.73 343.03L391.73 344.18" stroke="#222" stroke-width="0.8" fill="none"/>
<line x1="244" y1="422.3" x2="258.4" y2="422.3" stroke="#333" stroke-width="0.9"/>
<line x1="267.23" y1="422.3" x2="281.63" y2="422.3" stroke="#333" stroke-width="0.9"/>
<line x1="290.46" y1="422.3" x2="304.86" y2="422.3" stroke="#333" stroke-width="0.9"/>
<line x1="313.69" y1="422.3" x2="328.09" y2="422.3" stroke="#333" stroke-width="0.9"/>
<line x1="336.92" y1="422.3" x2="351.32" y2="422.3" stroke="#333" stroke-width="0.9"/>
<line x1="360.15" y1="422.3" x2="374.55" y2="422.3" stroke="#333" stroke-width="0.9"/>
<line x1="383.38" y1="422.3" x2="397.78" y2="422.3" stroke="#333" stroke-width="0.9"/>
<rect x="45.05" y="477.65" width="6.6" height="35.65" fill="#fff" stroke="#3b6ea8" stroke-width="1"/>
<line x1="48.35" y1="470.52" x2="48.35" y2="484.78" stroke="#1c4f8f" stroke-width="0.9"/>
<line x1="46.22" y1="470.52" x2="50.48" y2="470.52" stroke="#1c4f8f" stroke-width="0.9"/>
<line x1="46.22" y1="484.78" x2="50.48" y2="484.78" stroke="#1c4f8f" stroke-width="0.9"/>
<circle cx="50.25" cy="461.61" r="1.6" fill="#1c4f8f"/>
<circle cx="47.04" cy="491.76" r="1.6" fill="#1c4f8f"/>
<circle cx="50.56" cy="487.35" r="1.6" fill="#1c4f8f"/>
<circle cx="49.57" cy="482.09" r="1.6" fill="#1c4f8f"/>
<circle cx="47.12" cy="479.49" r="1.6" fill="#1c4f8f"/>
<circle cx="46.62" cy="477.49" r="1.6" fill="#1c4f8f"/>
<circle cx="46.18" cy="475.61" r="1.6" fill="#1c4f8f"/>
<circle cx="47.03" cy="472.96" r="1.6" fill="#1c4f8f"/>
<circle cx="47.79" cy="471.07" r="1.6" fill="#1c4f8f"/>
<circle cx="46.94" cy="469.45" r="1.6" fill="#1c4f8f"/>
<rect x="54.15" y="498.33" width="6.6" height="14.97" fill="#fff" stroke="#d2405e" stroke-width="1"/>
<line x1="57.45" y1="492.98" x2="57.45" y2="503.67" stroke="#c8163e" stroke-width="0.9"/>
<line x1="55.32" y1="492.98" x2="59.58" y2="492.98" stroke="#c8163e" stroke-width="0.9"/>
<line x1="55.32" y1="503.67" x2="59.58" y2="503.67" stroke="#c8163e" stroke-width="0.9"/>
<path d="M58.14 506.92L59.9 510.11L56.38 510.11Z" fill="#c8163e"/>
<path d="M58.21 503.35L59.97 506.54L56.45 506.54Z" fill="#c8163e"/>
<path d="M56.14 500.16L57.9 503.35L54.38 503.35Z" fill="#c8163e"/>
<path d="M55.93 496.92L57.69 500.11L54.17 500.11Z" fill="#c8163e"/>
<path d="M59.28 496.11L61.04 499.3L57.52 499.3Z" fill="#c8163e"/>
<path d="M56.91 492.17L58.67 495.36L55.15 495.36Z" fill="#c8163e"/>
<path d="M59.4 491.17L61.16 494.36L57.64 494.36Z" fill="#c8163e"/>
<path d="M58.68 487.92L60.44 491.11L56.92 491.11Z" fill="#c8163e"/>
<rect x="68.3" y="477.65" width="6.6" height="35.65" fill="#fff" stroke="#3b6ea8" stroke-width="1"/>
<line x1="71.6" y1="468.74" x2="71.6" y2="486.56" stroke="#1c4f8f" stroke-width="0.9"/>
<line x1="69.47" y1="468.74" x2="73.73" y2="468.74" stroke="#1c4f8f" stroke-width="0.9"/>
<line x1="69.47" y1="486.56" x2="73.73" y2="486.56" stroke="#1c4f8f" stroke-width="0.9"/>
<circle cx="71.69" cy="459.82" r="1.6" fill="#1c4f8f"/>
<circle cx="69.54" cy="490.78" r="1.6" fill="#1c4f8f"/>
<circle cx="72.57" cy="486.41" r="1.6" fill="#1c4f8f"/>
<circle cx="72.76" cy="482.62" r="1.6" fill="#1c4f8f"/>
<circle cx="70.08" cy="477.53" r="1.6" fill="#1c4f8f"/>
<circle cx="69.83" cy="475.43" r="1.6" fill="#1c4f8f"/>
<circle cx="71.48" cy="470.23" r="1.6" fill="#1c4f8f"/>
<rect x="77.4" y="496.54" width="6.6" height="16.76" fill="#fff" stroke="#d2405e" stroke-width="1"/>
<line x1="80.7" y1="491.2" x2="80.7" y2="501.89" stroke="#c8163e" stroke-width="0.9"/>
<line x1="78.57" y1="491.2" x2="82.83" y2="491.2" stroke="#c8163e" stroke-width="0.9"/>
<line x1="78.57" y1="501.89" x2="82.83" y2="501.89" stroke="#c8163e" stroke-width="0.9"/>
<path d="M78.76 503.41L80.52 506.6L77 506.6Z" fill="#c8163e"/>
<path d="M79.91 501.02L81.67 504.21L78.15 504.21Z" fill="#c8163e"/>
<path d="M79.23 497.16L80.99 500.35L77.47 500.35Z" fill="#c8163e"/>
<path d="M81.08 495.58L82.84 498.77L79.32 498.77Z" fill="#c8163e"/>
<path d="M81.4 494.94L83.16 498.13L79.64 498.13Z" fill="#c8163e"/>
<path d="M82.4 492.45L84.16 495.64L80.64 495.64Z" fill="#c8163e"/>
<path d="M79.75 488.98L81.51 492.17L77.99 492.17Z" fill="#c8163e"/>
<path d="M81.92 486.44L83.68 489.63L80.16 489.63Z" fill="#c8163e"/>
<rect x="91.55" y="477.65" width="6.6" height="35.65" fill="#fff" stroke="#3b6ea8" stroke-width="1"/>
<line x1="94.85" y1="468.74" x2="94.85" y2="486.56" stroke="#1c4f8f" stroke-width="0.9"/>
<line x1="92.72" y1="468.74" x2="96.98" y2="468.74" stroke="#1c4f8f" stroke-width="0.9"/>
<line x1="92.72" y1="486.56" x2="96.98" y2="486.56" stroke="#1c4f8f" stroke-width="0.9"/>
<circle cx="96.91" cy="461.61" r="1.6" fill="#1c4f8f"/>
<circle cx="95.1" cy="492.42" r="1.6" fill="#1c4f8f"/>
<circle cx="93.84" cy="485.21" r="1.6" fill="#1c4f8f"/>
<circle cx="92.6" cy="482.37" r="1.6" fill="#1c4f8f"/>
<circle cx="94.44" cy="478.61" r="1.6" fill="#1c4f8f"/>
<circle cx="96.18" cy="477.86" r="1.6" fill="#1c4f8f"/>
<circle cx="96.57" cy="473.56" r="1.6" fill="#1c4f8f"/>
<circle cx="94.68" cy="469.6" r="1.6" fill="#1c4f8f"/>
<rect x="100.65" y="500.82" width="6.6" height="12.48" fill="#fff" stroke="#d2405e" stroke-width="1"/>
<line x1="103.95" y1="495.47" x2="103.95" y2="506.17" stroke="#c8163e" stroke-width="0.9"/>
<line x1="101.82" y1="495.47" x2="106.08" y2="495.47" stroke="#c8163e" stroke-width="0.9"/>
<line x1="101.82" y1="506.17" x2="106.08" y2="506.17" stroke="#c8163e" stroke-width="0.9"/>
<path d="M105.81 507.93L107.57 511.13L104.05 511.13Z" fill="#c8163e"/>
<path d="M105.69 505.78L107.45 508.97L103.93 508.97Z" fill="#c8163e"/>
<path d="M102.88 502.33L104.64 505.53L101.12 505.53Z" fill="#c8163e"/>
<path d="M103.26 502.7L105.02 505.89L101.5 505.89Z" fill="#c8163e"/>
<path d="M104.09 499.78L105.85 502.97L102.33 502.97Z" fill="#c8163e"/>
<path d="M104.64 497.11L106.4 500.3L102.88 500.3Z" fill="#c8163e"/>
<path d="M104.54 495.86L106.3 499.05L102.78 499.05Z" fill="#c8163e"/>
<path d="M102.6 494.62L104.36 497.82L100.84 497.82Z" fill="#c8163e"/>
<path d="M102.4 493.53L104.16 496.72L100.64 496.72Z" fill="#c8163e"/>
<path d="M102.09 487.67L103.85 490.86L100.33 490.86Z" fill="#c8163e"/>
<rect x="114.8" y="477.65" width="6.6" height="35.65" fill="#fff" stroke="#3b6ea8" stroke-width="1"/>
<line x1="118.1" y1="468.74" x2="118.1" y2="486.56" stroke="#1c4f8f" stroke-width="0.9"/>
<line x1="115.97" y1="468.74" x2="120.23" y2="468.74" stroke="#1c4f8f" stroke-width="0.9"/>
<line x1="115.97" y1="486.56" x2="120.23" y2="486.56" stroke="#1c4f8f" stroke-width="0.9"/>
<circle cx="119.44" cy="461.61" r="1.6" fill="#1c4f8f"/>
<circle cx="116.56" cy="491.03" r="1.6" fill="#1c4f8f"/>
<circle cx="120.24" cy="484.63" r="1.6" fill="#1c4f8f"/>
<circle cx="116.02" cy="481.13" r="1.6" fill="#1c4f8f"/>
<circle cx="119.42" cy="478.85" r="1.6" fill="#1c4f8f"/>
<circle cx="118.98" cy="474.63" r="1.6" fill="#1c4f8f"/>
<circle cx="118.12" cy="469.3" r="1.6" fill="#1c4f8f"/>
<rect x="123.9" y="502.96" width="6.6" height="10.34" fill="#fff" stroke="#d2405e" stroke-width="1"/>
<line x1="127.2" y1="498.68" x2="127.2" y2="507.24" stroke="#c8163e" stroke-width="0.9"/>
<line x1="125.07" y1="498.68" x2="129.33" y2="498.68" stroke="#c8163e" stroke-width="0.9"/>
<line x1="125.07" y1="507.24" x2="129.33" y2="507.24" stroke="#c8163e" stroke-width="0.9"/>
<path d="M125.11 508.53L126.87 511.72L123.35 511.72Z" fill="#c8163e"/>
<path d="M125.05 506.21L126.81 509.4L123.29 509.4Z" fill="#c8163e"/>
<path d="M126.4 503.18L128.16 506.37L124.64 506.37Z" fill="#c8163e"/>
<path d="M128.03 503.8L129.79 506.99L126.27 506.99Z" fill="#c8163e"/>
<path d="M125.98 501.74L127.74 504.94L124.22 504.94Z" fill="#c8163e"/>
<path d="M125.5 500.92L127.26 504.11L123.74 504.11Z" fill="#c8163e"/>
<path d="M126.39 498.74L128.15 501.93L124.63 501.93Z" fill="#c8163e"/>
<path d="M128.19 495.54L129.95 498.73L126.43 498.73Z" fill="#c8163e"/>
<path d="M127.69 492.58L129.45 495.77L125.93 495.77Z" fill="#c8163e"/>
<rect x="138.05" y="477.65" width="6.6" height="35.65" fill="#fff" stroke="#3b6ea8" stroke-width="1"/>
<line x1="141.35" y1="472.3" x2="141.35" y2="483" stroke="#1c4f8f" stroke-width="0.9"/>
<line x1="139.22" y1="472.3" x2="143.48" y2="472.3" stroke="#1c4f8f" stroke-width="0.9"/>
<line x1="139.22" y1="483" x2="143.48" y2="483" stroke="#1c4f8f" stroke-width="0.9"/>
<circle cx="139.98" cy="461.61" r="1.6" fill="#1c4f8f"/>
<circle cx="139.86" cy="491.29" r="1.6" fill="#1c4f8f"/>
<circle cx="142.41" cy="486.52" r="1.6" fill="#1c4f8f"/>
<circle cx="140.95" cy="481.2" r="1.6" fill="#1c4f8f"/>
<circle cx="140.56" cy="479.18" r="1.6" fill="#1c4f8f"/>
<circle cx="142.39" cy="477.28" r="1.6" fill="#1c4f8f"/>
<circle cx="140.82" cy="473.97" r="1.6" fill="#1c4f8f"/>
<circle cx="142.69" cy="468.86" r="1.6" fill="#1c4f8f"/>
<rect x="147.15" y="492.98" width="6.6" height="20.32" fill="#fff" stroke="#d2405e" stroke-width="1"/>
<line x1="150.45" y1="482.28" x2="150.45" y2="503.67" stroke="#c8163e" stroke-width="0.9"/>
<line x1="148.32" y1="482.28" x2="152.58" y2="482.28" stroke="#c8163e" stroke-width="0.9"/>
<line x1="148.32" y1="503.67" x2="152.58" y2="503.67" stroke="#c8163e" stroke-width="0.9"/>
<path d="M149.52 510.76L151.28 513.96L147.76 513.96Z" fill="#c8163e"/>
<path d="M152.4 502.51L154.16 505.7L150.64 505.7Z" fill="#c8163e"/>
<path d="M148.36 498.04L150.12 501.23L146.6 501.23Z" fill="#c8163e"/>
<path d="M149.53 494.7L151.29 497.89L147.77 497.89Z" fill="#c8163e"/>
<path d="M149.21 490.99L150.97 494.19L147.45 494.19Z" fill="#c8163e"/>
<path d="M151.92 488.07L153.68 491.26L150.16 491.26Z" fill="#c8163e"/>
<path d="M151.68 484.77L153.44 487.96L149.92 487.96Z" fill="#c8163e"/>
<path d="M149.03 479.27L150.79 482.46L147.27 482.46Z" fill="#c8163e"/>
<path d="M152.53 472.12L154.29 475.31L150.77 475.31Z" fill="#c8163e"/>
<rect x="161.3" y="477.65" width="6.6" height="35.65" fill="#fff" stroke="#3b6ea8" stroke-width="1"/>
<line x1="164.6" y1="466.95" x2="164.6" y2="488.34" stroke="#1c4f8f" stroke-width="0.9"/>
<line x1="162.47" y1="466.95" x2="166.73" y2="466.95" stroke="#1c4f8f" stroke-width="0.9"/>
<line x1="162.47" y1="488.34" x2="166.73" y2="488.34" stroke="#1c4f8f" stroke-width="0.9"/>
<circle cx="165.14" cy="450.91" r="1.6" fill="#1c4f8f"/>
<circle cx="166.42" cy="499.04" r="1.6" fill="#1c4f8f"/>
<circle cx="164.44" cy="489.79" r="1.6" fill="#1c4f8f"/>
<circle cx="165.57" cy="486.21" r="1.6" fill="#1c4f8f"/>
<circle cx="166.58" cy="482.69" r="1.6" fill="#1c4f8f"/>
<circle cx="163.16" cy="479.32" r="1.6" fill="#1c4f8f"/>
<circle cx="165.6" cy="474.7" r="1.6" fill="#1c4f8f"/>
<circle cx="164.32" cy="468.04" r="1.6" fill="#1c4f8f"/>
<circle cx="162.55" cy="464.62" r="1.6" fill="#1c4f8f"/>
<rect x="170.4" y="499.04" width="6.6" height="14.26" fill="#fff" stroke="#d2405e" stroke-width="1"/>
<line x1="173.7" y1="491.91" x2="173.7" y2="506.17" stroke="#c8163e" stroke-width="0.9"/>
<line x1="171.57" y1="491.91" x2="175.83" y2="491.91" stroke="#c8163e" stroke-width="0.9"/>
<line x1="171.57" y1="506.17" x2="175.83" y2="506.17" stroke="#c8163e" stroke-width="0.9"/>
<path d="M173.16 510.23L174.92 513.42L171.4 513.42Z" fill="#c8163e"/>
<path d="M173.64 506.48L175.4 509.67L171.88 509.67Z" fill="#c8163e"/>
<path d="M175.53 502.32L177.29 505.51L173.77 505.51Z" fill="#c8163e"/>
<path d="M173.95 500.52L175.71 503.71L172.19 503.71Z" fill="#c8163e"/>
<path d="M175.54 497.57L177.3 500.76L173.78 500.76Z" fill="#c8163e"/>
<path d="M175.67 496.1L177.43 499.3L173.91 499.3Z" fill="#c8163e"/>
<path d="M175.15 494.41L176.91 497.6L173.39 497.6Z" fill="#c8163e"/>
<path d="M175.57 492.31L177.33 495.5L173.81 495.5Z" fill="#c8163e"/>
<path d="M174.23 488.45L175.99 491.64L172.47 491.64Z" fill="#c8163e"/>
<path d="M171.46 482.78L173.22 485.97L169.7 485.97Z" fill="#c8163e"/>
<rect x="184.55" y="477.65" width="6.6" height="35.65" fill="#fff" stroke="#3b6ea8" stroke-width="1"/>
<line x1="187.85" y1="472.3" x2="187.85" y2="483" stroke="#1c4f8f" stroke-width="0.9"/>
<line x1="185.72" y1="472.3" x2="189.98" y2="472.3" stroke="#1c4f8f" stroke-width="0.9"/>
<line x1="185.72" y1="483" x2="189.98" y2="483" stroke="#1c4f8f" stroke-width="0.9"/>
<circle cx="189.06" cy="470.52" r="1.6" fill="#1c4f8f"/>
<circle cx="190.07" cy="488.29" r="1.6" fill="#1c4f8f"/>
<circle cx="187.95" cy="483.81" r="1.6" fill="#1c4f8f"/>
<circle cx="188.86" cy="479.68" r="1.6" fill="#1c4f8f"/>
<circle cx="185.58" cy="478.77" r="1.6" fill="#1c4f8f"/>
<circle cx="189.62" cy="478.41" r="1.6" fill="#1c4f8f"/>
<circle cx="189.54" cy="475.1" r="1.6" fill="#1c4f8f"/>
<circle cx="190.07" cy="473.48" r="1.6" fill="#1c4f8f"/>
<circle cx="189.94" cy="471.12" r="1.6" fill="#1c4f8f"/>
<rect x="193.65" y="497.97" width="6.6" height="15.33" fill="#fff" stroke="#d2405e" stroke-width="1"/>
<line x1="196.95" y1="492.62" x2="196.95" y2="503.32" stroke="#c8163e" stroke-width="0.9"/>
<line x1="194.82" y1="492.62" x2="199.08" y2="492.62" stroke="#c8163e" stroke-width="0.9"/>
<line x1="194.82" y1="503.32" x2="199.08" y2="503.32" stroke="#c8163e" stroke-width="0.9"/>
<path d="M195.08 507.46L196.84 510.66L193.32 510.66Z" fill="#c8163e"/>
<path d="M196.53 503.78L198.29 506.97L194.77 506.97Z" fill="#c8163e"/>
<path d="M199.16 499.67L200.92 502.86L197.4 502.86Z" fill="#c8163e"/>
<path d="M198.61 499.07L200.37 502.27L196.85 502.27Z" fill="#c8163e"/>
<path d="M198.26 496.75L200.02 499.94L196.5 499.94Z" fill="#c8163e"/>
<path d="M196.9 494.46L198.66 497.65L195.14 497.65Z" fill="#c8163e"/>
<path d="M195.88 492.97L197.64 496.16L194.12 496.16Z" fill="#c8163e"/>
<path d="M197.25 491.37L199.01 494.56L195.49 494.56Z" fill="#c8163e"/>
<path d="M197.59 491.12L199.35 494.31L195.83 494.31Z" fill="#c8163e"/>
<path d="M199.1 485.81L200.86 489L197.34 489Z" fill="#c8163e"/>
<line x1="40.5" y1="439.7" x2="40.5" y2="515.5" stroke="#222" stroke-width="1"/>
<line x1="37.3" y1="513.3" x2="40" y2="513.3" stroke="#333" stroke-width="1"/>
<text x="33.3" y="516.18" font-size="8" text-anchor="end" fill="#2a2a2a">0.0</text>
<line x1="37.3" y1="495.47" x2="40" y2="495.47" stroke="#333" stroke-width="1"/>
<text x="33.3" y="498.35" font-size="8" text-anchor="end" fill="#2a2a2a">0.5</text>
<line x1="37.3" y1="477.65" x2="40" y2="477.65" stroke="#333" stroke-width="1"/>
<text x="33.3" y="480.53" font-size="8" text-anchor="end" fill="#2a2a2a">1.0</text>
<line x1="37.3" y1="459.82" x2="40" y2="459.82" stroke="#333" stroke-width="1"/>
<text x="33.3" y="462.7" font-size="8" text-anchor="end" fill="#2a2a2a">1.5</text>
<line x1="37.3" y1="442" x2="40" y2="442" stroke="#333" stroke-width="1"/>
<text x="33.3" y="444.88" font-size="8" text-anchor="end" fill="#2a2a2a">2.0</text>
<rect x="37.5" y="513" width="168.2" height="2.5" fill="#7a7a7a" stroke="none" stroke-width="1"/>
<line x1="37.5" y1="515.2" x2="205.7" y2="515.2" stroke="#555" stroke-width="0.7"/>
<path d="M48.3 450.8V448.8H57.5V457.5" fill="none" stroke="#444" stroke-width="1"/>
<path d="M49.4 443.75L49.4 446.05M48.4 444.33L50.4 445.48M50.4 444.33L48.4 445.48M52.9 443.75L52.9 446.05M51.9 444.33L53.9 445.48M53.9 444.33L51.9 445.48M56.4 443.75L56.4 446.05M55.4 444.33L57.4 445.48M57.4 444.33L55.4 445.48" stroke="#222" stroke-width="0.8" fill="none"/>
<path d="M71.55 450.8V448.8H80.75V457.5" fill="none" stroke="#444" stroke-width="1"/>
<path d="M72.65 443.75L72.65 446.05M71.65 444.33L73.65 445.48M73.65 444.33L71.65 445.48M76.15 443.75L76.15 446.05M75.15 444.33L77.15 445.48M77.15 444.33L75.15 445.48M79.65 443.75L79.65 446.05M78.65 444.33L80.65 445.48M80.65 444.33L78.65 445.48" stroke="#222" stroke-width="0.8" fill="none"/>
<path d="M94.8 450.8V448.8H104V457.5" fill="none" stroke="#444" stroke-width="1"/>
<path d="M95.9 443.75L95.9 446.05M94.9 444.33L96.9 445.48M96.9 444.33L94.9 445.48M99.4 443.75L99.4 446.05M98.4 444.33L100.4 445.48M100.4 444.33L98.4 445.48M102.9 443.75L102.9 446.05M101.9 444.33L103.9 445.48M103.9 444.33L101.9 445.48" stroke="#222" stroke-width="0.8" fill="none"/>
<path d="M118.05 450.8V448.8H127.25V457.5" fill="none" stroke="#444" stroke-width="1"/>
<path d="M119.15 443.75L119.15 446.05M118.15 444.33L120.15 445.48M120.15 444.33L118.15 445.48M122.65 443.75L122.65 446.05M121.65 444.33L123.65 445.48M123.65 444.33L121.65 445.48M126.15 443.75L126.15 446.05M125.15 444.33L127.15 445.48M127.15 444.33L125.15 445.48" stroke="#222" stroke-width="0.8" fill="none"/>
<path d="M141.3 451.7V449.7H150.5V459.2" fill="none" stroke="#444" stroke-width="1"/>
<path d="M144.15 444.65L144.15 446.95M143.15 445.23L145.15 446.38M145.15 445.23L143.15 446.38M147.65 444.65L147.65 446.95M146.65 445.23L148.65 446.38M148.65 445.23L146.65 446.38" stroke="#222" stroke-width="0.8" fill="none"/>
<path d="M164.55 449.1V447.1H173.75V456.6" fill="none" stroke="#444" stroke-width="1"/>
<path d="M167.4 442.05L167.4 444.35M166.4 442.63L168.4 443.78M168.4 442.63L166.4 443.78M170.9 442.05L170.9 444.35M169.9 442.63L171.9 443.78M171.9 442.63L169.9 443.78" stroke="#222" stroke-width="0.8" fill="none"/>
<path d="M187.8 455.2V453.2H197V462.7" fill="none" stroke="#444" stroke-width="1"/>
<path d="M188.9 448.15L188.9 450.45M187.9 448.73L189.9 449.88M189.9 448.73L187.9 449.88M192.4 448.15L192.4 450.45M191.4 448.73L193.4 449.88M193.4 448.73L191.4 449.88M195.9 448.15L195.9 450.45M194.9 448.73L196.9 449.88M196.9 448.73L194.9 449.88" stroke="#222" stroke-width="0.8" fill="none"/>
<line x1="44.5" y1="517.2" x2="58.2" y2="517.2" stroke="#333" stroke-width="0.9"/>
<line x1="67.75" y1="517.2" x2="81.45" y2="517.2" stroke="#333" stroke-width="0.9"/>
<line x1="91" y1="517.2" x2="104.7" y2="517.2" stroke="#333" stroke-width="0.9"/>
<line x1="114.25" y1="517.2" x2="127.95" y2="517.2" stroke="#333" stroke-width="0.9"/>
<line x1="137.5" y1="517.2" x2="151.2" y2="517.2" stroke="#333" stroke-width="0.9"/>
<line x1="160.75" y1="517.2" x2="174.45" y2="517.2" stroke="#333" stroke-width="0.9"/>
<line x1="184" y1="517.2" x2="197.7" y2="517.2" stroke="#333" stroke-width="0.9"/>
<rect x="243.75" y="485.28" width="6.6" height="28.52" fill="#fff" stroke="#3b6ea8" stroke-width="1"/>
<line x1="247.05" y1="481" x2="247.05" y2="489.56" stroke="#1c4f8f" stroke-width="0.9"/>
<line x1="244.92" y1="481" x2="249.18" y2="481" stroke="#1c4f8f" stroke-width="0.9"/>
<line x1="244.92" y1="489.56" x2="249.18" y2="489.56" stroke="#1c4f8f" stroke-width="0.9"/>
<circle cx="245.91" cy="478.15" r="1.6" fill="#1c4f8f"/>
<circle cx="246.4" cy="491.56" r="1.6" fill="#1c4f8f"/>
<circle cx="247.04" cy="490.85" r="1.6" fill="#1c4f8f"/>
<circle cx="246.23" cy="486.86" r="1.6" fill="#1c4f8f"/>
<circle cx="245.23" cy="486.17" r="1.6" fill="#1c4f8f"/>
<circle cx="246.59" cy="485.11" r="1.6" fill="#1c4f8f"/>
<circle cx="247.76" cy="483.18" r="1.6" fill="#1c4f8f"/>
<circle cx="248.49" cy="482.81" r="1.6" fill="#1c4f8f"/>
<circle cx="248.24" cy="480.03" r="1.6" fill="#1c4f8f"/>
<rect x="252.85" y="495.55" width="6.6" height="18.25" fill="#fff" stroke="#d2405e" stroke-width="1"/>
<line x1="256.15" y1="491.27" x2="256.15" y2="499.83" stroke="#c8163e" stroke-width="0.9"/>
<line x1="254.02" y1="491.27" x2="258.28" y2="491.27" stroke="#c8163e" stroke-width="0.9"/>
<line x1="254.02" y1="499.83" x2="258.28" y2="499.83" stroke="#c8163e" stroke-width="0.9"/>
<path d="M257.9 501.23L259.66 504.42L256.14 504.42Z" fill="#c8163e"/>
<path d="M257.52 497.59L259.28 500.79L255.76 500.79Z" fill="#c8163e"/>
<path d="M255.75 494.59L257.51 497.78L253.99 497.78Z" fill="#c8163e"/>
<path d="M256.81 493.4L258.57 496.59L255.05 496.59Z" fill="#c8163e"/>
<path d="M254.12 491.04L255.88 494.23L252.36 494.23Z" fill="#c8163e"/>
<path d="M257.49 489.92L259.25 493.11L255.73 493.11Z" fill="#c8163e"/>
<path d="M257.1 486.58L258.86 489.77L255.34 489.77Z" fill="#c8163e"/>
<rect x="266.98" y="485.28" width="6.6" height="28.52" fill="#fff" stroke="#3b6ea8" stroke-width="1"/>
<line x1="270.28" y1="481" x2="270.28" y2="489.56" stroke="#1c4f8f" stroke-width="0.9"/>
<line x1="268.15" y1="481" x2="272.41" y2="481" stroke="#1c4f8f" stroke-width="0.9"/>
<line x1="268.15" y1="489.56" x2="272.41" y2="489.56" stroke="#1c4f8f" stroke-width="0.9"/>
<circle cx="269.21" cy="474.44" r="1.6" fill="#1c4f8f"/>
<circle cx="270.15" cy="494.66" r="1.6" fill="#1c4f8f"/>
<circle cx="269.24" cy="491.21" r="1.6" fill="#1c4f8f"/>
<circle cx="271.63" cy="487.86" r="1.6" fill="#1c4f8f"/>
<circle cx="269.95" cy="486.7" r="1.6" fill="#1c4f8f"/>
<circle cx="271.56" cy="484.13" r="1.6" fill="#1c4f8f"/>
<circle cx="272.21" cy="482.54" r="1.6" fill="#1c4f8f"/>
<circle cx="271.55" cy="480.45" r="1.6" fill="#1c4f8f"/>
<rect x="276.08" y="491.27" width="6.6" height="22.53" fill="#fff" stroke="#d2405e" stroke-width="1"/>
<line x1="279.38" y1="485.57" x2="279.38" y2="496.97" stroke="#c8163e" stroke-width="0.9"/>
<line x1="277.25" y1="485.57" x2="281.51" y2="485.57" stroke="#c8163e" stroke-width="0.9"/>
<line x1="277.25" y1="496.97" x2="281.51" y2="496.97" stroke="#c8163e" stroke-width="0.9"/>
<path d="M278.83 500.85L280.59 504.04L277.07 504.04Z" fill="#c8163e"/>
<path d="M278.66 495.34L280.42 498.53L276.9 498.53Z" fill="#c8163e"/>
<path d="M281.41 493.03L283.17 496.22L279.65 496.22Z" fill="#c8163e"/>
<path d="M281.22 492.65L282.98 495.84L279.46 495.84Z" fill="#c8163e"/>
<path d="M277.96 491L279.72 494.19L276.2 494.19Z" fill="#c8163e"/>
<path d="M278.75 488.53L280.51 491.72L276.99 491.72Z" fill="#c8163e"/>
<path d="M280.69 485.87L282.45 489.06L278.93 489.06Z" fill="#c8163e"/>
<path d="M280.55 485.78L282.31 488.98L278.79 488.98Z" fill="#c8163e"/>
<path d="M278.39 481.63L280.15 484.83L276.63 484.83Z" fill="#c8163e"/>
<path d="M279.14 479.37L280.9 482.57L277.38 482.57Z" fill="#c8163e"/>
<rect x="290.21" y="485.28" width="6.6" height="28.52" fill="#fff" stroke="#3b6ea8" stroke-width="1"/>
<line x1="293.51" y1="482.43" x2="293.51" y2="488.13" stroke="#1c4f8f" stroke-width="0.9"/>
<line x1="291.38" y1="482.43" x2="295.64" y2="482.43" stroke="#1c4f8f" stroke-width="0.9"/>
<line x1="291.38" y1="488.13" x2="295.64" y2="488.13" stroke="#1c4f8f" stroke-width="0.9"/>
<circle cx="295.62" cy="481" r="1.6" fill="#1c4f8f"/>
<circle cx="291.64" cy="490.16" r="1.6" fill="#1c4f8f"/>
<circle cx="292.48" cy="489.19" r="1.6" fill="#1c4f8f"/>
<circle cx="294.26" cy="487.39" r="1.6" fill="#1c4f8f"/>
<circle cx="295.37" cy="487.67" r="1.6" fill="#1c4f8f"/>
<circle cx="295.55" cy="485.37" r="1.6" fill="#1c4f8f"/>
<circle cx="293.37" cy="484" r="1.6" fill="#1c4f8f"/>
<circle cx="294.83" cy="482.9" r="1.6" fill="#1c4f8f"/>
<circle cx="295.66" cy="482.17" r="1.6" fill="#1c4f8f"/>
<circle cx="292.73" cy="481.85" r="1.6" fill="#1c4f8f"/>
<rect x="299.31" y="495.55" width="6.6" height="18.25" fill="#fff" stroke="#d2405e" stroke-width="1"/>
<line x1="302.61" y1="491.27" x2="302.61" y2="499.83" stroke="#c8163e" stroke-width="0.9"/>
<line x1="300.48" y1="491.27" x2="304.74" y2="491.27" stroke="#c8163e" stroke-width="0.9"/>
<line x1="300.48" y1="499.83" x2="304.74" y2="499.83" stroke="#c8163e" stroke-width="0.9"/>
<path d="M301.37 502.81L303.13 506.01L299.61 506.01Z" fill="#c8163e"/>
<path d="M301.51 497.7L303.27 500.89L299.75 500.89Z" fill="#c8163e"/>
<path d="M303.9 497.79L305.66 500.99L302.14 500.99Z" fill="#c8163e"/>
<path d="M300.97 496.73L302.73 499.93L299.21 499.93Z" fill="#c8163e"/>
<path d="M302.82 493.73L304.58 496.92L301.06 496.92Z" fill="#c8163e"/>
<path d="M304.57 493.09L306.33 496.28L302.81 496.28Z" fill="#c8163e"/>
<path d="M301.25 491.15L303.01 494.34L299.49 494.34Z" fill="#c8163e"/>
<path d="M303.2 490.09L304.96 493.28L301.44 493.28Z" fill="#c8163e"/>
<path d="M302.75 488.3L304.51 491.5L300.99 491.5Z" fill="#c8163e"/>
<path d="M304.74 485.18L306.5 488.37L302.98 488.37Z" fill="#c8163e"/>
<rect x="313.44" y="485.28" width="6.6" height="28.52" fill="#fff" stroke="#3b6ea8" stroke-width="1"/>
<line x1="316.74" y1="471.02" x2="316.74" y2="499.54" stroke="#1c4f8f" stroke-width="0.9"/>
<line x1="314.61" y1="471.02" x2="318.87" y2="471.02" stroke="#1c4f8f" stroke-width="0.9"/>
<line x1="314.61" y1="499.54" x2="318.87" y2="499.54" stroke="#1c4f8f" stroke-width="0.9"/>
<circle cx="316.8" cy="457.33" r="1.6" fill="#1c4f8f"/>
<circle cx="316.7" cy="502.39" r="1.6" fill="#1c4f8f"/>
<circle cx="318.58" cy="502.39" r="1.6" fill="#1c4f8f"/>
<circle cx="317.89" cy="496.74" r="1.6" fill="#1c4f8f"/>
<circle cx="315.12" cy="490.72" r="1.6" fill="#1c4f8f"/>
<circle cx="318.13" cy="485.92" r="1.6" fill="#1c4f8f"/>
<circle cx="316.28" cy="483.54" r="1.6" fill="#1c4f8f"/>
<circle cx="318.88" cy="478.12" r="1.6" fill="#1c4f8f"/>
<circle cx="318.85" cy="474.25" r="1.6" fill="#1c4f8f"/>
<circle cx="316.71" cy="469.7" r="1.6" fill="#1c4f8f"/>
<rect x="322.54" y="497.54" width="6.6" height="16.26" fill="#fff" stroke="#d2405e" stroke-width="1"/>
<line x1="325.84" y1="488.99" x2="325.84" y2="506.1" stroke="#c8163e" stroke-width="0.9"/>
<line x1="323.71" y1="488.99" x2="327.97" y2="488.99" stroke="#c8163e" stroke-width="0.9"/>
<line x1="323.71" y1="506.1" x2="327.97" y2="506.1" stroke="#c8163e" stroke-width="0.9"/>
<path d="M325.46 510.89L327.22 514.08L323.7 514.08Z" fill="#c8163e"/>
<path d="M324.6 504.86L326.36 508.05L322.84 508.05Z" fill="#c8163e"/>
<path d="M324.82 501.75L326.58 504.95L323.06 504.95Z" fill="#c8163e"/>
<path d="M324.5 498.99L326.26 502.18L322.74 502.18Z" fill="#c8163e"/>
<path d="M324.33 495.19L326.09 498.38L322.57 498.38Z" fill="#c8163e"/>
<path d="M326.89 493.56L328.65 496.75L325.13 496.75Z" fill="#c8163e"/>
<path d="M323.79 489.53L325.55 492.72L322.03 492.72Z" fill="#c8163e"/>
<path d="M326.29 486.77L328.05 489.96L324.53 489.96Z" fill="#c8163e"/>
<path d="M326.29 478.99L328.05 482.18L324.53 482.18Z" fill="#c8163e"/>
<rect x="336.67" y="485.28" width="6.6" height="28.52" fill="#fff" stroke="#3b6ea8" stroke-width="1"/>
<line x1="339.97" y1="476.72" x2="339.97" y2="493.84" stroke="#1c4f8f" stroke-width="0.9"/>
<line x1="337.84" y1="476.72" x2="342.1" y2="476.72" stroke="#1c4f8f" stroke-width="0.9"/>
<line x1="337.84" y1="493.84" x2="342.1" y2="493.84" stroke="#1c4f8f" stroke-width="0.9"/>
<circle cx="341.04" cy="466.74" r="1.6" fill="#1c4f8f"/>
<circle cx="340.28" cy="502" r="1.6" fill="#1c4f8f"/>
<circle cx="341.92" cy="496.36" r="1.6" fill="#1c4f8f"/>
<circle cx="338.97" cy="490.73" r="1.6" fill="#1c4f8f"/>
<circle cx="338.11" cy="488" r="1.6" fill="#1c4f8f"/>
<circle cx="340.35" cy="487.64" r="1.6" fill="#1c4f8f"/>
<circle cx="338.92" cy="483.61" r="1.6" fill="#1c4f8f"/>
<circle cx="342.2" cy="480.36" r="1.6" fill="#1c4f8f"/>
<circle cx="341.89" cy="479.64" r="1.6" fill="#1c4f8f"/>
<circle cx="340.83" cy="474.94" r="1.6" fill="#1c4f8f"/>
<rect x="345.77" y="497.83" width="6.6" height="15.97" fill="#fff" stroke="#d2405e" stroke-width="1"/>
<line x1="349.07" y1="493.55" x2="349.07" y2="502.11" stroke="#c8163e" stroke-width="0.9"/>
<line x1="346.94" y1="493.55" x2="351.2" y2="493.55" stroke="#c8163e" stroke-width="0.9"/>
<line x1="346.94" y1="502.11" x2="351.2" y2="502.11" stroke="#c8163e" stroke-width="0.9"/>
<path d="M350.59 503.63L352.35 506.83L348.83 506.83Z" fill="#c8163e"/>
<path d="M347.9 499.84L349.66 503.03L346.14 503.03Z" fill="#c8163e"/>
<path d="M349 496.85L350.76 500.04L347.24 500.04Z" fill="#c8163e"/>
<path d="M348.54 495.77L350.3 498.96L346.78 498.96Z" fill="#c8163e"/>
<path d="M348.36 495.27L350.12 498.46L346.6 498.46Z" fill="#c8163e"/>
<path d="M348.49 493.13L350.25 496.33L346.73 496.33Z" fill="#c8163e"/>
<path d="M348.97 488.4L350.73 491.59L347.21 491.59Z" fill="#c8163e"/>
<rect x="359.9" y="485.28" width="6.6" height="28.52" fill="#fff" stroke="#3b6ea8" stroke-width="1"/>
<line x1="363.2" y1="476.72" x2="363.2" y2="493.84" stroke="#1c4f8f" stroke-width="0.9"/>
<line x1="361.07" y1="476.72" x2="365.33" y2="476.72" stroke="#1c4f8f" stroke-width="0.9"/>
<line x1="361.07" y1="493.84" x2="365.33" y2="493.84" stroke="#1c4f8f" stroke-width="0.9"/>
<circle cx="363.9" cy="456.76" r="1.6" fill="#1c4f8f"/>
<circle cx="361.03" cy="502.39" r="1.6" fill="#1c4f8f"/>
<circle cx="363.38" cy="498.95" r="1.6" fill="#1c4f8f"/>
<circle cx="361.5" cy="493.18" r="1.6" fill="#1c4f8f"/>
<circle cx="365.34" cy="486.83" r="1.6" fill="#1c4f8f"/>
<circle cx="363.44" cy="481.55" r="1.6" fill="#1c4f8f"/>
<circle cx="363.61" cy="478.95" r="1.6" fill="#1c4f8f"/>
<circle cx="362.36" cy="470.72" r="1.6" fill="#1c4f8f"/>
<rect x="369" y="498.4" width="6.6" height="15.4" fill="#fff" stroke="#d2405e" stroke-width="1"/>
<line x1="372.3" y1="492.7" x2="372.3" y2="504.1" stroke="#c8163e" stroke-width="0.9"/>
<line x1="370.17" y1="492.7" x2="374.43" y2="492.7" stroke="#c8163e" stroke-width="0.9"/>
<line x1="370.17" y1="504.1" x2="374.43" y2="504.1" stroke="#c8163e" stroke-width="0.9"/>
<path d="M373.24 506.91L375 510.1L371.48 510.1Z" fill="#c8163e"/>
<path d="M373.26 502.11L375.02 505.3L371.5 505.3Z" fill="#c8163e"/>
<path d="M374.17 500.55L375.93 503.74L372.41 503.74Z" fill="#c8163e"/>
<path d="M372.67 496.92L374.43 500.11L370.91 500.11Z" fill="#c8163e"/>
<path d="M371.25 495.81L373.01 499L369.49 499Z" fill="#c8163e"/>
<path d="M372.89 494.24L374.65 497.43L371.13 497.43Z" fill="#c8163e"/>
<path d="M370.25 490.37L372.01 493.56L368.49 493.56Z" fill="#c8163e"/>
<path d="M373.41 486.18L375.17 489.37L371.65 489.37Z" fill="#c8163e"/>
<rect x="383.13" y="485.28" width="6.6" height="28.52" fill="#fff" stroke="#3b6ea8" stroke-width="1"/>
<line x1="386.43" y1="476.72" x2="386.43" y2="493.84" stroke="#1c4f8f" stroke-width="0.9"/>
<line x1="384.3" y1="476.72" x2="388.56" y2="476.72" stroke="#1c4f8f" stroke-width="0.9"/>
<line x1="384.3" y1="493.84" x2="388.56" y2="493.84" stroke="#1c4f8f" stroke-width="0.9"/>
<circle cx="385.55" cy="468.17" r="1.6" fill="#1c4f8f"/>
<circle cx="387.43" cy="500.82" r="1.6" fill="#1c4f8f"/>
<circle cx="384.75" cy="494.1" r="1.6" fill="#1c4f8f"/>
<circle cx="386.87" cy="490.98" r="1.6" fill="#1c4f8f"/>
<circle cx="384.92" cy="487.1" r="1.6" fill="#1c4f8f"/>
<circle cx="384.32" cy="483.36" r="1.6" fill="#1c4f8f"/>
<circle cx="385.35" cy="480.54" r="1.6" fill="#1c4f8f"/>
<circle cx="388.02" cy="476.09" r="1.6" fill="#1c4f8f"/>
<rect x="392.23" y="496.69" width="6.6" height="17.11" fill="#fff" stroke="#d2405e" stroke-width="1"/>
<line x1="395.53" y1="490.98" x2="395.53" y2="502.39" stroke="#c8163e" stroke-width="0.9"/>
<line x1="393.4" y1="490.98" x2="397.66" y2="490.98" stroke="#c8163e" stroke-width="0.9"/>
<line x1="393.4" y1="502.39" x2="397.66" y2="502.39" stroke="#c8163e" stroke-width="0.9"/>
<path d="M395.02 504.53L396.78 507.72L393.26 507.72Z" fill="#c8163e"/>
<path d="M395.63 501.01L397.39 504.2L393.87 504.2Z" fill="#c8163e"/>
<path d="M396.85 496.75L398.61 499.94L395.09 499.94Z" fill="#c8163e"/>
<path d="M397.71 495.09L399.47 498.28L395.95 498.28Z" fill="#c8163e"/>
<path d="M394.43 491.89L396.19 495.08L392.67 495.08Z" fill="#c8163e"/>
<path d="M396.41 488.59L398.17 491.78L394.65 491.78Z" fill="#c8163e"/>
<path d="M396.82 485.2L398.58 488.39L395.06 488.39Z" fill="#c8163e"/>
<line x1="239.5" y1="440.2" x2="239.5" y2="516" stroke="#222" stroke-width="1"/>
<line x1="236.6" y1="513.8" x2="239.3" y2="513.8" stroke="#333" stroke-width="1"/>
<text x="232.6" y="516.68" font-size="8" text-anchor="end" fill="#2a2a2a">0.0</text>
<line x1="236.6" y1="499.54" x2="239.3" y2="499.54" stroke="#333" stroke-width="1"/>
<text x="232.6" y="502.42" font-size="8" text-anchor="end" fill="#2a2a2a">0.5</text>
<line x1="236.6" y1="485.28" x2="239.3" y2="485.28" stroke="#333" stroke-width="1"/>
<text x="232.6" y="488.16" font-size="8" text-anchor="end" fill="#2a2a2a">1.0</text>
<line x1="236.6" y1="471.02" x2="239.3" y2="471.02" stroke="#333" stroke-width="1"/>
<text x="232.6" y="473.9" font-size="8" text-anchor="end" fill="#2a2a2a">1.5</text>
<line x1="236.6" y1="456.76" x2="239.3" y2="456.76" stroke="#333" stroke-width="1"/>
<text x="232.6" y="459.64" font-size="8" text-anchor="end" fill="#2a2a2a">2.0</text>
<line x1="236.6" y1="442.5" x2="239.3" y2="442.5" stroke="#333" stroke-width="1"/>
<text x="232.6" y="445.38" font-size="8" text-anchor="end" fill="#2a2a2a">2.5</text>
<rect x="236.8" y="513.5" width="167" height="2.5" fill="#7a7a7a" stroke="none" stroke-width="1"/>
<line x1="236.8" y1="515.7" x2="403.8" y2="515.7" stroke="#555" stroke-width="0.7"/>
<path d="M247 457V455H256.2V463.7" fill="none" stroke="#444" stroke-width="1"/>
<path d="M248.1 449.95L248.1 452.25M247.1 450.53L249.1 451.68M249.1 450.53L247.1 451.68M251.6 449.95L251.6 452.25M250.6 450.53L252.6 451.68M252.6 450.53L250.6 451.68M255.1 449.95L255.1 452.25M254.1 450.53L256.1 451.68M256.1 450.53L254.1 451.68" stroke="#222" stroke-width="0.8" fill="none"/>
<path d="M270.23 457V455H279.43V463.7" fill="none" stroke="#444" stroke-width="1"/>
<path d="M274.83 449.95L274.83 452.25M273.83 450.53L275.83 451.68M275.83 450.53L273.83 451.68" stroke="#222" stroke-width="0.8" fill="none"/>
<path d="M293.46 457V455H302.66V463.7" fill="none" stroke="#444" stroke-width="1"/>
<path d="M294.56 449.95L294.56 452.25M293.56 450.53L295.56 451.68M295.56 450.53L293.56 451.68M298.06 449.95L298.06 452.25M297.06 450.53L299.06 451.68M299.06 450.53L297.06 451.68M301.56 449.95L301.56 452.25M300.56 450.53L302.56 451.68M302.56 450.53L300.56 451.68" stroke="#222" stroke-width="0.8" fill="none"/>
<path d="M316.69 452V450H325.89V459.5" fill="none" stroke="#444" stroke-width="1"/>
<path d="M321.29 444.95L321.29 447.25M320.29 445.53L322.29 446.68M322.29 445.53L320.29 446.68" stroke="#222" stroke-width="0.8" fill="none"/>
<path d="M339.92 452.9V450.9H349.12V460.4" fill="none" stroke="#444" stroke-width="1"/>
<path d="M342.77 445.85L342.77 448.15M341.77 446.43L343.77 447.57M343.77 446.43L341.77 447.57M346.27 445.85L346.27 448.15M345.27 446.43L347.27 447.57M347.27 446.43L345.27 447.57" stroke="#222" stroke-width="0.8" fill="none"/>
<path d="M363.15 453.5V451.5H372.35V461" fill="none" stroke="#444" stroke-width="1"/>
<path d="M367.75 446.45L367.75 448.75M366.75 447.03L368.75 448.18M368.75 447.03L366.75 448.18" stroke="#222" stroke-width="0.8" fill="none"/>
<path d="M386.38 453.5V451.5H395.58V461" fill="none" stroke="#444" stroke-width="1"/>
<path d="M390.98 446.45L390.98 448.75M389.98 447.03L391.98 448.18M391.98 447.03L389.98 448.18" stroke="#222" stroke-width="0.8" fill="none"/>
<line x1="240.6" y1="518.7" x2="257.4" y2="518.7" stroke="#333" stroke-width="0.9"/>
<line x1="263.83" y1="518.7" x2="280.63" y2="518.7" stroke="#333" stroke-width="0.9"/>
<line x1="287.06" y1="518.7" x2="303.86" y2="518.7" stroke="#333" stroke-width="0.9"/>
<line x1="310.29" y1="518.7" x2="327.09" y2="518.7" stroke="#333" stroke-width="0.9"/>
<line x1="333.52" y1="518.7" x2="350.32" y2="518.7" stroke="#333" stroke-width="0.9"/>
<line x1="356.75" y1="518.7" x2="373.55" y2="518.7" stroke="#333" stroke-width="0.9"/>
<line x1="379.98" y1="518.7" x2="396.78" y2="518.7" stroke="#333" stroke-width="0.9"/>
<rect x="45.05" y="585.5" width="6.6" height="24" fill="#fff" stroke="#3b6ea8" stroke-width="1"/>
<line x1="48.35" y1="580.7" x2="48.35" y2="590.3" stroke="#1c4f8f" stroke-width="0.9"/>
<line x1="46.22" y1="580.7" x2="50.48" y2="580.7" stroke="#1c4f8f" stroke-width="0.9"/>
<line x1="46.22" y1="590.3" x2="50.48" y2="590.3" stroke="#1c4f8f" stroke-width="0.9"/>
<circle cx="46.4" cy="577.1" r="1.6" fill="#1c4f8f"/>
<circle cx="47.01" cy="593.97" r="1.6" fill="#1c4f8f"/>
<circle cx="49.24" cy="589.93" r="1.6" fill="#1c4f8f"/>
<circle cx="50.29" cy="589.21" r="1.6" fill="#1c4f8f"/>
<circle cx="46.4" cy="587.02" r="1.6" fill="#1c4f8f"/>
<circle cx="48.87" cy="585.18" r="1.6" fill="#1c4f8f"/>
<circle cx="47.88" cy="583.17" r="1.6" fill="#1c4f8f"/>
<circle cx="48.91" cy="583" r="1.6" fill="#1c4f8f"/>
<circle cx="46.42" cy="580" r="1.6" fill="#1c4f8f"/>
<rect x="54.15" y="596.3" width="6.6" height="13.2" fill="#fff" stroke="#d2405e" stroke-width="1"/>
<line x1="57.45" y1="590.3" x2="57.45" y2="602.3" stroke="#c8163e" stroke-width="0.9"/>
<line x1="55.32" y1="590.3" x2="59.58" y2="590.3" stroke="#c8163e" stroke-width="0.9"/>
<line x1="55.32" y1="602.3" x2="59.58" y2="602.3" stroke="#c8163e" stroke-width="0.9"/>
<path d="M55.25 606.37L57.01 609.56L53.49 609.56Z" fill="#c8163e"/>
<path d="M55.53 602.29L57.29 605.48L53.77 605.48Z" fill="#c8163e"/>
<path d="M59.23 599.17L60.99 602.37L57.47 602.37Z" fill="#c8163e"/>
<path d="M57.41 596.85L59.17 600.04L55.65 600.04Z" fill="#c8163e"/>
<path d="M57.96 595.07L59.72 598.27L56.2 598.27Z" fill="#c8163e"/>
<path d="M55.78 592.75L57.54 595.94L54.02 595.94Z" fill="#c8163e"/>
<path d="M58.3 592.46L60.06 595.65L56.54 595.65Z" fill="#c8163e"/>
<path d="M59.28 589.76L61.04 592.96L57.52 592.96Z" fill="#c8163e"/>
<path d="M56.07 587.36L57.83 590.55L54.31 590.55Z" fill="#c8163e"/>
<path d="M58.73 583.59L60.49 586.78L56.97 586.78Z" fill="#c8163e"/>
<rect x="68.3" y="585.5" width="6.6" height="24" fill="#fff" stroke="#3b6ea8" stroke-width="1"/>
<line x1="71.6" y1="580.7" x2="71.6" y2="590.3" stroke="#1c4f8f" stroke-width="0.9"/>
<line x1="69.47" y1="580.7" x2="73.73" y2="580.7" stroke="#1c4f8f" stroke-width="0.9"/>
<line x1="69.47" y1="590.3" x2="73.73" y2="590.3" stroke="#1c4f8f" stroke-width="0.9"/>
<circle cx="73.19" cy="576.38" r="1.6" fill="#1c4f8f"/>
<circle cx="73.84" cy="594" r="1.6" fill="#1c4f8f"/>
<circle cx="71.9" cy="588.89" r="1.6" fill="#1c4f8f"/>
<circle cx="72.26" cy="588.3" r="1.6" fill="#1c4f8f"/>
<circle cx="70.89" cy="584.51" r="1.6" fill="#1c4f8f"/>
<circle cx="72.88" cy="583.39" r="1.6" fill="#1c4f8f"/>
<circle cx="70.74" cy="581.37" r="1.6" fill="#1c4f8f"/>
<rect x="77.4" y="595.58" width="6.6" height="13.92" fill="#fff" stroke="#d2405e" stroke-width="1"/>
<line x1="80.7" y1="587.18" x2="80.7" y2="603.98" stroke="#c8163e" stroke-width="0.9"/>
<line x1="78.57" y1="587.18" x2="82.83" y2="587.18" stroke="#c8163e" stroke-width="0.9"/>
<line x1="78.57" y1="603.98" x2="82.83" y2="603.98" stroke="#c8163e" stroke-width="0.9"/>
<path d="M81.26 607.2L83.02 610.39L79.5 610.39Z" fill="#c8163e"/>
<path d="M81.28 601.69L83.04 604.88L79.52 604.88Z" fill="#c8163e"/>
<path d="M82.93 599.05L84.69 602.24L81.17 602.24Z" fill="#c8163e"/>
<path d="M82.01 595.53L83.77 598.72L80.25 598.72Z" fill="#c8163e"/>
<path d="M78.86 592.27L80.62 595.46L77.1 595.46Z" fill="#c8163e"/>
<path d="M79.23 589.9L80.99 593.09L77.47 593.09Z" fill="#c8163e"/>
<path d="M80.05 585.87L81.81 589.06L78.29 589.06Z" fill="#c8163e"/>
<path d="M80.23 578.65L81.99 581.84L78.47 581.84Z" fill="#c8163e"/>
<rect x="91.55" y="585.5" width="6.6" height="24" fill="#fff" stroke="#3b6ea8" stroke-width="1"/>
<line x1="94.85" y1="580.7" x2="94.85" y2="590.3" stroke="#1c4f8f" stroke-width="0.9"/>
<line x1="92.72" y1="580.7" x2="96.98" y2="580.7" stroke="#1c4f8f" stroke-width="0.9"/>
<line x1="92.72" y1="590.3" x2="96.98" y2="590.3" stroke="#1c4f8f" stroke-width="0.9"/>
<circle cx="95.84" cy="574.7" r="1.6" fill="#1c4f8f"/>
<circle cx="93.75" cy="594.14" r="1.6" fill="#1c4f8f"/>
<circle cx="95.12" cy="591.53" r="1.6" fill="#1c4f8f"/>
<circle cx="94.63" cy="589.19" r="1.6" fill="#1c4f8f"/>
<circle cx="93.96" cy="587.41" r="1.6" fill="#1c4f8f"/>
<circle cx="95.5" cy="584.62" r="1.6" fill="#1c4f8f"/>
<circle cx="94.55" cy="583.66" r="1.6" fill="#1c4f8f"/>
<circle cx="97.04" cy="581.25" r="1.6" fill="#1c4f8f"/>
<circle cx="93.16" cy="579.11" r="1.6" fill="#1c4f8f"/>
<rect x="100.65" y="596.3" width="6.6" height="13.2" fill="#fff" stroke="#d2405e" stroke-width="1"/>
<line x1="103.95" y1="586.7" x2="103.95" y2="605.9" stroke="#c8163e" stroke-width="0.9"/>
<line x1="101.82" y1="586.7" x2="106.08" y2="586.7" stroke="#c8163e" stroke-width="0.9"/>
<line x1="101.82" y1="605.9" x2="106.08" y2="605.9" stroke="#c8163e" stroke-width="0.9"/>
<path d="M105.77 607.2L107.53 610.39L104.01 610.39Z" fill="#c8163e"/>
<path d="M104.58 606.82L106.34 610.01L102.82 610.01Z" fill="#c8163e"/>
<path d="M103.76 601.38L105.52 604.57L102 604.57Z" fill="#c8163e"/>
<path d="M102.03 599.22L103.79 602.41L100.27 602.41Z" fill="#c8163e"/>
<path d="M104.62 596.33L106.38 599.52L102.86 599.52Z" fill="#c8163e"/>
<path d="M105.33 593.01L107.09 596.2L103.57 596.2Z" fill="#c8163e"/>
<path d="M103.27 589.57L105.03 592.76L101.51 592.76Z" fill="#c8163e"/>
<path d="M104.92 587.57L106.68 590.76L103.16 590.76Z" fill="#c8163e"/>
<path d="M104.09 582.84L105.85 586.04L102.33 586.04Z" fill="#c8163e"/>
<path d="M102.08 576.63L103.84 579.82L100.32 579.82Z" fill="#c8163e"/>
<rect x="114.8" y="585.5" width="6.6" height="24" fill="#fff" stroke="#3b6ea8" stroke-width="1"/>
<line x1="118.1" y1="581.9" x2="118.1" y2="589.1" stroke="#1c4f8f" stroke-width="0.9"/>
<line x1="115.97" y1="581.9" x2="120.23" y2="581.9" stroke="#1c4f8f" stroke-width="0.9"/>
<line x1="115.97" y1="589.1" x2="120.23" y2="589.1" stroke="#1c4f8f" stroke-width="0.9"/>
<circle cx="119.74" cy="579.5" r="1.6" fill="#1c4f8f"/>
<circle cx="117.24" cy="591.12" r="1.6" fill="#1c4f8f"/>
<circle cx="118.01" cy="587.92" r="1.6" fill="#1c4f8f"/>
<circle cx="119.29" cy="587.77" r="1.6" fill="#1c4f8f"/>
<circle cx="119.81" cy="585.09" r="1.6" fill="#1c4f8f"/>
<circle cx="119.71" cy="584.16" r="1.6" fill="#1c4f8f"/>
<circle cx="117.5" cy="582.31" r="1.6" fill="#1c4f8f"/>
<rect x="123.9" y="595.58" width="6.6" height="13.92" fill="#fff" stroke="#d2405e" stroke-width="1"/>
<line x1="127.2" y1="590.78" x2="127.2" y2="600.38" stroke="#c8163e" stroke-width="0.9"/>
<line x1="125.07" y1="590.78" x2="129.33" y2="590.78" stroke="#c8163e" stroke-width="0.9"/>
<line x1="125.07" y1="600.38" x2="129.33" y2="600.38" stroke="#c8163e" stroke-width="0.9"/>
<path d="M128.78 601.21L130.54 604.4L127.02 604.4Z" fill="#c8163e"/>
<path d="M125.62 598.09L127.38 601.28L123.86 601.28Z" fill="#c8163e"/>
<path d="M127.44 595.9L129.2 599.09L125.68 599.09Z" fill="#c8163e"/>
<path d="M126.89 593.48L128.65 596.67L125.13 596.67Z" fill="#c8163e"/>
<path d="M128.87 592.41L130.63 595.6L127.11 595.6Z" fill="#c8163e"/>
<path d="M128.21 588.67L129.97 591.86L126.45 591.86Z" fill="#c8163e"/>
<path d="M127.93 585.63L129.69 588.83L126.17 588.83Z" fill="#c8163e"/>
<rect x="138.05" y="585.5" width="6.6" height="24" fill="#fff" stroke="#3b6ea8" stroke-width="1"/>
<line x1="141.35" y1="573.5" x2="141.35" y2="597.5" stroke="#1c4f8f" stroke-width="0.9"/>
<line x1="139.22" y1="573.5" x2="143.48" y2="573.5" stroke="#1c4f8f" stroke-width="0.9"/>
<line x1="139.22" y1="597.5" x2="143.48" y2="597.5" stroke="#1c4f8f" stroke-width="0.9"/>
<circle cx="142.77" cy="556.7" r="1.6" fill="#1c4f8f"/>
<circle cx="140.66" cy="599.9" r="1.6" fill="#1c4f8f"/>
<circle cx="141.09" cy="596.43" r="1.6" fill="#1c4f8f"/>
<circle cx="139.54" cy="589.9" r="1.6" fill="#1c4f8f"/>
<circle cx="140.67" cy="585.68" r="1.6" fill="#1c4f8f"/>
<circle cx="139.98" cy="580.51" r="1.6" fill="#1c4f8f"/>
<circle cx="142.4" cy="572.45" r="1.6" fill="#1c4f8f"/>
<rect x="147.15" y="597.5" width="6.6" height="12" fill="#fff" stroke="#d2405e" stroke-width="1"/>
<line x1="150.45" y1="591.5" x2="150.45" y2="603.5" stroke="#c8163e" stroke-width="0.9"/>
<line x1="148.32" y1="591.5" x2="152.58" y2="591.5" stroke="#c8163e" stroke-width="0.9"/>
<line x1="148.32" y1="603.5" x2="152.58" y2="603.5" stroke="#c8163e" stroke-width="0.9"/>
<path d="M148.76 607.08L150.52 610.28L147 610.28Z" fill="#c8163e"/>
<path d="M152.34 603.28L154.1 606.47L150.58 606.47Z" fill="#c8163e"/>
<path d="M150.91 600.23L152.67 603.42L149.15 603.42Z" fill="#c8163e"/>
<path d="M150.2 597.68L151.96 600.87L148.44 600.87Z" fill="#c8163e"/>
<path d="M148.71 595.34L150.47 598.53L146.95 598.53Z" fill="#c8163e"/>
<path d="M150.21 594.56L151.97 597.75L148.45 597.75Z" fill="#c8163e"/>
<path d="M150.74 591.93L152.5 595.12L148.98 595.12Z" fill="#c8163e"/>
<path d="M148.83 588.56L150.59 591.76L147.07 591.76Z" fill="#c8163e"/>
<path d="M152.62 584.98L154.38 588.17L150.86 588.17Z" fill="#c8163e"/>
<rect x="161.3" y="585.5" width="6.6" height="24" fill="#fff" stroke="#3b6ea8" stroke-width="1"/>
<line x1="164.6" y1="568.7" x2="164.6" y2="602.3" stroke="#1c4f8f" stroke-width="0.9"/>
<line x1="162.47" y1="568.7" x2="166.73" y2="568.7" stroke="#1c4f8f" stroke-width="0.9"/>
<line x1="162.47" y1="602.3" x2="166.73" y2="602.3" stroke="#1c4f8f" stroke-width="0.9"/>
<circle cx="163.97" cy="549.5" r="1.6" fill="#1c4f8f"/>
<circle cx="164.3" cy="599.9" r="1.6" fill="#1c4f8f"/>
<circle cx="163.62" cy="599.9" r="1.6" fill="#1c4f8f"/>
<circle cx="164.02" cy="595.43" r="1.6" fill="#1c4f8f"/>
<circle cx="163.58" cy="588.12" r="1.6" fill="#1c4f8f"/>
<circle cx="166.21" cy="583.27" r="1.6" fill="#1c4f8f"/>
<circle cx="162.65" cy="575.99" r="1.6" fill="#1c4f8f"/>
<circle cx="163.98" cy="569.31" r="1.6" fill="#1c4f8f"/>
<rect x="170.4" y="599.42" width="6.6" height="10.08" fill="#fff" stroke="#d2405e" stroke-width="1"/>
<line x1="173.7" y1="597.02" x2="173.7" y2="601.82" stroke="#c8163e" stroke-width="0.9"/>
<line x1="171.57" y1="597.02" x2="175.83" y2="597.02" stroke="#c8163e" stroke-width="0.9"/>
<line x1="171.57" y1="601.82" x2="175.83" y2="601.82" stroke="#c8163e" stroke-width="0.9"/>
<path d="M174.14 601.92L175.9 605.11L172.38 605.11Z" fill="#c8163e"/>
<path d="M173.61 599.77L175.37 602.96L171.85 602.96Z" fill="#c8163e"/>
<path d="M172.9 600.27L174.66 603.46L171.14 603.46Z" fill="#c8163e"/>
<path d="M173.63 599.29L175.39 602.48L171.87 602.48Z" fill="#c8163e"/>
<path d="M171.71 598.22L173.47 601.42L169.95 601.42Z" fill="#c8163e"/>
<path d="M172.82 597.92L174.58 601.11L171.06 601.11Z" fill="#c8163e"/>
<path d="M173.4 596.64L175.16 599.83L171.64 599.83Z" fill="#c8163e"/>
<path d="M174.92 595.61L176.68 598.8L173.16 598.8Z" fill="#c8163e"/>
<path d="M173.38 595.13L175.14 598.33L171.62 598.33Z" fill="#c8163e"/>
<path d="M173.31 592.28L175.07 595.47L171.55 595.47Z" fill="#c8163e"/>
<rect x="184.55" y="585.5" width="6.6" height="24" fill="#fff" stroke="#3b6ea8" stroke-width="1"/>
<line x1="187.85" y1="580.7" x2="187.85" y2="590.3" stroke="#1c4f8f" stroke-width="0.9"/>
<line x1="185.72" y1="580.7" x2="189.98" y2="580.7" stroke="#1c4f8f" stroke-width="0.9"/>
<line x1="185.72" y1="590.3" x2="189.98" y2="590.3" stroke="#1c4f8f" stroke-width="0.9"/>
<circle cx="188.55" cy="580.7" r="1.6" fill="#1c4f8f"/>
<circle cx="186.83" cy="593.03" r="1.6" fill="#1c4f8f"/>
<circle cx="188.08" cy="591.98" r="1.6" fill="#1c4f8f"/>
<circle cx="186.46" cy="589.35" r="1.6" fill="#1c4f8f"/>
<circle cx="188.38" cy="587.36" r="1.6" fill="#1c4f8f"/>
<circle cx="188.03" cy="585.4" r="1.6" fill="#1c4f8f"/>
<circle cx="188.55" cy="584.79" r="1.6" fill="#1c4f8f"/>
<circle cx="189.56" cy="582.77" r="1.6" fill="#1c4f8f"/>
<circle cx="189.2" cy="582.24" r="1.6" fill="#1c4f8f"/>
<circle cx="190.08" cy="580.7" r="1.6" fill="#1c4f8f"/>
<rect x="193.65" y="593.9" width="6.6" height="15.6" fill="#fff" stroke="#d2405e" stroke-width="1"/>
<line x1="196.95" y1="586.7" x2="196.95" y2="601.1" stroke="#c8163e" stroke-width="0.9"/>
<line x1="194.82" y1="586.7" x2="199.08" y2="586.7" stroke="#c8163e" stroke-width="0.9"/>
<line x1="194.82" y1="601.1" x2="199.08" y2="601.1" stroke="#c8163e" stroke-width="0.9"/>
<path d="M195.73 605.13L197.49 608.32L193.97 608.32Z" fill="#c8163e"/>
<path d="M199.02 600.47L200.78 603.66L197.26 603.66Z" fill="#c8163e"/>
<path d="M196.7 598.58L198.46 601.77L194.94 601.77Z" fill="#c8163e"/>
<path d="M196.34 594.97L198.1 598.16L194.58 598.16Z" fill="#c8163e"/>
<path d="M196.74 594.08L198.5 597.27L194.98 597.27Z" fill="#c8163e"/>
<path d="M198.87 591.41L200.63 594.61L197.11 594.61Z" fill="#c8163e"/>
<path d="M199.02 589.63L200.78 592.82L197.26 592.82Z" fill="#c8163e"/>
<path d="M198.34 585.99L200.1 589.18L196.58 589.18Z" fill="#c8163e"/>
<path d="M196.04 584.13L197.8 587.32L194.28 587.32Z" fill="#c8163e"/>
<path d="M195.21 578.04L196.97 581.23L193.45 581.23Z" fill="#c8163e"/>
<line x1="40.5" y1="535.2" x2="40.5" y2="610" stroke="#222" stroke-width="1"/>
<line x1="37.3" y1="609.5" x2="40" y2="609.5" stroke="#333" stroke-width="1"/>
<text x="33.3" y="612.38" font-size="8" text-anchor="end" fill="#2a2a2a">0.0</text>
<line x1="37.3" y1="585.5" x2="40" y2="585.5" stroke="#333" stroke-width="1"/>
<text x="33.3" y="588.38" font-size="8" text-anchor="end" fill="#2a2a2a">1.0</text>
<line x1="37.3" y1="561.5" x2="40" y2="561.5" stroke="#333" stroke-width="1"/>
<text x="33.3" y="564.38" font-size="8" text-anchor="end" fill="#2a2a2a">2.0</text>
<line x1="37.3" y1="537.5" x2="40" y2="537.5" stroke="#333" stroke-width="1"/>
<text x="33.3" y="540.38" font-size="8" text-anchor="end" fill="#2a2a2a">3.0</text>
<line x1="39.5" y1="609.5" x2="205.7" y2="609.5" stroke="#333" stroke-width="1"/>
<path d="M48.3 545V543H57.5V557.5" fill="none" stroke="#444" stroke-width="1"/>
<path d="M51.15 537.95L51.15 540.25M50.15 538.52L52.15 539.68M52.15 538.52L50.15 539.68M54.65 537.95L54.65 540.25M53.65 538.52L55.65 539.68M55.65 538.52L53.65 539.68" stroke="#222" stroke-width="0.8" fill="none"/>
<path d="M71.55 545V543H80.75V557.5" fill="none" stroke="#444" stroke-width="1"/>
<path d="M76.15 537.95L76.15 540.25M75.15 538.52L77.15 539.68M77.15 538.52L75.15 539.68" stroke="#222" stroke-width="0.8" fill="none"/>
<path d="M94.8 545V543H104V557.5" fill="none" stroke="#444" stroke-width="1"/>
<path d="M99.4 537.95L99.4 540.25M98.4 538.52L100.4 539.68M100.4 538.52L98.4 539.68" stroke="#222" stroke-width="0.8" fill="none"/>
<path d="M118.05 545V543H127.25V557.5" fill="none" stroke="#444" stroke-width="1"/>
<path d="M120.9 537.95L120.9 540.25M119.9 538.52L121.9 539.68M121.9 538.52L119.9 539.68M124.4 537.95L124.4 540.25M123.4 538.52L125.4 539.68M125.4 538.52L123.4 539.68" stroke="#222" stroke-width="0.8" fill="none"/>
<path d="M141.3 545V543H150.5V557.5" fill="none" stroke="#444" stroke-width="1"/>
<path d="M145.9 537.95L145.9 540.25M144.9 538.52L146.9 539.68M146.9 538.52L144.9 539.68" stroke="#222" stroke-width="0.8" fill="none"/>
<path d="M164.55 545V543H173.75V557.5" fill="none" stroke="#444" stroke-width="1"/>
<path d="M169.15 537.95L169.15 540.25M168.15 538.52L170.15 539.68M170.15 538.52L168.15 539.68" stroke="#222" stroke-width="0.8" fill="none"/>
<line x1="40" y1="609.8" x2="205.7" y2="609.8" stroke="#111" stroke-width="1.6"/>
<line x1="42.4" y1="613.3" x2="56.8" y2="613.3" stroke="#333" stroke-width="0.9"/>
<line x1="65.65" y1="613.3" x2="80.05" y2="613.3" stroke="#333" stroke-width="0.9"/>
<line x1="88.9" y1="613.3" x2="103.3" y2="613.3" stroke="#333" stroke-width="0.9"/>
<line x1="112.15" y1="613.3" x2="126.55" y2="613.3" stroke="#333" stroke-width="0.9"/>
<line x1="135.4" y1="613.3" x2="149.8" y2="613.3" stroke="#333" stroke-width="0.9"/>
<line x1="158.65" y1="613.3" x2="173.05" y2="613.3" stroke="#333" stroke-width="0.9"/>
<line x1="181.9" y1="613.3" x2="196.3" y2="613.3" stroke="#333" stroke-width="0.9"/>
<path d="M187.8 545V543H197V557.5" fill="none" stroke="#444" stroke-width="0.9"/>
<text x="176.2" y="540.8" font-size="7.4" fill="#2a2a2a" textLength="29.6" lengthAdjust="spacingAndGlyphs"><tspan font-style="italic">P</tspan> = 0.07</text>
<rect x="243.75" y="580.7" width="6.6" height="28.8" fill="#fff" stroke="#3b6ea8" stroke-width="1"/>
<line x1="247.05" y1="573.5" x2="247.05" y2="587.9" stroke="#1c4f8f" stroke-width="0.9"/>
<line x1="244.92" y1="573.5" x2="249.18" y2="573.5" stroke="#1c4f8f" stroke-width="0.9"/>
<line x1="244.92" y1="587.9" x2="249.18" y2="587.9" stroke="#1c4f8f" stroke-width="0.9"/>
<circle cx="246.7" cy="563.42" r="1.6" fill="#1c4f8f"/>
<circle cx="248.38" cy="594.16" r="1.6" fill="#1c4f8f"/>
<circle cx="245.37" cy="588.19" r="1.6" fill="#1c4f8f"/>
<circle cx="247.26" cy="586.4" r="1.6" fill="#1c4f8f"/>
<circle cx="246.84" cy="583.56" r="1.6" fill="#1c4f8f"/>
<circle cx="247.62" cy="577.84" r="1.6" fill="#1c4f8f"/>
<circle cx="245.83" cy="576.72" r="1.6" fill="#1c4f8f"/>
<circle cx="247.24" cy="573.95" r="1.6" fill="#1c4f8f"/>
<rect x="252.85" y="592.51" width="6.6" height="16.99" fill="#fff" stroke="#d2405e" stroke-width="1"/>
<line x1="256.15" y1="588.19" x2="256.15" y2="596.83" stroke="#c8163e" stroke-width="0.9"/>
<line x1="254.02" y1="588.19" x2="258.28" y2="588.19" stroke="#c8163e" stroke-width="0.9"/>
<line x1="254.02" y1="596.83" x2="258.28" y2="596.83" stroke="#c8163e" stroke-width="0.9"/>
<path d="M258.36 598.39L260.12 601.58L256.6 601.58Z" fill="#c8163e"/>
<path d="M254.34 596.02L256.1 599.21L252.58 599.21Z" fill="#c8163e"/>
<path d="M258.3 592.39L260.06 595.58L256.54 595.58Z" fill="#c8163e"/>
<path d="M258.28 591.4L260.04 594.59L256.52 594.59Z" fill="#c8163e"/>
<path d="M255.91 589.64L257.67 592.84L254.15 592.84Z" fill="#c8163e"/>
<path d="M254.24 587.27L256 590.46L252.48 590.46Z" fill="#c8163e"/>
<path d="M256.13 587.14L257.89 590.33L254.37 590.33Z" fill="#c8163e"/>
<path d="M258.26 583.72L260.02 586.91L256.5 586.91Z" fill="#c8163e"/>
<rect x="266.98" y="580.7" width="6.6" height="28.8" fill="#fff" stroke="#3b6ea8" stroke-width="1"/>
<line x1="270.28" y1="573.5" x2="270.28" y2="587.9" stroke="#1c4f8f" stroke-width="0.9"/>
<line x1="268.15" y1="573.5" x2="272.41" y2="573.5" stroke="#1c4f8f" stroke-width="0.9"/>
<line x1="268.15" y1="587.9" x2="272.41" y2="587.9" stroke="#1c4f8f" stroke-width="0.9"/>
<circle cx="268" cy="563.42" r="1.6" fill="#1c4f8f"/>
<circle cx="271.43" cy="596.07" r="1.6" fill="#1c4f8f"/>
<circle cx="271.56" cy="589.78" r="1.6" fill="#1c4f8f"/>
<circle cx="268.53" cy="585.55" r="1.6" fill="#1c4f8f"/>
<circle cx="270.75" cy="582.91" r="1.6" fill="#1c4f8f"/>
<circle cx="268.68" cy="580.64" r="1.6" fill="#1c4f8f"/>
<circle cx="268.45" cy="578.18" r="1.6" fill="#1c4f8f"/>
<circle cx="270.38" cy="578.26" r="1.6" fill="#1c4f8f"/>
<circle cx="269.36" cy="575.92" r="1.6" fill="#1c4f8f"/>
<circle cx="271.01" cy="570.33" r="1.6" fill="#1c4f8f"/>
<rect x="276.08" y="587.61" width="6.6" height="21.89" fill="#fff" stroke="#d2405e" stroke-width="1"/>
<line x1="279.38" y1="580.41" x2="279.38" y2="594.81" stroke="#c8163e" stroke-width="0.9"/>
<line x1="277.25" y1="580.41" x2="281.51" y2="580.41" stroke="#c8163e" stroke-width="0.9"/>
<line x1="277.25" y1="594.81" x2="281.51" y2="594.81" stroke="#c8163e" stroke-width="0.9"/>
<path d="M279.5 598.5L281.26 601.69L277.74 601.69Z" fill="#c8163e"/>
<path d="M278.15 592.29L279.91 595.48L276.39 595.48Z" fill="#c8163e"/>
<path d="M281.29 588.89L283.05 592.08L279.53 592.08Z" fill="#c8163e"/>
<path d="M277.13 584.7L278.89 587.89L275.37 587.89Z" fill="#c8163e"/>
<path d="M280.76 582.89L282.52 586.08L279 586.08Z" fill="#c8163e"/>
<path d="M278.39 580.07L280.15 583.27L276.63 583.27Z" fill="#c8163e"/>
<path d="M281.2 574.34L282.96 577.53L279.44 577.53Z" fill="#c8163e"/>
<rect x="290.21" y="580.7" width="6.6" height="28.8" fill="#fff" stroke="#3b6ea8" stroke-width="1"/>
<line x1="293.51" y1="574.94" x2="293.51" y2="586.46" stroke="#1c4f8f" stroke-width="0.9"/>
<line x1="291.38" y1="574.94" x2="295.64" y2="574.94" stroke="#1c4f8f" stroke-width="0.9"/>
<line x1="291.38" y1="586.46" x2="295.64" y2="586.46" stroke="#1c4f8f" stroke-width="0.9"/>
<circle cx="294" cy="567.74" r="1.6" fill="#1c4f8f"/>
<circle cx="293.32" cy="592.2" r="1.6" fill="#1c4f8f"/>
<circle cx="292.22" cy="585.42" r="1.6" fill="#1c4f8f"/>
<circle cx="295.14" cy="584.4" r="1.6" fill="#1c4f8f"/>
<circle cx="295.14" cy="581.12" r="1.6" fill="#1c4f8f"/>
<circle cx="295.61" cy="579.44" r="1.6" fill="#1c4f8f"/>
<circle cx="293.92" cy="576.33" r="1.6" fill="#1c4f8f"/>
<circle cx="295.45" cy="574.68" r="1.6" fill="#1c4f8f"/>
<rect x="299.31" y="591.36" width="6.6" height="18.14" fill="#fff" stroke="#d2405e" stroke-width="1"/>
<line x1="302.61" y1="587.04" x2="302.61" y2="595.68" stroke="#c8163e" stroke-width="0.9"/>
<line x1="300.48" y1="587.04" x2="304.74" y2="587.04" stroke="#c8163e" stroke-width="0.9"/>
<line x1="300.48" y1="595.68" x2="304.74" y2="595.68" stroke="#c8163e" stroke-width="0.9"/>
<path d="M304.41 598.24L306.17 601.43L302.65 601.43Z" fill="#c8163e"/>
<path d="M303.37 593.81L305.13 597L301.61 597Z" fill="#c8163e"/>
<path d="M301.87 591.15L303.63 594.34L300.11 594.34Z" fill="#c8163e"/>
<path d="M303.08 590.52L304.84 593.71L301.32 593.71Z" fill="#c8163e"/>
<path d="M301.89 588L303.65 591.19L300.13 591.19Z" fill="#c8163e"/>
<path d="M304.04 587.23L305.8 590.42L302.28 590.42Z" fill="#c8163e"/>
<path d="M302.85 585.45L304.61 588.64L301.09 588.64Z" fill="#c8163e"/>
<path d="M304.28 582.24L306.04 585.43L302.52 585.43Z" fill="#c8163e"/>
<rect x="313.44" y="580.7" width="6.6" height="28.8" fill="#fff" stroke="#3b6ea8" stroke-width="1"/>
<line x1="316.74" y1="572.06" x2="316.74" y2="589.34" stroke="#1c4f8f" stroke-width="0.9"/>
<line x1="314.61" y1="572.06" x2="318.87" y2="572.06" stroke="#1c4f8f" stroke-width="0.9"/>
<line x1="314.61" y1="589.34" x2="318.87" y2="589.34" stroke="#1c4f8f" stroke-width="0.9"/>
<circle cx="318.53" cy="563.42" r="1.6" fill="#1c4f8f"/>
<circle cx="317.9" cy="596.2" r="1.6" fill="#1c4f8f"/>
<circle cx="315.39" cy="589.51" r="1.6" fill="#1c4f8f"/>
<circle cx="315.99" cy="585.11" r="1.6" fill="#1c4f8f"/>
<circle cx="314.85" cy="582.53" r="1.6" fill="#1c4f8f"/>
<circle cx="315.99" cy="580.62" r="1.6" fill="#1c4f8f"/>
<circle cx="315.18" cy="574.99" r="1.6" fill="#1c4f8f"/>
<circle cx="315.83" cy="573.34" r="1.6" fill="#1c4f8f"/>
<rect x="322.54" y="598.27" width="6.6" height="11.23" fill="#fff" stroke="#d2405e" stroke-width="1"/>
<line x1="325.84" y1="592.51" x2="325.84" y2="604.03" stroke="#c8163e" stroke-width="0.9"/>
<line x1="323.71" y1="592.51" x2="327.97" y2="592.51" stroke="#c8163e" stroke-width="0.9"/>
<line x1="323.71" y1="604.03" x2="327.97" y2="604.03" stroke="#c8163e" stroke-width="0.9"/>
<path d="M327.18 606.97L328.94 610.17L325.42 610.17Z" fill="#c8163e"/>
<path d="M324.11 602.2L325.87 605.39L322.35 605.39Z" fill="#c8163e"/>
<path d="M327.74 601.4L329.5 604.59L325.98 604.59Z" fill="#c8163e"/>
<path d="M327.76 599.53L329.52 602.72L326 602.72Z" fill="#c8163e"/>
<path d="M327.08 597.67L328.84 600.86L325.32 600.86Z" fill="#c8163e"/>
<path d="M324.65 595.51L326.41 598.71L322.89 598.71Z" fill="#c8163e"/>
<path d="M324.88 592.79L326.64 595.98L323.12 595.98Z" fill="#c8163e"/>
<path d="M325.65 592.79L327.41 595.99L323.89 595.99Z" fill="#c8163e"/>
<path d="M326.38 590.17L328.14 593.36L324.62 593.36Z" fill="#c8163e"/>
<path d="M327.78 584.64L329.54 587.83L326.02 587.83Z" fill="#c8163e"/>
<rect x="336.67" y="580.7" width="6.6" height="28.8" fill="#fff" stroke="#3b6ea8" stroke-width="1"/>
<line x1="339.97" y1="572.06" x2="339.97" y2="589.34" stroke="#1c4f8f" stroke-width="0.9"/>
<line x1="337.84" y1="572.06" x2="342.1" y2="572.06" stroke="#1c4f8f" stroke-width="0.9"/>
<line x1="337.84" y1="589.34" x2="342.1" y2="589.34" stroke="#1c4f8f" stroke-width="0.9"/>
<circle cx="337.78" cy="559.1" r="1.6" fill="#1c4f8f"/>
<circle cx="338.08" cy="597.98" r="1.6" fill="#1c4f8f"/>
<circle cx="341.44" cy="591.06" r="1.6" fill="#1c4f8f"/>
<circle cx="337.79" cy="588.84" r="1.6" fill="#1c4f8f"/>
<circle cx="341.77" cy="585.27" r="1.6" fill="#1c4f8f"/>
<circle cx="338.54" cy="579.95" r="1.6" fill="#1c4f8f"/>
<circle cx="342.14" cy="576.29" r="1.6" fill="#1c4f8f"/>
<circle cx="339.84" cy="573.44" r="1.6" fill="#1c4f8f"/>
<circle cx="340.45" cy="569.8" r="1.6" fill="#1c4f8f"/>
<rect x="345.77" y="595.1" width="6.6" height="14.4" fill="#fff" stroke="#d2405e" stroke-width="1"/>
<line x1="349.07" y1="589.34" x2="349.07" y2="600.86" stroke="#c8163e" stroke-width="0.9"/>
<line x1="346.94" y1="589.34" x2="351.2" y2="589.34" stroke="#c8163e" stroke-width="0.9"/>
<line x1="346.94" y1="600.86" x2="351.2" y2="600.86" stroke="#c8163e" stroke-width="0.9"/>
<path d="M350.55 604.75L352.31 607.94L348.79 607.94Z" fill="#c8163e"/>
<path d="M350.54 599.62L352.3 602.81L348.78 602.81Z" fill="#c8163e"/>
<path d="M348.68 598.08L350.44 601.27L346.92 601.27Z" fill="#c8163e"/>
<path d="M348.89 595.55L350.65 598.74L347.13 598.74Z" fill="#c8163e"/>
<path d="M350.39 594.35L352.15 597.54L348.63 597.54Z" fill="#c8163e"/>
<path d="M347.96 591.37L349.72 594.56L346.2 594.56Z" fill="#c8163e"/>
<path d="M348.18 589.45L349.94 592.64L346.42 592.64Z" fill="#c8163e"/>
<path d="M350.76 587.36L352.52 590.56L349 590.56Z" fill="#c8163e"/>
<path d="M350.81 583.36L352.57 586.56L349.05 586.56Z" fill="#c8163e"/>
<rect x="359.9" y="580.7" width="6.6" height="28.8" fill="#fff" stroke="#3b6ea8" stroke-width="1"/>
<line x1="363.2" y1="570.62" x2="363.2" y2="590.78" stroke="#1c4f8f" stroke-width="0.9"/>
<line x1="361.07" y1="570.62" x2="365.33" y2="570.62" stroke="#1c4f8f" stroke-width="0.9"/>
<line x1="361.07" y1="590.78" x2="365.33" y2="590.78" stroke="#1c4f8f" stroke-width="0.9"/>
<circle cx="364.69" cy="564.86" r="1.6" fill="#1c4f8f"/>
<circle cx="362.49" cy="597.98" r="1.6" fill="#1c4f8f"/>
<circle cx="362.48" cy="590.55" r="1.6" fill="#1c4f8f"/>
<circle cx="361.4" cy="583.37" r="1.6" fill="#1c4f8f"/>
<circle cx="364.72" cy="582.04" r="1.6" fill="#1c4f8f"/>
<circle cx="361.14" cy="576.02" r="1.6" fill="#1c4f8f"/>
<circle cx="361.76" cy="572.05" r="1.6" fill="#1c4f8f"/>
<rect x="369" y="597.69" width="6.6" height="11.81" fill="#fff" stroke="#d2405e" stroke-width="1"/>
<line x1="372.3" y1="591.93" x2="372.3" y2="603.45" stroke="#c8163e" stroke-width="0.9"/>
<line x1="370.17" y1="591.93" x2="374.43" y2="591.93" stroke="#c8163e" stroke-width="0.9"/>
<line x1="370.17" y1="603.45" x2="374.43" y2="603.45" stroke="#c8163e" stroke-width="0.9"/>
<path d="M370.13 605.83L371.89 609.02L368.37 609.02Z" fill="#c8163e"/>
<path d="M372.11 602.19L373.87 605.39L370.35 605.39Z" fill="#c8163e"/>
<path d="M374.56 598L376.32 601.19L372.8 601.19Z" fill="#c8163e"/>
<path d="M370.34 596.2L372.1 599.39L368.58 599.39Z" fill="#c8163e"/>
<path d="M371.17 595.05L372.93 598.24L369.41 598.24Z" fill="#c8163e"/>
<path d="M371.24 592.79L373 595.98L369.48 595.98Z" fill="#c8163e"/>
<path d="M373.22 589.03L374.98 592.22L371.46 592.22Z" fill="#c8163e"/>
<path d="M371.65 586.5L373.41 589.69L369.89 589.69Z" fill="#c8163e"/>
<rect x="383.13" y="580.7" width="6.6" height="28.8" fill="#fff" stroke="#3b6ea8" stroke-width="1"/>
<line x1="386.43" y1="564.86" x2="386.43" y2="596.54" stroke="#1c4f8f" stroke-width="0.9"/>
<line x1="384.3" y1="564.86" x2="388.56" y2="564.86" stroke="#1c4f8f" stroke-width="0.9"/>
<line x1="384.3" y1="596.54" x2="388.56" y2="596.54" stroke="#1c4f8f" stroke-width="0.9"/>
<circle cx="384.94" cy="547.58" r="1.6" fill="#1c4f8f"/>
<circle cx="387.3" cy="597.98" r="1.6" fill="#1c4f8f"/>
<circle cx="388.26" cy="594.24" r="1.6" fill="#1c4f8f"/>
<circle cx="384.9" cy="588.26" r="1.6" fill="#1c4f8f"/>
<circle cx="384.44" cy="581.42" r="1.6" fill="#1c4f8f"/>
<circle cx="386.01" cy="574.74" r="1.6" fill="#1c4f8f"/>
<circle cx="388.41" cy="567.7" r="1.6" fill="#1c4f8f"/>
<rect x="392.23" y="597.69" width="6.6" height="11.81" fill="#fff" stroke="#d2405e" stroke-width="1"/>
<line x1="395.53" y1="593.37" x2="395.53" y2="602.01" stroke="#c8163e" stroke-width="0.9"/>
<line x1="393.4" y1="593.37" x2="397.66" y2="593.37" stroke="#c8163e" stroke-width="0.9"/>
<line x1="393.4" y1="602.01" x2="397.66" y2="602.01" stroke="#c8163e" stroke-width="0.9"/>
<path d="M393.52 604.44L395.28 607.64L391.76 607.64Z" fill="#c8163e"/>
<path d="M393.88 599.79L395.64 602.98L392.12 602.98Z" fill="#c8163e"/>
<path d="M396.19 598.48L397.95 601.67L394.43 601.67Z" fill="#c8163e"/>
<path d="M396.72 596.09L398.48 599.29L394.96 599.29Z" fill="#c8163e"/>
<path d="M395.31 595.34L397.07 598.53L393.55 598.53Z" fill="#c8163e"/>
<path d="M393.46 592.42L395.22 595.61L391.7 595.61Z" fill="#c8163e"/>
<path d="M395.76 592.05L397.52 595.24L394 595.24Z" fill="#c8163e"/>
<path d="M393.7 588.22L395.46 591.41L391.94 591.41Z" fill="#c8163e"/>
<line x1="239.5" y1="535.2" x2="239.5" y2="610" stroke="#222" stroke-width="1"/>
<line x1="236.8" y1="609.5" x2="239.5" y2="609.5" stroke="#333" stroke-width="1"/>
<text x="232.8" y="612.38" font-size="8" text-anchor="end" fill="#2a2a2a">0.0</text>
<line x1="236.8" y1="595.1" x2="239.5" y2="595.1" stroke="#333" stroke-width="1"/>
<text x="232.8" y="597.98" font-size="8" text-anchor="end" fill="#2a2a2a">0.5</text>
<line x1="236.8" y1="580.7" x2="239.5" y2="580.7" stroke="#333" stroke-width="1"/>
<text x="232.8" y="583.58" font-size="8" text-anchor="end" fill="#2a2a2a">1.0</text>
<line x1="236.8" y1="566.3" x2="239.5" y2="566.3" stroke="#333" stroke-width="1"/>
<text x="232.8" y="569.18" font-size="8" text-anchor="end" fill="#2a2a2a">1.5</text>
<line x1="236.8" y1="551.9" x2="239.5" y2="551.9" stroke="#333" stroke-width="1"/>
<text x="232.8" y="554.78" font-size="8" text-anchor="end" fill="#2a2a2a">2.0</text>
<line x1="236.8" y1="537.5" x2="239.5" y2="537.5" stroke="#333" stroke-width="1"/>
<text x="232.8" y="540.38" font-size="8" text-anchor="end" fill="#2a2a2a">2.5</text>
<line x1="239" y1="609.5" x2="403.8" y2="609.5" stroke="#333" stroke-width="1"/>
<path d="M247 549.5V547.5H256.2V557" fill="none" stroke="#444" stroke-width="1"/>
<path d="M248.1 542.45L248.1 544.75M247.1 543.02L249.1 544.18M249.1 543.02L247.1 544.18M251.6 542.45L251.6 544.75M250.6 543.02L252.6 544.18M252.6 543.02L250.6 544.18M255.1 542.45L255.1 544.75M254.1 543.02L256.1 544.18M256.1 543.02L254.1 544.18" stroke="#222" stroke-width="0.8" fill="none"/>
<path d="M270.23 549.5V547.5H279.43V557" fill="none" stroke="#444" stroke-width="1"/>
<path d="M274.83 542.45L274.83 544.75M273.83 543.02L275.83 544.18M275.83 543.02L273.83 544.18" stroke="#222" stroke-width="0.8" fill="none"/>
<path d="M293.46 549.5V547.5H302.66V557" fill="none" stroke="#444" stroke-width="1"/>
<path d="M294.56 542.45L294.56 544.75M293.56 543.02L295.56 544.18M295.56 543.02L293.56 544.18M298.06 542.45L298.06 544.75M297.06 543.02L299.06 544.18M299.06 543.02L297.06 544.18M301.56 542.45L301.56 544.75M300.56 543.02L302.56 544.18M302.56 543.02L300.56 544.18" stroke="#222" stroke-width="0.8" fill="none"/>
<path d="M316.69 549.3V547.3H325.89V556.8" fill="none" stroke="#444" stroke-width="1"/>
<path d="M319.54 542.25L319.54 544.55M318.54 542.82L320.54 543.98M320.54 542.82L318.54 543.98M323.04 542.25L323.04 544.55M322.04 542.82L324.04 543.98M324.04 542.82L322.04 543.98" stroke="#222" stroke-width="0.8" fill="none"/>
<path d="M339.92 549.3V547.3H349.12V556.8" fill="none" stroke="#444" stroke-width="1"/>
<path d="M342.77 542.25L342.77 544.55M341.77 542.82L343.77 543.98M343.77 542.82L341.77 543.98M346.27 542.25L346.27 544.55M345.27 542.82L347.27 543.98M347.27 542.82L345.27 543.98" stroke="#222" stroke-width="0.8" fill="none"/>
<path d="M363.15 549.3V547.3H372.35V556.8" fill="none" stroke="#444" stroke-width="1"/>
<path d="M364.25 542.25L364.25 544.55M363.25 542.82L365.25 543.98M365.25 542.82L363.25 543.98M367.75 542.25L367.75 544.55M366.75 542.82L368.75 543.98M368.75 542.82L366.75 543.98M371.25 542.25L371.25 544.55M370.25 542.82L372.25 543.98M372.25 542.82L370.25 543.98" stroke="#222" stroke-width="0.8" fill="none"/>
<path d="M386.38 542.2V540.2H395.58V549.7" fill="none" stroke="#444" stroke-width="1"/>
<path d="M390.98 535.15L390.98 537.45M389.98 535.73L391.98 536.88M391.98 535.73L389.98 536.88" stroke="#222" stroke-width="0.8" fill="none"/>
<line x1="239.5" y1="609.8" x2="403.8" y2="609.8" stroke="#111" stroke-width="1.6"/>
<line x1="243.3" y1="613.4" x2="259" y2="613.4" stroke="#333" stroke-width="0.9"/>
<line x1="266.53" y1="613.4" x2="282.23" y2="613.4" stroke="#333" stroke-width="0.9"/>
<line x1="289.76" y1="613.4" x2="305.46" y2="613.4" stroke="#333" stroke-width="0.9"/>
<line x1="312.99" y1="613.4" x2="328.69" y2="613.4" stroke="#333" stroke-width="0.9"/>
<line x1="336.22" y1="613.4" x2="351.92" y2="613.4" stroke="#333" stroke-width="0.9"/>
<line x1="359.45" y1="613.4" x2="375.15" y2="613.4" stroke="#333" stroke-width="0.9"/>
<line x1="382.68" y1="613.4" x2="398.38" y2="613.4" stroke="#333" stroke-width="0.9"/>
<text x="16.6" y="382.5" font-size="8.2" text-anchor="middle" fill="#2a2a2a" transform="rotate(-90 16.6 382.5)" textLength="69.6" lengthAdjust="spacingAndGlyphs">Relative cell number</text>
<text x="16.6" y="477.7" font-size="8.2" text-anchor="middle" fill="#2a2a2a" transform="rotate(-90 16.6 477.7)" textLength="69.6" lengthAdjust="spacingAndGlyphs">Relative cell number</text>
<text x="16.6" y="573.5" font-size="8.2" text-anchor="middle" fill="#2a2a2a" transform="rotate(-90 16.6 573.5)" textLength="69.6" lengthAdjust="spacingAndGlyphs">Relative cell number</text>
<text x="52.6" y="619.6" font-size="8" text-anchor="end" fill="#2a2a2a" transform="rotate(-60 52.6 619.6)">CD45</text>
<text x="75.85" y="619.6" font-size="8" text-anchor="end" fill="#2a2a2a" transform="rotate(-60 75.85 619.6)">CD4</text>
<text x="99.1" y="619.6" font-size="8" text-anchor="end" fill="#2a2a2a" transform="rotate(-60 99.1 619.6)">CD8</text>
<text x="122.35" y="619.6" font-size="8" text-anchor="end" fill="#2a2a2a" transform="rotate(-60 122.35 619.6)">Neutrophil</text>
<text x="145.6" y="619.6" font-size="8" text-anchor="end" fill="#2a2a2a" transform="rotate(-60 145.6 619.6)">DC</text>
<text x="168.85" y="619.6" font-size="8" text-anchor="end" fill="#2a2a2a" transform="rotate(-60 168.85 619.6)">Macrophage</text>
<text x="192.1" y="619.6" font-size="8" text-anchor="end" fill="#2a2a2a" transform="rotate(-60 192.1 619.6)">NK</text>
<text x="256" y="619.6" font-size="8" text-anchor="end" fill="#2a2a2a" transform="rotate(-60 256 619.6)">CD45</text>
<text x="279.23" y="619.6" font-size="8" text-anchor="end" fill="#2a2a2a" transform="rotate(-60 279.23 619.6)">CD4</text>
<text x="302.46" y="619.6" font-size="8" text-anchor="end" fill="#2a2a2a" transform="rotate(-60 302.46 619.6)">CD8</text>
<text x="325.69" y="619.6" font-size="8" text-anchor="end" fill="#2a2a2a" transform="rotate(-60 325.69 619.6)">Neutrophil</text>
<text x="348.92" y="619.6" font-size="8" text-anchor="end" fill="#2a2a2a" transform="rotate(-60 348.92 619.6)">DC</text>
<text x="372.15" y="619.6" font-size="8" text-anchor="end" fill="#2a2a2a" transform="rotate(-60 372.15 619.6)">Macrophage</text>
<text x="395.38" y="619.6" font-size="8" text-anchor="end" fill="#2a2a2a" transform="rotate(-60 395.38 619.6)">NK</text>
</svg>
</body></html>
